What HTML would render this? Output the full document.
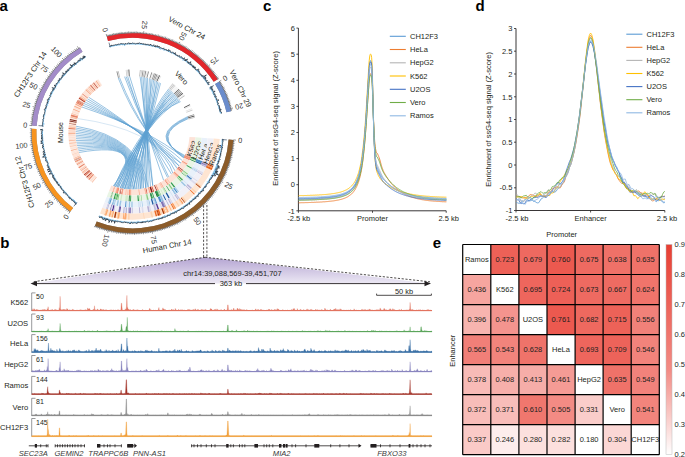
<!DOCTYPE html><html><head><meta charset="utf-8"><style>html,body{margin:0;padding:0;background:#fff;overflow:hidden}svg{display:block}text{font-family:"Liberation Sans",sans-serif}</style></head><body>
<svg width="685" height="457" viewBox="0 0 685 457">
<rect width="685" height="457" fill="#fff"/>
<text x="-0.6" y="10.9" font-size="15" text-anchor="start" fill="#000" font-weight="bold">a</text>
<text x="263.0" y="10.8" font-size="15" text-anchor="start" fill="#000" font-weight="bold">c</text>
<text x="475.6" y="11.1" font-size="15" text-anchor="start" fill="#000" font-weight="bold">d</text>
<text x="0.2" y="248.1" font-size="15" text-anchor="start" fill="#000" font-weight="bold">b</text>
<text x="432.8" y="248.2" font-size="15" text-anchor="start" fill="#000" font-weight="bold">e</text>
<path d="M298.4,28.1 V210.8 H446.2" stroke="#231f20" stroke-width="0.9" fill="none"/>
<line x1="296.4" y1="210.8" x2="298.4" y2="210.8" stroke="#231f20" stroke-width="0.8"/>
<text x="294.8" y="213.5" font-size="7.5" text-anchor="end" fill="#231f20">-1</text>
<line x1="296.4" y1="184.7" x2="298.4" y2="184.7" stroke="#231f20" stroke-width="0.8"/>
<text x="294.8" y="187.4" font-size="7.5" text-anchor="end" fill="#231f20">0</text>
<line x1="296.4" y1="158.6" x2="298.4" y2="158.6" stroke="#231f20" stroke-width="0.8"/>
<text x="294.8" y="161.3" font-size="7.5" text-anchor="end" fill="#231f20">1</text>
<line x1="296.4" y1="132.5" x2="298.4" y2="132.5" stroke="#231f20" stroke-width="0.8"/>
<text x="294.8" y="135.2" font-size="7.5" text-anchor="end" fill="#231f20">2</text>
<line x1="296.4" y1="106.4" x2="298.4" y2="106.4" stroke="#231f20" stroke-width="0.8"/>
<text x="294.8" y="109.1" font-size="7.5" text-anchor="end" fill="#231f20">3</text>
<line x1="296.4" y1="80.3" x2="298.4" y2="80.3" stroke="#231f20" stroke-width="0.8"/>
<text x="294.8" y="83.0" font-size="7.5" text-anchor="end" fill="#231f20">4</text>
<line x1="296.4" y1="54.2" x2="298.4" y2="54.2" stroke="#231f20" stroke-width="0.8"/>
<text x="294.8" y="56.9" font-size="7.5" text-anchor="end" fill="#231f20">5</text>
<line x1="296.4" y1="28.1" x2="298.4" y2="28.1" stroke="#231f20" stroke-width="0.8"/>
<text x="294.8" y="30.8" font-size="7.5" text-anchor="end" fill="#231f20">6</text>
<line x1="298.4" y1="210.8" x2="298.4" y2="212.8" stroke="#231f20" stroke-width="0.8"/>
<line x1="372.5" y1="210.8" x2="372.5" y2="212.8" stroke="#231f20" stroke-width="0.8"/>
<line x1="446.2" y1="210.8" x2="446.2" y2="212.8" stroke="#231f20" stroke-width="0.8"/>
<text x="298.8" y="221.0" font-size="7.5" text-anchor="middle" fill="#231f20">-2.5 kb</text>
<text x="372.5" y="221.0" font-size="7.5" text-anchor="middle" fill="#231f20">Promoter</text>
<text x="448.6" y="221.0" font-size="7.5" text-anchor="middle" fill="#231f20">2.5 kb</text>
<text x="278.2" y="118.4" font-size="7.5" text-anchor="middle" fill="#231f20" transform="rotate(-90.0 278.2 118.4)">Enrichment of ssG4-seq signal (Z-score)</text>
<line x1="389.8" y1="36.3" x2="405.8" y2="36.3" stroke="#5b9bd5" stroke-width="1.1"/>
<text x="410.0" y="38.9" font-size="7.5" text-anchor="start" fill="#231f20">CH12F3</text>
<line x1="389.8" y1="49.5" x2="405.8" y2="49.5" stroke="#ed7d31" stroke-width="1.1"/>
<text x="410.0" y="52.1" font-size="7.5" text-anchor="start" fill="#231f20">HeLa</text>
<line x1="389.8" y1="62.8" x2="405.8" y2="62.8" stroke="#b5b5b5" stroke-width="1.1"/>
<text x="410.0" y="65.4" font-size="7.5" text-anchor="start" fill="#231f20">HepG2</text>
<line x1="389.8" y1="76.0" x2="405.8" y2="76.0" stroke="#ffc000" stroke-width="1.1"/>
<text x="410.0" y="78.7" font-size="7.5" text-anchor="start" fill="#231f20">K562</text>
<line x1="389.8" y1="89.3" x2="405.8" y2="89.3" stroke="#4472c4" stroke-width="1.1"/>
<text x="410.0" y="91.9" font-size="7.5" text-anchor="start" fill="#231f20">U2OS</text>
<line x1="389.8" y1="102.5" x2="405.8" y2="102.5" stroke="#70ad47" stroke-width="1.1"/>
<text x="410.0" y="105.2" font-size="7.5" text-anchor="start" fill="#231f20">Vero</text>
<line x1="389.8" y1="115.8" x2="405.8" y2="115.8" stroke="#8fb8e3" stroke-width="1.1"/>
<text x="410.0" y="118.4" font-size="7.5" text-anchor="start" fill="#231f20">Ramos</text>
<polyline points="298.6,198.3 298.9,198.3 299.2,198.3 299.5,198.3 299.8,198.3 300.1,198.3 300.4,198.3 300.7,198.2 301.0,198.2 301.3,198.2 301.6,198.2 301.9,198.2 302.1,198.2 302.4,198.2 302.7,198.2 303.0,198.2 303.3,198.2 303.6,198.2 303.9,198.2 304.2,198.2 304.5,198.2 304.8,198.2 305.1,198.1 305.4,198.1 305.7,198.1 306.0,198.1 306.3,198.1 306.6,198.1 306.9,198.1 307.2,198.1 307.5,198.1 307.8,198.1 308.1,198.1 308.4,198.1 308.6,198.0 308.9,198.0 309.2,198.0 309.5,198.0 309.8,198.0 310.1,198.0 310.4,198.0 310.7,198.0 311.0,197.9 311.3,197.9 311.6,197.9 311.9,197.9 312.2,197.9 312.5,197.9 312.8,197.9 313.1,197.9 313.4,197.9 313.7,197.8 314.0,197.8 314.3,197.8 314.6,197.8 314.9,197.8 315.1,197.8 315.4,197.8 315.7,197.8 316.0,197.7 316.3,197.7 316.6,197.7 316.9,197.7 317.2,197.7 317.5,197.7 317.8,197.7 318.1,197.6 318.4,197.6 318.7,197.6 319.0,197.6 319.3,197.6 319.6,197.6 319.9,197.5 320.2,197.5 320.5,197.5 320.8,197.5 321.1,197.5 321.4,197.4 321.7,197.4 321.9,197.4 322.2,197.4 322.5,197.4 322.8,197.3 323.1,197.3 323.4,197.3 323.7,197.3 324.0,197.3 324.3,197.2 324.6,197.2 324.9,197.2 325.2,197.2 325.5,197.1 325.8,197.1 326.1,197.1 326.4,197.1 326.7,197.0 327.0,197.0 327.3,197.0 327.6,197.0 327.9,196.9 328.2,196.9 328.5,196.9 328.8,196.8 329.1,196.8 329.3,196.8 329.6,196.7 329.9,196.7 330.2,196.7 330.5,196.6 330.8,196.6 331.1,196.6 331.4,196.5 331.7,196.5 332.0,196.4 332.3,196.4 332.6,196.4 332.9,196.3 333.2,196.3 333.5,196.2 333.8,196.2 334.1,196.2 334.4,196.1 334.7,196.1 335.0,196.0 335.2,196.0 335.6,195.9 335.9,195.9 336.1,195.8 336.4,195.8 336.7,195.7 337.0,195.6 337.3,195.6 337.6,195.5 337.9,195.4 338.2,195.4 338.5,195.3 338.8,195.2 339.1,195.2 339.4,195.1 339.7,195.0 340.0,195.0 340.3,194.9 340.6,194.8 340.9,194.7 341.2,194.6 341.5,194.5 341.8,194.4 342.1,194.4 342.4,194.3 342.6,194.2 342.9,194.1 343.2,193.9 343.5,193.8 343.8,193.7 344.1,193.6 344.4,193.5 344.7,193.4 345.0,193.2 345.3,193.1 345.6,193.0 345.9,192.8 346.2,192.7 346.5,192.6 346.8,192.4 347.1,192.2 347.4,192.1 347.7,191.9 348.0,191.7 348.3,191.5 348.6,191.3 348.9,191.1 349.1,190.9 349.4,190.7 349.7,190.5 350.0,190.2 350.3,190.0 350.6,189.7 350.9,189.5 351.2,189.2 351.5,188.9 351.8,188.6 352.1,188.3 352.4,188.0 352.7,187.6 353.0,187.3 353.3,186.9 353.6,186.5 353.9,186.1 354.2,185.7 354.5,185.2 354.8,184.8 355.1,184.2 355.4,183.7 355.6,183.2 355.9,182.6 356.2,182.0 356.5,181.4 356.8,180.7 357.1,180.0 357.4,179.2 357.7,178.4 358.0,177.6 358.3,176.7 358.6,175.8 358.9,174.8 359.2,173.7 359.5,172.6 359.8,171.4 360.1,170.1 360.4,168.8 360.7,167.3 361.0,165.8 361.3,164.2 361.6,162.4 361.9,160.6 362.1,158.6 362.4,156.5 362.8,154.2 363.0,151.8 363.3,149.3 363.6,146.5 363.9,143.6 364.2,140.5 364.5,137.2 364.8,133.6 365.1,129.9 365.4,125.9 365.7,121.8 366.0,117.4 366.3,112.9 366.6,108.1 366.9,103.3 367.2,98.3 367.5,93.3 367.8,88.4 368.1,83.5 368.4,78.9 368.7,74.6 368.9,70.6 369.2,67.2 369.5,64.5 369.8,62.4 370.1,61.1 370.4,60.7 370.7,60.7 371.0,60.9 371.3,61.6 371.6,63.5 371.9,67.2 372.2,73.5 372.5,82.2 372.8,93.0 373.1,104.7 373.4,116.2 373.7,126.6 374.0,135.6 374.3,142.9 374.6,148.7 374.9,153.3 375.2,157.0 375.5,159.8 375.8,162.0 376.1,163.7 376.3,165.1 376.6,166.2 376.9,167.1 377.2,167.8 377.5,168.4 377.8,169.3 378.1,170.2 378.4,170.9 378.7,171.6 379.0,172.3 379.3,172.9 379.6,173.5 379.9,174.0 380.2,174.5 380.5,175.0 380.8,175.5 381.1,176.0 381.4,176.4 381.7,176.8 382.0,177.2 382.2,177.6 382.6,178.0 382.9,178.4 383.1,178.8 383.4,179.1 383.7,179.5 384.0,179.8 384.3,180.2 384.6,180.5 384.9,180.8 385.2,181.1 385.5,181.4 385.8,181.7 386.1,182.0 386.4,182.3 386.7,182.6 387.0,182.9 387.3,183.1 387.6,183.4 387.9,183.7 388.2,183.9 388.5,184.2 388.8,184.4 389.1,184.7 389.4,184.9 389.6,185.2 389.9,185.4 390.2,185.6 390.5,185.8 390.8,186.1 391.1,186.3 391.4,186.5 391.7,186.7 392.0,186.9 392.3,187.1 392.6,187.3 392.9,187.5 393.2,187.7 393.5,187.9 393.8,188.1 394.1,188.2 394.4,188.4 394.7,188.6 395.0,188.8 395.3,188.9 395.6,189.1 395.9,189.3 396.1,189.4 396.4,189.6 396.7,189.8 397.0,189.9 397.3,190.1 397.6,190.2 397.9,190.4 398.2,190.5 398.5,190.7 398.8,190.8 399.1,190.9 399.4,191.1 399.7,191.2 400.0,191.3 400.3,191.4 400.6,191.6 400.9,191.7 401.2,191.8 401.5,191.9 401.8,192.1 402.1,192.2 402.4,192.3 402.6,192.4 402.9,192.5 403.2,192.6 403.5,192.7 403.8,192.8 404.1,192.9 404.4,193.0 404.7,193.1 405.0,193.2 405.3,193.3 405.6,193.4 405.9,193.5 406.2,193.6 406.5,193.7 406.8,193.8 407.1,193.9 407.4,194.0 407.7,194.0 408.0,194.1 408.3,194.2 408.6,194.3 408.9,194.4 409.1,194.4 409.4,194.5 409.8,194.6 410.0,194.7 410.3,194.7 410.6,194.8 410.9,194.9 411.2,194.9 411.5,195.0 411.8,195.1 412.1,195.2 412.4,195.2 412.7,195.3 413.0,195.3 413.3,195.4 413.6,195.5 413.9,195.5 414.2,195.6 414.5,195.6 414.8,195.7 415.1,195.8 415.4,195.8 415.7,195.9 415.9,195.9 416.2,196.0 416.5,196.0 416.8,196.1 417.1,196.1 417.4,196.2 417.7,196.2 418.0,196.3 418.3,196.3 418.6,196.3 418.9,196.4 419.2,196.4 419.5,196.5 419.8,196.5 420.1,196.6 420.4,196.6 420.7,196.7 421.0,196.7 421.3,196.7 421.6,196.8 421.9,196.8 422.2,196.8 422.5,196.9 422.8,196.9 423.1,196.9 423.3,197.0 423.6,197.0 423.9,197.1 424.2,197.1 424.5,197.1 424.8,197.2 425.1,197.2 425.4,197.2 425.7,197.2 426.0,197.3 426.3,197.3 426.6,197.3 426.9,197.4 427.2,197.4 427.5,197.4 427.8,197.4 428.1,197.5 428.4,197.5 428.7,197.5 429.0,197.6 429.3,197.6 429.6,197.6 429.9,197.6 430.1,197.6 430.4,197.7 430.7,197.7 431.0,197.7 431.3,197.7 431.6,197.8 431.9,197.8 432.2,197.8 432.5,197.8 432.8,197.8 433.1,197.9 433.4,197.9 433.7,197.9 434.0,197.9 434.3,197.9 434.6,198.0 434.9,198.0 435.2,198.0 435.5,198.0 435.8,198.0 436.1,198.0 436.4,198.1 436.6,198.1 436.9,198.1 437.2,198.1 437.5,198.1 437.8,198.1 438.1,198.2 438.4,198.2 438.7,198.2 439.0,198.2 439.3,198.2 439.6,198.2 439.9,198.2 440.2,198.2 440.5,198.3 440.8,198.3 441.1,198.3 441.4,198.3 441.7,198.3 442.0,198.3 442.3,198.3 442.6,198.3 442.9,198.4 443.1,198.4 443.4,198.4 443.7,198.4 444.0,198.4 444.3,198.4 444.6,198.4 444.9,198.4 445.2,198.4 445.5,198.5 445.8,198.5 446.1,198.5 446.4,198.5" fill="none" stroke="#5b9bd5" stroke-width="0.9"/>
<polyline points="298.6,202.8 298.9,202.8 299.2,202.8 299.5,202.8 299.8,202.8 300.1,202.8 300.4,202.8 300.7,202.7 301.0,202.7 301.3,202.7 301.6,202.7 301.9,202.7 302.1,202.7 302.4,202.7 302.7,202.7 303.0,202.7 303.3,202.7 303.6,202.7 303.9,202.7 304.2,202.7 304.5,202.7 304.8,202.6 305.1,202.6 305.4,202.6 305.7,202.6 306.0,202.6 306.3,202.6 306.6,202.6 306.9,202.6 307.2,202.6 307.5,202.6 307.8,202.6 308.1,202.6 308.4,202.6 308.6,202.5 308.9,202.5 309.2,202.5 309.5,202.5 309.8,202.5 310.1,202.5 310.4,202.5 310.7,202.5 311.0,202.5 311.3,202.4 311.6,202.4 311.9,202.4 312.2,202.4 312.5,202.4 312.8,202.4 313.1,202.4 313.4,202.4 313.7,202.4 314.0,202.3 314.3,202.3 314.6,202.3 314.9,202.3 315.1,202.3 315.4,202.3 315.7,202.3 316.0,202.3 316.3,202.2 316.6,202.2 316.9,202.2 317.2,202.2 317.5,202.2 317.8,202.2 318.1,202.2 318.4,202.2 318.7,202.1 319.0,202.1 319.3,202.1 319.6,202.1 319.9,202.1 320.2,202.1 320.5,202.0 320.8,202.0 321.1,202.0 321.4,202.0 321.7,202.0 321.9,201.9 322.2,201.9 322.5,201.9 322.8,201.9 323.1,201.9 323.4,201.8 323.7,201.8 324.0,201.8 324.3,201.8 324.6,201.8 324.9,201.7 325.2,201.7 325.5,201.7 325.8,201.7 326.1,201.7 326.4,201.6 326.7,201.6 327.0,201.6 327.3,201.6 327.6,201.5 327.9,201.5 328.2,201.5 328.5,201.4 328.8,201.4 329.1,201.4 329.3,201.3 329.6,201.3 329.9,201.3 330.2,201.3 330.5,201.2 330.8,201.2 331.1,201.2 331.4,201.1 331.7,201.1 332.0,201.1 332.3,201.0 332.6,201.0 332.9,200.9 333.2,200.9 333.5,200.9 333.8,200.8 334.1,200.8 334.4,200.7 334.7,200.7 335.0,200.6 335.2,200.6 335.6,200.5 335.9,200.5 336.1,200.4 336.4,200.4 336.7,200.3 337.0,200.3 337.3,200.2 337.6,200.2 337.9,200.1 338.2,200.1 338.5,200.0 338.8,199.9 339.1,199.9 339.4,199.8 339.7,199.7 340.0,199.7 340.3,199.6 340.6,199.5 340.9,199.4 341.2,199.3 341.5,199.3 341.8,199.2 342.1,199.1 342.4,199.0 342.6,198.9 342.9,198.8 343.2,198.7 343.5,198.6 343.8,198.5 344.1,198.4 344.4,198.3 344.7,198.2 345.0,198.1 345.3,197.9 345.6,197.8 345.9,197.7 346.2,197.5 346.5,197.4 346.8,197.2 347.1,197.1 347.4,196.9 347.7,196.8 348.0,196.6 348.3,196.4 348.6,196.2 348.9,196.1 349.1,195.9 349.4,195.7 349.7,195.4 350.0,195.2 350.3,195.0 350.6,194.8 350.9,194.5 351.2,194.2 351.5,194.0 351.8,193.7 352.1,193.4 352.4,193.1 352.7,192.8 353.0,192.4 353.3,192.1 353.6,191.7 353.9,191.3 354.2,190.9 354.5,190.5 354.8,190.1 355.1,189.6 355.4,189.1 355.6,188.6 355.9,188.1 356.2,187.5 356.5,186.9 356.8,186.3 357.1,185.6 357.4,184.9 357.7,184.2 358.0,183.4 358.3,182.5 358.6,181.7 358.9,180.7 359.2,179.7 359.5,178.7 359.8,177.6 360.1,176.4 360.4,175.1 360.7,173.8 361.0,172.3 361.3,170.8 361.6,169.2 361.9,167.4 362.1,165.6 362.4,163.6 362.8,161.5 363.0,159.2 363.3,156.8 363.6,154.2 363.9,151.5 364.2,148.6 364.5,145.4 364.8,142.1 365.1,138.6 365.4,134.9 365.7,131.0 366.0,126.9 366.3,122.7 366.6,118.2 366.9,113.7 367.2,109.0 367.5,104.4 367.8,99.7 368.1,95.2 368.4,90.8 368.7,86.8 368.9,83.1 369.2,79.9 369.5,77.3 369.8,75.4 370.1,74.2 370.4,73.8 370.7,73.8 371.0,73.9 371.3,74.5 371.6,75.9 371.9,78.7 372.2,83.4 372.5,90.0 372.8,98.1 373.1,107.0 373.4,115.7 373.7,123.5 374.0,130.3 374.3,135.8 374.6,140.2 374.9,143.7 375.2,146.4 375.5,148.5 375.8,150.1 376.1,151.3 376.3,152.2 376.6,152.9 376.9,153.3 377.2,153.5 377.5,153.6 377.8,154.4 378.1,155.1 378.4,155.8 378.7,156.5 379.0,157.3 379.3,158.1 379.6,159.0 379.9,160.0 380.2,161.1 380.5,162.2 380.8,163.3 381.1,164.4 381.4,165.5 381.7,166.5 382.0,167.4 382.2,168.3 382.6,169.0 382.9,169.8 383.1,170.4 383.4,171.1 383.7,171.7 384.0,172.3 384.3,172.8 384.6,173.4 384.9,173.9 385.2,174.5 385.5,175.0 385.8,175.5 386.1,176.0 386.4,176.5 386.7,177.0 387.0,177.4 387.3,177.9 387.6,178.3 387.9,178.8 388.2,179.2 388.5,179.7 388.8,180.1 389.1,180.5 389.4,180.9 389.6,181.3 389.9,181.7 390.2,182.0 390.5,182.4 390.8,182.8 391.1,183.1 391.4,183.5 391.7,183.8 392.0,184.2 392.3,184.5 392.6,184.8 392.9,185.2 393.2,185.5 393.5,185.8 393.8,186.1 394.1,186.4 394.4,186.7 394.7,187.0 395.0,187.2 395.3,187.5 395.6,187.8 395.9,188.1 396.1,188.3 396.4,188.6 396.7,188.8 397.0,189.1 397.3,189.3 397.6,189.6 397.9,189.8 398.2,190.0 398.5,190.3 398.8,190.5 399.1,190.7 399.4,190.9 399.7,191.1 400.0,191.3 400.3,191.5 400.6,191.7 400.9,191.9 401.2,192.1 401.5,192.3 401.8,192.5 402.1,192.7 402.4,192.9 402.6,193.0 402.9,193.2 403.2,193.4 403.5,193.5 403.8,193.7 404.1,193.9 404.4,194.0 404.7,194.2 405.0,194.3 405.3,194.5 405.6,194.6 405.9,194.8 406.2,194.9 406.5,195.0 406.8,195.2 407.1,195.3 407.4,195.4 407.7,195.6 408.0,195.7 408.3,195.8 408.6,195.9 408.9,196.1 409.1,196.2 409.4,196.3 409.8,196.4 410.0,196.5 410.3,196.6 410.6,196.7 410.9,196.8 411.2,196.9 411.5,197.0 411.8,197.1 412.1,197.2 412.4,197.3 412.7,197.4 413.0,197.5 413.3,197.6 413.6,197.7 413.9,197.8 414.2,197.8 414.5,197.9 414.8,198.0 415.1,198.1 415.4,198.2 415.7,198.3 415.9,198.3 416.2,198.4 416.5,198.5 416.8,198.6 417.1,198.6 417.4,198.7 417.7,198.8 418.0,198.8 418.3,198.9 418.6,199.0 418.9,199.0 419.2,199.1 419.5,199.2 419.8,199.2 420.1,199.3 420.4,199.3 420.7,199.4 421.0,199.4 421.3,199.5 421.6,199.6 421.9,199.6 422.2,199.7 422.5,199.7 422.8,199.8 423.1,199.8 423.3,199.8 423.6,199.9 423.9,199.9 424.2,200.0 424.5,200.0 424.8,200.1 425.1,200.1 425.4,200.2 425.7,200.2 426.0,200.2 426.3,200.3 426.6,200.3 426.9,200.4 427.2,200.4 427.5,200.4 427.8,200.5 428.1,200.5 428.4,200.6 428.7,200.6 429.0,200.6 429.3,200.7 429.6,200.7 429.9,200.7 430.1,200.7 430.4,200.8 430.7,200.8 431.0,200.8 431.3,200.9 431.6,200.9 431.9,200.9 432.2,200.9 432.5,201.0 432.8,201.0 433.1,201.0 433.4,201.1 433.7,201.1 434.0,201.1 434.3,201.1 434.6,201.2 434.9,201.2 435.2,201.2 435.5,201.2 435.8,201.2 436.1,201.3 436.4,201.3 436.6,201.3 436.9,201.3 437.2,201.3 437.5,201.4 437.8,201.4 438.1,201.4 438.4,201.4 438.7,201.4 439.0,201.5 439.3,201.5 439.6,201.5 439.9,201.5 440.2,201.5 440.5,201.6 440.8,201.6 441.1,201.6 441.4,201.6 441.7,201.6 442.0,201.6 442.3,201.7 442.6,201.7 442.9,201.7 443.1,201.7 443.4,201.7 443.7,201.7 444.0,201.7 444.3,201.7 444.6,201.8 444.9,201.8 445.2,201.8 445.5,201.8 445.8,201.8 446.1,201.8 446.4,201.8" fill="none" stroke="#ed7d31" stroke-width="0.9"/>
<polyline points="298.6,200.2 298.9,200.2 299.2,200.1 299.5,200.1 299.8,200.1 300.1,200.1 300.4,200.1 300.7,200.1 301.0,200.1 301.3,200.1 301.6,200.1 301.9,200.1 302.1,200.1 302.4,200.1 302.7,200.1 303.0,200.1 303.3,200.1 303.6,200.0 303.9,200.0 304.2,200.0 304.5,200.0 304.8,200.0 305.1,200.0 305.4,200.0 305.7,200.0 306.0,200.0 306.3,200.0 306.6,200.0 306.9,199.9 307.2,199.9 307.5,199.9 307.8,199.9 308.1,199.9 308.4,199.9 308.6,199.9 308.9,199.9 309.2,199.9 309.5,199.9 309.8,199.9 310.1,199.8 310.4,199.8 310.7,199.8 311.0,199.8 311.3,199.8 311.6,199.8 311.9,199.8 312.2,199.8 312.5,199.8 312.8,199.8 313.1,199.7 313.4,199.7 313.7,199.7 314.0,199.7 314.3,199.7 314.6,199.7 314.9,199.7 315.1,199.7 315.4,199.6 315.7,199.6 316.0,199.6 316.3,199.6 316.6,199.6 316.9,199.6 317.2,199.6 317.5,199.5 317.8,199.5 318.1,199.5 318.4,199.5 318.7,199.5 319.0,199.5 319.3,199.4 319.6,199.4 319.9,199.4 320.2,199.4 320.5,199.4 320.8,199.4 321.1,199.3 321.4,199.3 321.7,199.3 321.9,199.3 322.2,199.3 322.5,199.2 322.8,199.2 323.1,199.2 323.4,199.2 323.7,199.2 324.0,199.2 324.3,199.1 324.6,199.1 324.9,199.1 325.2,199.1 325.5,199.0 325.8,199.0 326.1,199.0 326.4,199.0 326.7,198.9 327.0,198.9 327.3,198.9 327.6,198.8 327.9,198.8 328.2,198.8 328.5,198.8 328.8,198.7 329.1,198.7 329.3,198.7 329.6,198.7 329.9,198.6 330.2,198.6 330.5,198.6 330.8,198.5 331.1,198.5 331.4,198.4 331.7,198.4 332.0,198.4 332.3,198.3 332.6,198.3 332.9,198.2 333.2,198.2 333.5,198.2 333.8,198.1 334.1,198.1 334.4,198.0 334.7,198.0 335.0,197.9 335.2,197.9 335.6,197.8 335.9,197.8 336.1,197.7 336.4,197.7 336.7,197.6 337.0,197.6 337.3,197.5 337.6,197.5 337.9,197.4 338.2,197.3 338.5,197.3 338.8,197.2 339.1,197.1 339.4,197.1 339.7,197.0 340.0,196.9 340.3,196.8 340.6,196.8 340.9,196.7 341.2,196.6 341.5,196.5 341.8,196.4 342.1,196.3 342.4,196.2 342.6,196.2 342.9,196.1 343.2,196.0 343.5,195.8 343.8,195.7 344.1,195.6 344.4,195.5 344.7,195.4 345.0,195.3 345.3,195.2 345.6,195.0 345.9,194.9 346.2,194.7 346.5,194.6 346.8,194.4 347.1,194.3 347.4,194.1 347.7,194.0 348.0,193.8 348.3,193.6 348.6,193.4 348.9,193.2 349.1,193.0 349.4,192.8 349.7,192.6 350.0,192.4 350.3,192.1 350.6,191.9 350.9,191.6 351.2,191.4 351.5,191.1 351.8,190.8 352.1,190.5 352.4,190.2 352.7,189.8 353.0,189.5 353.3,189.1 353.6,188.8 353.9,188.4 354.2,187.9 354.5,187.5 354.8,187.1 355.1,186.6 355.4,186.1 355.6,185.6 355.9,185.0 356.2,184.4 356.5,183.8 356.8,183.1 357.1,182.4 357.4,181.7 357.7,181.0 358.0,180.2 358.3,179.3 358.6,178.4 358.9,177.4 359.2,176.4 359.5,175.3 359.8,174.2 360.1,172.9 360.4,171.6 360.7,170.2 361.0,168.8 361.3,167.2 361.6,165.5 361.9,163.7 362.1,161.8 362.4,159.8 362.8,157.6 363.0,155.3 363.3,152.8 363.6,150.1 363.9,147.3 364.2,144.3 364.5,141.1 364.8,137.7 365.1,134.1 365.4,130.2 365.7,126.2 366.0,122.0 366.3,117.6 366.6,113.1 366.9,108.4 367.2,103.6 367.5,98.8 367.8,94.0 368.1,89.3 368.4,84.8 368.7,80.6 368.9,76.8 369.2,73.5 369.5,70.9 369.8,68.9 370.1,67.7 370.4,67.2 370.7,67.3 371.0,67.4 371.3,68.1 371.6,69.8 371.9,73.2 372.2,78.9 372.5,87.0 372.8,96.8 373.1,107.6 373.4,118.1 373.7,127.7 374.0,135.9 374.3,142.6 374.6,148.0 374.9,152.2 375.2,155.5 375.5,158.1 375.8,160.1 376.1,161.7 376.3,162.9 376.6,163.8 376.9,164.5 377.2,165.1 377.5,165.4 377.8,166.2 378.1,167.0 378.4,167.7 378.7,168.3 379.0,168.9 379.3,169.6 379.6,170.3 379.9,170.9 380.2,171.6 380.5,172.3 380.8,173.0 381.1,173.7 381.4,174.3 381.7,175.0 382.0,175.5 382.2,176.1 382.6,176.6 382.9,177.1 383.1,177.5 383.4,177.9 383.7,178.3 384.0,178.8 384.3,179.1 384.6,179.5 384.9,179.9 385.2,180.2 385.5,180.6 385.8,181.0 386.1,181.3 386.4,181.6 386.7,182.0 387.0,182.3 387.3,182.6 387.6,182.9 387.9,183.2 388.2,183.5 388.5,183.8 388.8,184.1 389.1,184.4 389.4,184.7 389.6,184.9 389.9,185.2 390.2,185.5 390.5,185.7 390.8,186.0 391.1,186.2 391.4,186.5 391.7,186.7 392.0,186.9 392.3,187.2 392.6,187.4 392.9,187.6 393.2,187.8 393.5,188.1 393.8,188.3 394.1,188.5 394.4,188.7 394.7,188.9 395.0,189.1 395.3,189.3 395.6,189.5 395.9,189.7 396.1,189.8 396.4,190.0 396.7,190.2 397.0,190.4 397.3,190.6 397.6,190.7 397.9,190.9 398.2,191.1 398.5,191.2 398.8,191.4 399.1,191.5 399.4,191.7 399.7,191.8 400.0,192.0 400.3,192.1 400.6,192.3 400.9,192.4 401.2,192.5 401.5,192.7 401.8,192.8 402.1,192.9 402.4,193.1 402.6,193.2 402.9,193.3 403.2,193.4 403.5,193.6 403.8,193.7 404.1,193.8 404.4,193.9 404.7,194.0 405.0,194.1 405.3,194.2 405.6,194.3 405.9,194.4 406.2,194.5 406.5,194.6 406.8,194.7 407.1,194.8 407.4,194.9 407.7,195.0 408.0,195.1 408.3,195.2 408.6,195.3 408.9,195.4 409.1,195.5 409.4,195.6 409.8,195.6 410.0,195.7 410.3,195.8 410.6,195.9 410.9,195.9 411.2,196.0 411.5,196.1 411.8,196.2 412.1,196.2 412.4,196.3 412.7,196.4 413.0,196.5 413.3,196.5 413.6,196.6 413.9,196.7 414.2,196.7 414.5,196.8 414.8,196.8 415.1,196.9 415.4,197.0 415.7,197.0 415.9,197.1 416.2,197.1 416.5,197.2 416.8,197.2 417.1,197.3 417.4,197.3 417.7,197.4 418.0,197.5 418.3,197.5 418.6,197.6 418.9,197.6 419.2,197.7 419.5,197.7 419.8,197.7 420.1,197.8 420.4,197.8 420.7,197.9 421.0,197.9 421.3,198.0 421.6,198.0 421.9,198.0 422.2,198.1 422.5,198.1 422.8,198.2 423.1,198.2 423.3,198.2 423.6,198.3 423.9,198.3 424.2,198.3 424.5,198.4 424.8,198.4 425.1,198.4 425.4,198.5 425.7,198.5 426.0,198.5 426.3,198.6 426.6,198.6 426.9,198.6 427.2,198.7 427.5,198.7 427.8,198.7 428.1,198.8 428.4,198.8 428.7,198.8 429.0,198.8 429.3,198.9 429.6,198.9 429.9,198.9 430.1,198.9 430.4,199.0 430.7,199.0 431.0,199.0 431.3,199.0 431.6,199.1 431.9,199.1 432.2,199.1 432.5,199.1 432.8,199.1 433.1,199.2 433.4,199.2 433.7,199.2 434.0,199.2 434.3,199.2 434.6,199.3 434.9,199.3 435.2,199.3 435.5,199.3 435.8,199.3 436.1,199.3 436.4,199.4 436.6,199.4 436.9,199.4 437.2,199.4 437.5,199.4 437.8,199.4 438.1,199.5 438.4,199.5 438.7,199.5 439.0,199.5 439.3,199.5 439.6,199.5 439.9,199.6 440.2,199.6 440.5,199.6 440.8,199.6 441.1,199.6 441.4,199.6 441.7,199.6 442.0,199.7 442.3,199.7 442.6,199.7 442.9,199.7 443.1,199.7 443.4,199.7 443.7,199.7 444.0,199.7 444.3,199.7 444.6,199.8 444.9,199.8 445.2,199.8 445.5,199.8 445.8,199.8 446.1,199.8 446.4,199.8" fill="none" stroke="#b5b5b5" stroke-width="0.9"/>
<polyline points="298.6,195.7 298.9,195.7 299.2,195.7 299.5,195.7 299.8,195.6 300.1,195.6 300.4,195.6 300.7,195.6 301.0,195.6 301.3,195.6 301.6,195.6 301.9,195.6 302.1,195.6 302.4,195.6 302.7,195.6 303.0,195.6 303.3,195.6 303.6,195.6 303.9,195.5 304.2,195.5 304.5,195.5 304.8,195.5 305.1,195.5 305.4,195.5 305.7,195.5 306.0,195.5 306.3,195.5 306.6,195.5 306.9,195.4 307.2,195.4 307.5,195.4 307.8,195.4 308.1,195.4 308.4,195.4 308.6,195.4 308.9,195.4 309.2,195.4 309.5,195.4 309.8,195.4 310.1,195.3 310.4,195.3 310.7,195.3 311.0,195.3 311.3,195.3 311.6,195.3 311.9,195.3 312.2,195.3 312.5,195.3 312.8,195.2 313.1,195.2 313.4,195.2 313.7,195.2 314.0,195.2 314.3,195.2 314.6,195.2 314.9,195.2 315.1,195.1 315.4,195.1 315.7,195.1 316.0,195.1 316.3,195.1 316.6,195.1 316.9,195.1 317.2,195.0 317.5,195.0 317.8,195.0 318.1,195.0 318.4,195.0 318.7,195.0 319.0,194.9 319.3,194.9 319.6,194.9 319.9,194.9 320.2,194.9 320.5,194.8 320.8,194.8 321.1,194.8 321.4,194.8 321.7,194.8 321.9,194.8 322.2,194.7 322.5,194.7 322.8,194.7 323.1,194.7 323.4,194.7 323.7,194.6 324.0,194.6 324.3,194.6 324.6,194.6 324.9,194.5 325.2,194.5 325.5,194.5 325.8,194.4 326.1,194.4 326.4,194.4 326.7,194.4 327.0,194.3 327.3,194.3 327.6,194.3 327.9,194.3 328.2,194.2 328.5,194.2 328.8,194.2 329.1,194.1 329.3,194.1 329.6,194.1 329.9,194.0 330.2,194.0 330.5,194.0 330.8,193.9 331.1,193.9 331.4,193.8 331.7,193.8 332.0,193.8 332.3,193.7 332.6,193.7 332.9,193.6 333.2,193.6 333.5,193.6 333.8,193.5 334.1,193.5 334.4,193.4 334.7,193.4 335.0,193.3 335.2,193.3 335.6,193.2 335.9,193.2 336.1,193.1 336.4,193.0 336.7,193.0 337.0,192.9 337.3,192.9 337.6,192.8 337.9,192.7 338.2,192.7 338.5,192.6 338.8,192.5 339.1,192.5 339.4,192.4 339.7,192.3 340.0,192.2 340.3,192.2 340.6,192.1 340.9,192.0 341.2,191.9 341.5,191.8 341.8,191.7 342.1,191.6 342.4,191.5 342.6,191.4 342.9,191.3 343.2,191.2 343.5,191.1 343.8,191.0 344.1,190.9 344.4,190.7 344.7,190.6 345.0,190.5 345.3,190.3 345.6,190.2 345.9,190.1 346.2,189.9 346.5,189.8 346.8,189.6 347.1,189.4 347.4,189.2 347.7,189.1 348.0,188.9 348.3,188.7 348.6,188.5 348.9,188.3 349.1,188.1 349.4,187.8 349.7,187.6 350.0,187.4 350.3,187.1 350.6,186.9 350.9,186.6 351.2,186.3 351.5,186.0 351.8,185.7 352.1,185.4 352.4,185.1 352.7,184.7 353.0,184.3 353.3,183.9 353.6,183.6 353.9,183.1 354.2,182.7 354.5,182.2 354.8,181.7 355.1,181.2 355.4,180.7 355.6,180.1 355.9,179.5 356.2,178.9 356.5,178.2 356.8,177.6 357.1,176.8 357.4,176.1 357.7,175.2 358.0,174.4 358.3,173.5 358.6,172.5 358.9,171.5 359.2,170.4 359.5,169.2 359.8,168.0 360.1,166.7 360.4,165.3 360.7,163.8 361.0,162.3 361.3,160.6 361.6,158.8 361.9,156.9 362.1,154.8 362.4,152.7 362.8,150.4 363.0,147.9 363.3,145.2 363.6,142.4 363.9,139.4 364.2,136.2 364.5,132.8 364.8,129.2 365.1,125.3 365.4,121.3 365.7,117.0 366.0,112.5 366.3,107.8 366.6,103.0 366.9,98.0 367.2,92.9 367.5,87.8 367.8,82.7 368.1,77.7 368.4,72.9 368.7,68.4 368.9,64.4 369.2,60.9 369.5,58.0 369.8,55.9 370.1,54.6 370.4,54.2 370.7,54.2 371.0,54.4 371.3,55.2 371.6,57.3 371.9,61.4 372.2,68.3 372.5,78.0 372.8,89.8 373.1,102.8 373.4,115.5 373.7,127.1 374.0,137.0 374.3,145.1 374.6,151.5 374.9,156.6 375.2,160.6 375.5,163.8 375.8,166.2 376.1,168.1 376.3,169.7 376.6,170.9 376.9,171.8 377.2,172.6 377.5,173.3 377.8,174.1 378.1,174.9 378.4,175.6 378.7,176.2 379.0,176.7 379.3,177.2 379.6,177.7 379.9,178.2 380.2,178.6 380.5,179.0 380.8,179.4 381.1,179.7 381.4,180.1 381.7,180.4 382.0,180.7 382.2,181.0 382.6,181.3 382.9,181.6 383.1,181.9 383.4,182.2 383.7,182.4 384.0,182.7 384.3,182.9 384.6,183.2 384.9,183.4 385.2,183.6 385.5,183.9 385.8,184.1 386.1,184.3 386.4,184.5 386.7,184.8 387.0,185.0 387.3,185.2 387.6,185.4 387.9,185.6 388.2,185.8 388.5,185.9 388.8,186.1 389.1,186.3 389.4,186.5 389.6,186.7 389.9,186.8 390.2,187.0 390.5,187.2 390.8,187.4 391.1,187.5 391.4,187.7 391.7,187.8 392.0,188.0 392.3,188.2 392.6,188.3 392.9,188.4 393.2,188.6 393.5,188.7 393.8,188.9 394.1,189.0 394.4,189.2 394.7,189.3 395.0,189.4 395.3,189.6 395.6,189.7 395.9,189.8 396.1,189.9 396.4,190.1 396.7,190.2 397.0,190.3 397.3,190.4 397.6,190.5 397.9,190.6 398.2,190.7 398.5,190.8 398.8,191.0 399.1,191.1 399.4,191.2 399.7,191.3 400.0,191.4 400.3,191.5 400.6,191.6 400.9,191.7 401.2,191.8 401.5,191.8 401.8,191.9 402.1,192.0 402.4,192.1 402.6,192.2 402.9,192.3 403.2,192.4 403.5,192.5 403.8,192.6 404.1,192.6 404.4,192.7 404.7,192.8 405.0,192.9 405.3,192.9 405.6,193.0 405.9,193.1 406.2,193.2 406.5,193.2 406.8,193.3 407.1,193.4 407.4,193.4 407.7,193.5 408.0,193.6 408.3,193.6 408.6,193.7 408.9,193.8 409.1,193.8 409.4,193.9 409.8,193.9 410.0,194.0 410.3,194.1 410.6,194.1 410.9,194.2 411.2,194.2 411.5,194.3 411.8,194.3 412.1,194.4 412.4,194.4 412.7,194.5 413.0,194.6 413.3,194.6 413.6,194.6 413.9,194.7 414.2,194.7 414.5,194.8 414.8,194.8 415.1,194.9 415.4,194.9 415.7,195.0 415.9,195.0 416.2,195.1 416.5,195.1 416.8,195.1 417.1,195.2 417.4,195.2 417.7,195.2 418.0,195.3 418.3,195.3 418.6,195.4 418.9,195.4 419.2,195.4 419.5,195.5 419.8,195.5 420.1,195.6 420.4,195.6 420.7,195.6 421.0,195.7 421.3,195.7 421.6,195.7 421.9,195.7 422.2,195.8 422.5,195.8 422.8,195.8 423.1,195.9 423.3,195.9 423.6,195.9 423.9,195.9 424.2,196.0 424.5,196.0 424.8,196.0 425.1,196.1 425.4,196.1 425.7,196.1 426.0,196.1 426.3,196.2 426.6,196.2 426.9,196.2 427.2,196.2 427.5,196.3 427.8,196.3 428.1,196.3 428.4,196.3 428.7,196.3 429.0,196.4 429.3,196.4 429.6,196.4 429.9,196.4 430.1,196.5 430.4,196.5 430.7,196.5 431.0,196.5 431.3,196.5 431.6,196.6 431.9,196.6 432.2,196.6 432.5,196.6 432.8,196.6 433.1,196.6 433.4,196.7 433.7,196.7 434.0,196.7 434.3,196.7 434.6,196.7 434.9,196.7 435.2,196.8 435.5,196.8 435.8,196.8 436.1,196.8 436.4,196.8 436.6,196.8 436.9,196.8 437.2,196.9 437.5,196.9 437.8,196.9 438.1,196.9 438.4,196.9 438.7,196.9 439.0,196.9 439.3,196.9 439.6,197.0 439.9,197.0 440.2,197.0 440.5,197.0 440.8,197.0 441.1,197.0 441.4,197.0 441.7,197.1 442.0,197.1 442.3,197.1 442.6,197.1 442.9,197.1 443.1,197.1 443.4,197.1 443.7,197.1 444.0,197.1 444.3,197.1 444.6,197.2 444.9,197.2 445.2,197.2 445.5,197.2 445.8,197.2 446.1,197.2 446.4,197.2" fill="none" stroke="#ffc000" stroke-width="0.9"/>
<polyline points="298.6,199.1 298.9,199.1 299.2,199.1 299.5,199.1 299.8,199.1 300.1,199.1 300.4,199.1 300.7,199.0 301.0,199.0 301.3,199.0 301.6,199.0 301.9,199.0 302.1,199.0 302.4,199.0 302.7,199.0 303.0,199.0 303.3,199.0 303.6,199.0 303.9,199.0 304.2,198.9 304.5,198.9 304.8,198.9 305.1,198.9 305.4,198.9 305.7,198.9 306.0,198.9 306.3,198.9 306.6,198.9 306.9,198.9 307.2,198.9 307.5,198.9 307.8,198.8 308.1,198.8 308.4,198.8 308.6,198.8 308.9,198.8 309.2,198.8 309.5,198.8 309.8,198.8 310.1,198.8 310.4,198.8 310.7,198.8 311.0,198.7 311.3,198.7 311.6,198.7 311.9,198.7 312.2,198.7 312.5,198.7 312.8,198.7 313.1,198.7 313.4,198.7 313.7,198.6 314.0,198.6 314.3,198.6 314.6,198.6 314.9,198.6 315.1,198.6 315.4,198.6 315.7,198.6 316.0,198.5 316.3,198.5 316.6,198.5 316.9,198.5 317.2,198.5 317.5,198.5 317.8,198.4 318.1,198.4 318.4,198.4 318.7,198.4 319.0,198.4 319.3,198.4 319.6,198.3 319.9,198.3 320.2,198.3 320.5,198.3 320.8,198.3 321.1,198.3 321.4,198.2 321.7,198.2 321.9,198.2 322.2,198.2 322.5,198.2 322.8,198.1 323.1,198.1 323.4,198.1 323.7,198.1 324.0,198.1 324.3,198.0 324.6,198.0 324.9,198.0 325.2,198.0 325.5,197.9 325.8,197.9 326.1,197.9 326.4,197.9 326.7,197.8 327.0,197.8 327.3,197.8 327.6,197.8 327.9,197.7 328.2,197.7 328.5,197.7 328.8,197.6 329.1,197.6 329.3,197.6 329.6,197.5 329.9,197.5 330.2,197.5 330.5,197.4 330.8,197.4 331.1,197.4 331.4,197.3 331.7,197.3 332.0,197.2 332.3,197.2 332.6,197.2 332.9,197.1 333.2,197.1 333.5,197.0 333.8,197.0 334.1,196.9 334.4,196.9 334.7,196.8 335.0,196.8 335.2,196.8 335.6,196.7 335.9,196.7 336.1,196.6 336.4,196.5 336.7,196.5 337.0,196.4 337.3,196.4 337.6,196.3 337.9,196.2 338.2,196.2 338.5,196.1 338.8,196.1 339.1,196.0 339.4,195.9 339.7,195.8 340.0,195.8 340.3,195.7 340.6,195.6 340.9,195.5 341.2,195.4 341.5,195.3 341.8,195.2 342.1,195.2 342.4,195.1 342.6,195.0 342.9,194.9 343.2,194.8 343.5,194.7 343.8,194.5 344.1,194.4 344.4,194.3 344.7,194.2 345.0,194.1 345.3,193.9 345.6,193.8 345.9,193.7 346.2,193.5 346.5,193.3 346.8,193.2 347.1,193.0 347.4,192.9 347.7,192.7 348.0,192.5 348.3,192.3 348.6,192.1 348.9,191.9 349.1,191.7 349.4,191.5 349.7,191.3 350.0,191.1 350.3,190.8 350.6,190.6 350.9,190.3 351.2,190.0 351.5,189.7 351.8,189.4 352.1,189.1 352.4,188.8 352.7,188.5 353.0,188.1 353.3,187.7 353.6,187.3 353.9,186.9 354.2,186.5 354.5,186.1 354.8,185.6 355.1,185.1 355.4,184.6 355.6,184.0 355.9,183.4 356.2,182.8 356.5,182.2 356.8,181.5 357.1,180.8 357.4,180.1 357.7,179.3 358.0,178.4 358.3,177.6 358.6,176.6 358.9,175.6 359.2,174.6 359.5,173.5 359.8,172.3 360.1,171.0 360.4,169.7 360.7,168.2 361.0,166.7 361.3,165.1 361.6,163.4 361.9,161.5 362.1,159.5 362.4,157.4 362.8,155.2 363.0,152.8 363.3,150.2 363.6,147.5 363.9,144.6 364.2,141.5 364.5,138.2 364.8,134.7 365.1,130.9 365.4,127.0 365.7,122.9 366.0,118.5 366.3,114.0 366.6,109.3 366.9,104.4 367.2,99.5 367.5,94.5 367.8,89.6 368.1,84.8 368.4,80.1 368.7,75.8 368.9,71.9 369.2,68.5 369.5,65.8 369.8,63.7 370.1,62.5 370.4,62.0 370.7,62.0 371.0,62.2 371.3,62.9 371.6,64.8 371.9,68.7 372.2,75.0 372.5,83.9 372.8,94.8 373.1,106.7 373.4,118.4 373.7,129.0 374.0,138.1 374.3,145.5 374.6,151.5 374.9,156.2 375.2,159.8 375.5,162.7 375.8,164.9 376.1,166.6 376.3,168.0 376.6,169.0 376.9,169.8 377.2,170.4 377.5,170.9 377.8,171.6 378.1,172.3 378.4,172.9 378.7,173.5 379.0,174.0 379.3,174.6 379.6,175.2 379.9,175.8 380.2,176.4 380.5,177.0 380.8,177.6 381.1,178.2 381.4,178.8 381.7,179.3 382.0,179.8 382.2,180.3 382.6,180.7 382.9,181.1 383.1,181.5 383.4,181.9 383.7,182.2 384.0,182.5 384.3,182.9 384.6,183.2 384.9,183.5 385.2,183.8 385.5,184.1 385.8,184.4 386.1,184.6 386.4,184.9 386.7,185.2 387.0,185.5 387.3,185.7 387.6,186.0 387.9,186.2 388.2,186.5 388.5,186.7 388.8,186.9 389.1,187.2 389.4,187.4 389.6,187.6 389.9,187.9 390.2,188.1 390.5,188.3 390.8,188.5 391.1,188.7 391.4,188.9 391.7,189.1 392.0,189.3 392.3,189.5 392.6,189.7 392.9,189.9 393.2,190.1 393.5,190.2 393.8,190.4 394.1,190.6 394.4,190.8 394.7,190.9 395.0,191.1 395.3,191.3 395.6,191.4 395.9,191.6 396.1,191.7 396.4,191.9 396.7,192.0 397.0,192.2 397.3,192.3 397.6,192.5 397.9,192.6 398.2,192.7 398.5,192.9 398.8,193.0 399.1,193.1 399.4,193.3 399.7,193.4 400.0,193.5 400.3,193.6 400.6,193.8 400.9,193.9 401.2,194.0 401.5,194.1 401.8,194.2 402.1,194.3 402.4,194.4 402.6,194.5 402.9,194.7 403.2,194.8 403.5,194.8 403.8,194.9 404.1,195.1 404.4,195.2 404.7,195.2 405.0,195.3 405.3,195.4 405.6,195.5 405.9,195.6 406.2,195.7 406.5,195.8 406.8,195.9 407.1,195.9 407.4,196.0 407.7,196.1 408.0,196.2 408.3,196.3 408.6,196.3 408.9,196.4 409.1,196.5 409.4,196.6 409.8,196.6 410.0,196.7 410.3,196.8 410.6,196.8 410.9,196.9 411.2,197.0 411.5,197.0 411.8,197.1 412.1,197.2 412.4,197.2 412.7,197.3 413.0,197.3 413.3,197.4 413.6,197.5 413.9,197.5 414.2,197.6 414.5,197.6 414.8,197.7 415.1,197.7 415.4,197.8 415.7,197.8 415.9,197.9 416.2,197.9 416.5,198.0 416.8,198.0 417.1,198.1 417.4,198.1 417.7,198.2 418.0,198.2 418.3,198.3 418.6,198.3 418.9,198.3 419.2,198.4 419.5,198.4 419.8,198.5 420.1,198.5 420.4,198.6 420.7,198.6 421.0,198.6 421.3,198.7 421.6,198.7 421.9,198.7 422.2,198.8 422.5,198.8 422.8,198.8 423.1,198.9 423.3,198.9 423.6,198.9 423.9,199.0 424.2,199.0 424.5,199.0 424.8,199.1 425.1,199.1 425.4,199.1 425.7,199.2 426.0,199.2 426.3,199.2 426.6,199.2 426.9,199.3 427.2,199.3 427.5,199.3 427.8,199.3 428.1,199.4 428.4,199.4 428.7,199.4 429.0,199.4 429.3,199.5 429.6,199.5 429.9,199.5 430.1,199.5 430.4,199.6 430.7,199.6 431.0,199.6 431.3,199.6 431.6,199.7 431.9,199.7 432.2,199.7 432.5,199.7 432.8,199.7 433.1,199.7 433.4,199.8 433.7,199.8 434.0,199.8 434.3,199.8 434.6,199.8 434.9,199.8 435.2,199.9 435.5,199.9 435.8,199.9 436.1,199.9 436.4,199.9 436.6,199.9 436.9,200.0 437.2,200.0 437.5,200.0 437.8,200.0 438.1,200.0 438.4,200.0 438.7,200.1 439.0,200.1 439.3,200.1 439.6,200.1 439.9,200.1 440.2,200.1 440.5,200.1 440.8,200.1 441.1,200.2 441.4,200.2 441.7,200.2 442.0,200.2 442.3,200.2 442.6,200.2 442.9,200.2 443.1,200.2 443.4,200.2 443.7,200.3 444.0,200.3 444.3,200.3 444.6,200.3 444.9,200.3 445.2,200.3 445.5,200.3 445.8,200.3 446.1,200.3 446.4,200.3" fill="none" stroke="#4472c4" stroke-width="0.9"/>
<polyline points="298.6,200.2 298.9,200.2 299.2,200.2 299.5,200.2 299.8,200.2 300.1,200.2 300.4,200.2 300.7,200.2 301.0,200.2 301.3,200.1 301.6,200.1 301.9,200.1 302.1,200.1 302.4,200.1 302.7,200.1 303.0,200.1 303.3,200.1 303.6,200.1 303.9,200.1 304.2,200.1 304.5,200.1 304.8,200.1 305.1,200.1 305.4,200.1 305.7,200.0 306.0,200.0 306.3,200.0 306.6,200.0 306.9,200.0 307.2,200.0 307.5,200.0 307.8,200.0 308.1,200.0 308.4,200.0 308.6,200.0 308.9,199.9 309.2,199.9 309.5,199.9 309.8,199.9 310.1,199.9 310.4,199.9 310.7,199.9 311.0,199.9 311.3,199.9 311.6,199.9 311.9,199.8 312.2,199.8 312.5,199.8 312.8,199.8 313.1,199.8 313.4,199.8 313.7,199.8 314.0,199.8 314.3,199.8 314.6,199.8 314.9,199.7 315.1,199.7 315.4,199.7 315.7,199.7 316.0,199.7 316.3,199.7 316.6,199.7 316.9,199.7 317.2,199.6 317.5,199.6 317.8,199.6 318.1,199.6 318.4,199.6 318.7,199.6 319.0,199.6 319.3,199.5 319.6,199.5 319.9,199.5 320.2,199.5 320.5,199.5 320.8,199.4 321.1,199.4 321.4,199.4 321.7,199.4 321.9,199.4 322.2,199.4 322.5,199.3 322.8,199.3 323.1,199.3 323.4,199.3 323.7,199.3 324.0,199.2 324.3,199.2 324.6,199.2 324.9,199.2 325.2,199.2 325.5,199.1 325.8,199.1 326.1,199.1 326.4,199.1 326.7,199.1 327.0,199.0 327.3,199.0 327.6,199.0 327.9,198.9 328.2,198.9 328.5,198.9 328.8,198.9 329.1,198.8 329.3,198.8 329.6,198.8 329.9,198.8 330.2,198.7 330.5,198.7 330.8,198.7 331.1,198.6 331.4,198.6 331.7,198.6 332.0,198.5 332.3,198.5 332.6,198.4 332.9,198.4 333.2,198.4 333.5,198.3 333.8,198.3 334.1,198.2 334.4,198.2 334.7,198.2 335.0,198.1 335.2,198.1 335.6,198.0 335.9,198.0 336.1,197.9 336.4,197.9 336.7,197.8 337.0,197.8 337.3,197.7 337.6,197.7 337.9,197.6 338.2,197.5 338.5,197.5 338.8,197.4 339.1,197.4 339.4,197.3 339.7,197.2 340.0,197.2 340.3,197.1 340.6,197.0 340.9,196.9 341.2,196.9 341.5,196.8 341.8,196.7 342.1,196.6 342.4,196.5 342.6,196.4 342.9,196.3 343.2,196.2 343.5,196.2 343.8,196.0 344.1,195.9 344.4,195.8 344.7,195.7 345.0,195.6 345.3,195.5 345.6,195.4 345.9,195.2 346.2,195.1 346.5,195.0 346.8,194.8 347.1,194.7 347.4,194.5 347.7,194.4 348.0,194.2 348.3,194.0 348.6,193.8 348.9,193.7 349.1,193.5 349.4,193.3 349.7,193.1 350.0,192.9 350.3,192.6 350.6,192.4 350.9,192.2 351.2,191.9 351.5,191.7 351.8,191.4 352.1,191.1 352.4,190.8 352.7,190.5 353.0,190.2 353.3,189.8 353.6,189.5 353.9,189.1 354.2,188.7 354.5,188.3 354.8,187.9 355.1,187.4 355.4,186.9 355.6,186.4 355.9,185.9 356.2,185.4 356.5,184.8 356.8,184.2 357.1,183.5 357.4,182.8 357.7,182.1 358.0,181.4 358.3,180.6 358.6,179.7 358.9,178.8 359.2,177.8 359.5,176.8 359.8,175.7 360.1,174.6 360.4,173.3 360.7,172.0 361.0,170.6 361.3,169.2 361.6,167.6 361.9,165.9 362.1,164.1 362.4,162.2 362.8,160.1 363.0,157.9 363.3,155.6 363.6,153.1 363.9,150.4 364.2,147.6 364.5,144.6 364.8,141.4 365.1,138.0 365.4,134.4 365.7,130.6 366.0,126.6 366.3,122.5 366.6,118.2 366.9,113.8 367.2,109.3 367.5,104.8 367.8,100.2 368.1,95.8 368.4,91.6 368.7,87.7 368.9,84.1 369.2,81.0 369.5,78.5 369.8,76.6 370.1,75.5 370.4,75.1 370.7,75.1 371.0,75.2 371.3,75.8 371.6,77.2 371.9,80.2 372.2,85.0 372.5,91.8 372.8,100.1 373.1,109.2 373.4,118.1 373.7,126.2 374.0,133.2 374.3,138.9 374.6,143.4 374.9,147.0 375.2,149.8 375.5,151.9 375.8,153.6 376.1,154.8 376.3,155.8 376.6,156.5 376.9,157.0 377.2,157.3 377.5,157.4 377.8,158.2 378.1,158.8 378.4,159.4 378.7,160.1 379.0,160.7 379.3,161.4 379.6,162.2 379.9,163.1 380.2,164.0 380.5,164.9 380.8,165.9 381.1,166.8 381.4,167.7 381.7,168.5 382.0,169.3 382.2,170.0 382.6,170.7 382.9,171.3 383.1,171.9 383.4,172.4 383.7,172.9 384.0,173.4 384.3,173.9 384.6,174.4 384.9,174.8 385.2,175.3 385.5,175.7 385.8,176.2 386.1,176.6 386.4,177.0 386.7,177.4 387.0,177.8 387.3,178.2 387.6,178.6 387.9,179.0 388.2,179.3 388.5,179.7 388.8,180.1 389.1,180.4 389.4,180.8 389.6,181.1 389.9,181.4 390.2,181.8 390.5,182.1 390.8,182.4 391.1,182.7 391.4,183.0 391.7,183.3 392.0,183.6 392.3,183.9 392.6,184.2 392.9,184.5 393.2,184.7 393.5,185.0 393.8,185.3 394.1,185.5 394.4,185.8 394.7,186.0 395.0,186.3 395.3,186.5 395.6,186.8 395.9,187.0 396.1,187.2 396.4,187.5 396.7,187.7 397.0,187.9 397.3,188.1 397.6,188.3 397.9,188.5 398.2,188.7 398.5,188.9 398.8,189.1 399.1,189.3 399.4,189.5 399.7,189.7 400.0,189.9 400.3,190.1 400.6,190.2 400.9,190.4 401.2,190.6 401.5,190.8 401.8,190.9 402.1,191.1 402.4,191.2 402.6,191.4 402.9,191.6 403.2,191.7 403.5,191.9 403.8,192.0 404.1,192.2 404.4,192.3 404.7,192.4 405.0,192.6 405.3,192.7 405.6,192.8 405.9,193.0 406.2,193.1 406.5,193.2 406.8,193.3 407.1,193.5 407.4,193.6 407.7,193.7 408.0,193.8 408.3,193.9 408.6,194.0 408.9,194.1 409.1,194.2 409.4,194.3 409.8,194.5 410.0,194.6 410.3,194.7 410.6,194.8 410.9,194.8 411.2,194.9 411.5,195.0 411.8,195.1 412.1,195.2 412.4,195.3 412.7,195.4 413.0,195.5 413.3,195.6 413.6,195.7 413.9,195.7 414.2,195.8 414.5,195.9 414.8,196.0 415.1,196.0 415.4,196.1 415.7,196.2 415.9,196.3 416.2,196.3 416.5,196.4 416.8,196.5 417.1,196.5 417.4,196.6 417.7,196.7 418.0,196.7 418.3,196.8 418.6,196.8 418.9,196.9 419.2,197.0 419.5,197.0 419.8,197.1 420.1,197.2 420.4,197.2 420.7,197.3 421.0,197.3 421.3,197.4 421.6,197.4 421.9,197.5 422.2,197.5 422.5,197.6 422.8,197.6 423.1,197.7 423.3,197.7 423.6,197.8 423.9,197.8 424.2,197.8 424.5,197.9 424.8,197.9 425.1,198.0 425.4,198.0 425.7,198.1 426.0,198.1 426.3,198.1 426.6,198.2 426.9,198.2 427.2,198.2 427.5,198.3 427.8,198.3 428.1,198.3 428.4,198.4 428.7,198.4 429.0,198.4 429.3,198.5 429.6,198.5 429.9,198.6 430.1,198.6 430.4,198.6 430.7,198.6 431.0,198.7 431.3,198.7 431.6,198.7 431.9,198.8 432.2,198.8 432.5,198.8 432.8,198.8 433.1,198.9 433.4,198.9 433.7,198.9 434.0,198.9 434.3,199.0 434.6,199.0 434.9,199.0 435.2,199.0 435.5,199.1 435.8,199.1 436.1,199.1 436.4,199.1 436.6,199.1 436.9,199.2 437.2,199.2 437.5,199.2 437.8,199.2 438.1,199.2 438.4,199.3 438.7,199.3 439.0,199.3 439.3,199.3 439.6,199.3 439.9,199.4 440.2,199.4 440.5,199.4 440.8,199.4 441.1,199.4 441.4,199.4 441.7,199.4 442.0,199.5 442.3,199.5 442.6,199.5 442.9,199.5 443.1,199.5 443.4,199.5 443.7,199.6 444.0,199.6 444.3,199.6 444.6,199.6 444.9,199.6 445.2,199.6 445.5,199.6 445.8,199.7 446.1,199.7 446.4,199.7" fill="none" stroke="#70ad47" stroke-width="0.9"/>
<polyline points="298.6,197.5 298.9,197.5 299.2,197.5 299.5,197.5 299.8,197.5 300.1,197.5 300.4,197.5 300.7,197.5 301.0,197.5 301.3,197.5 301.6,197.5 301.9,197.5 302.1,197.5 302.4,197.5 302.7,197.4 303.0,197.4 303.3,197.4 303.6,197.4 303.9,197.4 304.2,197.4 304.5,197.4 304.8,197.4 305.1,197.4 305.4,197.4 305.7,197.4 306.0,197.4 306.3,197.4 306.6,197.3 306.9,197.3 307.2,197.3 307.5,197.3 307.8,197.3 308.1,197.3 308.4,197.3 308.6,197.3 308.9,197.3 309.2,197.3 309.5,197.3 309.8,197.2 310.1,197.2 310.4,197.2 310.7,197.2 311.0,197.2 311.3,197.2 311.6,197.2 311.9,197.2 312.2,197.2 312.5,197.2 312.8,197.1 313.1,197.1 313.4,197.1 313.7,197.1 314.0,197.1 314.3,197.1 314.6,197.1 314.9,197.1 315.1,197.1 315.4,197.0 315.7,197.0 316.0,197.0 316.3,197.0 316.6,197.0 316.9,197.0 317.2,196.9 317.5,196.9 317.8,196.9 318.1,196.9 318.4,196.9 318.7,196.9 319.0,196.9 319.3,196.8 319.6,196.8 319.9,196.8 320.2,196.8 320.5,196.8 320.8,196.8 321.1,196.7 321.4,196.7 321.7,196.7 321.9,196.7 322.2,196.7 322.5,196.6 322.8,196.6 323.1,196.6 323.4,196.6 323.7,196.6 324.0,196.5 324.3,196.5 324.6,196.5 324.9,196.5 325.2,196.4 325.5,196.4 325.8,196.4 326.1,196.4 326.4,196.3 326.7,196.3 327.0,196.3 327.3,196.3 327.6,196.2 327.9,196.2 328.2,196.2 328.5,196.2 328.8,196.1 329.1,196.1 329.3,196.1 329.6,196.0 329.9,196.0 330.2,196.0 330.5,195.9 330.8,195.9 331.1,195.9 331.4,195.8 331.7,195.8 332.0,195.8 332.3,195.7 332.6,195.7 332.9,195.6 333.2,195.6 333.5,195.6 333.8,195.5 334.1,195.5 334.4,195.4 334.7,195.4 335.0,195.3 335.2,195.3 335.6,195.2 335.9,195.2 336.1,195.1 336.4,195.1 336.7,195.0 337.0,195.0 337.3,194.9 337.6,194.8 337.9,194.8 338.2,194.7 338.5,194.7 338.8,194.6 339.1,194.5 339.4,194.5 339.7,194.4 340.0,194.3 340.3,194.2 340.6,194.2 340.9,194.1 341.2,194.0 341.5,193.9 341.8,193.8 342.1,193.7 342.4,193.6 342.6,193.6 342.9,193.4 343.2,193.3 343.5,193.2 343.8,193.1 344.1,193.0 344.4,192.9 344.7,192.8 345.0,192.7 345.3,192.5 345.6,192.4 345.9,192.3 346.2,192.1 346.5,192.0 346.8,191.8 347.1,191.7 347.4,191.5 347.7,191.3 348.0,191.2 348.3,191.0 348.6,190.8 348.9,190.6 349.1,190.4 349.4,190.2 349.7,190.0 350.0,189.8 350.3,189.5 350.6,189.3 350.9,189.0 351.2,188.8 351.5,188.5 351.8,188.2 352.1,187.9 352.4,187.6 352.7,187.2 353.0,186.9 353.3,186.5 353.6,186.2 353.9,185.8 354.2,185.3 354.5,184.9 354.8,184.4 355.1,184.0 355.4,183.5 355.6,182.9 355.9,182.4 356.2,181.8 356.5,181.2 356.8,180.5 357.1,179.8 357.4,179.1 357.7,178.3 358.0,177.5 358.3,176.7 358.6,175.8 358.9,174.8 359.2,173.8 359.5,172.7 359.8,171.6 360.1,170.3 360.4,169.0 360.7,167.6 361.0,166.2 361.3,164.6 361.6,162.9 361.9,161.1 362.1,159.2 362.4,157.2 362.8,155.0 363.0,152.7 363.3,150.2 363.6,147.5 363.9,144.7 364.2,141.7 364.5,138.5 364.8,135.1 365.1,131.5 365.4,127.6 365.7,123.6 366.0,119.4 366.3,115.0 366.6,110.5 366.9,105.8 367.2,101.0 367.5,96.2 367.8,91.4 368.1,86.7 368.4,82.2 368.7,78.0 368.9,74.2 369.2,70.9 369.5,68.2 369.8,66.3 370.1,65.0 370.4,64.6 370.7,64.7 371.0,64.8 371.3,65.5 371.6,67.3 371.9,70.9 372.2,76.9 372.5,85.3 372.8,95.6 373.1,106.8 373.4,117.9 373.7,127.9 374.0,136.5 374.3,143.5 374.6,149.1 374.9,153.6 375.2,157.0 375.5,159.7 375.8,161.8 376.1,163.4 376.3,164.7 376.6,165.7 376.9,166.4 377.2,167.0 377.5,167.4 377.8,168.2 378.1,168.8 378.4,169.5 378.7,170.1 379.0,170.7 379.3,171.3 379.6,171.9 379.9,172.5 380.2,173.2 380.5,173.8 380.8,174.4 381.1,175.1 381.4,175.7 381.7,176.2 382.0,176.8 382.2,177.3 382.6,177.7 382.9,178.2 383.1,178.6 383.4,179.0 383.7,179.3 384.0,179.7 384.3,180.1 384.6,180.4 384.9,180.7 385.2,181.1 385.5,181.4 385.8,181.7 386.1,182.0 386.4,182.3 386.7,182.6 387.0,182.9 387.3,183.2 387.6,183.4 387.9,183.7 388.2,184.0 388.5,184.3 388.8,184.5 389.1,184.8 389.4,185.0 389.6,185.3 389.9,185.5 390.2,185.8 390.5,186.0 390.8,186.2 391.1,186.5 391.4,186.7 391.7,186.9 392.0,187.1 392.3,187.3 392.6,187.5 392.9,187.7 393.2,187.9 393.5,188.1 393.8,188.3 394.1,188.5 394.4,188.7 394.7,188.9 395.0,189.1 395.3,189.2 395.6,189.4 395.9,189.6 396.1,189.8 396.4,189.9 396.7,190.1 397.0,190.3 397.3,190.4 397.6,190.6 397.9,190.7 398.2,190.9 398.5,191.0 398.8,191.2 399.1,191.3 399.4,191.5 399.7,191.6 400.0,191.7 400.3,191.9 400.6,192.0 400.9,192.1 401.2,192.3 401.5,192.4 401.8,192.5 402.1,192.6 402.4,192.8 402.6,192.9 402.9,193.0 403.2,193.1 403.5,193.2 403.8,193.3 404.1,193.4 404.4,193.5 404.7,193.6 405.0,193.7 405.3,193.8 405.6,193.9 405.9,194.0 406.2,194.1 406.5,194.2 406.8,194.3 407.1,194.4 407.4,194.5 407.7,194.6 408.0,194.7 408.3,194.8 408.6,194.8 408.9,194.9 409.1,195.0 409.4,195.1 409.8,195.2 410.0,195.2 410.3,195.3 410.6,195.4 410.9,195.5 411.2,195.5 411.5,195.6 411.8,195.7 412.1,195.8 412.4,195.8 412.7,195.9 413.0,195.9 413.3,196.0 413.6,196.1 413.9,196.1 414.2,196.2 414.5,196.3 414.8,196.3 415.1,196.4 415.4,196.4 415.7,196.5 415.9,196.6 416.2,196.6 416.5,196.7 416.8,196.7 417.1,196.8 417.4,196.8 417.7,196.9 418.0,196.9 418.3,197.0 418.6,197.0 418.9,197.1 419.2,197.1 419.5,197.1 419.8,197.2 420.1,197.2 420.4,197.3 420.7,197.3 421.0,197.4 421.3,197.4 421.6,197.4 421.9,197.5 422.2,197.5 422.5,197.6 422.8,197.6 423.1,197.6 423.3,197.7 423.6,197.7 423.9,197.7 424.2,197.8 424.5,197.8 424.8,197.8 425.1,197.9 425.4,197.9 425.7,197.9 426.0,198.0 426.3,198.0 426.6,198.0 426.9,198.1 427.2,198.1 427.5,198.1 427.8,198.2 428.1,198.2 428.4,198.2 428.7,198.2 429.0,198.3 429.3,198.3 429.6,198.3 429.9,198.3 430.1,198.4 430.4,198.4 430.7,198.4 431.0,198.4 431.3,198.4 431.6,198.5 431.9,198.5 432.2,198.5 432.5,198.5 432.8,198.6 433.1,198.6 433.4,198.6 433.7,198.6 434.0,198.7 434.3,198.7 434.6,198.7 434.9,198.7 435.2,198.7 435.5,198.7 435.8,198.8 436.1,198.8 436.4,198.8 436.6,198.8 436.9,198.8 437.2,198.8 437.5,198.9 437.8,198.9 438.1,198.9 438.4,198.9 438.7,198.9 439.0,198.9 439.3,199.0 439.6,199.0 439.9,199.0 440.2,199.0 440.5,199.0 440.8,199.0 441.1,199.0 441.4,199.1 441.7,199.1 442.0,199.1 442.3,199.1 442.6,199.1 442.9,199.1 443.1,199.1 443.4,199.1 443.7,199.2 444.0,199.2 444.3,199.2 444.6,199.2 444.9,199.2 445.2,199.2 445.5,199.2 445.8,199.2 446.1,199.2 446.4,199.2" fill="none" stroke="#8fb8e3" stroke-width="0.9"/>
<path d="M516,28.5 V210.5 H664.8" stroke="#231f20" stroke-width="0.9" fill="none"/>
<line x1="514" y1="210.5" x2="516" y2="210.5" stroke="#231f20" stroke-width="0.8"/>
<text x="512.4" y="213.2" font-size="7.5" text-anchor="end" fill="#231f20">-1</text>
<line x1="514" y1="187.8" x2="516" y2="187.8" stroke="#231f20" stroke-width="0.8"/>
<text x="512.4" y="190.4" font-size="7.5" text-anchor="end" fill="#231f20">-0.5</text>
<line x1="514" y1="165.0" x2="516" y2="165.0" stroke="#231f20" stroke-width="0.8"/>
<text x="512.4" y="167.7" font-size="7.5" text-anchor="end" fill="#231f20">0</text>
<line x1="514" y1="142.2" x2="516" y2="142.2" stroke="#231f20" stroke-width="0.8"/>
<text x="512.4" y="144.9" font-size="7.5" text-anchor="end" fill="#231f20">0.5</text>
<line x1="514" y1="119.5" x2="516" y2="119.5" stroke="#231f20" stroke-width="0.8"/>
<text x="512.4" y="122.2" font-size="7.5" text-anchor="end" fill="#231f20">1</text>
<line x1="514" y1="96.8" x2="516" y2="96.8" stroke="#231f20" stroke-width="0.8"/>
<text x="512.4" y="99.5" font-size="7.5" text-anchor="end" fill="#231f20">1.5</text>
<line x1="514" y1="74.0" x2="516" y2="74.0" stroke="#231f20" stroke-width="0.8"/>
<text x="512.4" y="76.7" font-size="7.5" text-anchor="end" fill="#231f20">2</text>
<line x1="514" y1="51.2" x2="516" y2="51.2" stroke="#231f20" stroke-width="0.8"/>
<text x="512.4" y="54.0" font-size="7.5" text-anchor="end" fill="#231f20">2.5</text>
<line x1="514" y1="28.5" x2="516" y2="28.5" stroke="#231f20" stroke-width="0.8"/>
<text x="512.4" y="31.2" font-size="7.5" text-anchor="end" fill="#231f20">3</text>
<line x1="516" y1="210.5" x2="516" y2="212.5" stroke="#231f20" stroke-width="0.8"/>
<line x1="590.6" y1="210.5" x2="590.6" y2="212.5" stroke="#231f20" stroke-width="0.8"/>
<line x1="664.8" y1="210.5" x2="664.8" y2="212.5" stroke="#231f20" stroke-width="0.8"/>
<text x="517.0" y="221.0" font-size="7.5" text-anchor="middle" fill="#231f20">-2.5 kb</text>
<text x="590.6" y="221.0" font-size="7.5" text-anchor="middle" fill="#231f20">Enhancer</text>
<text x="667.0" y="221.0" font-size="7.5" text-anchor="middle" fill="#231f20">2.5 kb</text>
<text x="491.0" y="119.3" font-size="7.5" text-anchor="middle" fill="#231f20" transform="rotate(-90.0 491.0 119.3)">Enrichment of ssG4-seq signal (Z-score)</text>
<line x1="626.3" y1="34.2" x2="642.4" y2="34.2" stroke="#5b9bd5" stroke-width="1.1"/>
<text x="646.5" y="36.8" font-size="7.5" text-anchor="start" fill="#231f20">CH12F3</text>
<line x1="626.3" y1="47.3" x2="642.4" y2="47.3" stroke="#ed7d31" stroke-width="1.1"/>
<text x="646.5" y="49.9" font-size="7.5" text-anchor="start" fill="#231f20">HeLa</text>
<line x1="626.3" y1="60.4" x2="642.4" y2="60.4" stroke="#b5b5b5" stroke-width="1.1"/>
<text x="646.5" y="63.0" font-size="7.5" text-anchor="start" fill="#231f20">HepG2</text>
<line x1="626.3" y1="73.5" x2="642.4" y2="73.5" stroke="#ffc000" stroke-width="1.1"/>
<text x="646.5" y="76.1" font-size="7.5" text-anchor="start" fill="#231f20">K562</text>
<line x1="626.3" y1="86.6" x2="642.4" y2="86.6" stroke="#4472c4" stroke-width="1.1"/>
<text x="646.5" y="89.2" font-size="7.5" text-anchor="start" fill="#231f20">U2OS</text>
<line x1="626.3" y1="99.7" x2="642.4" y2="99.7" stroke="#70ad47" stroke-width="1.1"/>
<text x="646.5" y="102.3" font-size="7.5" text-anchor="start" fill="#231f20">Vero</text>
<line x1="626.3" y1="112.8" x2="642.4" y2="112.8" stroke="#8fb8e3" stroke-width="1.1"/>
<text x="646.5" y="115.4" font-size="7.5" text-anchor="start" fill="#231f20">Ramos</text>
<polyline points="516.3,202.5 517.5,202.8 518.8,203.3 520.0,203.2 521.2,202.6 522.5,201.9 523.7,200.6 525.0,199.5 526.2,198.8 527.5,199.4 528.7,201.0 529.9,200.9 531.2,200.5 532.4,200.2 533.6,201.5 534.9,201.3 536.1,202.4 537.4,202.9 538.6,202.8 539.8,201.1 541.1,198.9 542.3,198.3 543.5,197.2 544.8,196.7 546.0,196.7 547.3,195.1 548.5,193.6 549.7,192.2 551.0,192.3 552.2,191.6 553.5,192.4 554.7,192.1 555.9,191.5 557.2,189.7 558.4,188.2 559.6,187.3 560.9,186.1 562.1,183.8 563.4,182.7 564.6,180.0 565.8,176.6 567.1,174.5 568.3,172.2 569.5,167.4 570.8,164.8 572.0,160.6 573.3,154.9 574.5,149.5 575.7,143.3 577.0,135.2 578.2,127.5 579.5,118.2 580.7,107.9 581.9,97.2 583.2,85.9 584.4,74.6 585.6,64.2 586.9,55.1 588.1,47.7 589.4,43.0 590.6,41.2 591.8,42.5 593.1,46.2 594.3,51.9 595.5,59.0 596.8,67.8 598.0,77.0 599.3,86.3 600.5,95.2 601.8,104.5 603.0,113.1 604.2,121.6 605.5,129.1 606.7,136.9 607.9,144.1 609.2,148.4 610.4,151.6 611.6,156.2 612.9,159.7 614.1,162.3 615.4,165.1 616.6,168.3 617.8,170.7 619.1,172.7 620.3,176.4 621.6,178.7 622.8,180.2 624.0,181.8 625.3,185.4 626.5,186.0 627.8,187.6 629.0,191.0 630.2,192.6 631.5,191.1 632.7,192.6 633.9,192.7 635.2,191.6 636.4,192.2 637.7,193.4 638.9,192.4 640.1,194.2 641.4,194.2 642.6,195.1 643.9,196.1 645.1,196.2 646.3,196.7 647.6,198.7 648.8,197.7 650.0,196.5 651.3,198.0 652.5,199.5 653.8,199.1 655.0,200.3 656.2,201.9 657.5,200.6 658.7,200.6 660.0,199.6 661.2,200.7 662.4,201.3 663.7,203.0 664.9,202.4" fill="none" stroke="#5b9bd5" stroke-width="0.8"/>
<polyline points="516.3,195.8 517.5,196.2 518.8,196.6 520.0,196.9 521.2,197.2 522.5,197.9 523.7,197.9 525.0,197.4 526.2,197.4 527.5,197.1 528.7,196.3 529.9,194.7 531.2,194.7 532.4,194.9 533.6,195.6 534.9,195.8 536.1,196.5 537.4,196.8 538.6,195.8 539.8,193.7 541.1,195.5 542.3,196.8 543.5,195.9 544.8,195.5 546.0,196.4 547.3,194.2 548.5,192.2 549.7,191.6 551.0,191.7 552.2,189.2 553.5,187.8 554.7,188.0 555.9,187.4 557.2,186.1 558.4,187.1 559.6,188.3 560.9,186.9 562.1,184.3 563.4,183.2 564.6,181.1 565.8,176.3 567.1,172.9 568.3,169.8 569.5,167.0 570.8,163.5 572.0,160.0 573.3,155.3 574.5,150.0 575.7,144.1 577.0,136.4 578.2,128.7 579.5,119.5 580.7,110.0 581.9,98.1 583.2,86.3 584.4,73.9 585.6,62.2 586.9,51.3 588.1,42.8 589.4,37.2 590.6,35.3 591.8,37.0 593.1,42.1 594.3,49.6 595.5,59.5 596.8,70.6 598.0,82.2 599.3,93.4 600.5,104.7 601.8,114.3 603.0,123.5 604.2,132.1 605.5,140.1 606.7,146.6 607.9,152.9 609.2,158.9 610.4,163.4 611.6,165.9 612.9,169.3 614.1,170.8 615.4,173.3 616.6,174.6 617.8,178.5 619.1,180.3 620.3,181.9 621.6,183.4 622.8,183.5 624.0,182.9 625.3,184.8 626.5,188.7 627.8,187.8 629.0,189.9 630.2,192.0 631.5,192.2 632.7,190.9 633.9,191.4 635.2,192.7 636.4,191.8 637.7,191.3 638.9,190.9 640.1,192.6 641.4,192.8 642.6,193.2 643.9,194.6 645.1,196.0 646.3,194.9 647.6,194.8 648.8,197.8 650.0,198.4 651.3,200.2 652.5,200.9 653.8,200.6 655.0,199.4 656.2,199.2 657.5,197.2 658.7,197.9 660.0,197.2 661.2,196.9 662.4,196.2 663.7,196.5 664.9,195.9" fill="none" stroke="#ed7d31" stroke-width="0.8"/>
<polyline points="516.3,195.0 517.5,194.8 518.8,196.9 520.0,198.9 521.2,201.8 522.5,200.2 523.7,201.8 525.0,200.1 526.2,199.3 527.5,197.5 528.7,198.7 529.9,197.3 531.2,195.7 532.4,195.3 533.6,194.6 534.9,193.1 536.1,193.2 537.4,195.4 538.6,195.6 539.8,194.8 541.1,196.7 542.3,196.6 543.5,194.4 544.8,192.9 546.0,193.3 547.3,190.8 548.5,189.6 549.7,190.8 551.0,192.1 552.2,191.9 553.5,191.1 554.7,190.8 555.9,189.7 557.2,188.0 558.4,187.6 559.6,187.1 560.9,186.2 562.1,183.5 563.4,182.8 564.6,179.3 565.8,177.3 567.1,175.1 568.3,171.9 569.5,167.3 570.8,164.9 572.0,160.7 573.3,154.6 574.5,149.6 575.7,142.8 577.0,134.5 578.2,126.0 579.5,117.1 580.7,106.8 581.9,96.2 583.2,85.0 584.4,74.0 585.6,62.7 586.9,52.7 588.1,44.7 589.4,39.5 590.6,37.6 591.8,39.2 593.1,44.1 594.3,51.2 595.5,60.6 596.8,71.2 598.0,81.5 599.3,92.4 600.5,103.2 601.8,112.4 603.0,121.7 604.2,130.5 605.5,137.5 606.7,143.8 607.9,149.9 609.2,154.5 610.4,159.4 611.6,163.7 612.9,167.2 614.1,170.2 615.4,173.3 616.6,175.7 617.8,175.6 619.1,177.2 620.3,178.4 621.6,181.4 622.8,181.6 624.0,184.6 625.3,185.3 626.5,186.5 627.8,185.4 629.0,186.3 630.2,189.1 631.5,190.3 632.7,191.0 633.9,192.1 635.2,192.0 636.4,189.4 637.7,191.9 638.9,193.2 640.1,192.7 641.4,194.0 642.6,196.2 643.9,196.2 645.1,194.2 646.3,193.8 647.6,195.2 648.8,196.2 650.0,194.3 651.3,195.4 652.5,195.0 653.8,193.5 655.0,193.3 656.2,194.6 657.5,197.4 658.7,199.6 660.0,200.5 661.2,199.5 662.4,200.4 663.7,198.9 664.9,198.4" fill="none" stroke="#b5b5b5" stroke-width="0.8"/>
<polyline points="516.3,197.4 517.5,196.9 518.8,196.9 520.0,197.0 521.2,196.6 522.5,196.7 523.7,197.8 525.0,198.3 526.2,197.9 527.5,198.5 528.7,198.3 529.9,197.4 531.2,196.6 532.4,196.5 533.6,197.2 534.9,196.8 536.1,195.7 537.4,195.2 538.6,195.0 539.8,193.3 541.1,194.1 542.3,196.1 543.5,196.1 544.8,196.3 546.0,195.6 547.3,195.2 548.5,195.3 549.7,195.6 551.0,192.9 552.2,193.1 553.5,192.6 554.7,190.2 555.9,188.0 557.2,187.9 558.4,186.3 559.6,182.7 560.9,180.1 562.1,179.1 563.4,177.3 564.6,174.4 565.8,172.7 567.1,170.1 568.3,168.0 569.5,165.3 570.8,162.2 572.0,158.6 573.3,153.8 574.5,147.5 575.7,140.8 577.0,134.1 578.2,125.0 579.5,115.9 580.7,106.1 581.9,95.3 583.2,82.9 584.4,71.5 585.6,59.7 586.9,48.9 588.1,40.4 589.4,35.0 590.6,33.0 591.8,34.8 593.1,40.0 594.3,47.8 595.5,57.6 596.8,68.6 598.0,80.1 599.3,91.6 600.5,102.7 601.8,112.8 603.0,122.0 604.2,130.8 605.5,138.6 606.7,145.1 607.9,151.5 609.2,157.2 610.4,162.3 611.6,166.4 612.9,169.7 614.1,171.5 615.4,174.1 616.6,175.2 617.8,177.9 619.1,178.8 620.3,180.6 621.6,181.1 622.8,183.0 624.0,183.2 625.3,187.3 626.5,188.2 627.8,189.2 629.0,190.8 630.2,191.5 631.5,190.2 632.7,192.9 633.9,195.8 635.2,195.6 636.4,196.6 637.7,198.7 638.9,197.6 640.1,196.3 641.4,195.3 642.6,194.5 643.9,192.5 645.1,191.8 646.3,193.4 647.6,194.6 648.8,196.2 650.0,198.6 651.3,199.8 652.5,198.9 653.8,198.3 655.0,198.9 656.2,199.2 657.5,199.3 658.7,199.6 660.0,200.4 661.2,199.3 662.4,199.0 663.7,199.4 664.9,199.7" fill="none" stroke="#ffc000" stroke-width="0.8"/>
<polyline points="516.3,198.9 517.5,199.8 518.8,199.9 520.0,202.6 521.2,203.5 522.5,203.3 523.7,203.8 525.0,203.3 526.2,200.8 527.5,200.9 528.7,201.0 529.9,199.8 531.2,199.4 532.4,198.8 533.6,197.4 534.9,197.7 536.1,197.2 537.4,197.4 538.6,196.9 539.8,196.3 541.1,195.8 542.3,196.4 543.5,196.2 544.8,197.0 546.0,197.6 547.3,196.5 548.5,195.2 549.7,194.2 551.0,192.4 552.2,191.1 553.5,188.2 554.7,187.1 555.9,185.2 557.2,184.4 558.4,181.9 559.6,184.3 560.9,183.1 562.1,182.0 563.4,179.6 564.6,176.5 565.8,172.2 567.1,168.3 568.3,165.0 569.5,161.5 570.8,158.8 572.0,154.7 573.3,150.2 574.5,145.4 575.7,138.9 577.0,132.4 578.2,124.2 579.5,114.9 580.7,105.2 581.9,95.3 583.2,84.3 584.4,73.9 585.6,64.3 586.9,55.3 588.1,48.2 589.4,43.7 590.6,42.1 591.8,43.3 593.1,46.8 594.3,52.5 595.5,59.9 596.8,68.3 598.0,77.5 599.3,87.5 600.5,96.8 601.8,106.0 603.0,114.7 604.2,122.9 605.5,129.3 606.7,136.2 607.9,142.3 609.2,146.9 610.4,152.1 611.6,157.0 612.9,160.0 614.1,162.2 615.4,166.2 616.6,167.3 617.8,169.9 619.1,172.6 620.3,176.0 621.6,177.5 622.8,182.4 624.0,182.5 625.3,183.4 626.5,185.2 627.8,187.5 629.0,188.5 630.2,189.9 631.5,192.3 632.7,192.2 633.9,192.0 635.2,191.4 636.4,193.9 637.7,194.1 638.9,195.8 640.1,196.1 641.4,196.2 642.6,195.4 643.9,196.0 645.1,196.0 646.3,196.1 647.6,197.1 648.8,196.5 650.0,196.0 651.3,195.6 652.5,196.4 653.8,196.8 655.0,199.1 656.2,200.2 657.5,200.1 658.7,199.5 660.0,198.6 661.2,196.3 662.4,196.8 663.7,196.7 664.9,196.7" fill="none" stroke="#4472c4" stroke-width="0.8"/>
<polyline points="516.3,196.0 517.5,196.8 518.8,196.6 520.0,196.4 521.2,198.2 522.5,196.7 523.7,195.9 525.0,195.8 526.2,195.2 527.5,196.9 528.7,197.2 529.9,197.3 531.2,198.0 532.4,199.3 533.6,197.0 534.9,196.6 536.1,195.8 537.4,194.1 538.6,192.7 539.8,192.4 541.1,191.6 542.3,192.9 543.5,193.2 544.8,192.6 546.0,193.0 547.3,192.5 548.5,190.1 549.7,190.2 551.0,189.4 552.2,186.7 553.5,186.3 554.7,185.9 555.9,184.3 557.2,182.5 558.4,182.6 559.6,180.1 560.9,179.3 562.1,177.6 563.4,177.0 564.6,176.5 565.8,173.7 567.1,170.1 568.3,168.2 569.5,164.4 570.8,159.7 572.0,155.9 573.3,151.3 574.5,145.6 575.7,139.7 577.0,131.9 578.2,124.3 579.5,115.8 580.7,105.9 581.9,95.6 583.2,84.6 584.4,72.8 585.6,61.8 586.9,51.9 588.1,44.0 589.4,39.2 590.6,37.6 591.8,39.1 593.1,43.6 594.3,50.9 595.5,60.0 596.8,70.1 598.0,80.8 599.3,92.0 600.5,102.1 601.8,111.7 603.0,120.5 604.2,128.7 605.5,135.5 606.7,142.1 607.9,147.1 609.2,151.6 610.4,156.2 611.6,159.6 612.9,163.3 614.1,167.0 615.4,170.2 616.6,171.3 617.8,174.3 619.1,175.7 620.3,177.3 621.6,180.8 622.8,183.4 624.0,184.9 625.3,185.8 626.5,187.9 627.8,189.3 629.0,190.1 630.2,190.2 631.5,191.6 632.7,190.7 633.9,189.9 635.2,191.0 636.4,191.3 637.7,192.6 638.9,194.4 640.1,194.6 641.4,193.8 642.6,194.6 643.9,193.4 645.1,193.7 646.3,193.8 647.6,193.3 648.8,194.0 650.0,192.6 651.3,192.8 652.5,193.2 653.8,194.7 655.0,193.4 656.2,196.6 657.5,197.9 658.7,197.6 660.0,197.2 661.2,197.7 662.4,194.7 663.7,192.1 664.9,191.4" fill="none" stroke="#70ad47" stroke-width="0.8"/>
<polyline points="516.3,199.8 517.5,199.8 518.8,198.6 520.0,199.7 521.2,200.1 522.5,203.5 523.7,203.0 525.0,204.5 526.2,202.6 527.5,200.3 528.7,197.3 529.9,198.0 531.2,197.9 532.4,199.1 533.6,201.2 534.9,200.4 536.1,199.8 537.4,199.1 538.6,198.2 539.8,196.6 541.1,196.4 542.3,196.1 543.5,195.2 544.8,194.7 546.0,195.9 547.3,194.6 548.5,193.5 549.7,194.2 551.0,192.4 552.2,190.4 553.5,192.1 554.7,190.2 555.9,188.1 557.2,187.1 558.4,186.0 559.6,183.4 560.9,184.5 562.1,182.2 563.4,181.0 564.6,179.1 565.8,176.3 567.1,172.5 568.3,169.7 569.5,166.5 570.8,162.4 572.0,159.2 573.3,154.4 574.5,148.6 575.7,141.3 577.0,134.2 578.2,125.3 579.5,115.7 580.7,106.2 581.9,95.9 583.2,84.5 584.4,73.4 585.6,63.0 586.9,53.6 588.1,46.2 589.4,41.5 590.6,39.9 591.8,41.0 593.1,44.2 594.3,49.6 595.5,56.6 596.8,64.7 598.0,73.9 599.3,83.6 600.5,92.6 601.8,101.5 603.0,110.1 604.2,118.3 605.5,125.7 606.7,133.5 607.9,140.0 609.2,146.3 610.4,150.9 611.6,155.5 612.9,158.8 614.1,162.4 615.4,165.0 616.6,166.6 617.8,169.9 619.1,172.1 620.3,172.9 621.6,175.2 622.8,179.4 624.0,179.1 625.3,179.1 626.5,183.1 627.8,184.7 629.0,184.4 630.2,186.8 631.5,189.0 632.7,188.5 633.9,190.2 635.2,191.2 636.4,191.9 637.7,194.0 638.9,195.2 640.1,194.9 641.4,197.1 642.6,198.7 643.9,198.6 645.1,197.8 646.3,198.8 647.6,198.3 648.8,198.7 650.0,198.8 651.3,200.0 652.5,199.7 653.8,198.6 655.0,197.6 656.2,196.4 657.5,196.7 658.7,197.3 660.0,200.1 661.2,199.8 662.4,201.9 663.7,201.8 664.9,202.0" fill="none" stroke="#8fb8e3" stroke-width="0.8"/>
<text x="561.7" y="237.4" font-size="7.5" text-anchor="middle" fill="#231f20">Promoter</text>
<text x="455.2" y="350.7" font-size="7.5" text-anchor="middle" fill="#231f20" transform="rotate(-90.0 455.2 350.7)">Enhancer</text>
<rect x="462.7" y="244.5" width="28.1" height="30.0" fill="#ffffff"/>
<text x="476.8" y="262.1" font-size="7.5" text-anchor="middle" fill="#231f20">Ramos</text>
<rect x="490.8" y="244.5" width="28.1" height="30.0" fill="#ed6157"/>
<text x="504.8" y="262.1" font-size="7.5" text-anchor="middle" fill="#231f20">0.723</text>
<rect x="518.9" y="244.5" width="28.1" height="30.0" fill="#ee6960"/>
<text x="532.9" y="262.1" font-size="7.5" text-anchor="middle" fill="#231f20">0.679</text>
<rect x="547.0" y="244.5" width="28.1" height="30.0" fill="#ec594f"/>
<text x="561.0" y="262.1" font-size="7.5" text-anchor="middle" fill="#231f20">0.760</text>
<rect x="575.1" y="244.5" width="28.1" height="30.0" fill="#ee6a61"/>
<text x="589.1" y="262.1" font-size="7.5" text-anchor="middle" fill="#231f20">0.675</text>
<rect x="603.1" y="244.5" width="28.1" height="30.0" fill="#ef7168"/>
<text x="617.2" y="262.1" font-size="7.5" text-anchor="middle" fill="#231f20">0.638</text>
<rect x="631.2" y="244.5" width="28.1" height="30.0" fill="#ef7269"/>
<text x="645.3" y="262.1" font-size="7.5" text-anchor="middle" fill="#231f20">0.635</text>
<rect x="462.7" y="274.5" width="28.1" height="30.0" fill="#f6a59f"/>
<text x="476.8" y="292.1" font-size="7.5" text-anchor="middle" fill="#231f20">0.436</text>
<rect x="490.8" y="274.5" width="28.1" height="30.0" fill="#ffffff"/>
<text x="504.8" y="292.1" font-size="7.5" text-anchor="middle" fill="#231f20">K562</text>
<rect x="518.9" y="274.5" width="28.1" height="30.0" fill="#ee665d"/>
<text x="532.9" y="292.1" font-size="7.5" text-anchor="middle" fill="#231f20">0.695</text>
<rect x="547.0" y="274.5" width="28.1" height="30.0" fill="#ed6057"/>
<text x="561.0" y="292.1" font-size="7.5" text-anchor="middle" fill="#231f20">0.724</text>
<rect x="575.1" y="274.5" width="28.1" height="30.0" fill="#ee6a61"/>
<text x="589.1" y="292.1" font-size="7.5" text-anchor="middle" fill="#231f20">0.673</text>
<rect x="603.1" y="274.5" width="28.1" height="30.0" fill="#ee6b62"/>
<text x="617.2" y="292.1" font-size="7.5" text-anchor="middle" fill="#231f20">0.667</text>
<rect x="631.2" y="274.5" width="28.1" height="30.0" fill="#f0746b"/>
<text x="645.3" y="292.1" font-size="7.5" text-anchor="middle" fill="#231f20">0.624</text>
<rect x="462.7" y="304.6" width="28.1" height="30.0" fill="#f7b4af"/>
<text x="476.8" y="322.2" font-size="7.5" text-anchor="middle" fill="#231f20">0.396</text>
<rect x="490.8" y="304.6" width="28.1" height="30.0" fill="#f4948e"/>
<text x="504.8" y="322.2" font-size="7.5" text-anchor="middle" fill="#231f20">0.478</text>
<rect x="518.9" y="304.6" width="28.1" height="30.0" fill="#ffffff"/>
<text x="532.9" y="322.2" font-size="7.5" text-anchor="middle" fill="#231f20">U2OS</text>
<rect x="547.0" y="304.6" width="28.1" height="30.0" fill="#ec594f"/>
<text x="561.0" y="322.2" font-size="7.5" text-anchor="middle" fill="#231f20">0.761</text>
<rect x="575.1" y="304.6" width="28.1" height="30.0" fill="#ee695f"/>
<text x="589.1" y="322.2" font-size="7.5" text-anchor="middle" fill="#231f20">0.682</text>
<rect x="603.1" y="304.6" width="28.1" height="30.0" fill="#ed6258"/>
<text x="617.2" y="322.2" font-size="7.5" text-anchor="middle" fill="#231f20">0.715</text>
<rect x="631.2" y="304.6" width="28.1" height="30.0" fill="#f18179"/>
<text x="645.3" y="322.2" font-size="7.5" text-anchor="middle" fill="#231f20">0.556</text>
<rect x="462.7" y="334.6" width="28.1" height="30.0" fill="#f17f78"/>
<text x="476.8" y="352.2" font-size="7.5" text-anchor="middle" fill="#231f20">0.565</text>
<rect x="490.8" y="334.6" width="28.1" height="30.0" fill="#f2847c"/>
<text x="504.8" y="352.2" font-size="7.5" text-anchor="middle" fill="#231f20">0.543</text>
<rect x="518.9" y="334.6" width="28.1" height="30.0" fill="#ef736a"/>
<text x="532.9" y="352.2" font-size="7.5" text-anchor="middle" fill="#231f20">0.628</text>
<rect x="547.0" y="334.6" width="28.1" height="30.0" fill="#ffffff"/>
<text x="561.0" y="352.2" font-size="7.5" text-anchor="middle" fill="#231f20">HeLa</text>
<rect x="575.1" y="334.6" width="28.1" height="30.0" fill="#ee665d"/>
<text x="589.1" y="352.2" font-size="7.5" text-anchor="middle" fill="#231f20">0.693</text>
<rect x="603.1" y="334.6" width="28.1" height="30.0" fill="#ed635a"/>
<text x="617.2" y="352.2" font-size="7.5" text-anchor="middle" fill="#231f20">0.709</text>
<rect x="631.2" y="334.6" width="28.1" height="30.0" fill="#f2837b"/>
<text x="645.3" y="352.2" font-size="7.5" text-anchor="middle" fill="#231f20">0.546</text>
<rect x="462.7" y="364.6" width="28.1" height="30.0" fill="#f8bbb7"/>
<text x="476.8" y="382.2" font-size="7.5" text-anchor="middle" fill="#231f20">0.378</text>
<rect x="490.8" y="364.6" width="28.1" height="30.0" fill="#f7afaa"/>
<text x="504.8" y="382.2" font-size="7.5" text-anchor="middle" fill="#231f20">0.408</text>
<rect x="518.9" y="364.6" width="28.1" height="30.0" fill="#f6ada8"/>
<text x="532.9" y="382.2" font-size="7.5" text-anchor="middle" fill="#231f20">0.413</text>
<rect x="547.0" y="364.6" width="28.1" height="30.0" fill="#f59b95"/>
<text x="561.0" y="382.2" font-size="7.5" text-anchor="middle" fill="#231f20">0.461</text>
<rect x="575.1" y="364.6" width="28.1" height="30.0" fill="#ffffff"/>
<text x="589.1" y="382.2" font-size="7.5" text-anchor="middle" fill="#231f20">HepG2</text>
<rect x="603.1" y="364.6" width="28.1" height="30.0" fill="#ef7269"/>
<text x="617.2" y="382.2" font-size="7.5" text-anchor="middle" fill="#231f20">0.635</text>
<rect x="631.2" y="364.6" width="28.1" height="30.0" fill="#f2827b"/>
<text x="645.3" y="382.2" font-size="7.5" text-anchor="middle" fill="#231f20">0.549</text>
<rect x="462.7" y="394.6" width="28.1" height="30.0" fill="#f8bdb9"/>
<text x="476.8" y="412.3" font-size="7.5" text-anchor="middle" fill="#231f20">0.372</text>
<rect x="490.8" y="394.6" width="28.1" height="30.0" fill="#f8bdb9"/>
<text x="504.8" y="412.3" font-size="7.5" text-anchor="middle" fill="#231f20">0.371</text>
<rect x="518.9" y="394.6" width="28.1" height="30.0" fill="#f0776e"/>
<text x="532.9" y="412.3" font-size="7.5" text-anchor="middle" fill="#231f20">0.610</text>
<rect x="547.0" y="394.6" width="28.1" height="30.0" fill="#f38b84"/>
<text x="561.0" y="412.3" font-size="7.5" text-anchor="middle" fill="#231f20">0.505</text>
<rect x="575.1" y="394.6" width="28.1" height="30.0" fill="#facdca"/>
<text x="589.1" y="412.3" font-size="7.5" text-anchor="middle" fill="#231f20">0.331</text>
<rect x="603.1" y="394.6" width="28.1" height="30.0" fill="#ffffff"/>
<text x="617.2" y="412.3" font-size="7.5" text-anchor="middle" fill="#231f20">Vero</text>
<rect x="631.2" y="394.6" width="28.1" height="30.0" fill="#f2847c"/>
<text x="645.3" y="412.3" font-size="7.5" text-anchor="middle" fill="#231f20">0.541</text>
<rect x="462.7" y="424.7" width="28.1" height="30.0" fill="#facac7"/>
<text x="476.8" y="442.3" font-size="7.5" text-anchor="middle" fill="#231f20">0.337</text>
<rect x="490.8" y="424.7" width="28.1" height="30.0" fill="#fdedec"/>
<text x="504.8" y="442.3" font-size="7.5" text-anchor="middle" fill="#231f20">0.246</text>
<rect x="518.9" y="424.7" width="28.1" height="30.0" fill="#fce0de"/>
<text x="532.9" y="442.3" font-size="7.5" text-anchor="middle" fill="#231f20">0.280</text>
<rect x="547.0" y="424.7" width="28.1" height="30.0" fill="#fce0de"/>
<text x="561.0" y="442.3" font-size="7.5" text-anchor="middle" fill="#231f20">0.282</text>
<rect x="575.1" y="424.7" width="28.1" height="30.0" fill="#ffffff"/>
<text x="589.1" y="442.3" font-size="7.5" text-anchor="middle" fill="#231f20">0.180</text>
<rect x="603.1" y="424.7" width="28.1" height="30.0" fill="#fbd7d5"/>
<text x="617.2" y="442.3" font-size="7.5" text-anchor="middle" fill="#231f20">0.304</text>
<rect x="631.2" y="424.7" width="28.1" height="30.0" fill="#ffffff"/>
<text x="645.3" y="442.3" font-size="7.5" text-anchor="middle" fill="#231f20">CH12F3</text>
<line x1="462.7" y1="244.5" x2="462.7" y2="454.7" stroke="#000" stroke-width="1.2"/>
<line x1="462.7" y1="244.5" x2="659.3" y2="244.5" stroke="#000" stroke-width="1.2"/>
<line x1="490.8" y1="244.5" x2="490.8" y2="454.7" stroke="#000" stroke-width="1.2"/>
<line x1="462.7" y1="274.5" x2="659.3" y2="274.5" stroke="#000" stroke-width="1.2"/>
<line x1="518.9" y1="244.5" x2="518.9" y2="454.7" stroke="#000" stroke-width="1.2"/>
<line x1="462.7" y1="304.6" x2="659.3" y2="304.6" stroke="#000" stroke-width="1.2"/>
<line x1="547.0" y1="244.5" x2="547.0" y2="454.7" stroke="#000" stroke-width="1.2"/>
<line x1="462.7" y1="334.6" x2="659.3" y2="334.6" stroke="#000" stroke-width="1.2"/>
<line x1="575.1" y1="244.5" x2="575.1" y2="454.7" stroke="#000" stroke-width="1.2"/>
<line x1="462.7" y1="364.6" x2="659.3" y2="364.6" stroke="#000" stroke-width="1.2"/>
<line x1="603.1" y1="244.5" x2="603.1" y2="454.7" stroke="#000" stroke-width="1.2"/>
<line x1="462.7" y1="394.6" x2="659.3" y2="394.6" stroke="#000" stroke-width="1.2"/>
<line x1="631.2" y1="244.5" x2="631.2" y2="454.7" stroke="#000" stroke-width="1.2"/>
<line x1="462.7" y1="424.7" x2="659.3" y2="424.7" stroke="#000" stroke-width="1.2"/>
<line x1="659.3" y1="244.5" x2="659.3" y2="454.7" stroke="#000" stroke-width="1.2"/>
<line x1="462.7" y1="454.7" x2="659.3" y2="454.7" stroke="#000" stroke-width="1.2"/>
<defs><linearGradient id="cb" x1="0" y1="1" x2="0" y2="0"><stop offset="0" stop-color="#ffffff"/><stop offset="0.4" stop-color="rgb(243,140,133)"/><stop offset="1" stop-color="rgb(232,62,50)"/></linearGradient></defs>
<rect x="666" y="244.5" width="6" height="210.2" fill="url(#cb)" stroke="#bbb" stroke-width="0.5"/>
<text x="674.5" y="247.2" font-size="7.5" text-anchor="start" fill="#231f20">0.9</text>
<text x="674.5" y="277.2" font-size="7.5" text-anchor="start" fill="#231f20">0.8</text>
<text x="674.5" y="307.3" font-size="7.5" text-anchor="start" fill="#231f20">0.7</text>
<text x="674.5" y="337.3" font-size="7.5" text-anchor="start" fill="#231f20">0.6</text>
<text x="674.5" y="367.3" font-size="7.5" text-anchor="start" fill="#231f20">0.5</text>
<text x="674.5" y="397.4" font-size="7.5" text-anchor="start" fill="#231f20">0.4</text>
<text x="674.5" y="427.4" font-size="7.5" text-anchor="start" fill="#231f20">0.3</text>
<text x="674.5" y="457.4" font-size="7.5" text-anchor="start" fill="#231f20">0.2</text>
<defs><linearGradient id="tri" x1="0" y1="0" x2="0" y2="1"><stop offset="0" stop-color="#b4a4d2"/><stop offset="1" stop-color="#ece8f4"/></linearGradient></defs>
<path d="M205.2,257.3 L33,283.5 L430,283.5 Z" fill="url(#tri)"/>
<path d="M205.2,257.3 L33,281.8 M205.2,257.3 L430,281.8" stroke="#231f20" stroke-width="0.8" stroke-dasharray="2.2,1.6" fill="none"/>
<path d="M203.6,205.5 V257.3 M206.9,205 V257.3" stroke="#231f20" stroke-width="0.8" stroke-dasharray="2.2,1.6" fill="none"/>
<line x1="34" y1="283.6" x2="215" y2="283.6" stroke="#231f20" stroke-width="0.9"/>
<line x1="246" y1="283.6" x2="427" y2="283.6" stroke="#231f20" stroke-width="0.9"/>
<path d="M30.5,283.6 L37,281 L37,286.2 Z" fill="#231f20"/>
<path d="M431,283.6 L424.5,281 L424.5,286.2 Z" fill="#231f20"/>
<text x="232.5" y="276.4" font-size="7.5" text-anchor="middle" fill="#231f20">chr14:39,088,569-39,451,707</text>
<text x="230.9" y="286.2" font-size="7.5" text-anchor="middle" fill="#231f20">363 kb</text>
<path d="M376.6,293.6 V295.3 H431.4 V293.6" stroke="#231f20" stroke-width="0.8" fill="none"/>
<text x="404.0" y="293.9" font-size="7.4" text-anchor="middle" fill="#231f20">50 kb</text>
<path d="M35.5,292.9 H31.7 V311.0" stroke="#6d6e71" stroke-width="0.7" fill="none"/>
<text x="36.0" y="298.9" font-size="7" text-anchor="start" fill="#231f20">50</text>
<text x="28.2" y="304.5" font-size="7.6" text-anchor="end" fill="#231f20">K562</text>
<path d="M31.7,311.0 L32.1,310.5 L32.5,310.3 L32.9,308.7 L33.3,309.7 L33.7,310.2 L34.1,308.7 L34.5,309.1 L34.9,309.9 L35.3,310.0 L35.7,310.0 L36.1,309.6 L36.5,309.9 L36.9,309.3 L37.3,309.9 L37.7,309.8 L38.1,309.8 L38.5,310.2 L38.9,310.0 L39.3,310.2 L39.7,310.4 L40.1,310.0 L40.5,310.2 L40.9,310.2 L41.3,310.2 L41.7,309.9 L42.1,310.0 L42.5,309.6 L42.9,310.3 L43.3,309.4 L43.7,309.9 L44.1,310.2 L44.5,309.6 L44.9,309.2 L45.3,309.7 L45.7,310.2 L46.1,310.0 L46.5,310.4 L46.9,310.5 L47.3,308.8 L47.7,309.2 L48.1,306.7 L48.5,309.7 L48.9,310.5 L49.3,310.4 L49.7,310.4 L50.1,310.2 L50.5,309.9 L50.9,310.1 L51.3,309.8 L51.7,310.0 L52.1,309.8 L52.5,309.4 L52.9,310.1 L53.3,310.5 L53.7,310.3 L54.1,310.2 L54.5,310.2 L54.9,309.3 L55.3,309.3 L55.7,310.3 L56.1,310.1 L56.5,310.0 L56.9,309.7 L57.3,309.9 L57.7,310.4 L58.1,310.4 L58.5,310.0 L58.9,310.3 L59.3,307.7 L59.7,309.9 L60.1,296.3 L60.5,309.6 L60.9,309.2 L61.3,309.8 L61.7,310.1 L62.1,309.6 L62.5,309.8 L62.9,310.1 L63.3,309.2 L63.7,310.1 L64.1,309.2 L64.5,309.6 L64.9,310.2 L65.3,309.5 L65.7,310.1 L66.1,310.1 L66.5,310.1 L66.9,308.4 L67.3,309.3 L67.7,308.9 L68.1,309.9 L68.5,310.4 L68.9,310.4 L69.3,309.9 L69.7,309.7 L70.1,310.1 L70.5,310.1 L70.9,310.1 L71.3,310.3 L71.7,310.0 L72.1,310.2 L72.5,309.3 L72.9,309.4 L73.3,309.6 L73.7,310.2 L74.1,309.9 L74.5,310.4 L74.9,310.5 L75.3,310.5 L75.7,310.5 L76.1,310.3 L76.5,310.3 L76.9,310.1 L77.3,309.9 L77.7,310.3 L78.1,310.2 L78.5,310.5 L78.9,310.2 L79.3,310.1 L79.7,310.0 L80.1,310.2 L80.5,309.9 L80.9,309.5 L81.3,310.2 L81.7,310.2 L82.1,310.5 L82.5,310.2 L82.9,310.3 L83.3,310.2 L83.7,310.4 L84.1,310.5 L84.5,310.2 L84.9,310.0 L85.3,309.5 L85.7,310.2 L86.1,309.9 L86.5,310.1 L86.9,310.4 L87.3,309.7 L87.7,307.9 L88.1,308.7 L88.5,309.1 L88.9,309.3 L89.3,308.4 L89.7,308.8 L90.1,309.8 L90.5,310.2 L90.9,310.5 L91.3,310.5 L91.7,310.4 L92.1,310.0 L92.5,309.9 L92.9,310.1 L93.3,310.1 L93.7,309.0 L94.1,309.7 L94.5,305.8 L94.9,310.4 L95.3,310.5 L95.7,309.6 L96.1,310.2 L96.5,310.2 L96.9,310.1 L97.3,309.2 L97.7,309.2 L98.1,309.5 L98.5,310.2 L98.9,310.5 L99.3,310.5 L99.7,310.3 L100.1,309.6 L100.5,308.9 L100.9,308.9 L101.3,309.7 L101.7,309.5 L102.1,310.1 L102.5,310.4 L102.9,309.3 L103.3,310.1 L103.7,309.6 L104.1,310.1 L104.5,310.2 L104.9,310.2 L105.3,309.8 L105.7,310.4 L106.1,309.5 L106.5,310.2 L106.9,310.4 L107.3,310.5 L107.7,310.3 L108.1,310.1 L108.5,310.5 L108.9,310.5 L109.3,310.1 L109.7,310.2 L110.1,310.5 L110.5,309.9 L110.9,309.7 L111.3,309.8 L111.7,310.2 L112.1,310.4 L112.5,309.9 L112.9,310.3 L113.3,309.7 L113.7,310.1 L114.1,310.5 L114.5,310.5 L114.9,309.9 L115.3,310.0 L115.7,309.9 L116.1,310.3 L116.5,310.4 L116.9,310.2 L117.3,309.8 L117.7,310.0 L118.1,310.0 L118.5,309.7 L118.9,310.0 L119.3,310.4 L119.7,310.0 L120.1,309.9 L120.5,310.3 L120.9,309.6 L121.3,303.2 L121.7,303.2 L122.1,308.0 L122.5,310.5 L122.9,310.1 L123.3,310.5 L123.7,310.1 L124.1,309.8 L124.5,310.3 L124.9,310.5 L125.3,308.8 L125.7,309.5 L126.1,309.4 L126.5,306.3 L126.9,295.4 L127.3,307.2 L127.7,307.4 L128.1,309.3 L128.5,309.5 L128.9,309.1 L129.3,309.7 L129.7,309.9 L130.1,310.3 L130.5,309.4 L130.9,309.9 L131.3,310.3 L131.7,310.4 L132.1,309.9 L132.5,310.0 L132.9,310.1 L133.3,309.3 L133.7,310.1 L134.1,309.7 L134.5,310.3 L134.9,310.3 L135.3,310.1 L135.7,310.4 L136.1,309.8 L136.5,310.2 L136.9,309.9 L137.3,309.9 L137.7,309.7 L138.1,309.8 L138.5,310.3 L138.9,310.4 L139.3,310.5 L139.7,310.4 L140.1,310.5 L140.5,310.5 L140.9,310.5 L141.3,310.5 L141.7,310.5 L142.1,310.5 L142.5,309.4 L142.9,310.0 L143.3,310.1 L143.7,310.5 L144.1,310.5 L144.5,310.5 L144.9,310.5 L145.3,310.2 L145.7,310.5 L146.1,310.4 L146.5,310.5 L146.9,310.5 L147.3,310.5 L147.7,310.5 L148.1,310.5 L148.5,310.5 L148.9,310.4 L149.3,309.2 L149.7,308.3 L150.1,309.0 L150.5,309.8 L150.9,310.3 L151.3,310.2 L151.7,310.2 L152.1,310.3 L152.5,310.5 L152.9,310.4 L153.3,310.1 L153.7,310.2 L154.1,310.4 L154.5,310.5 L154.9,310.5 L155.3,310.5 L155.7,310.2 L156.1,310.5 L156.5,310.5 L156.9,310.5 L157.3,310.5 L157.7,310.0 L158.1,309.7 L158.5,309.4 L158.9,307.5 L159.3,309.9 L159.7,310.5 L160.1,310.3 L160.5,310.0 L160.9,310.4 L161.3,310.0 L161.7,310.3 L162.1,310.0 L162.5,309.6 L162.9,307.8 L163.3,309.0 L163.7,308.9 L164.1,309.7 L164.5,309.3 L164.9,310.1 L165.3,309.4 L165.7,309.9 L166.1,310.4 L166.5,310.5 L166.9,310.4 L167.3,310.5 L167.7,310.5 L168.1,310.1 L168.5,310.3 L168.9,310.2 L169.3,310.0 L169.7,310.0 L170.1,310.5 L170.5,310.5 L170.9,310.5 L171.3,309.6 L171.7,309.1 L172.1,309.5 L172.5,310.1 L172.9,309.9 L173.3,310.3 L173.7,309.4 L174.1,310.1 L174.5,310.5 L174.9,310.5 L175.3,308.4 L175.7,309.6 L176.1,309.8 L176.5,310.2 L176.9,310.5 L177.3,310.5 L177.7,310.5 L178.1,310.5 L178.5,309.2 L178.9,309.9 L179.3,310.2 L179.7,310.2 L180.1,310.1 L180.5,310.4 L180.9,309.5 L181.3,310.0 L181.7,310.2 L182.1,309.6 L182.5,309.9 L182.9,310.4 L183.3,310.5 L183.7,310.2 L184.1,310.4 L184.5,309.8 L184.9,310.3 L185.3,310.5 L185.7,310.5 L186.1,310.4 L186.5,310.5 L186.9,310.5 L187.3,310.3 L187.7,309.5 L188.1,309.6 L188.5,309.6 L188.9,309.9 L189.3,309.8 L189.7,309.6 L190.1,310.2 L190.5,309.8 L190.9,310.2 L191.3,310.1 L191.7,310.2 L192.1,310.2 L192.5,309.8 L192.9,310.0 L193.3,310.2 L193.7,309.2 L194.1,309.7 L194.5,309.8 L194.9,310.3 L195.3,308.7 L195.7,309.5 L196.1,309.8 L196.5,310.4 L196.9,310.0 L197.3,310.0 L197.7,309.4 L198.1,309.3 L198.5,309.8 L198.9,310.2 L199.3,310.4 L199.7,310.3 L200.1,310.4 L200.5,310.2 L200.9,310.5 L201.3,309.2 L201.7,310.0 L202.1,310.3 L202.5,310.2 L202.9,309.3 L203.3,310.0 L203.7,310.4 L204.1,310.1 L204.5,309.9 L204.9,309.7 L205.3,309.4 L205.7,309.8 L206.1,309.7 L206.5,310.3 L206.9,310.3 L207.3,310.5 L207.7,310.5 L208.1,310.5 L208.5,310.5 L208.9,310.5 L209.3,310.5 L209.7,310.0 L210.1,309.5 L210.5,308.4 L210.9,309.0 L211.3,309.1 L211.7,309.0 L212.1,309.9 L212.5,310.4 L212.9,310.5 L213.3,310.0 L213.7,309.9 L214.1,310.2 L214.5,309.5 L214.9,309.5 L215.3,309.2 L215.7,309.8 L216.1,310.4 L216.5,310.5 L216.9,308.8 L217.3,309.7 L217.7,309.5 L218.1,310.2 L218.5,310.0 L218.9,310.1 L219.3,310.1 L219.7,310.3 L220.1,310.4 L220.5,310.2 L220.9,309.6 L221.3,309.8 L221.7,310.0 L222.1,310.4 L222.5,310.5 L222.9,310.3 L223.3,310.0 L223.7,310.4 L224.1,309.5 L224.5,309.1 L224.9,309.9 L225.3,310.3 L225.7,310.5 L226.1,310.1 L226.5,310.2 L226.9,310.2 L227.3,309.5 L227.7,304.9 L228.1,304.9 L228.5,309.9 L228.9,310.4 L229.3,310.1 L229.7,310.2 L230.1,310.5 L230.5,310.5 L230.9,309.8 L231.3,309.6 L231.7,310.0 L232.1,310.0 L232.5,310.1 L232.9,310.1 L233.3,309.6 L233.7,308.0 L234.1,309.4 L234.5,310.1 L234.9,310.0 L235.3,309.9 L235.7,309.9 L236.1,309.6 L236.5,310.2 L236.9,310.5 L237.3,308.0 L237.7,308.4 L238.1,309.1 L238.5,309.4 L238.9,309.8 L239.3,310.2 L239.7,308.5 L240.1,309.0 L240.5,309.9 L240.9,309.3 L241.3,309.9 L241.7,309.6 L242.1,310.2 L242.5,310.2 L242.9,309.4 L243.3,309.8 L243.7,310.1 L244.1,309.9 L244.5,309.7 L244.9,309.9 L245.3,310.3 L245.7,310.4 L246.1,309.7 L246.5,309.8 L246.9,310.1 L247.3,309.9 L247.7,310.3 L248.1,310.5 L248.5,310.5 L248.9,310.5 L249.3,310.4 L249.7,310.5 L250.1,310.5 L250.5,310.4 L250.9,310.5 L251.3,310.4 L251.7,310.0 L252.1,309.9 L252.5,310.0 L252.9,310.3 L253.3,310.5 L253.7,310.1 L254.1,310.5 L254.5,310.5 L254.9,310.4 L255.3,309.6 L255.7,308.8 L256.1,309.8 L256.5,309.9 L256.9,309.9 L257.3,310.0 L257.7,309.4 L258.1,309.9 L258.5,309.5 L258.9,309.7 L259.3,310.3 L259.7,309.9 L260.1,309.9 L260.5,310.0 L260.9,309.1 L261.3,309.6 L261.7,309.9 L262.1,309.9 L262.5,310.2 L262.9,309.9 L263.3,310.0 L263.7,310.3 L264.1,310.4 L264.5,310.4 L264.9,310.5 L265.3,310.5 L265.7,310.5 L266.1,310.5 L266.5,309.9 L266.9,309.9 L267.3,310.0 L267.7,310.3 L268.1,309.6 L268.5,309.4 L268.9,310.1 L269.3,309.1 L269.7,309.7 L270.1,310.3 L270.5,310.4 L270.9,309.8 L271.3,310.1 L271.7,309.6 L272.1,309.8 L272.5,310.3 L272.9,310.4 L273.3,310.3 L273.7,310.0 L274.1,309.8 L274.5,309.5 L274.9,309.8 L275.3,309.6 L275.7,310.0 L276.1,310.3 L276.5,309.7 L276.9,309.8 L277.3,308.5 L277.7,309.7 L278.1,309.1 L278.5,309.1 L278.9,309.9 L279.3,310.1 L279.7,309.9 L280.1,310.3 L280.5,310.4 L280.9,310.5 L281.3,310.5 L281.7,310.4 L282.1,310.3 L282.5,310.0 L282.9,309.6 L283.3,310.2 L283.7,310.5 L284.1,310.5 L284.5,310.5 L284.9,310.5 L285.3,310.2 L285.7,310.5 L286.1,310.1 L286.5,310.5 L286.9,310.2 L287.3,309.9 L287.7,310.1 L288.1,310.4 L288.5,310.5 L288.9,310.4 L289.3,310.5 L289.7,310.3 L290.1,309.9 L290.5,310.4 L290.9,310.5 L291.3,309.7 L291.7,309.6 L292.1,310.0 L292.5,310.4 L292.9,309.2 L293.3,308.5 L293.7,309.3 L294.1,310.1 L294.5,308.4 L294.9,309.7 L295.3,310.2 L295.7,310.5 L296.1,310.3 L296.5,310.5 L296.9,310.5 L297.3,308.6 L297.7,309.7 L298.1,310.1 L298.5,310.5 L298.9,310.1 L299.3,310.2 L299.7,309.9 L300.1,309.9 L300.5,309.3 L300.9,309.6 L301.3,310.1 L301.7,310.1 L302.1,310.4 L302.5,310.3 L302.9,310.5 L303.3,310.5 L303.7,309.4 L304.1,310.1 L304.5,310.4 L304.9,310.4 L305.3,310.4 L305.7,310.3 L306.1,310.5 L306.5,309.9 L306.9,308.9 L307.3,308.9 L307.7,310.4 L308.1,310.1 L308.5,309.8 L308.9,309.8 L309.3,310.4 L309.7,310.4 L310.1,309.5 L310.5,310.0 L310.9,309.6 L311.3,310.1 L311.7,309.4 L312.1,309.7 L312.5,310.2 L312.9,310.3 L313.3,310.5 L313.7,310.3 L314.1,310.4 L314.5,310.5 L314.9,310.5 L315.3,309.7 L315.7,309.3 L316.1,309.8 L316.5,310.1 L316.9,310.4 L317.3,309.5 L317.7,310.1 L318.1,309.9 L318.5,309.9 L318.9,310.4 L319.3,310.5 L319.7,309.8 L320.1,310.3 L320.5,310.3 L320.9,310.0 L321.3,310.1 L321.7,309.4 L322.1,309.8 L322.5,310.0 L322.9,310.4 L323.3,310.5 L323.7,310.5 L324.1,310.3 L324.5,310.0 L324.9,308.1 L325.3,309.1 L325.7,309.8 L326.1,309.9 L326.5,309.9 L326.9,310.3 L327.3,309.7 L327.7,310.2 L328.1,310.3 L328.5,310.5 L328.9,310.3 L329.3,310.5 L329.7,310.4 L330.1,309.2 L330.5,309.4 L330.9,310.1 L331.3,310.5 L331.7,310.4 L332.1,310.5 L332.5,310.5 L332.9,310.1 L333.3,310.2 L333.7,309.5 L334.1,309.1 L334.5,309.3 L334.9,309.6 L335.3,309.7 L335.7,308.3 L336.1,309.4 L336.5,310.1 L336.9,309.6 L337.3,309.8 L337.7,310.0 L338.1,309.4 L338.5,309.8 L338.9,310.3 L339.3,309.9 L339.7,309.4 L340.1,308.7 L340.5,309.5 L340.9,309.5 L341.3,309.4 L341.7,310.1 L342.1,310.3 L342.5,310.3 L342.9,310.3 L343.3,310.2 L343.7,310.2 L344.1,310.4 L344.5,310.2 L344.9,310.5 L345.3,310.3 L345.7,310.5 L346.1,310.0 L346.5,310.1 L346.9,310.4 L347.3,310.3 L347.7,310.3 L348.1,309.9 L348.5,310.2 L348.9,309.9 L349.3,310.4 L349.7,310.4 L350.1,309.7 L350.5,309.8 L350.9,310.1 L351.3,310.4 L351.7,310.3 L352.1,310.5 L352.5,310.5 L352.9,310.3 L353.3,310.5 L353.7,310.2 L354.1,308.8 L354.5,309.7 L354.9,310.4 L355.3,310.5 L355.7,310.0 L356.1,310.0 L356.5,310.0 L356.9,310.0 L357.3,310.3 L357.7,310.5 L358.1,310.5 L358.5,310.4 L358.9,310.1 L359.3,310.4 L359.7,310.5 L360.1,310.5 L360.5,310.5 L360.9,310.2 L361.3,309.8 L361.7,309.6 L362.1,309.9 L362.5,309.7 L362.9,309.3 L363.3,309.7 L363.7,310.3 L364.1,310.2 L364.5,309.7 L364.9,309.4 L365.3,309.5 L365.7,310.1 L366.1,310.4 L366.5,309.9 L366.9,310.1 L367.3,309.8 L367.7,310.0 L368.1,310.5 L368.5,309.7 L368.9,310.0 L369.3,308.9 L369.7,309.6 L370.1,310.2 L370.5,309.5 L370.9,310.0 L371.3,310.2 L371.7,310.4 L372.1,309.7 L372.5,310.3 L372.9,310.4 L373.3,310.4 L373.7,310.4 L374.1,310.2 L374.5,310.3 L374.9,310.2 L375.3,310.2 L375.7,310.1 L376.1,309.8 L376.5,309.8 L376.9,310.3 L377.3,309.6 L377.7,310.2 L378.1,309.9 L378.5,309.7 L378.9,310.1 L379.3,310.0 L379.7,310.0 L380.1,307.9 L380.5,308.9 L380.9,309.5 L381.3,310.0 L381.7,310.1 L382.1,310.5 L382.5,309.8 L382.9,310.2 L383.3,310.0 L383.7,309.6 L384.1,308.2 L384.5,309.1 L384.9,309.5 L385.3,310.0 L385.7,310.1 L386.1,309.6 L386.5,310.1 L386.9,310.4 L387.3,310.5 L387.7,309.9 L388.1,309.9 L388.5,309.9 L388.9,310.1 L389.3,309.9 L389.7,309.0 L390.1,308.6 L390.5,309.6 L390.9,309.3 L391.3,310.1 L391.7,310.2 L392.1,309.8 L392.5,309.8 L392.9,308.6 L393.3,309.6 L393.7,309.9 L394.1,309.4 L394.5,309.8 L394.9,310.1 L395.3,310.3 L395.7,310.3 L396.1,310.5 L396.5,310.5 L396.9,310.5 L397.3,310.3 L397.7,310.5 L398.1,310.5 L398.5,310.0 L398.9,309.7 L399.3,309.7 L399.7,309.8 L400.1,310.1 L400.5,310.5 L400.9,309.7 L401.3,309.3 L401.7,309.8 L402.1,310.2 L402.5,310.5 L402.9,310.5 L403.3,310.5 L403.7,310.2 L404.1,310.5 L404.5,310.2 L404.9,310.5 L405.3,310.5 L405.7,310.4 L406.1,309.7 L406.5,310.2 L406.9,310.2 L407.3,310.0 L407.7,310.0 L408.1,310.4 L408.5,310.1 L408.9,309.9 L409.3,309.3 L409.7,310.1 L410.1,302.4 L410.5,308.3 L410.9,310.0 L411.3,309.8 L411.7,309.8 L412.1,309.6 L412.5,309.4 L412.9,310.1 L413.3,310.2 L413.7,309.8 L414.1,310.2 L414.5,310.5 L414.9,310.4 L415.3,310.5 L415.7,310.5 L416.1,310.3 L416.5,310.0 L416.9,309.8 L417.3,310.1 L417.7,310.4 L418.1,310.2 L418.5,310.5 L418.9,309.6 L419.3,310.0 L419.7,310.2 L420.1,310.5 L420.5,309.6 L420.9,310.2 L421.3,310.4 L421.7,310.5 L422.1,310.3 L422.5,310.4 L422.9,309.7 L423.3,310.3 L423.7,310.5 L424.1,310.3 L424.5,310.3 L424.9,310.5 L425.3,310.5 L425.7,310.5 L426.1,310.5 L426.5,310.2 L426.9,310.0 L427.3,309.5 L427.7,309.9 L428.1,310.2 L428.5,309.8 L428.9,309.5 L429.3,310.2 L429.7,310.4 L430.1,310.5 L430.5,309.9 L430.9,309.9 L431.3,310.4 L431.7,310.5 L432.0,311.0 Z" fill="#e2735f" stroke="#e2735f" stroke-width="0.3"/>
<line x1="31.7" y1="310.5" x2="432.0" y2="310.5" stroke="#e2735f" stroke-width="1.1"/>
<path d="M35.5,314.0 H31.7 V332.0" stroke="#6d6e71" stroke-width="0.7" fill="none"/>
<text x="36.0" y="320.0" font-size="7" text-anchor="start" fill="#231f20">93</text>
<text x="28.2" y="325.6" font-size="7.6" text-anchor="end" fill="#231f20">U2OS</text>
<path d="M31.7,332.0 L32.1,331.3 L32.5,331.3 L32.9,331.3 L33.3,331.1 L33.7,331.0 L34.1,331.0 L34.5,331.1 L34.9,331.4 L35.3,331.4 L35.7,331.4 L36.1,331.4 L36.5,331.0 L36.9,331.4 L37.3,331.4 L37.7,331.4 L38.1,331.4 L38.5,331.5 L38.9,331.0 L39.3,331.2 L39.7,331.3 L40.1,331.4 L40.5,331.0 L40.9,331.5 L41.3,330.9 L41.7,331.0 L42.1,331.0 L42.5,331.3 L42.9,331.5 L43.3,331.5 L43.7,331.2 L44.1,331.5 L44.5,331.5 L44.9,331.5 L45.3,331.5 L45.7,331.5 L46.1,331.2 L46.5,331.2 L46.9,331.1 L47.3,330.4 L47.7,331.5 L48.1,328.6 L48.5,331.5 L48.9,331.4 L49.3,331.1 L49.7,331.4 L50.1,331.3 L50.5,331.4 L50.9,331.3 L51.3,331.3 L51.7,330.9 L52.1,331.2 L52.5,331.2 L52.9,330.8 L53.3,331.3 L53.7,331.5 L54.1,331.5 L54.5,331.2 L54.9,331.5 L55.3,331.4 L55.7,331.3 L56.1,331.5 L56.5,331.3 L56.9,331.5 L57.3,331.4 L57.7,331.5 L58.1,331.5 L58.5,330.9 L58.9,331.4 L59.3,330.9 L59.7,329.8 L60.1,323.4 L60.5,328.8 L60.9,331.2 L61.3,331.4 L61.7,330.8 L62.1,331.4 L62.5,331.5 L62.9,331.5 L63.3,331.5 L63.7,331.5 L64.1,331.5 L64.5,331.5 L64.9,331.5 L65.3,331.5 L65.7,331.1 L66.1,331.2 L66.5,331.4 L66.9,331.5 L67.3,331.5 L67.7,331.5 L68.1,331.5 L68.5,331.2 L68.9,331.5 L69.3,331.4 L69.7,331.2 L70.1,331.5 L70.5,331.5 L70.9,331.5 L71.3,331.4 L71.7,331.5 L72.1,331.5 L72.5,331.4 L72.9,331.4 L73.3,331.5 L73.7,331.4 L74.1,331.3 L74.5,331.0 L74.9,330.9 L75.3,331.0 L75.7,331.4 L76.1,331.2 L76.5,331.1 L76.9,331.0 L77.3,331.4 L77.7,331.4 L78.1,331.2 L78.5,331.4 L78.9,331.0 L79.3,331.3 L79.7,331.4 L80.1,331.1 L80.5,331.4 L80.9,331.4 L81.3,331.5 L81.7,331.4 L82.1,331.3 L82.5,331.5 L82.9,331.5 L83.3,331.5 L83.7,331.4 L84.1,330.3 L84.5,330.5 L84.9,331.0 L85.3,331.3 L85.7,331.4 L86.1,331.5 L86.5,331.5 L86.9,331.2 L87.3,331.3 L87.7,330.8 L88.1,331.3 L88.5,330.8 L88.9,331.2 L89.3,331.0 L89.7,331.1 L90.1,331.2 L90.5,331.4 L90.9,331.5 L91.3,331.5 L91.7,331.1 L92.1,330.9 L92.5,330.8 L92.9,331.1 L93.3,331.0 L93.7,331.4 L94.1,331.3 L94.5,331.4 L94.9,331.5 L95.3,331.5 L95.7,331.4 L96.1,331.4 L96.5,331.5 L96.9,331.4 L97.3,330.1 L97.7,330.8 L98.1,330.9 L98.5,331.4 L98.9,331.4 L99.3,331.5 L99.7,331.5 L100.1,331.5 L100.5,331.4 L100.9,331.5 L101.3,331.5 L101.7,331.5 L102.1,331.5 L102.5,331.5 L102.9,331.3 L103.3,331.3 L103.7,331.3 L104.1,331.1 L104.5,331.1 L104.9,331.5 L105.3,331.1 L105.7,331.1 L106.1,331.2 L106.5,331.5 L106.9,330.4 L107.3,331.2 L107.7,331.5 L108.1,331.5 L108.5,331.2 L108.9,331.3 L109.3,331.5 L109.7,331.2 L110.1,331.5 L110.5,331.2 L110.9,331.4 L111.3,331.5 L111.7,331.5 L112.1,331.5 L112.5,331.5 L112.9,331.2 L113.3,331.5 L113.7,331.0 L114.1,330.8 L114.5,330.8 L114.9,331.2 L115.3,331.4 L115.7,331.0 L116.1,331.3 L116.5,331.5 L116.9,331.3 L117.3,331.4 L117.7,331.1 L118.1,331.5 L118.5,331.5 L118.9,331.4 L119.3,331.5 L119.7,331.2 L120.1,330.6 L120.5,330.7 L120.9,329.9 L121.3,324.3 L121.7,324.3 L122.1,328.6 L122.5,331.1 L122.9,331.0 L123.3,331.2 L123.7,331.2 L124.1,330.7 L124.5,331.1 L124.9,331.1 L125.3,331.0 L125.7,330.2 L126.1,326.8 L126.5,326.8 L126.9,325.5 L127.3,317.4 L127.7,330.0 L128.1,330.7 L128.5,330.7 L128.9,330.9 L129.3,331.4 L129.7,331.3 L130.1,331.5 L130.5,330.8 L130.9,331.3 L131.3,331.5 L131.7,331.5 L132.1,331.4 L132.5,331.5 L132.9,330.9 L133.3,330.7 L133.7,331.0 L134.1,331.4 L134.5,331.4 L134.9,331.4 L135.3,331.3 L135.7,331.1 L136.1,330.9 L136.5,331.3 L136.9,330.9 L137.3,330.7 L137.7,331.2 L138.1,331.4 L138.5,331.5 L138.9,331.3 L139.3,331.3 L139.7,331.5 L140.1,331.5 L140.5,331.2 L140.9,331.2 L141.3,331.3 L141.7,331.5 L142.1,331.2 L142.5,331.4 L142.9,331.5 L143.3,331.5 L143.7,331.5 L144.1,331.4 L144.5,331.5 L144.9,331.5 L145.3,331.5 L145.7,331.5 L146.1,331.5 L146.5,331.5 L146.9,331.5 L147.3,331.5 L147.7,331.4 L148.1,330.9 L148.5,331.1 L148.9,331.5 L149.3,331.1 L149.7,331.5 L150.1,331.2 L150.5,331.0 L150.9,331.2 L151.3,331.2 L151.7,331.2 L152.1,331.4 L152.5,331.2 L152.9,331.3 L153.3,331.2 L153.7,331.2 L154.1,331.0 L154.5,331.4 L154.9,331.5 L155.3,331.5 L155.7,331.3 L156.1,331.4 L156.5,331.3 L156.9,331.1 L157.3,330.9 L157.7,331.5 L158.1,331.2 L158.5,331.1 L158.9,331.2 L159.3,331.4 L159.7,331.5 L160.1,331.5 L160.5,331.1 L160.9,331.1 L161.3,330.7 L161.7,331.3 L162.1,331.4 L162.5,331.1 L162.9,331.4 L163.3,331.5 L163.7,331.5 L164.1,331.5 L164.5,331.3 L164.9,331.3 L165.3,331.5 L165.7,331.5 L166.1,331.1 L166.5,331.3 L166.9,331.2 L167.3,331.5 L167.7,331.4 L168.1,331.5 L168.5,331.3 L168.9,331.5 L169.3,331.5 L169.7,331.5 L170.1,331.0 L170.5,331.1 L170.9,331.4 L171.3,331.5 L171.7,331.5 L172.1,331.3 L172.5,331.5 L172.9,331.5 L173.3,331.5 L173.7,331.5 L174.1,331.4 L174.5,331.3 L174.9,328.6 L175.3,330.3 L175.7,331.0 L176.1,330.7 L176.5,331.3 L176.9,331.5 L177.3,331.5 L177.7,331.2 L178.1,331.4 L178.5,331.5 L178.9,331.5 L179.3,331.5 L179.7,331.2 L180.1,331.3 L180.5,331.0 L180.9,331.3 L181.3,331.1 L181.7,331.5 L182.1,331.5 L182.5,331.3 L182.9,331.1 L183.3,331.0 L183.7,331.1 L184.1,331.3 L184.5,331.5 L184.9,331.1 L185.3,331.4 L185.7,331.5 L186.1,331.5 L186.5,331.5 L186.9,331.2 L187.3,331.4 L187.7,331.0 L188.1,330.4 L188.5,330.9 L188.9,331.3 L189.3,331.5 L189.7,331.5 L190.1,331.5 L190.5,331.5 L190.9,331.5 L191.3,331.5 L191.7,331.5 L192.1,331.5 L192.5,331.5 L192.9,331.5 L193.3,331.5 L193.7,331.5 L194.1,331.5 L194.5,331.5 L194.9,331.4 L195.3,331.4 L195.7,331.5 L196.1,331.3 L196.5,331.4 L196.9,331.2 L197.3,331.5 L197.7,331.5 L198.1,331.2 L198.5,331.0 L198.9,331.5 L199.3,331.3 L199.7,331.5 L200.1,331.5 L200.5,331.5 L200.9,331.2 L201.3,331.1 L201.7,331.2 L202.1,331.3 L202.5,331.0 L202.9,331.1 L203.3,331.5 L203.7,331.5 L204.1,331.5 L204.5,331.4 L204.9,331.5 L205.3,331.4 L205.7,331.3 L206.1,331.5 L206.5,331.3 L206.9,331.2 L207.3,331.5 L207.7,331.5 L208.1,331.2 L208.5,331.5 L208.9,331.5 L209.3,331.5 L209.7,331.5 L210.1,331.5 L210.5,331.5 L210.9,331.3 L211.3,331.0 L211.7,331.4 L212.1,331.5 L212.5,331.0 L212.9,331.2 L213.3,331.3 L213.7,330.9 L214.1,331.3 L214.5,331.5 L214.9,331.5 L215.3,331.5 L215.7,331.4 L216.1,331.2 L216.5,331.5 L216.9,331.4 L217.3,331.5 L217.7,331.5 L218.1,331.5 L218.5,331.1 L218.9,331.5 L219.3,331.3 L219.7,331.5 L220.1,331.4 L220.5,331.5 L220.9,331.3 L221.3,331.5 L221.7,331.4 L222.1,331.5 L222.5,331.5 L222.9,331.1 L223.3,330.9 L223.7,331.2 L224.1,331.5 L224.5,331.5 L224.9,331.5 L225.3,331.5 L225.7,331.5 L226.1,331.2 L226.5,331.5 L226.9,331.3 L227.3,328.8 L227.7,325.1 L228.1,325.1 L228.5,331.0 L228.9,331.2 L229.3,331.1 L229.7,331.1 L230.1,331.5 L230.5,331.5 L230.9,331.5 L231.3,330.5 L231.7,331.2 L232.1,330.4 L232.5,330.7 L232.9,331.3 L233.3,331.2 L233.7,331.5 L234.1,331.5 L234.5,331.5 L234.9,331.5 L235.3,331.3 L235.7,331.4 L236.1,331.0 L236.5,329.8 L236.9,330.7 L237.3,331.3 L237.7,331.5 L238.1,331.5 L238.5,331.5 L238.9,331.4 L239.3,331.5 L239.7,331.5 L240.1,331.5 L240.5,331.5 L240.9,331.5 L241.3,331.5 L241.7,331.2 L242.1,331.5 L242.5,331.3 L242.9,331.3 L243.3,331.3 L243.7,331.0 L244.1,330.4 L244.5,330.9 L244.9,331.4 L245.3,331.2 L245.7,331.4 L246.1,331.4 L246.5,331.5 L246.9,331.1 L247.3,331.5 L247.7,330.0 L248.1,330.9 L248.5,331.4 L248.9,331.3 L249.3,331.1 L249.7,331.0 L250.1,331.1 L250.5,331.4 L250.9,331.2 L251.3,331.4 L251.7,331.2 L252.1,331.4 L252.5,331.4 L252.9,331.4 L253.3,331.0 L253.7,331.0 L254.1,331.4 L254.5,331.5 L254.9,331.3 L255.3,331.5 L255.7,331.4 L256.1,331.2 L256.5,331.2 L256.9,331.5 L257.3,331.3 L257.7,331.2 L258.1,331.4 L258.5,331.5 L258.9,331.5 L259.3,331.5 L259.7,331.5 L260.1,331.5 L260.5,331.3 L260.9,331.5 L261.3,331.5 L261.7,331.5 L262.1,331.5 L262.5,331.5 L262.9,331.5 L263.3,331.5 L263.7,331.5 L264.1,331.5 L264.5,331.5 L264.9,331.5 L265.3,331.5 L265.7,331.5 L266.1,331.5 L266.5,331.3 L266.9,331.5 L267.3,331.2 L267.7,331.5 L268.1,330.9 L268.5,331.4 L268.9,331.0 L269.3,331.3 L269.7,331.5 L270.1,331.5 L270.5,331.5 L270.9,331.5 L271.3,331.5 L271.7,330.7 L272.1,331.0 L272.5,331.5 L272.9,330.9 L273.3,331.1 L273.7,331.0 L274.1,331.2 L274.5,331.0 L274.9,331.5 L275.3,331.5 L275.7,331.5 L276.1,331.5 L276.5,331.5 L276.9,331.3 L277.3,330.9 L277.7,331.3 L278.1,331.4 L278.5,331.5 L278.9,331.5 L279.3,331.5 L279.7,331.5 L280.1,331.5 L280.5,331.5 L280.9,331.5 L281.3,330.8 L281.7,331.3 L282.1,331.1 L282.5,331.5 L282.9,330.9 L283.3,331.4 L283.7,331.5 L284.1,331.5 L284.5,331.5 L284.9,331.5 L285.3,331.4 L285.7,331.4 L286.1,331.5 L286.5,331.5 L286.9,331.5 L287.3,331.5 L287.7,331.5 L288.1,331.4 L288.5,331.1 L288.9,331.0 L289.3,331.3 L289.7,331.5 L290.1,331.4 L290.5,331.5 L290.9,331.5 L291.3,331.5 L291.7,331.5 L292.1,331.4 L292.5,331.2 L292.9,330.9 L293.3,331.3 L293.7,331.4 L294.1,331.5 L294.5,331.5 L294.9,331.5 L295.3,331.5 L295.7,331.4 L296.1,331.5 L296.5,330.9 L296.9,331.2 L297.3,331.3 L297.7,331.4 L298.1,331.5 L298.5,331.4 L298.9,331.5 L299.3,331.5 L299.7,331.5 L300.1,331.5 L300.5,331.5 L300.9,331.5 L301.3,331.5 L301.7,331.3 L302.1,331.5 L302.5,330.4 L302.9,331.0 L303.3,331.5 L303.7,331.0 L304.1,331.0 L304.5,331.2 L304.9,331.5 L305.3,331.3 L305.7,331.4 L306.1,331.5 L306.5,331.5 L306.9,331.4 L307.3,331.5 L307.7,331.5 L308.1,331.5 L308.5,331.2 L308.9,331.5 L309.3,331.5 L309.7,330.9 L310.1,331.4 L310.5,331.2 L310.9,331.0 L311.3,331.3 L311.7,331.4 L312.1,331.5 L312.5,331.5 L312.9,331.5 L313.3,331.5 L313.7,331.1 L314.1,331.0 L314.5,331.2 L314.9,331.5 L315.3,331.0 L315.7,331.4 L316.1,331.5 L316.5,331.3 L316.9,331.3 L317.3,331.5 L317.7,330.6 L318.1,330.7 L318.5,331.0 L318.9,331.0 L319.3,331.2 L319.7,331.4 L320.1,331.0 L320.5,330.8 L320.9,331.3 L321.3,331.5 L321.7,331.4 L322.1,331.5 L322.5,331.5 L322.9,331.4 L323.3,331.5 L323.7,331.5 L324.1,331.5 L324.5,331.2 L324.9,331.5 L325.3,331.5 L325.7,330.2 L326.1,330.5 L326.5,331.1 L326.9,331.1 L327.3,330.7 L327.7,331.2 L328.1,331.2 L328.5,331.1 L328.9,330.9 L329.3,330.6 L329.7,331.1 L330.1,331.3 L330.5,331.2 L330.9,331.3 L331.3,331.5 L331.7,331.5 L332.1,331.4 L332.5,331.2 L332.9,331.4 L333.3,331.5 L333.7,331.5 L334.1,331.5 L334.5,331.5 L334.9,331.5 L335.3,331.5 L335.7,331.5 L336.1,331.5 L336.5,331.2 L336.9,331.4 L337.3,331.5 L337.7,331.4 L338.1,330.7 L338.5,331.1 L338.9,331.4 L339.3,331.4 L339.7,331.5 L340.1,331.2 L340.5,331.5 L340.9,331.1 L341.3,331.2 L341.7,331.3 L342.1,331.3 L342.5,331.5 L342.9,331.4 L343.3,331.5 L343.7,331.5 L344.1,331.5 L344.5,331.5 L344.9,330.3 L345.3,330.9 L345.7,331.4 L346.1,331.4 L346.5,331.5 L346.9,331.4 L347.3,331.3 L347.7,331.5 L348.1,330.9 L348.5,331.3 L348.9,331.0 L349.3,331.0 L349.7,331.1 L350.1,331.0 L350.5,331.5 L350.9,331.3 L351.3,331.4 L351.7,331.5 L352.1,331.3 L352.5,330.9 L352.9,331.2 L353.3,331.5 L353.7,331.4 L354.1,331.2 L354.5,331.5 L354.9,331.4 L355.3,331.5 L355.7,331.5 L356.1,331.3 L356.5,331.3 L356.9,331.5 L357.3,331.5 L357.7,331.5 L358.1,331.5 L358.5,331.5 L358.9,331.4 L359.3,331.5 L359.7,331.3 L360.1,331.0 L360.5,331.4 L360.9,331.5 L361.3,331.5 L361.7,331.5 L362.1,331.4 L362.5,331.5 L362.9,331.5 L363.3,331.5 L363.7,331.2 L364.1,331.0 L364.5,331.4 L364.9,331.5 L365.3,331.5 L365.7,331.5 L366.1,331.5 L366.5,331.5 L366.9,330.9 L367.3,330.7 L367.7,330.8 L368.1,331.1 L368.5,331.4 L368.9,331.5 L369.3,331.5 L369.7,331.5 L370.1,331.5 L370.5,331.5 L370.9,331.1 L371.3,331.2 L371.7,330.3 L372.1,330.3 L372.5,330.9 L372.9,330.9 L373.3,331.0 L373.7,330.2 L374.1,331.1 L374.5,331.1 L374.9,331.4 L375.3,330.5 L375.7,331.0 L376.1,331.1 L376.5,331.5 L376.9,331.4 L377.3,331.4 L377.7,331.5 L378.1,331.5 L378.5,331.5 L378.9,331.5 L379.3,330.8 L379.7,331.1 L380.1,331.4 L380.5,331.3 L380.9,331.0 L381.3,330.8 L381.7,331.3 L382.1,331.2 L382.5,331.3 L382.9,331.5 L383.3,331.4 L383.7,331.5 L384.1,331.5 L384.5,331.1 L384.9,331.4 L385.3,331.5 L385.7,331.2 L386.1,331.1 L386.5,331.1 L386.9,331.4 L387.3,331.4 L387.7,331.5 L388.1,331.5 L388.5,331.5 L388.9,331.4 L389.3,331.4 L389.7,331.2 L390.1,331.3 L390.5,331.3 L390.9,331.4 L391.3,331.4 L391.7,331.5 L392.1,331.5 L392.5,331.5 L392.9,331.4 L393.3,331.5 L393.7,331.4 L394.1,331.4 L394.5,331.3 L394.9,331.5 L395.3,331.3 L395.7,331.4 L396.1,331.5 L396.5,331.1 L396.9,330.6 L397.3,331.3 L397.7,331.3 L398.1,331.5 L398.5,331.5 L398.9,331.5 L399.3,331.0 L399.7,331.0 L400.1,331.5 L400.5,331.5 L400.9,331.4 L401.3,331.5 L401.7,331.5 L402.1,331.5 L402.5,331.5 L402.9,331.5 L403.3,331.1 L403.7,331.2 L404.1,329.8 L404.5,330.9 L404.9,331.3 L405.3,331.4 L405.7,330.9 L406.1,330.9 L406.5,331.4 L406.9,331.3 L407.3,331.3 L407.7,331.3 L408.1,331.3 L408.5,330.8 L408.9,331.1 L409.3,331.2 L409.7,330.7 L410.1,326.8 L410.5,331.4 L410.9,331.5 L411.3,331.5 L411.7,331.5 L412.1,331.5 L412.5,331.4 L412.9,331.5 L413.3,331.5 L413.7,330.7 L414.1,330.7 L414.5,331.4 L414.9,331.4 L415.3,331.5 L415.7,331.5 L416.1,331.5 L416.5,331.5 L416.9,331.1 L417.3,330.9 L417.7,331.1 L418.1,331.5 L418.5,331.1 L418.9,331.5 L419.3,331.5 L419.7,331.1 L420.1,331.2 L420.5,330.9 L420.9,326.8 L421.3,326.8 L421.7,329.6 L422.1,330.8 L422.5,330.9 L422.9,331.2 L423.3,331.2 L423.7,330.9 L424.1,331.1 L424.5,330.9 L424.9,330.2 L425.3,331.0 L425.7,331.2 L426.1,331.0 L426.5,331.0 L426.9,330.8 L427.3,331.1 L427.7,331.3 L428.1,331.5 L428.5,331.5 L428.9,331.3 L429.3,331.5 L429.7,331.5 L430.1,331.5 L430.5,331.4 L430.9,330.9 L431.3,331.0 L431.7,331.1 L432.0,332.0 Z" fill="#5ba55b" stroke="#5ba55b" stroke-width="0.3"/>
<line x1="31.7" y1="331.5" x2="432.0" y2="331.5" stroke="#5ba55b" stroke-width="1.1"/>
<path d="M35.5,334.6 H31.7 V352.5" stroke="#6d6e71" stroke-width="0.7" fill="none"/>
<text x="36.0" y="340.6" font-size="7" text-anchor="start" fill="#231f20">156</text>
<text x="28.2" y="346.2" font-size="7.6" text-anchor="end" fill="#231f20">HeLa</text>
<path d="M31.7,352.5 L32.1,352.0 L32.5,351.6 L32.9,352.0 L33.3,352.0 L33.7,351.7 L34.1,348.6 L34.5,349.4 L34.9,350.4 L35.3,348.6 L35.7,350.0 L36.1,349.7 L36.5,350.8 L36.9,350.5 L37.3,350.5 L37.7,349.7 L38.1,350.6 L38.5,351.1 L38.9,351.8 L39.3,351.5 L39.7,351.6 L40.1,351.0 L40.5,350.7 L40.9,351.3 L41.3,351.6 L41.7,350.1 L42.1,350.8 L42.5,351.2 L42.9,350.6 L43.3,351.1 L43.7,351.6 L44.1,351.4 L44.5,350.9 L44.9,351.6 L45.3,351.9 L45.7,351.1 L46.1,351.4 L46.5,350.8 L46.9,351.5 L47.3,351.6 L47.7,351.4 L48.1,348.7 L48.5,343.1 L48.9,351.4 L49.3,351.9 L49.7,350.6 L50.1,350.8 L50.5,350.4 L50.9,348.2 L51.3,350.3 L51.7,350.6 L52.1,350.7 L52.5,350.1 L52.9,350.4 L53.3,351.0 L53.7,351.0 L54.1,350.5 L54.5,351.0 L54.9,351.3 L55.3,351.2 L55.7,351.4 L56.1,351.8 L56.5,351.7 L56.9,349.3 L57.3,350.8 L57.7,351.6 L58.1,351.4 L58.5,351.4 L58.9,351.7 L59.3,350.1 L59.7,348.4 L60.1,349.1 L60.5,350.9 L60.9,350.5 L61.3,351.3 L61.7,351.8 L62.1,351.3 L62.5,351.8 L62.9,350.5 L63.3,351.2 L63.7,351.8 L64.1,352.0 L64.5,351.6 L64.9,351.3 L65.3,351.5 L65.7,351.3 L66.1,351.4 L66.5,351.8 L66.9,350.5 L67.3,351.3 L67.7,351.4 L68.1,351.4 L68.5,349.9 L68.9,351.1 L69.3,351.2 L69.7,351.5 L70.1,350.9 L70.5,350.7 L70.9,351.4 L71.3,351.7 L71.7,351.4 L72.1,350.8 L72.5,350.9 L72.9,350.1 L73.3,350.5 L73.7,350.7 L74.1,349.7 L74.5,350.2 L74.9,350.7 L75.3,350.9 L75.7,351.5 L76.1,351.5 L76.5,351.5 L76.9,350.6 L77.3,351.3 L77.7,351.8 L78.1,351.9 L78.5,350.3 L78.9,349.8 L79.3,351.0 L79.7,350.6 L80.1,351.5 L80.5,351.4 L80.9,351.2 L81.3,351.7 L81.7,351.4 L82.1,351.9 L82.5,351.5 L82.9,351.7 L83.3,351.5 L83.7,351.9 L84.1,351.6 L84.5,351.4 L84.9,351.8 L85.3,350.7 L85.7,351.5 L86.1,351.4 L86.5,350.2 L86.9,351.0 L87.3,351.5 L87.7,351.9 L88.1,351.3 L88.5,351.5 L88.9,349.4 L89.3,350.6 L89.7,351.4 L90.1,351.4 L90.5,351.6 L90.9,351.3 L91.3,351.6 L91.7,350.3 L92.1,351.0 L92.5,351.6 L92.9,350.1 L93.3,351.2 L93.7,351.8 L94.1,352.0 L94.5,350.9 L94.9,350.3 L95.3,351.0 L95.7,350.1 L96.1,348.0 L96.5,349.9 L96.9,351.1 L97.3,350.3 L97.7,351.1 L98.1,351.0 L98.5,350.2 L98.9,350.4 L99.3,350.5 L99.7,350.7 L100.1,350.4 L100.5,349.0 L100.9,349.9 L101.3,350.7 L101.7,351.5 L102.1,351.4 L102.5,351.5 L102.9,351.8 L103.3,351.6 L103.7,351.9 L104.1,351.8 L104.5,352.0 L104.9,350.7 L105.3,351.2 L105.7,351.4 L106.1,349.6 L106.5,350.6 L106.9,351.0 L107.3,351.4 L107.7,351.6 L108.1,350.3 L108.5,351.4 L108.9,351.7 L109.3,351.4 L109.7,350.5 L110.1,351.0 L110.5,351.6 L110.9,351.2 L111.3,351.1 L111.7,351.1 L112.1,351.5 L112.5,350.2 L112.9,350.2 L113.3,351.3 L113.7,351.1 L114.1,351.3 L114.5,351.3 L114.9,351.1 L115.3,350.9 L115.7,351.0 L116.1,351.1 L116.5,350.6 L116.9,350.8 L117.3,351.4 L117.7,351.9 L118.1,349.5 L118.5,350.9 L118.9,351.5 L119.3,351.8 L119.7,351.5 L120.1,351.1 L120.5,351.5 L120.9,348.7 L121.3,343.9 L121.7,343.9 L122.1,351.3 L122.5,351.6 L122.9,351.9 L123.3,349.6 L123.7,350.0 L124.1,350.9 L124.5,351.0 L124.9,351.4 L125.3,351.3 L125.7,350.4 L126.1,350.8 L126.5,351.5 L126.9,338.0 L127.3,346.3 L127.7,346.2 L128.1,350.8 L128.5,350.7 L128.9,351.6 L129.3,351.3 L129.7,351.6 L130.1,351.4 L130.5,351.8 L130.9,351.3 L131.3,351.7 L131.7,351.2 L132.1,351.4 L132.5,351.0 L132.9,350.8 L133.3,351.4 L133.7,351.8 L134.1,351.7 L134.5,350.4 L134.9,350.8 L135.3,351.2 L135.7,351.0 L136.1,351.1 L136.5,351.5 L136.9,352.0 L137.3,352.0 L137.7,351.3 L138.1,351.3 L138.5,351.1 L138.9,351.3 L139.3,351.4 L139.7,351.4 L140.1,351.8 L140.5,351.6 L140.9,350.4 L141.3,351.3 L141.7,351.4 L142.1,351.4 L142.5,351.0 L142.9,351.6 L143.3,351.9 L143.7,351.6 L144.1,351.5 L144.5,351.6 L144.9,352.0 L145.3,350.3 L145.7,350.3 L146.1,350.9 L146.5,350.9 L146.9,349.9 L147.3,350.5 L147.7,351.3 L148.1,351.1 L148.5,351.0 L148.9,351.1 L149.3,350.9 L149.7,351.5 L150.1,351.9 L150.5,351.1 L150.9,351.1 L151.3,350.6 L151.7,350.8 L152.1,350.7 L152.5,351.4 L152.9,351.4 L153.3,351.6 L153.7,351.9 L154.1,351.7 L154.5,351.4 L154.9,351.4 L155.3,351.7 L155.7,352.0 L156.1,351.2 L156.5,351.8 L156.9,351.8 L157.3,351.9 L157.7,351.8 L158.1,351.9 L158.5,350.4 L158.9,348.2 L159.3,351.1 L159.7,351.6 L160.1,350.9 L160.5,351.7 L160.9,352.0 L161.3,351.8 L161.7,351.6 L162.1,351.2 L162.5,351.4 L162.9,351.1 L163.3,351.1 L163.7,351.6 L164.1,351.1 L164.5,351.4 L164.9,351.5 L165.3,350.8 L165.7,350.9 L166.1,351.1 L166.5,351.1 L166.9,350.6 L167.3,351.4 L167.7,351.2 L168.1,351.5 L168.5,351.7 L168.9,351.6 L169.3,350.5 L169.7,351.0 L170.1,351.6 L170.5,350.7 L170.9,351.4 L171.3,351.5 L171.7,351.8 L172.1,351.2 L172.5,351.0 L172.9,351.4 L173.3,350.3 L173.7,351.3 L174.1,351.2 L174.5,350.3 L174.9,349.1 L175.3,350.9 L175.7,351.0 L176.1,351.7 L176.5,351.2 L176.9,351.4 L177.3,350.9 L177.7,349.8 L178.1,350.6 L178.5,351.1 L178.9,351.3 L179.3,349.9 L179.7,350.0 L180.1,350.8 L180.5,351.3 L180.9,350.9 L181.3,349.2 L181.7,350.9 L182.1,351.7 L182.5,351.1 L182.9,351.7 L183.3,351.6 L183.7,352.0 L184.1,352.0 L184.5,351.6 L184.9,351.3 L185.3,351.3 L185.7,351.8 L186.1,350.7 L186.5,350.6 L186.9,350.9 L187.3,351.3 L187.7,351.7 L188.1,350.9 L188.5,351.1 L188.9,351.4 L189.3,351.6 L189.7,352.0 L190.1,351.7 L190.5,352.0 L190.9,352.0 L191.3,352.0 L191.7,352.0 L192.1,350.5 L192.5,350.8 L192.9,351.6 L193.3,351.3 L193.7,351.8 L194.1,351.2 L194.5,351.4 L194.9,351.9 L195.3,351.4 L195.7,351.1 L196.1,351.0 L196.5,351.6 L196.9,350.7 L197.3,351.0 L197.7,351.3 L198.1,350.7 L198.5,351.2 L198.9,350.9 L199.3,351.1 L199.7,350.9 L200.1,350.1 L200.5,349.9 L200.9,350.1 L201.3,350.8 L201.7,351.6 L202.1,351.9 L202.5,352.0 L202.9,352.0 L203.3,352.0 L203.7,351.4 L204.1,351.9 L204.5,351.4 L204.9,350.9 L205.3,351.6 L205.7,352.0 L206.1,352.0 L206.5,351.8 L206.9,352.0 L207.3,350.5 L207.7,351.5 L208.1,351.1 L208.5,351.4 L208.9,351.7 L209.3,352.0 L209.7,352.0 L210.1,351.8 L210.5,351.7 L210.9,351.3 L211.3,351.7 L211.7,351.2 L212.1,349.9 L212.5,351.2 L212.9,351.4 L213.3,351.0 L213.7,351.6 L214.1,351.8 L214.5,352.0 L214.9,352.0 L215.3,351.2 L215.7,350.1 L216.1,351.2 L216.5,351.3 L216.9,351.5 L217.3,351.7 L217.7,352.0 L218.1,351.5 L218.5,350.7 L218.9,351.4 L219.3,351.9 L219.7,350.5 L220.1,351.0 L220.5,351.2 L220.9,351.6 L221.3,351.8 L221.7,352.0 L222.1,352.0 L222.5,349.9 L222.9,350.4 L223.3,350.4 L223.7,351.2 L224.1,351.4 L224.5,351.0 L224.9,350.7 L225.3,351.4 L225.7,351.8 L226.1,351.5 L226.5,351.6 L226.9,351.1 L227.3,351.0 L227.7,348.2 L228.1,348.2 L228.5,351.1 L228.9,351.4 L229.3,350.2 L229.7,350.1 L230.1,350.7 L230.5,351.0 L230.9,351.0 L231.3,351.2 L231.7,351.3 L232.1,351.1 L232.5,351.4 L232.9,350.5 L233.3,351.3 L233.7,351.1 L234.1,351.4 L234.5,351.2 L234.9,350.8 L235.3,351.0 L235.7,350.7 L236.1,350.4 L236.5,351.2 L236.9,351.6 L237.3,351.5 L237.7,351.0 L238.1,350.4 L238.5,351.0 L238.9,351.6 L239.3,351.3 L239.7,351.6 L240.1,350.6 L240.5,350.7 L240.9,351.4 L241.3,351.0 L241.7,351.6 L242.1,351.9 L242.5,351.6 L242.9,351.4 L243.3,351.2 L243.7,351.6 L244.1,351.6 L244.5,352.0 L244.9,351.4 L245.3,351.8 L245.7,351.6 L246.1,351.6 L246.5,351.2 L246.9,351.5 L247.3,351.4 L247.7,351.7 L248.1,351.9 L248.5,351.6 L248.9,351.9 L249.3,351.2 L249.7,351.2 L250.1,351.3 L250.5,350.8 L250.9,350.5 L251.3,351.1 L251.7,351.7 L252.1,352.0 L252.5,351.9 L252.9,351.4 L253.3,351.3 L253.7,351.6 L254.1,350.7 L254.5,350.9 L254.9,351.6 L255.3,351.7 L255.7,351.2 L256.1,351.1 L256.5,351.6 L256.9,351.0 L257.3,351.4 L257.7,350.9 L258.1,350.6 L258.5,347.6 L258.9,349.3 L259.3,350.3 L259.7,351.4 L260.1,351.8 L260.5,351.1 L260.9,351.4 L261.3,351.8 L261.7,349.1 L262.1,350.6 L262.5,351.0 L262.9,349.1 L263.3,349.5 L263.7,350.3 L264.1,350.7 L264.5,350.9 L264.9,351.1 L265.3,351.2 L265.7,351.6 L266.1,351.7 L266.5,351.8 L266.9,351.4 L267.3,350.7 L267.7,351.6 L268.1,350.9 L268.5,351.6 L268.9,351.7 L269.3,351.8 L269.7,351.2 L270.1,348.0 L270.5,349.9 L270.9,350.6 L271.3,351.4 L271.7,350.5 L272.1,351.2 L272.5,351.8 L272.9,350.9 L273.3,351.2 L273.7,351.6 L274.1,350.6 L274.5,350.2 L274.9,351.0 L275.3,351.1 L275.7,351.4 L276.1,351.7 L276.5,350.8 L276.9,351.1 L277.3,350.6 L277.7,351.2 L278.1,351.5 L278.5,350.9 L278.9,350.9 L279.3,351.6 L279.7,351.9 L280.1,351.6 L280.5,349.8 L280.9,350.0 L281.3,350.8 L281.7,351.3 L282.1,349.8 L282.5,350.5 L282.9,350.9 L283.3,348.6 L283.7,350.5 L284.1,350.5 L284.5,351.1 L284.9,351.3 L285.3,351.2 L285.7,351.3 L286.1,351.6 L286.5,351.6 L286.9,351.6 L287.3,351.0 L287.7,349.3 L288.1,350.2 L288.5,350.2 L288.9,350.3 L289.3,351.3 L289.7,351.9 L290.1,351.6 L290.5,351.8 L290.9,350.5 L291.3,350.4 L291.7,351.0 L292.1,350.9 L292.5,350.9 L292.9,351.6 L293.3,352.0 L293.7,351.8 L294.1,351.6 L294.5,349.9 L294.9,350.5 L295.3,351.0 L295.7,351.5 L296.1,351.4 L296.5,351.5 L296.9,351.6 L297.3,350.3 L297.7,351.1 L298.1,351.4 L298.5,351.3 L298.9,351.4 L299.3,350.9 L299.7,351.1 L300.1,351.7 L300.5,352.0 L300.9,351.6 L301.3,352.0 L301.7,351.1 L302.1,351.1 L302.5,351.2 L302.9,351.6 L303.3,351.4 L303.7,351.0 L304.1,349.7 L304.5,349.8 L304.9,348.9 L305.3,350.0 L305.7,351.0 L306.1,351.5 L306.5,351.9 L306.9,352.0 L307.3,350.8 L307.7,350.2 L308.1,350.8 L308.5,351.1 L308.9,351.4 L309.3,351.2 L309.7,351.3 L310.1,350.8 L310.5,351.5 L310.9,348.2 L311.3,349.6 L311.7,350.1 L312.1,350.7 L312.5,351.5 L312.9,351.6 L313.3,351.1 L313.7,350.6 L314.1,349.6 L314.5,350.9 L314.9,350.8 L315.3,351.4 L315.7,351.9 L316.1,351.4 L316.5,351.8 L316.9,351.6 L317.3,351.7 L317.7,351.7 L318.1,351.1 L318.5,351.1 L318.9,351.0 L319.3,350.7 L319.7,350.8 L320.1,351.0 L320.5,351.7 L320.9,351.1 L321.3,351.8 L321.7,350.7 L322.1,351.1 L322.5,351.6 L322.9,351.7 L323.3,351.6 L323.7,351.4 L324.1,351.1 L324.5,351.0 L324.9,350.3 L325.3,350.7 L325.7,350.7 L326.1,351.1 L326.5,351.3 L326.9,351.6 L327.3,351.8 L327.7,351.7 L328.1,351.3 L328.5,350.7 L328.9,351.4 L329.3,351.6 L329.7,351.2 L330.1,351.2 L330.5,350.9 L330.9,350.6 L331.3,351.2 L331.7,351.7 L332.1,350.8 L332.5,351.6 L332.9,351.8 L333.3,351.5 L333.7,351.3 L334.1,351.6 L334.5,351.8 L334.9,349.9 L335.3,349.9 L335.7,351.6 L336.1,351.6 L336.5,350.9 L336.9,350.5 L337.3,350.6 L337.7,351.2 L338.1,350.9 L338.5,351.2 L338.9,350.7 L339.3,351.5 L339.7,351.4 L340.1,351.6 L340.5,352.0 L340.9,351.3 L341.3,351.0 L341.7,351.1 L342.1,351.5 L342.5,351.5 L342.9,350.5 L343.3,351.4 L343.7,351.6 L344.1,350.8 L344.5,351.5 L344.9,350.6 L345.3,350.5 L345.7,349.8 L346.1,350.0 L346.5,350.3 L346.9,351.0 L347.3,350.4 L347.7,351.1 L348.1,351.6 L348.5,349.9 L348.9,350.9 L349.3,351.6 L349.7,351.4 L350.1,351.8 L350.5,351.2 L350.9,351.8 L351.3,350.4 L351.7,350.5 L352.1,351.2 L352.5,351.4 L352.9,351.9 L353.3,351.5 L353.7,350.7 L354.1,351.5 L354.5,351.4 L354.9,351.1 L355.3,351.2 L355.7,350.5 L356.1,351.3 L356.5,351.6 L356.9,351.6 L357.3,351.7 L357.7,350.8 L358.1,350.8 L358.5,350.3 L358.9,351.3 L359.3,351.8 L359.7,352.0 L360.1,351.4 L360.5,351.3 L360.9,351.2 L361.3,350.8 L361.7,349.8 L362.1,350.9 L362.5,351.0 L362.9,349.6 L363.3,349.6 L363.7,350.1 L364.1,350.7 L364.5,351.1 L364.9,350.6 L365.3,350.8 L365.7,351.1 L366.1,351.2 L366.5,351.8 L366.9,349.4 L367.3,349.8 L367.7,350.9 L368.1,350.8 L368.5,351.2 L368.9,350.2 L369.3,350.8 L369.7,350.5 L370.1,350.2 L370.5,350.7 L370.9,351.6 L371.3,352.0 L371.7,351.7 L372.1,351.4 L372.5,351.6 L372.9,351.9 L373.3,351.6 L373.7,351.8 L374.1,351.3 L374.5,351.6 L374.9,352.0 L375.3,352.0 L375.7,352.0 L376.1,351.8 L376.5,350.4 L376.9,350.8 L377.3,350.6 L377.7,351.2 L378.1,351.7 L378.5,351.9 L378.9,350.7 L379.3,351.1 L379.7,351.6 L380.1,351.3 L380.5,351.2 L380.9,351.2 L381.3,350.8 L381.7,350.8 L382.1,351.3 L382.5,351.6 L382.9,352.0 L383.3,351.8 L383.7,352.0 L384.1,351.5 L384.5,350.5 L384.9,349.8 L385.3,350.7 L385.7,350.6 L386.1,351.2 L386.5,350.9 L386.9,351.0 L387.3,351.4 L387.7,351.3 L388.1,351.8 L388.5,351.3 L388.9,351.3 L389.3,351.3 L389.7,351.4 L390.1,351.9 L390.5,351.9 L390.9,351.0 L391.3,351.2 L391.7,350.6 L392.1,350.9 L392.5,351.2 L392.9,350.7 L393.3,351.3 L393.7,351.2 L394.1,350.2 L394.5,351.1 L394.9,351.5 L395.3,351.6 L395.7,351.8 L396.1,352.0 L396.5,351.3 L396.9,351.2 L397.3,351.7 L397.7,352.0 L398.1,352.0 L398.5,351.0 L398.9,350.9 L399.3,351.1 L399.7,351.3 L400.1,350.2 L400.5,351.2 L400.9,351.4 L401.3,351.1 L401.7,351.1 L402.1,351.7 L402.5,351.7 L402.9,351.9 L403.3,351.5 L403.7,351.9 L404.1,351.4 L404.5,351.3 L404.9,351.8 L405.3,349.6 L405.7,350.1 L406.1,350.9 L406.5,351.5 L406.9,351.4 L407.3,351.6 L407.7,351.3 L408.1,351.6 L408.5,351.6 L408.9,345.7 L409.3,345.7 L409.7,349.7 L410.1,339.7 L410.5,348.7 L410.9,350.8 L411.3,351.2 L411.7,351.6 L412.1,351.1 L412.5,351.6 L412.9,352.0 L413.3,349.9 L413.7,350.5 L414.1,351.2 L414.5,350.3 L414.9,350.5 L415.3,349.8 L415.7,350.6 L416.1,350.7 L416.5,350.6 L416.9,351.2 L417.3,350.3 L417.7,350.7 L418.1,350.7 L418.5,351.0 L418.9,351.2 L419.3,351.8 L419.7,351.5 L420.1,352.0 L420.5,351.1 L420.9,350.9 L421.3,351.7 L421.7,350.9 L422.1,351.3 L422.5,351.8 L422.9,351.0 L423.3,351.2 L423.7,350.7 L424.1,351.0 L424.5,351.2 L424.9,351.1 L425.3,351.2 L425.7,351.3 L426.1,350.9 L426.5,350.8 L426.9,350.4 L427.3,350.9 L427.7,351.3 L428.1,351.4 L428.5,351.4 L428.9,351.9 L429.3,351.4 L429.7,351.8 L430.1,352.0 L430.5,352.0 L430.9,351.2 L431.3,351.1 L431.7,351.3 L432.0,352.5 Z" fill="#3a70a6" stroke="#3a70a6" stroke-width="0.3"/>
<line x1="31.7" y1="352.0" x2="432.0" y2="352.0" stroke="#3a70a6" stroke-width="1.1"/>
<path d="M35.5,355.5 H31.7 V372.0" stroke="#6d6e71" stroke-width="0.7" fill="none"/>
<text x="36.0" y="361.5" font-size="7" text-anchor="start" fill="#231f20">61</text>
<text x="28.2" y="367.1" font-size="7.6" text-anchor="end" fill="#231f20">HepG2</text>
<path d="M31.7,372.0 L32.1,371.5 L32.5,370.3 L32.9,371.1 L33.3,370.8 L33.7,371.0 L34.1,370.9 L34.5,371.0 L34.9,370.8 L35.3,370.7 L35.7,370.3 L36.1,371.0 L36.5,371.1 L36.9,370.0 L37.3,370.4 L37.7,370.6 L38.1,370.8 L38.5,370.0 L38.9,370.0 L39.3,369.4 L39.7,369.5 L40.1,370.7 L40.5,371.2 L40.9,371.3 L41.3,371.1 L41.7,370.9 L42.1,371.2 L42.5,371.1 L42.9,371.4 L43.3,371.0 L43.7,371.2 L44.1,371.2 L44.5,369.7 L44.9,370.6 L45.3,371.0 L45.7,371.1 L46.1,370.9 L46.5,370.1 L46.9,369.8 L47.3,366.5 L47.7,370.8 L48.1,358.6 L48.5,370.7 L48.9,370.5 L49.3,370.7 L49.7,371.2 L50.1,371.1 L50.5,371.5 L50.9,370.7 L51.3,371.1 L51.7,371.0 L52.1,371.0 L52.5,371.3 L52.9,370.9 L53.3,371.4 L53.7,371.5 L54.1,371.5 L54.5,371.5 L54.9,371.2 L55.3,370.9 L55.7,371.1 L56.1,370.4 L56.5,370.7 L56.9,370.0 L57.3,370.9 L57.7,371.4 L58.1,371.0 L58.5,371.4 L58.9,370.7 L59.3,367.7 L59.7,367.5 L60.1,361.8 L60.5,369.1 L60.9,370.9 L61.3,371.4 L61.7,371.1 L62.1,371.1 L62.5,370.5 L62.9,371.1 L63.3,371.2 L63.7,370.5 L64.1,368.7 L64.5,370.0 L64.9,370.5 L65.3,370.9 L65.7,370.6 L66.1,370.5 L66.5,370.4 L66.9,371.1 L67.3,370.5 L67.7,370.8 L68.1,370.2 L68.5,370.6 L68.9,370.4 L69.3,371.2 L69.7,371.0 L70.1,371.2 L70.5,371.2 L70.9,370.7 L71.3,371.2 L71.7,371.3 L72.1,370.8 L72.5,371.4 L72.9,371.2 L73.3,371.5 L73.7,371.5 L74.1,371.0 L74.5,371.1 L74.9,371.4 L75.3,371.4 L75.7,371.2 L76.1,371.2 L76.5,370.3 L76.9,371.1 L77.3,371.4 L77.7,370.0 L78.1,370.4 L78.5,369.8 L78.9,370.7 L79.3,371.3 L79.7,370.2 L80.1,369.9 L80.5,370.8 L80.9,371.2 L81.3,371.1 L81.7,371.4 L82.1,371.3 L82.5,371.4 L82.9,371.5 L83.3,371.5 L83.7,370.9 L84.1,370.7 L84.5,371.1 L84.9,370.8 L85.3,371.2 L85.7,371.0 L86.1,371.2 L86.5,370.9 L86.9,371.1 L87.3,371.2 L87.7,371.5 L88.1,371.4 L88.5,371.1 L88.9,371.4 L89.3,371.5 L89.7,371.1 L90.1,370.9 L90.5,370.5 L90.9,371.1 L91.3,370.6 L91.7,371.0 L92.1,370.6 L92.5,370.8 L92.9,371.0 L93.3,371.2 L93.7,370.9 L94.1,371.3 L94.5,370.5 L94.9,370.6 L95.3,371.3 L95.7,370.5 L96.1,370.7 L96.5,370.7 L96.9,371.3 L97.3,371.2 L97.7,370.9 L98.1,369.2 L98.5,369.9 L98.9,369.8 L99.3,370.5 L99.7,371.1 L100.1,370.8 L100.5,370.5 L100.9,371.1 L101.3,371.1 L101.7,371.4 L102.1,371.0 L102.5,371.0 L102.9,370.4 L103.3,371.0 L103.7,370.8 L104.1,371.1 L104.5,370.7 L104.9,371.3 L105.3,371.5 L105.7,371.3 L106.1,370.3 L106.5,370.8 L106.9,371.4 L107.3,371.4 L107.7,370.3 L108.1,370.4 L108.5,370.9 L108.9,371.1 L109.3,371.5 L109.7,371.1 L110.1,370.8 L110.5,370.1 L110.9,371.0 L111.3,370.5 L111.7,368.6 L112.1,370.0 L112.5,370.2 L112.9,370.5 L113.3,371.1 L113.7,370.6 L114.1,370.7 L114.5,371.3 L114.9,370.7 L115.3,371.0 L115.7,371.5 L116.1,370.6 L116.5,370.8 L116.9,371.4 L117.3,371.5 L117.7,370.9 L118.1,371.4 L118.5,370.6 L118.9,370.9 L119.3,371.1 L119.7,370.6 L120.1,370.4 L120.5,370.4 L120.9,371.1 L121.3,361.0 L121.7,361.0 L122.1,368.6 L122.5,370.2 L122.9,370.9 L123.3,370.8 L123.7,370.3 L124.1,370.4 L124.5,370.7 L124.9,370.6 L125.3,369.9 L125.7,370.4 L126.1,370.7 L126.5,367.2 L126.9,358.6 L127.3,368.0 L127.7,367.6 L128.1,370.7 L128.5,370.6 L128.9,371.5 L129.3,371.5 L129.7,371.5 L130.1,371.5 L130.5,371.5 L130.9,371.3 L131.3,371.0 L131.7,370.9 L132.1,371.0 L132.5,371.3 L132.9,370.7 L133.3,371.0 L133.7,371.1 L134.1,371.2 L134.5,371.2 L134.9,371.5 L135.3,371.5 L135.7,370.8 L136.1,370.6 L136.5,371.2 L136.9,371.5 L137.3,371.5 L137.7,371.5 L138.1,370.8 L138.5,371.4 L138.9,371.1 L139.3,371.4 L139.7,370.9 L140.1,370.9 L140.5,370.0 L140.9,370.5 L141.3,371.0 L141.7,371.0 L142.1,371.0 L142.5,371.1 L142.9,371.2 L143.3,371.3 L143.7,370.6 L144.1,371.0 L144.5,370.6 L144.9,370.5 L145.3,370.7 L145.7,371.2 L146.1,369.2 L146.5,369.6 L146.9,370.4 L147.3,370.4 L147.7,371.0 L148.1,371.3 L148.5,371.5 L148.9,371.5 L149.3,371.5 L149.7,371.5 L150.1,371.3 L150.5,371.1 L150.9,370.6 L151.3,370.9 L151.7,371.4 L152.1,371.5 L152.5,371.5 L152.9,371.5 L153.3,371.2 L153.7,371.2 L154.1,371.4 L154.5,371.4 L154.9,371.1 L155.3,371.4 L155.7,370.8 L156.1,371.0 L156.5,370.1 L156.9,370.6 L157.3,370.9 L157.7,370.4 L158.1,371.1 L158.5,371.1 L158.9,369.6 L159.3,371.3 L159.7,371.3 L160.1,371.5 L160.5,371.5 L160.9,371.5 L161.3,371.1 L161.7,371.0 L162.1,370.9 L162.5,370.4 L162.9,370.0 L163.3,369.5 L163.7,369.4 L164.1,370.6 L164.5,371.2 L164.9,371.4 L165.3,371.0 L165.7,371.0 L166.1,371.3 L166.5,370.8 L166.9,371.3 L167.3,371.3 L167.7,371.3 L168.1,370.7 L168.5,370.7 L168.9,371.0 L169.3,371.2 L169.7,371.4 L170.1,371.3 L170.5,371.5 L170.9,371.4 L171.3,371.0 L171.7,370.3 L172.1,370.8 L172.5,371.2 L172.9,370.8 L173.3,371.0 L173.7,370.8 L174.1,371.3 L174.5,371.5 L174.9,371.2 L175.3,371.3 L175.7,371.4 L176.1,371.5 L176.5,371.2 L176.9,370.3 L177.3,371.1 L177.7,371.1 L178.1,371.4 L178.5,370.9 L178.9,370.3 L179.3,370.7 L179.7,370.2 L180.1,370.0 L180.5,371.0 L180.9,371.3 L181.3,371.3 L181.7,371.5 L182.1,371.4 L182.5,371.4 L182.9,371.2 L183.3,371.3 L183.7,371.3 L184.1,370.9 L184.5,371.1 L184.9,370.9 L185.3,371.3 L185.7,371.1 L186.1,371.5 L186.5,371.4 L186.9,370.7 L187.3,370.9 L187.7,370.9 L188.1,370.9 L188.5,369.2 L188.9,370.1 L189.3,370.7 L189.7,367.3 L190.1,367.3 L190.5,369.8 L190.9,371.5 L191.3,371.5 L191.7,371.2 L192.1,371.5 L192.5,371.1 L192.9,371.0 L193.3,370.9 L193.7,371.1 L194.1,371.1 L194.5,371.4 L194.9,371.3 L195.3,371.4 L195.7,371.5 L196.1,371.3 L196.5,371.5 L196.9,371.2 L197.3,371.2 L197.7,371.2 L198.1,371.5 L198.5,370.8 L198.9,370.8 L199.3,371.3 L199.7,371.1 L200.1,370.3 L200.5,370.2 L200.9,370.3 L201.3,370.1 L201.7,369.6 L202.1,370.7 L202.5,370.5 L202.9,370.9 L203.3,370.7 L203.7,370.6 L204.1,371.3 L204.5,371.3 L204.9,371.3 L205.3,371.4 L205.7,370.8 L206.1,370.4 L206.5,370.9 L206.9,370.8 L207.3,371.4 L207.7,370.8 L208.1,371.3 L208.5,371.4 L208.9,369.9 L209.3,370.9 L209.7,371.1 L210.1,371.4 L210.5,371.2 L210.9,371.4 L211.3,371.5 L211.7,371.2 L212.1,371.4 L212.5,371.5 L212.9,370.8 L213.3,370.7 L213.7,370.4 L214.1,370.1 L214.5,370.5 L214.9,371.2 L215.3,371.3 L215.7,371.3 L216.1,370.7 L216.5,371.3 L216.9,371.0 L217.3,371.1 L217.7,369.7 L218.1,369.9 L218.5,370.7 L218.9,371.0 L219.3,371.1 L219.7,371.3 L220.1,371.3 L220.5,371.1 L220.9,371.1 L221.3,370.6 L221.7,370.5 L222.1,368.9 L222.5,370.4 L222.9,370.5 L223.3,370.7 L223.7,371.2 L224.1,370.8 L224.5,370.6 L224.9,371.1 L225.3,370.9 L225.7,371.2 L226.1,371.5 L226.5,371.5 L226.9,371.5 L227.3,369.9 L227.7,364.9 L228.1,364.9 L228.5,369.0 L228.9,370.9 L229.3,370.4 L229.7,370.3 L230.1,370.8 L230.5,371.1 L230.9,370.1 L231.3,370.4 L231.7,370.6 L232.1,370.8 L232.5,371.2 L232.9,370.8 L233.3,371.2 L233.7,370.7 L234.1,370.9 L234.5,371.0 L234.9,370.9 L235.3,370.6 L235.7,370.6 L236.1,370.8 L236.5,371.4 L236.9,371.5 L237.3,370.4 L237.7,371.1 L238.1,371.4 L238.5,371.3 L238.9,371.2 L239.3,371.0 L239.7,370.0 L240.1,370.3 L240.5,371.0 L240.9,371.4 L241.3,371.1 L241.7,370.9 L242.1,371.0 L242.5,371.4 L242.9,371.5 L243.3,371.5 L243.7,371.5 L244.1,371.1 L244.5,370.9 L244.9,370.7 L245.3,371.3 L245.7,370.1 L246.1,370.8 L246.5,371.1 L246.9,371.1 L247.3,370.6 L247.7,371.3 L248.1,371.3 L248.5,371.2 L248.9,370.8 L249.3,371.3 L249.7,370.6 L250.1,371.2 L250.5,371.1 L250.9,370.9 L251.3,371.1 L251.7,371.4 L252.1,371.5 L252.5,371.0 L252.9,371.5 L253.3,371.5 L253.7,371.5 L254.1,371.5 L254.5,371.2 L254.9,371.5 L255.3,371.5 L255.7,371.5 L256.1,371.5 L256.5,369.8 L256.9,370.4 L257.3,370.6 L257.7,368.5 L258.1,369.8 L258.5,370.4 L258.9,370.7 L259.3,370.8 L259.7,371.1 L260.1,371.4 L260.5,370.9 L260.9,371.0 L261.3,371.2 L261.7,370.4 L262.1,371.2 L262.5,370.4 L262.9,371.1 L263.3,371.1 L263.7,370.2 L264.1,370.3 L264.5,370.9 L264.9,371.0 L265.3,371.5 L265.7,371.5 L266.1,371.5 L266.5,370.4 L266.9,371.1 L267.3,371.4 L267.7,371.4 L268.1,371.0 L268.5,371.1 L268.9,371.4 L269.3,370.9 L269.7,370.8 L270.1,370.8 L270.5,369.7 L270.9,368.2 L271.3,369.1 L271.7,370.3 L272.1,369.9 L272.5,370.7 L272.9,371.3 L273.3,371.1 L273.7,370.6 L274.1,371.3 L274.5,371.5 L274.9,371.5 L275.3,371.4 L275.7,371.3 L276.1,371.4 L276.5,371.5 L276.9,371.5 L277.3,371.5 L277.7,371.5 L278.1,371.4 L278.5,371.5 L278.9,371.4 L279.3,371.5 L279.7,371.5 L280.1,370.8 L280.5,370.4 L280.9,370.2 L281.3,370.8 L281.7,370.5 L282.1,371.1 L282.5,371.2 L282.9,371.5 L283.3,371.1 L283.7,371.2 L284.1,371.0 L284.5,371.3 L284.9,371.5 L285.3,371.1 L285.7,370.8 L286.1,370.6 L286.5,371.2 L286.9,371.4 L287.3,371.5 L287.7,371.2 L288.1,370.6 L288.5,369.6 L288.9,370.2 L289.3,371.0 L289.7,370.5 L290.1,369.9 L290.5,370.0 L290.9,368.7 L291.3,370.3 L291.7,370.8 L292.1,371.3 L292.5,371.1 L292.9,371.2 L293.3,371.0 L293.7,371.2 L294.1,371.2 L294.5,371.0 L294.9,370.6 L295.3,371.1 L295.7,370.9 L296.1,371.0 L296.5,370.9 L296.9,371.4 L297.3,371.0 L297.7,370.5 L298.1,370.8 L298.5,370.8 L298.9,371.2 L299.3,371.4 L299.7,371.4 L300.1,370.5 L300.5,371.2 L300.9,371.5 L301.3,371.4 L301.7,370.6 L302.1,370.9 L302.5,371.1 L302.9,370.6 L303.3,370.2 L303.7,371.1 L304.1,370.7 L304.5,370.4 L304.9,370.7 L305.3,371.1 L305.7,371.2 L306.1,370.7 L306.5,370.9 L306.9,371.0 L307.3,371.3 L307.7,371.4 L308.1,371.2 L308.5,371.4 L308.9,371.4 L309.3,371.1 L309.7,370.8 L310.1,371.3 L310.5,369.2 L310.9,370.0 L311.3,370.7 L311.7,369.5 L312.1,370.1 L312.5,370.7 L312.9,370.3 L313.3,370.8 L313.7,371.0 L314.1,371.3 L314.5,371.3 L314.9,370.8 L315.3,371.1 L315.7,370.6 L316.1,369.8 L316.5,370.9 L316.9,371.3 L317.3,370.4 L317.7,370.6 L318.1,371.2 L318.5,371.5 L318.9,371.5 L319.3,371.2 L319.7,371.3 L320.1,371.3 L320.5,371.4 L320.9,371.5 L321.3,370.9 L321.7,370.9 L322.1,370.5 L322.5,371.0 L322.9,371.0 L323.3,371.1 L323.7,370.8 L324.1,370.6 L324.5,370.4 L324.9,370.8 L325.3,371.4 L325.7,371.1 L326.1,369.6 L326.5,370.4 L326.9,371.0 L327.3,370.1 L327.7,370.0 L328.1,370.4 L328.5,370.3 L328.9,370.9 L329.3,370.4 L329.7,370.8 L330.1,371.1 L330.5,371.5 L330.9,371.5 L331.3,370.4 L331.7,371.1 L332.1,369.7 L332.5,370.5 L332.9,370.7 L333.3,371.0 L333.7,371.1 L334.1,371.1 L334.5,370.4 L334.9,370.1 L335.3,370.1 L335.7,371.2 L336.1,370.9 L336.5,371.0 L336.9,371.4 L337.3,371.5 L337.7,371.1 L338.1,371.2 L338.5,371.5 L338.9,371.3 L339.3,371.5 L339.7,371.5 L340.1,371.5 L340.5,371.0 L340.9,371.2 L341.3,371.5 L341.7,371.5 L342.1,371.5 L342.5,371.5 L342.9,371.5 L343.3,371.5 L343.7,371.5 L344.1,371.0 L344.5,370.2 L344.9,371.0 L345.3,371.2 L345.7,371.5 L346.1,371.5 L346.5,371.3 L346.9,371.4 L347.3,371.4 L347.7,371.0 L348.1,371.2 L348.5,371.5 L348.9,371.5 L349.3,371.1 L349.7,371.0 L350.1,371.4 L350.5,370.7 L350.9,371.3 L351.3,370.7 L351.7,370.7 L352.1,369.8 L352.5,370.5 L352.9,370.7 L353.3,370.6 L353.7,371.2 L354.1,371.5 L354.5,371.1 L354.9,371.0 L355.3,370.6 L355.7,369.9 L356.1,370.1 L356.5,370.1 L356.9,370.9 L357.3,371.2 L357.7,371.1 L358.1,371.2 L358.5,370.6 L358.9,371.1 L359.3,371.4 L359.7,370.0 L360.1,370.8 L360.5,371.0 L360.9,371.1 L361.3,371.4 L361.7,371.5 L362.1,371.3 L362.5,370.9 L362.9,371.4 L363.3,371.5 L363.7,371.1 L364.1,371.5 L364.5,371.0 L364.9,370.9 L365.3,370.9 L365.7,371.0 L366.1,371.4 L366.5,371.4 L366.9,371.2 L367.3,371.5 L367.7,371.0 L368.1,371.1 L368.5,370.8 L368.9,370.6 L369.3,370.6 L369.7,371.2 L370.1,371.2 L370.5,370.9 L370.9,370.9 L371.3,371.1 L371.7,371.3 L372.1,370.6 L372.5,370.8 L372.9,371.4 L373.3,370.3 L373.7,370.8 L374.1,371.2 L374.5,371.2 L374.9,371.1 L375.3,370.3 L375.7,370.9 L376.1,371.1 L376.5,371.4 L376.9,371.3 L377.3,371.5 L377.7,371.5 L378.1,371.5 L378.5,371.5 L378.9,371.1 L379.3,371.5 L379.7,371.0 L380.1,370.9 L380.5,370.9 L380.9,371.1 L381.3,370.9 L381.7,370.6 L382.1,370.3 L382.5,370.7 L382.9,371.4 L383.3,370.8 L383.7,370.7 L384.1,370.8 L384.5,371.3 L384.9,371.4 L385.3,371.5 L385.7,371.2 L386.1,370.7 L386.5,371.1 L386.9,370.7 L387.3,370.6 L387.7,370.7 L388.1,370.9 L388.5,370.9 L388.9,370.8 L389.3,370.8 L389.7,371.1 L390.1,371.2 L390.5,371.5 L390.9,371.3 L391.3,371.4 L391.7,369.1 L392.1,370.3 L392.5,370.5 L392.9,371.1 L393.3,371.3 L393.7,371.2 L394.1,370.8 L394.5,370.9 L394.9,371.3 L395.3,371.4 L395.7,370.4 L396.1,370.9 L396.5,371.3 L396.9,371.4 L397.3,371.0 L397.7,370.1 L398.1,371.0 L398.5,371.3 L398.9,371.5 L399.3,371.5 L399.7,370.8 L400.1,370.7 L400.5,371.2 L400.9,371.5 L401.3,371.5 L401.7,371.5 L402.1,369.5 L402.5,370.6 L402.9,370.9 L403.3,371.3 L403.7,371.1 L404.1,371.5 L404.5,371.3 L404.9,370.9 L405.3,370.7 L405.7,370.9 L406.1,371.0 L406.5,370.6 L406.9,370.7 L407.3,370.9 L407.7,371.4 L408.1,371.4 L408.5,371.3 L408.9,370.9 L409.3,370.7 L409.7,369.4 L410.1,361.8 L410.5,368.5 L410.9,371.5 L411.3,371.4 L411.7,371.0 L412.1,371.2 L412.5,371.5 L412.9,371.5 L413.3,371.2 L413.7,371.2 L414.1,371.2 L414.5,370.3 L414.9,370.5 L415.3,371.1 L415.7,371.4 L416.1,370.2 L416.5,370.9 L416.9,369.6 L417.3,368.7 L417.7,369.7 L418.1,370.4 L418.5,370.9 L418.9,371.3 L419.3,371.1 L419.7,371.5 L420.1,370.6 L420.5,370.6 L420.9,371.3 L421.3,370.8 L421.7,370.7 L422.1,371.3 L422.5,371.2 L422.9,371.5 L423.3,371.2 L423.7,371.5 L424.1,371.5 L424.5,370.5 L424.9,370.8 L425.3,371.4 L425.7,371.5 L426.1,371.5 L426.5,371.1 L426.9,369.6 L427.3,369.6 L427.7,371.2 L428.1,371.5 L428.5,371.5 L428.9,371.5 L429.3,371.1 L429.7,371.2 L430.1,371.1 L430.5,370.9 L430.9,371.1 L431.3,370.2 L431.7,371.1 L432.0,372.0 Z" fill="#8985bf" stroke="#8985bf" stroke-width="0.3"/>
<line x1="31.7" y1="371.5" x2="432.0" y2="371.5" stroke="#8985bf" stroke-width="1.1"/>
<path d="M35.5,376.4 H31.7 V394.5" stroke="#6d6e71" stroke-width="0.7" fill="none"/>
<text x="36.0" y="382.4" font-size="7" text-anchor="start" fill="#231f20">144</text>
<text x="28.2" y="388.0" font-size="7.6" text-anchor="end" fill="#231f20">Ramos</text>
<path d="M31.7,394.5 L32.1,394.0 L32.5,393.8 L32.9,394.0 L33.3,394.0 L33.7,394.0 L34.1,394.0 L34.5,393.8 L34.9,393.5 L35.3,393.9 L35.7,393.9 L36.1,394.0 L36.5,393.9 L36.9,394.0 L37.3,394.0 L37.7,394.0 L38.1,393.7 L38.5,394.0 L38.9,394.0 L39.3,394.0 L39.7,394.0 L40.1,394.0 L40.5,394.0 L40.9,394.0 L41.3,394.0 L41.7,393.3 L42.1,393.5 L42.5,393.9 L42.9,393.0 L43.3,393.5 L43.7,394.0 L44.1,394.0 L44.5,393.9 L44.9,393.9 L45.3,394.0 L45.7,394.0 L46.1,393.3 L46.5,394.0 L46.9,394.0 L47.3,390.6 L47.7,386.7 L48.1,391.2 L48.5,392.6 L48.9,393.6 L49.3,393.4 L49.7,393.8 L50.1,393.7 L50.5,393.9 L50.9,394.0 L51.3,394.0 L51.7,394.0 L52.1,394.0 L52.5,394.0 L52.9,394.0 L53.3,394.0 L53.7,394.0 L54.1,393.9 L54.5,394.0 L54.9,394.0 L55.3,393.9 L55.7,393.9 L56.1,394.0 L56.5,394.0 L56.9,394.0 L57.3,394.0 L57.7,393.9 L58.1,393.9 L58.5,394.0 L58.9,393.7 L59.3,390.2 L59.7,390.2 L60.1,393.9 L60.5,392.4 L60.9,393.9 L61.3,394.0 L61.7,394.0 L62.1,394.0 L62.5,393.7 L62.9,393.8 L63.3,393.9 L63.7,394.0 L64.1,394.0 L64.5,394.0 L64.9,394.0 L65.3,394.0 L65.7,394.0 L66.1,394.0 L66.5,393.3 L66.9,393.2 L67.3,393.7 L67.7,393.8 L68.1,393.7 L68.5,393.5 L68.9,393.6 L69.3,393.6 L69.7,394.0 L70.1,393.7 L70.5,393.9 L70.9,394.0 L71.3,393.9 L71.7,393.8 L72.1,394.0 L72.5,394.0 L72.9,394.0 L73.3,394.0 L73.7,394.0 L74.1,393.8 L74.5,394.0 L74.9,393.9 L75.3,393.8 L75.7,393.3 L76.1,393.7 L76.5,394.0 L76.9,394.0 L77.3,394.0 L77.7,394.0 L78.1,393.7 L78.5,393.9 L78.9,394.0 L79.3,394.0 L79.7,393.9 L80.1,393.0 L80.5,393.3 L80.9,393.9 L81.3,394.0 L81.7,394.0 L82.1,394.0 L82.5,394.0 L82.9,394.0 L83.3,393.8 L83.7,393.4 L84.1,393.7 L84.5,394.0 L84.9,393.6 L85.3,393.8 L85.7,393.9 L86.1,394.0 L86.5,394.0 L86.9,394.0 L87.3,394.0 L87.7,394.0 L88.1,394.0 L88.5,394.0 L88.9,394.0 L89.3,394.0 L89.7,394.0 L90.1,394.0 L90.5,394.0 L90.9,394.0 L91.3,394.0 L91.7,394.0 L92.1,394.0 L92.5,394.0 L92.9,394.0 L93.3,394.0 L93.7,394.0 L94.1,394.0 L94.5,394.0 L94.9,393.2 L95.3,393.4 L95.7,393.7 L96.1,394.0 L96.5,393.7 L96.9,393.8 L97.3,393.8 L97.7,393.7 L98.1,393.8 L98.5,394.0 L98.9,394.0 L99.3,394.0 L99.7,393.4 L100.1,393.8 L100.5,393.2 L100.9,393.8 L101.3,393.7 L101.7,394.0 L102.1,394.0 L102.5,394.0 L102.9,394.0 L103.3,394.0 L103.7,393.7 L104.1,393.9 L104.5,394.0 L104.9,394.0 L105.3,394.0 L105.7,394.0 L106.1,393.9 L106.5,394.0 L106.9,394.0 L107.3,393.9 L107.7,393.8 L108.1,394.0 L108.5,394.0 L108.9,394.0 L109.3,393.9 L109.7,394.0 L110.1,394.0 L110.5,393.6 L110.9,394.0 L111.3,394.0 L111.7,394.0 L112.1,394.0 L112.5,393.9 L112.9,394.0 L113.3,394.0 L113.7,394.0 L114.1,393.7 L114.5,393.9 L114.9,394.0 L115.3,394.0 L115.7,394.0 L116.1,393.7 L116.5,393.6 L116.9,393.7 L117.3,394.0 L117.7,394.0 L118.1,394.0 L118.5,394.0 L118.9,394.0 L119.3,394.0 L119.7,393.4 L120.1,393.7 L120.5,393.6 L120.9,390.2 L121.3,390.2 L121.7,393.4 L122.1,393.9 L122.5,393.9 L122.9,393.9 L123.3,394.0 L123.7,394.0 L124.1,394.0 L124.5,393.6 L124.9,394.0 L125.3,394.0 L125.7,389.1 L126.1,379.8 L126.5,379.8 L126.9,388.4 L127.3,393.6 L127.7,393.0 L128.1,392.7 L128.5,392.9 L128.9,393.7 L129.3,394.0 L129.7,394.0 L130.1,394.0 L130.5,394.0 L130.9,394.0 L131.3,394.0 L131.7,394.0 L132.1,394.0 L132.5,394.0 L132.9,394.0 L133.3,394.0 L133.7,394.0 L134.1,393.9 L134.5,394.0 L134.9,394.0 L135.3,393.6 L135.7,393.8 L136.1,393.9 L136.5,394.0 L136.9,393.9 L137.3,394.0 L137.7,394.0 L138.1,394.0 L138.5,394.0 L138.9,394.0 L139.3,393.8 L139.7,394.0 L140.1,394.0 L140.5,394.0 L140.9,394.0 L141.3,394.0 L141.7,394.0 L142.1,394.0 L142.5,394.0 L142.9,394.0 L143.3,394.0 L143.7,394.0 L144.1,394.0 L144.5,394.0 L144.9,394.0 L145.3,394.0 L145.7,394.0 L146.1,393.2 L146.5,393.4 L146.9,393.4 L147.3,393.9 L147.7,394.0 L148.1,393.9 L148.5,393.8 L148.9,393.9 L149.3,393.9 L149.7,394.0 L150.1,394.0 L150.5,394.0 L150.9,394.0 L151.3,393.9 L151.7,394.0 L152.1,393.9 L152.5,393.7 L152.9,394.0 L153.3,394.0 L153.7,394.0 L154.1,394.0 L154.5,393.5 L154.9,393.8 L155.3,393.7 L155.7,394.0 L156.1,393.6 L156.5,393.9 L156.9,394.0 L157.3,394.0 L157.7,394.0 L158.1,394.0 L158.5,393.2 L158.9,393.8 L159.3,393.9 L159.7,394.0 L160.1,394.0 L160.5,394.0 L160.9,393.8 L161.3,394.0 L161.7,394.0 L162.1,393.9 L162.5,394.0 L162.9,394.0 L163.3,393.8 L163.7,393.8 L164.1,393.6 L164.5,393.8 L164.9,394.0 L165.3,394.0 L165.7,393.7 L166.1,393.5 L166.5,393.8 L166.9,394.0 L167.3,393.9 L167.7,393.7 L168.1,393.9 L168.5,393.9 L168.9,394.0 L169.3,393.4 L169.7,393.9 L170.1,393.9 L170.5,394.0 L170.9,394.0 L171.3,394.0 L171.7,394.0 L172.1,394.0 L172.5,393.6 L172.9,393.8 L173.3,393.6 L173.7,393.9 L174.1,394.0 L174.5,394.0 L174.9,394.0 L175.3,394.0 L175.7,394.0 L176.1,393.8 L176.5,394.0 L176.9,394.0 L177.3,394.0 L177.7,394.0 L178.1,394.0 L178.5,394.0 L178.9,394.0 L179.3,393.8 L179.7,393.7 L180.1,393.8 L180.5,394.0 L180.9,393.9 L181.3,394.0 L181.7,394.0 L182.1,394.0 L182.5,394.0 L182.9,393.7 L183.3,394.0 L183.7,394.0 L184.1,393.6 L184.5,393.9 L184.9,393.8 L185.3,394.0 L185.7,394.0 L186.1,393.8 L186.5,393.8 L186.9,394.0 L187.3,394.0 L187.7,394.0 L188.1,393.9 L188.5,393.7 L188.9,394.0 L189.3,394.0 L189.7,393.6 L190.1,393.9 L190.5,394.0 L190.9,393.9 L191.3,393.6 L191.7,393.7 L192.1,394.0 L192.5,393.6 L192.9,393.9 L193.3,394.0 L193.7,393.9 L194.1,393.9 L194.5,393.4 L194.9,393.9 L195.3,394.0 L195.7,393.9 L196.1,393.8 L196.5,394.0 L196.9,394.0 L197.3,394.0 L197.7,394.0 L198.1,394.0 L198.5,393.9 L198.9,393.8 L199.3,394.0 L199.7,394.0 L200.1,393.8 L200.5,393.9 L200.9,392.8 L201.3,393.5 L201.7,394.0 L202.1,393.4 L202.5,393.7 L202.9,394.0 L203.3,394.0 L203.7,393.7 L204.1,394.0 L204.5,393.7 L204.9,393.7 L205.3,393.7 L205.7,393.8 L206.1,394.0 L206.5,394.0 L206.9,393.9 L207.3,394.0 L207.7,394.0 L208.1,394.0 L208.5,393.9 L208.9,393.1 L209.3,393.4 L209.7,393.6 L210.1,394.0 L210.5,394.0 L210.9,394.0 L211.3,394.0 L211.7,394.0 L212.1,394.0 L212.5,393.9 L212.9,394.0 L213.3,394.0 L213.7,394.0 L214.1,394.0 L214.5,394.0 L214.9,393.8 L215.3,394.0 L215.7,394.0 L216.1,394.0 L216.5,394.0 L216.9,394.0 L217.3,394.0 L217.7,394.0 L218.1,394.0 L218.5,394.0 L218.9,394.0 L219.3,394.0 L219.7,393.7 L220.1,393.0 L220.5,393.7 L220.9,394.0 L221.3,393.8 L221.7,394.0 L222.1,394.0 L222.5,394.0 L222.9,394.0 L223.3,394.0 L223.7,394.0 L224.1,394.0 L224.5,394.0 L224.9,394.0 L225.3,394.0 L225.7,394.0 L226.1,394.0 L226.5,393.9 L226.9,394.0 L227.3,393.7 L227.7,389.3 L228.1,389.3 L228.5,392.6 L228.9,394.0 L229.3,393.7 L229.7,394.0 L230.1,394.0 L230.5,394.0 L230.9,393.9 L231.3,393.8 L231.7,393.8 L232.1,394.0 L232.5,394.0 L232.9,393.9 L233.3,393.9 L233.7,393.9 L234.1,393.9 L234.5,393.9 L234.9,393.8 L235.3,394.0 L235.7,394.0 L236.1,394.0 L236.5,394.0 L236.9,394.0 L237.3,394.0 L237.7,394.0 L238.1,394.0 L238.5,393.8 L238.9,394.0 L239.3,394.0 L239.7,394.0 L240.1,394.0 L240.5,393.7 L240.9,393.8 L241.3,394.0 L241.7,393.7 L242.1,393.9 L242.5,393.9 L242.9,393.9 L243.3,393.5 L243.7,393.8 L244.1,393.9 L244.5,393.7 L244.9,393.3 L245.3,393.6 L245.7,393.7 L246.1,393.9 L246.5,393.9 L246.9,394.0 L247.3,394.0 L247.7,393.8 L248.1,394.0 L248.5,394.0 L248.9,394.0 L249.3,394.0 L249.7,394.0 L250.1,394.0 L250.5,393.8 L250.9,394.0 L251.3,393.9 L251.7,394.0 L252.1,394.0 L252.5,394.0 L252.9,393.9 L253.3,394.0 L253.7,394.0 L254.1,394.0 L254.5,394.0 L254.9,393.9 L255.3,393.4 L255.7,393.9 L256.1,393.8 L256.5,394.0 L256.9,394.0 L257.3,393.9 L257.7,394.0 L258.1,393.4 L258.5,393.8 L258.9,393.2 L259.3,393.9 L259.7,392.8 L260.1,393.5 L260.5,393.7 L260.9,393.1 L261.3,393.6 L261.7,394.0 L262.1,394.0 L262.5,394.0 L262.9,394.0 L263.3,394.0 L263.7,394.0 L264.1,394.0 L264.5,393.6 L264.9,393.8 L265.3,393.9 L265.7,394.0 L266.1,393.8 L266.5,393.8 L266.9,393.9 L267.3,394.0 L267.7,394.0 L268.1,394.0 L268.5,394.0 L268.9,394.0 L269.3,394.0 L269.7,393.1 L270.1,393.4 L270.5,393.4 L270.9,393.4 L271.3,393.5 L271.7,393.6 L272.1,393.8 L272.5,393.9 L272.9,394.0 L273.3,394.0 L273.7,394.0 L274.1,394.0 L274.5,394.0 L274.9,394.0 L275.3,394.0 L275.7,394.0 L276.1,394.0 L276.5,394.0 L276.9,394.0 L277.3,393.4 L277.7,393.7 L278.1,393.9 L278.5,394.0 L278.9,394.0 L279.3,394.0 L279.7,393.6 L280.1,393.7 L280.5,393.3 L280.9,393.7 L281.3,394.0 L281.7,393.4 L282.1,393.8 L282.5,394.0 L282.9,393.9 L283.3,393.9 L283.7,394.0 L284.1,393.9 L284.5,393.9 L284.9,393.8 L285.3,393.9 L285.7,394.0 L286.1,394.0 L286.5,394.0 L286.9,394.0 L287.3,394.0 L287.7,393.9 L288.1,393.3 L288.5,393.8 L288.9,393.6 L289.3,393.9 L289.7,394.0 L290.1,394.0 L290.5,394.0 L290.9,393.9 L291.3,393.6 L291.7,393.9 L292.1,394.0 L292.5,394.0 L292.9,393.8 L293.3,393.8 L293.7,394.0 L294.1,394.0 L294.5,393.9 L294.9,393.9 L295.3,394.0 L295.7,394.0 L296.1,394.0 L296.5,394.0 L296.9,394.0 L297.3,394.0 L297.7,394.0 L298.1,394.0 L298.5,394.0 L298.9,394.0 L299.3,394.0 L299.7,393.8 L300.1,394.0 L300.5,394.0 L300.9,394.0 L301.3,394.0 L301.7,394.0 L302.1,394.0 L302.5,394.0 L302.9,393.9 L303.3,394.0 L303.7,394.0 L304.1,393.8 L304.5,394.0 L304.9,394.0 L305.3,394.0 L305.7,393.5 L306.1,393.7 L306.5,394.0 L306.9,394.0 L307.3,394.0 L307.7,394.0 L308.1,394.0 L308.5,394.0 L308.9,393.9 L309.3,394.0 L309.7,393.8 L310.1,394.0 L310.5,394.0 L310.9,393.9 L311.3,394.0 L311.7,394.0 L312.1,394.0 L312.5,394.0 L312.9,394.0 L313.3,394.0 L313.7,393.4 L314.1,393.4 L314.5,393.9 L314.9,393.9 L315.3,393.7 L315.7,394.0 L316.1,394.0 L316.5,393.8 L316.9,393.7 L317.3,393.7 L317.7,394.0 L318.1,394.0 L318.5,394.0 L318.9,393.9 L319.3,393.7 L319.7,393.9 L320.1,394.0 L320.5,394.0 L320.9,394.0 L321.3,393.8 L321.7,394.0 L322.1,394.0 L322.5,394.0 L322.9,393.9 L323.3,393.1 L323.7,393.7 L324.1,394.0 L324.5,394.0 L324.9,394.0 L325.3,394.0 L325.7,394.0 L326.1,394.0 L326.5,394.0 L326.9,394.0 L327.3,394.0 L327.7,393.7 L328.1,393.8 L328.5,393.9 L328.9,394.0 L329.3,394.0 L329.7,393.9 L330.1,394.0 L330.5,394.0 L330.9,393.6 L331.3,393.8 L331.7,394.0 L332.1,393.8 L332.5,394.0 L332.9,393.8 L333.3,394.0 L333.7,394.0 L334.1,394.0 L334.5,394.0 L334.9,394.0 L335.3,393.7 L335.7,393.9 L336.1,393.8 L336.5,393.7 L336.9,393.9 L337.3,393.9 L337.7,394.0 L338.1,394.0 L338.5,394.0 L338.9,394.0 L339.3,394.0 L339.7,393.3 L340.1,393.4 L340.5,393.8 L340.9,394.0 L341.3,394.0 L341.7,394.0 L342.1,394.0 L342.5,393.9 L342.9,393.7 L343.3,393.8 L343.7,393.3 L344.1,393.5 L344.5,393.7 L344.9,394.0 L345.3,394.0 L345.7,393.9 L346.1,393.8 L346.5,393.6 L346.9,393.8 L347.3,393.9 L347.7,393.9 L348.1,394.0 L348.5,393.9 L348.9,394.0 L349.3,393.9 L349.7,394.0 L350.1,394.0 L350.5,393.8 L350.9,394.0 L351.3,394.0 L351.7,394.0 L352.1,394.0 L352.5,394.0 L352.9,394.0 L353.3,394.0 L353.7,394.0 L354.1,394.0 L354.5,394.0 L354.9,394.0 L355.3,394.0 L355.7,394.0 L356.1,394.0 L356.5,394.0 L356.9,394.0 L357.3,394.0 L357.7,394.0 L358.1,394.0 L358.5,394.0 L358.9,394.0 L359.3,394.0 L359.7,393.8 L360.1,393.9 L360.5,393.6 L360.9,393.3 L361.3,393.5 L361.7,394.0 L362.1,393.8 L362.5,394.0 L362.9,394.0 L363.3,393.6 L363.7,394.0 L364.1,394.0 L364.5,394.0 L364.9,394.0 L365.3,394.0 L365.7,393.9 L366.1,394.0 L366.5,393.8 L366.9,393.9 L367.3,394.0 L367.7,394.0 L368.1,394.0 L368.5,394.0 L368.9,394.0 L369.3,394.0 L369.7,394.0 L370.1,394.0 L370.5,393.9 L370.9,393.0 L371.3,393.4 L371.7,393.8 L372.1,394.0 L372.5,394.0 L372.9,393.8 L373.3,394.0 L373.7,394.0 L374.1,393.2 L374.5,393.8 L374.9,393.9 L375.3,393.9 L375.7,394.0 L376.1,393.9 L376.5,393.6 L376.9,393.9 L377.3,394.0 L377.7,393.8 L378.1,393.8 L378.5,394.0 L378.9,394.0 L379.3,394.0 L379.7,394.0 L380.1,394.0 L380.5,394.0 L380.9,394.0 L381.3,393.8 L381.7,394.0 L382.1,393.9 L382.5,394.0 L382.9,393.4 L383.3,393.9 L383.7,393.8 L384.1,394.0 L384.5,394.0 L384.9,394.0 L385.3,393.9 L385.7,393.8 L386.1,394.0 L386.5,394.0 L386.9,393.9 L387.3,393.9 L387.7,394.0 L388.1,394.0 L388.5,394.0 L388.9,394.0 L389.3,393.4 L389.7,393.6 L390.1,393.8 L390.5,393.7 L390.9,394.0 L391.3,394.0 L391.7,393.8 L392.1,394.0 L392.5,394.0 L392.9,393.9 L393.3,394.0 L393.7,393.9 L394.1,394.0 L394.5,393.8 L394.9,393.9 L395.3,394.0 L395.7,394.0 L396.1,394.0 L396.5,393.9 L396.9,394.0 L397.3,394.0 L397.7,394.0 L398.1,394.0 L398.5,394.0 L398.9,394.0 L399.3,393.9 L399.7,394.0 L400.1,393.8 L400.5,394.0 L400.9,393.9 L401.3,394.0 L401.7,394.0 L402.1,393.8 L402.5,394.0 L402.9,393.5 L403.3,393.8 L403.7,393.2 L404.1,393.7 L404.5,394.0 L404.9,394.0 L405.3,393.9 L405.7,393.3 L406.1,393.5 L406.5,393.7 L406.9,394.0 L407.3,394.0 L407.7,393.9 L408.1,393.9 L408.5,394.0 L408.9,393.7 L409.3,392.8 L409.7,388.2 L410.1,379.8 L410.5,390.1 L410.9,393.8 L411.3,393.2 L411.7,392.4 L412.1,394.0 L412.5,394.0 L412.9,394.0 L413.3,394.0 L413.7,394.0 L414.1,394.0 L414.5,393.9 L414.9,394.0 L415.3,394.0 L415.7,394.0 L416.1,394.0 L416.5,394.0 L416.9,393.8 L417.3,394.0 L417.7,394.0 L418.1,393.7 L418.5,394.0 L418.9,394.0 L419.3,394.0 L419.7,393.9 L420.1,394.0 L420.5,394.0 L420.9,394.0 L421.3,394.0 L421.7,394.0 L422.1,394.0 L422.5,394.0 L422.9,393.9 L423.3,394.0 L423.7,393.9 L424.1,393.9 L424.5,394.0 L424.9,394.0 L425.3,394.0 L425.7,394.0 L426.1,392.8 L426.5,393.9 L426.9,393.9 L427.3,394.0 L427.7,394.0 L428.1,394.0 L428.5,394.0 L428.9,393.9 L429.3,394.0 L429.7,393.8 L430.1,393.7 L430.5,393.7 L430.9,393.9 L431.3,394.0 L431.7,394.0 L432.0,394.5 Z" fill="#a4352b" stroke="#a4352b" stroke-width="0.3"/>
<line x1="31.7" y1="394.0" x2="432.0" y2="394.0" stroke="#a4352b" stroke-width="1.1"/>
<path d="M35.5,398.3 H31.7 V415.9" stroke="#6d6e71" stroke-width="0.7" fill="none"/>
<text x="36.0" y="404.3" font-size="7" text-anchor="start" fill="#231f20">81</text>
<text x="28.2" y="409.9" font-size="7.6" text-anchor="end" fill="#231f20">Vero</text>
<path d="M31.7,415.9 L32.1,415.4 L32.5,415.4 L32.9,415.4 L33.3,415.4 L33.7,415.4 L34.1,415.3 L34.5,414.9 L34.9,415.1 L35.3,414.2 L35.7,414.7 L36.1,413.9 L36.5,414.4 L36.9,414.6 L37.3,415.3 L37.7,415.4 L38.1,415.4 L38.5,415.2 L38.9,415.4 L39.3,415.4 L39.7,415.2 L40.1,415.4 L40.5,414.9 L40.9,415.1 L41.3,413.8 L41.7,414.6 L42.1,415.2 L42.5,415.2 L42.9,415.4 L43.3,415.4 L43.7,415.4 L44.1,415.4 L44.5,415.1 L44.9,415.0 L45.3,415.3 L45.7,415.0 L46.1,414.6 L46.5,414.0 L46.9,414.9 L47.3,414.8 L47.7,411.7 L48.1,413.9 L48.5,414.7 L48.9,414.6 L49.3,414.6 L49.7,414.7 L50.1,414.9 L50.5,414.9 L50.9,414.6 L51.3,414.8 L51.7,414.4 L52.1,414.8 L52.5,415.1 L52.9,415.3 L53.3,415.1 L53.7,415.1 L54.1,414.4 L54.5,414.6 L54.9,414.6 L55.3,415.0 L55.7,414.8 L56.1,414.8 L56.5,415.1 L56.9,415.4 L57.3,415.3 L57.7,414.5 L58.1,415.1 L58.5,415.0 L58.9,414.1 L59.3,410.9 L59.7,410.9 L60.1,415.2 L60.5,415.3 L60.9,415.3 L61.3,414.9 L61.7,415.3 L62.1,415.3 L62.5,415.1 L62.9,415.4 L63.3,415.3 L63.7,415.4 L64.1,415.3 L64.5,415.4 L64.9,415.2 L65.3,414.9 L65.7,415.2 L66.1,415.2 L66.5,415.1 L66.9,414.9 L67.3,415.2 L67.7,415.4 L68.1,415.4 L68.5,415.2 L68.9,415.1 L69.3,415.4 L69.7,415.2 L70.1,415.0 L70.5,415.4 L70.9,415.4 L71.3,415.3 L71.7,415.4 L72.1,415.4 L72.5,415.4 L72.9,415.4 L73.3,415.2 L73.7,414.3 L74.1,414.9 L74.5,415.0 L74.9,415.0 L75.3,415.2 L75.7,415.1 L76.1,415.3 L76.5,415.2 L76.9,415.4 L77.3,415.4 L77.7,415.2 L78.1,415.4 L78.5,415.4 L78.9,415.4 L79.3,415.4 L79.7,415.4 L80.1,415.1 L80.5,415.4 L80.9,415.4 L81.3,415.4 L81.7,415.4 L82.1,415.4 L82.5,415.4 L82.9,415.4 L83.3,415.4 L83.7,415.4 L84.1,414.3 L84.5,414.9 L84.9,415.2 L85.3,415.4 L85.7,415.4 L86.1,415.4 L86.5,415.4 L86.9,415.3 L87.3,415.1 L87.7,415.1 L88.1,415.3 L88.5,415.4 L88.9,415.4 L89.3,415.4 L89.7,415.1 L90.1,415.2 L90.5,414.9 L90.9,415.2 L91.3,415.3 L91.7,413.6 L92.1,414.6 L92.5,414.8 L92.9,414.1 L93.3,414.2 L93.7,414.7 L94.1,414.9 L94.5,415.3 L94.9,415.4 L95.3,415.4 L95.7,415.4 L96.1,415.4 L96.5,415.4 L96.9,415.4 L97.3,415.4 L97.7,415.4 L98.1,415.4 L98.5,415.4 L98.9,415.4 L99.3,415.4 L99.7,415.4 L100.1,415.2 L100.5,414.9 L100.9,415.1 L101.3,414.6 L101.7,414.9 L102.1,414.7 L102.5,415.1 L102.9,414.9 L103.3,415.0 L103.7,415.3 L104.1,415.1 L104.5,415.4 L104.9,415.0 L105.3,415.4 L105.7,415.2 L106.1,415.4 L106.5,415.0 L106.9,414.9 L107.3,415.1 L107.7,414.4 L108.1,414.6 L108.5,415.0 L108.9,415.2 L109.3,415.3 L109.7,415.4 L110.1,415.3 L110.5,415.0 L110.9,415.2 L111.3,415.4 L111.7,414.6 L112.1,414.8 L112.5,415.1 L112.9,415.0 L113.3,415.2 L113.7,415.2 L114.1,415.3 L114.5,415.4 L114.9,415.4 L115.3,415.4 L115.7,415.4 L116.1,415.4 L116.5,415.4 L116.9,415.4 L117.3,415.3 L117.7,415.3 L118.1,415.4 L118.5,415.4 L118.9,415.4 L119.3,415.4 L119.7,415.4 L120.1,415.4 L120.5,415.4 L120.9,412.5 L121.3,412.5 L121.7,414.3 L122.1,415.2 L122.5,415.4 L122.9,415.4 L123.3,415.4 L123.7,415.2 L124.1,415.4 L124.5,414.0 L124.9,414.8 L125.3,414.6 L125.7,412.8 L126.1,399.1 L126.5,399.1 L126.9,414.2 L127.3,415.4 L127.7,413.6 L128.1,414.3 L128.5,414.8 L128.9,415.3 L129.3,415.2 L129.7,415.3 L130.1,414.6 L130.5,414.9 L130.9,415.2 L131.3,414.2 L131.7,415.0 L132.1,415.3 L132.5,415.4 L132.9,415.4 L133.3,414.9 L133.7,415.1 L134.1,415.4 L134.5,415.4 L134.9,415.4 L135.3,415.4 L135.7,415.4 L136.1,415.4 L136.5,415.4 L136.9,415.4 L137.3,415.2 L137.7,415.2 L138.1,415.4 L138.5,415.4 L138.9,415.4 L139.3,415.1 L139.7,415.4 L140.1,415.2 L140.5,415.4 L140.9,415.4 L141.3,415.4 L141.7,415.4 L142.1,415.3 L142.5,415.4 L142.9,415.3 L143.3,415.4 L143.7,415.4 L144.1,415.4 L144.5,415.3 L144.9,415.0 L145.3,415.0 L145.7,414.3 L146.1,414.8 L146.5,414.7 L146.9,415.1 L147.3,414.9 L147.7,413.6 L148.1,414.6 L148.5,415.0 L148.9,415.4 L149.3,415.2 L149.7,415.4 L150.1,415.4 L150.5,415.4 L150.9,415.4 L151.3,415.4 L151.7,415.4 L152.1,415.4 L152.5,415.4 L152.9,415.3 L153.3,415.4 L153.7,415.2 L154.1,415.3 L154.5,415.4 L154.9,415.4 L155.3,415.4 L155.7,415.1 L156.1,415.4 L156.5,415.4 L156.9,415.4 L157.3,415.4 L157.7,415.4 L158.1,415.4 L158.5,415.4 L158.9,415.4 L159.3,415.4 L159.7,415.1 L160.1,415.4 L160.5,415.1 L160.9,415.4 L161.3,415.1 L161.7,414.9 L162.1,415.0 L162.5,415.2 L162.9,415.2 L163.3,414.9 L163.7,415.2 L164.1,415.2 L164.5,415.4 L164.9,415.4 L165.3,414.9 L165.7,415.2 L166.1,415.3 L166.5,415.4 L166.9,415.0 L167.3,414.6 L167.7,412.9 L168.1,412.9 L168.5,414.9 L168.9,415.4 L169.3,415.2 L169.7,414.8 L170.1,415.2 L170.5,415.4 L170.9,415.2 L171.3,414.9 L171.7,415.3 L172.1,415.3 L172.5,415.1 L172.9,415.2 L173.3,415.2 L173.7,415.4 L174.1,415.1 L174.5,414.8 L174.9,415.2 L175.3,415.4 L175.7,415.4 L176.1,415.1 L176.5,415.3 L176.9,415.4 L177.3,415.4 L177.7,415.4 L178.1,415.3 L178.5,415.4 L178.9,415.4 L179.3,415.3 L179.7,415.4 L180.1,415.4 L180.5,415.1 L180.9,415.4 L181.3,415.4 L181.7,415.4 L182.1,415.2 L182.5,414.9 L182.9,415.3 L183.3,415.4 L183.7,415.4 L184.1,415.4 L184.5,415.4 L184.9,415.4 L185.3,415.4 L185.7,415.4 L186.1,415.4 L186.5,414.0 L186.9,414.7 L187.3,415.2 L187.7,413.9 L188.1,413.9 L188.5,415.3 L188.9,415.3 L189.3,415.2 L189.7,413.9 L190.1,413.9 L190.5,414.8 L190.9,415.3 L191.3,414.6 L191.7,414.6 L192.1,415.1 L192.5,415.4 L192.9,415.1 L193.3,415.0 L193.7,415.0 L194.1,415.3 L194.5,415.2 L194.9,414.9 L195.3,415.4 L195.7,415.1 L196.1,415.3 L196.5,415.4 L196.9,415.4 L197.3,415.4 L197.7,415.4 L198.1,415.4 L198.5,415.2 L198.9,414.8 L199.3,415.0 L199.7,414.1 L200.1,414.4 L200.5,414.4 L200.9,414.8 L201.3,415.3 L201.7,415.2 L202.1,415.4 L202.5,415.4 L202.9,415.3 L203.3,415.4 L203.7,415.4 L204.1,415.4 L204.5,415.4 L204.9,415.4 L205.3,415.4 L205.7,415.4 L206.1,415.4 L206.5,415.1 L206.9,415.3 L207.3,415.4 L207.7,415.4 L208.1,415.4 L208.5,415.4 L208.9,415.3 L209.3,415.3 L209.7,415.4 L210.1,415.2 L210.5,415.4 L210.9,415.2 L211.3,414.1 L211.7,413.2 L212.1,413.8 L212.5,414.6 L212.9,415.1 L213.3,415.4 L213.7,415.4 L214.1,415.1 L214.5,415.3 L214.9,415.4 L215.3,415.4 L215.7,415.4 L216.1,415.4 L216.5,415.2 L216.9,415.3 L217.3,415.4 L217.7,415.4 L218.1,415.4 L218.5,415.4 L218.9,415.4 L219.3,415.4 L219.7,415.4 L220.1,415.4 L220.5,415.1 L220.9,415.4 L221.3,415.3 L221.7,415.2 L222.1,414.6 L222.5,414.2 L222.9,414.8 L223.3,415.0 L223.7,415.2 L224.1,415.4 L224.5,415.3 L224.9,415.4 L225.3,415.3 L225.7,414.5 L226.1,414.8 L226.5,414.9 L226.9,415.2 L227.3,413.9 L227.7,411.7 L228.1,411.7 L228.5,414.3 L228.9,415.0 L229.3,414.8 L229.7,414.8 L230.1,414.8 L230.5,415.0 L230.9,415.2 L231.3,415.3 L231.7,415.4 L232.1,415.3 L232.5,415.4 L232.9,415.4 L233.3,415.4 L233.7,415.4 L234.1,415.2 L234.5,415.2 L234.9,415.1 L235.3,414.8 L235.7,415.2 L236.1,415.1 L236.5,415.4 L236.9,415.1 L237.3,415.3 L237.7,415.0 L238.1,415.4 L238.5,415.4 L238.9,415.2 L239.3,415.2 L239.7,415.1 L240.1,414.8 L240.5,414.9 L240.9,414.9 L241.3,414.7 L241.7,413.4 L242.1,413.4 L242.5,414.9 L242.9,415.1 L243.3,415.2 L243.7,415.4 L244.1,414.4 L244.5,414.8 L244.9,415.2 L245.3,415.4 L245.7,415.4 L246.1,415.4 L246.5,415.4 L246.9,415.4 L247.3,415.4 L247.7,415.4 L248.1,415.4 L248.5,415.4 L248.9,415.4 L249.3,415.4 L249.7,415.4 L250.1,415.4 L250.5,415.4 L250.9,415.3 L251.3,414.3 L251.7,414.9 L252.1,415.4 L252.5,415.4 L252.9,415.0 L253.3,415.1 L253.7,415.4 L254.1,415.4 L254.5,415.4 L254.9,415.4 L255.3,415.1 L255.7,415.2 L256.1,415.4 L256.5,415.0 L256.9,415.2 L257.3,415.4 L257.7,415.4 L258.1,415.4 L258.5,414.4 L258.9,414.8 L259.3,414.8 L259.7,415.2 L260.1,415.3 L260.5,415.4 L260.9,415.0 L261.3,415.1 L261.7,415.4 L262.1,415.4 L262.5,415.4 L262.9,415.3 L263.3,415.1 L263.7,415.2 L264.1,415.4 L264.5,415.3 L264.9,415.4 L265.3,415.4 L265.7,415.0 L266.1,415.0 L266.5,415.4 L266.9,415.4 L267.3,415.2 L267.7,415.4 L268.1,415.1 L268.5,415.3 L268.9,415.2 L269.3,415.4 L269.7,415.4 L270.1,415.1 L270.5,415.0 L270.9,415.4 L271.3,415.3 L271.7,415.4 L272.1,415.4 L272.5,415.3 L272.9,415.4 L273.3,415.3 L273.7,415.2 L274.1,415.3 L274.5,415.4 L274.9,415.4 L275.3,415.4 L275.7,415.4 L276.1,415.4 L276.5,415.4 L276.9,415.1 L277.3,415.4 L277.7,415.4 L278.1,415.3 L278.5,415.4 L278.9,415.4 L279.3,415.4 L279.7,415.4 L280.1,415.4 L280.5,415.4 L280.9,415.4 L281.3,415.4 L281.7,415.4 L282.1,415.4 L282.5,415.1 L282.9,415.0 L283.3,414.9 L283.7,415.3 L284.1,415.4 L284.5,415.4 L284.9,415.3 L285.3,415.4 L285.7,415.2 L286.1,415.4 L286.5,415.4 L286.9,415.4 L287.3,415.4 L287.7,415.4 L288.1,415.4 L288.5,415.4 L288.9,415.4 L289.3,415.4 L289.7,415.4 L290.1,415.4 L290.5,415.4 L290.9,415.4 L291.3,415.4 L291.7,415.4 L292.1,414.7 L292.5,414.8 L292.9,415.3 L293.3,415.4 L293.7,415.4 L294.1,415.4 L294.5,415.4 L294.9,415.4 L295.3,415.4 L295.7,415.4 L296.1,415.4 L296.5,415.4 L296.9,415.4 L297.3,415.2 L297.7,415.3 L298.1,415.2 L298.5,415.4 L298.9,415.1 L299.3,415.1 L299.7,415.3 L300.1,415.2 L300.5,415.4 L300.9,415.4 L301.3,415.4 L301.7,415.4 L302.1,415.3 L302.5,415.0 L302.9,415.3 L303.3,415.2 L303.7,415.4 L304.1,414.9 L304.5,414.8 L304.9,415.1 L305.3,414.8 L305.7,415.3 L306.1,414.8 L306.5,415.3 L306.9,415.0 L307.3,415.2 L307.7,415.1 L308.1,414.4 L308.5,414.5 L308.9,415.0 L309.3,413.5 L309.7,414.6 L310.1,414.9 L310.5,415.0 L310.9,415.2 L311.3,415.4 L311.7,415.4 L312.1,415.4 L312.5,415.4 L312.9,415.4 L313.3,415.4 L313.7,415.1 L314.1,415.3 L314.5,415.4 L314.9,415.1 L315.3,415.4 L315.7,415.4 L316.1,415.4 L316.5,415.4 L316.9,415.4 L317.3,415.4 L317.7,414.5 L318.1,414.9 L318.5,414.6 L318.9,415.1 L319.3,415.2 L319.7,415.2 L320.1,415.2 L320.5,415.4 L320.9,415.4 L321.3,415.4 L321.7,415.4 L322.1,415.4 L322.5,415.4 L322.9,415.4 L323.3,415.4 L323.7,414.5 L324.1,415.2 L324.5,415.4 L324.9,415.0 L325.3,415.3 L325.7,414.9 L326.1,414.9 L326.5,415.3 L326.9,415.4 L327.3,415.3 L327.7,415.4 L328.1,415.4 L328.5,414.9 L328.9,414.6 L329.3,415.2 L329.7,415.3 L330.1,414.9 L330.5,415.1 L330.9,415.0 L331.3,415.4 L331.7,415.2 L332.1,415.4 L332.5,415.4 L332.9,415.4 L333.3,415.4 L333.7,415.4 L334.1,415.2 L334.5,415.1 L334.9,414.8 L335.3,414.8 L335.7,415.2 L336.1,414.9 L336.5,414.8 L336.9,414.9 L337.3,414.9 L337.7,414.6 L338.1,414.7 L338.5,415.0 L338.9,415.0 L339.3,415.4 L339.7,414.8 L340.1,415.3 L340.5,415.4 L340.9,415.2 L341.3,415.2 L341.7,415.1 L342.1,415.3 L342.5,415.1 L342.9,415.1 L343.3,415.2 L343.7,415.4 L344.1,415.1 L344.5,415.4 L344.9,414.9 L345.3,415.2 L345.7,415.0 L346.1,415.2 L346.5,415.0 L346.9,415.0 L347.3,414.7 L347.7,414.9 L348.1,415.3 L348.5,415.4 L348.9,415.4 L349.3,415.1 L349.7,414.8 L350.1,414.4 L350.5,414.8 L350.9,415.0 L351.3,414.8 L351.7,415.2 L352.1,415.3 L352.5,415.4 L352.9,415.1 L353.3,415.2 L353.7,415.4 L354.1,415.2 L354.5,415.1 L354.9,415.0 L355.3,415.0 L355.7,415.0 L356.1,415.3 L356.5,415.1 L356.9,415.4 L357.3,415.4 L357.7,415.4 L358.1,415.4 L358.5,415.4 L358.9,415.2 L359.3,414.9 L359.7,415.0 L360.1,415.2 L360.5,415.4 L360.9,415.4 L361.3,415.4 L361.7,414.8 L362.1,415.3 L362.5,415.0 L362.9,415.1 L363.3,415.1 L363.7,415.4 L364.1,415.4 L364.5,415.4 L364.9,415.4 L365.3,415.4 L365.7,415.4 L366.1,415.4 L366.5,415.1 L366.9,415.3 L367.3,415.2 L367.7,415.2 L368.1,415.4 L368.5,414.9 L368.9,415.3 L369.3,415.4 L369.7,415.2 L370.1,415.3 L370.5,415.0 L370.9,415.1 L371.3,414.9 L371.7,415.3 L372.1,415.3 L372.5,415.4 L372.9,415.4 L373.3,414.9 L373.7,414.8 L374.1,414.8 L374.5,415.4 L374.9,415.4 L375.3,415.2 L375.7,415.4 L376.1,415.2 L376.5,415.0 L376.9,414.9 L377.3,414.9 L377.7,415.2 L378.1,414.8 L378.5,415.2 L378.9,415.4 L379.3,415.4 L379.7,415.4 L380.1,415.4 L380.5,415.4 L380.9,415.3 L381.3,415.4 L381.7,415.4 L382.1,415.4 L382.5,415.1 L382.9,415.4 L383.3,415.1 L383.7,415.4 L384.1,415.3 L384.5,415.4 L384.9,414.5 L385.3,415.1 L385.7,415.4 L386.1,415.4 L386.5,415.4 L386.9,415.4 L387.3,415.4 L387.7,415.4 L388.1,415.4 L388.5,415.4 L388.9,413.6 L389.3,414.6 L389.7,415.1 L390.1,415.3 L390.5,415.3 L390.9,415.4 L391.3,415.4 L391.7,415.4 L392.1,415.3 L392.5,414.8 L392.9,415.0 L393.3,415.3 L393.7,415.4 L394.1,415.4 L394.5,415.4 L394.9,415.3 L395.3,415.4 L395.7,415.4 L396.1,415.4 L396.5,415.4 L396.9,415.4 L397.3,415.4 L397.7,415.3 L398.1,415.1 L398.5,415.4 L398.9,415.4 L399.3,414.0 L399.7,414.9 L400.1,415.2 L400.5,415.1 L400.9,415.4 L401.3,415.3 L401.7,415.3 L402.1,415.4 L402.5,415.4 L402.9,415.3 L403.3,415.1 L403.7,414.9 L404.1,415.3 L404.5,415.4 L404.9,415.4 L405.3,415.1 L405.7,414.9 L406.1,415.4 L406.5,415.0 L406.9,415.1 L407.3,415.4 L407.7,415.4 L408.1,414.8 L408.5,414.8 L408.9,414.8 L409.3,415.0 L409.7,412.1 L410.1,405.8 L410.5,414.4 L410.9,415.4 L411.3,415.2 L411.7,415.4 L412.1,415.4 L412.5,415.3 L412.9,415.2 L413.3,415.1 L413.7,414.9 L414.1,415.1 L414.5,415.1 L414.9,415.1 L415.3,415.4 L415.7,415.3 L416.1,415.4 L416.5,415.3 L416.9,414.7 L417.3,415.2 L417.7,415.2 L418.1,415.4 L418.5,415.2 L418.9,415.2 L419.3,415.4 L419.7,415.4 L420.1,415.3 L420.5,415.3 L420.9,414.8 L421.3,414.6 L421.7,415.0 L422.1,413.4 L422.5,414.9 L422.9,414.6 L423.3,415.0 L423.7,415.0 L424.1,415.3 L424.5,415.4 L424.9,415.2 L425.3,415.3 L425.7,415.4 L426.1,415.1 L426.5,415.2 L426.9,415.3 L427.3,415.1 L427.7,415.0 L428.1,415.1 L428.5,415.4 L428.9,415.3 L429.3,415.4 L429.7,415.4 L430.1,415.3 L430.5,415.4 L430.9,415.4 L431.3,415.1 L431.7,415.4 L432.0,415.9 Z" fill="#8c8c8c" stroke="#8c8c8c" stroke-width="0.3"/>
<line x1="31.7" y1="415.4" x2="432.0" y2="415.4" stroke="#8c8c8c" stroke-width="1.1"/>
<path d="M35.5,418.5 H31.7 V436.6" stroke="#6d6e71" stroke-width="0.7" fill="none"/>
<text x="36.0" y="424.5" font-size="7" text-anchor="start" fill="#231f20">145</text>
<text x="28.2" y="430.1" font-size="7.6" text-anchor="end" fill="#231f20">CH12F3</text>
<path d="M31.7,436.6 L32.1,436.1 L32.5,436.1 L32.9,436.1 L33.3,436.1 L33.7,436.1 L34.1,436.1 L34.5,436.1 L34.9,436.1 L35.3,436.1 L35.7,436.0 L36.1,436.1 L36.5,436.1 L36.9,436.1 L37.3,436.1 L37.7,436.1 L38.1,435.8 L38.5,436.1 L38.9,436.1 L39.3,436.1 L39.7,436.1 L40.1,436.1 L40.5,436.1 L40.9,436.1 L41.3,436.1 L41.7,436.1 L42.1,436.1 L42.5,436.1 L42.9,436.1 L43.3,436.1 L43.7,436.1 L44.1,436.1 L44.5,435.9 L44.9,436.1 L45.3,436.1 L45.7,436.1 L46.1,435.8 L46.5,436.0 L46.9,436.1 L47.3,433.3 L47.7,419.3 L48.1,428.4 L48.5,430.8 L48.9,435.6 L49.3,435.2 L49.7,434.3 L50.1,435.9 L50.5,435.6 L50.9,435.9 L51.3,436.0 L51.7,436.1 L52.1,436.1 L52.5,435.2 L52.9,435.9 L53.3,436.1 L53.7,436.1 L54.1,436.0 L54.5,435.6 L54.9,435.9 L55.3,436.1 L55.7,436.1 L56.1,435.3 L56.5,435.9 L56.9,435.8 L57.3,436.1 L57.7,435.5 L58.1,436.1 L58.5,435.8 L58.9,436.1 L59.3,427.9 L59.7,427.9 L60.1,435.6 L60.5,435.7 L60.9,436.0 L61.3,435.7 L61.7,436.1 L62.1,436.0 L62.5,436.1 L62.9,436.1 L63.3,436.0 L63.7,436.1 L64.1,436.1 L64.5,436.1 L64.9,436.1 L65.3,436.1 L65.7,436.1 L66.1,436.1 L66.5,436.1 L66.9,436.1 L67.3,436.1 L67.7,436.0 L68.1,436.1 L68.5,436.1 L68.9,435.3 L69.3,435.5 L69.7,435.8 L70.1,436.1 L70.5,436.1 L70.9,436.1 L71.3,435.9 L71.7,436.1 L72.1,436.1 L72.5,436.1 L72.9,436.1 L73.3,436.1 L73.7,435.6 L74.1,436.1 L74.5,436.1 L74.9,436.1 L75.3,435.8 L75.7,436.1 L76.1,435.9 L76.5,435.7 L76.9,435.8 L77.3,436.1 L77.7,436.1 L78.1,436.1 L78.5,436.1 L78.9,436.1 L79.3,436.1 L79.7,436.1 L80.1,436.1 L80.5,436.1 L80.9,436.1 L81.3,436.0 L81.7,436.1 L82.1,436.0 L82.5,436.1 L82.9,436.1 L83.3,436.1 L83.7,436.1 L84.1,436.1 L84.5,436.1 L84.9,436.1 L85.3,436.0 L85.7,436.1 L86.1,435.8 L86.5,435.9 L86.9,436.0 L87.3,436.1 L87.7,436.1 L88.1,435.0 L88.5,435.7 L88.9,435.9 L89.3,436.1 L89.7,436.1 L90.1,436.1 L90.5,436.1 L90.9,436.1 L91.3,436.1 L91.7,436.1 L92.1,436.1 L92.5,436.1 L92.9,436.1 L93.3,436.1 L93.7,435.6 L94.1,435.8 L94.5,436.1 L94.9,436.1 L95.3,436.0 L95.7,436.1 L96.1,436.1 L96.5,436.1 L96.9,436.1 L97.3,436.1 L97.7,436.1 L98.1,435.7 L98.5,435.8 L98.9,436.1 L99.3,436.1 L99.7,436.1 L100.1,436.1 L100.5,436.1 L100.9,436.1 L101.3,436.1 L101.7,436.1 L102.1,436.1 L102.5,435.8 L102.9,436.1 L103.3,436.1 L103.7,436.1 L104.1,436.1 L104.5,436.1 L104.9,436.1 L105.3,436.1 L105.7,436.0 L106.1,436.0 L106.5,436.1 L106.9,436.1 L107.3,436.1 L107.7,436.0 L108.1,436.1 L108.5,436.1 L108.9,435.9 L109.3,436.1 L109.7,436.0 L110.1,436.1 L110.5,436.1 L110.9,436.1 L111.3,436.1 L111.7,436.1 L112.1,436.1 L112.5,436.1 L112.9,436.1 L113.3,436.1 L113.7,436.1 L114.1,436.1 L114.5,436.0 L114.9,435.7 L115.3,435.9 L115.7,436.1 L116.1,436.1 L116.5,436.1 L116.9,436.1 L117.3,436.1 L117.7,436.1 L118.1,436.1 L118.5,436.1 L118.9,436.1 L119.3,436.1 L119.7,436.1 L120.1,436.1 L120.5,436.1 L120.9,433.1 L121.3,433.1 L121.7,436.1 L122.1,436.1 L122.5,436.1 L122.9,436.1 L123.3,435.6 L123.7,436.0 L124.1,436.1 L124.5,435.1 L124.9,434.8 L125.3,434.9 L125.7,433.3 L126.1,421.9 L126.5,421.9 L126.9,432.7 L127.3,436.1 L127.7,436.1 L128.1,436.1 L128.5,436.1 L128.9,436.1 L129.3,436.1 L129.7,436.1 L130.1,436.1 L130.5,436.1 L130.9,436.1 L131.3,436.1 L131.7,436.1 L132.1,436.1 L132.5,436.0 L132.9,435.4 L133.3,436.1 L133.7,436.1 L134.1,436.1 L134.5,436.1 L134.9,436.1 L135.3,436.1 L135.7,436.1 L136.1,436.1 L136.5,435.9 L136.9,436.1 L137.3,436.1 L137.7,436.1 L138.1,436.1 L138.5,436.1 L138.9,436.1 L139.3,436.1 L139.7,436.1 L140.1,436.1 L140.5,436.1 L140.9,436.1 L141.3,436.1 L141.7,436.1 L142.1,435.6 L142.5,436.1 L142.9,436.1 L143.3,436.1 L143.7,436.1 L144.1,436.1 L144.5,436.1 L144.9,436.1 L145.3,436.1 L145.7,436.1 L146.1,436.1 L146.5,436.1 L146.9,436.1 L147.3,436.1 L147.7,436.1 L148.1,436.1 L148.5,436.1 L148.9,436.1 L149.3,436.1 L149.7,436.1 L150.1,436.1 L150.5,436.1 L150.9,436.1 L151.3,436.1 L151.7,436.1 L152.1,436.0 L152.5,436.1 L152.9,436.1 L153.3,436.1 L153.7,436.1 L154.1,436.1 L154.5,436.1 L154.9,435.9 L155.3,435.9 L155.7,436.1 L156.1,436.1 L156.5,436.1 L156.9,436.1 L157.3,436.0 L157.7,435.9 L158.1,436.1 L158.5,436.1 L158.9,435.7 L159.3,435.4 L159.7,436.0 L160.1,436.1 L160.5,436.1 L160.9,436.0 L161.3,436.1 L161.7,436.1 L162.1,436.1 L162.5,436.1 L162.9,436.1 L163.3,436.1 L163.7,436.1 L164.1,436.1 L164.5,436.1 L164.9,436.1 L165.3,436.1 L165.7,436.1 L166.1,436.1 L166.5,436.1 L166.9,436.1 L167.3,436.1 L167.7,435.6 L168.1,435.6 L168.5,436.1 L168.9,436.1 L169.3,436.1 L169.7,436.0 L170.1,436.0 L170.5,436.0 L170.9,436.0 L171.3,436.1 L171.7,436.1 L172.1,436.1 L172.5,436.1 L172.9,436.1 L173.3,436.1 L173.7,436.1 L174.1,435.9 L174.5,436.1 L174.9,436.0 L175.3,436.1 L175.7,436.1 L176.1,436.1 L176.5,436.1 L176.9,436.0 L177.3,435.1 L177.7,435.6 L178.1,436.1 L178.5,436.1 L178.9,436.1 L179.3,436.1 L179.7,436.1 L180.1,436.1 L180.5,435.5 L180.9,435.9 L181.3,436.1 L181.7,435.8 L182.1,436.0 L182.5,436.1 L182.9,436.1 L183.3,436.1 L183.7,436.1 L184.1,436.1 L184.5,436.1 L184.9,436.1 L185.3,436.0 L185.7,435.7 L186.1,435.5 L186.5,436.0 L186.9,436.1 L187.3,436.0 L187.7,436.1 L188.1,436.1 L188.5,436.1 L188.9,436.1 L189.3,436.1 L189.7,436.1 L190.1,436.1 L190.5,435.9 L190.9,435.9 L191.3,435.9 L191.7,436.1 L192.1,436.0 L192.5,436.1 L192.9,436.1 L193.3,436.1 L193.7,436.1 L194.1,436.1 L194.5,436.1 L194.9,436.1 L195.3,436.1 L195.7,435.8 L196.1,436.1 L196.5,436.1 L196.9,436.1 L197.3,436.1 L197.7,436.0 L198.1,436.1 L198.5,436.1 L198.9,436.1 L199.3,436.1 L199.7,435.6 L200.1,435.6 L200.5,435.8 L200.9,435.9 L201.3,436.0 L201.7,436.1 L202.1,436.1 L202.5,436.1 L202.9,436.1 L203.3,436.1 L203.7,436.1 L204.1,435.7 L204.5,436.0 L204.9,436.1 L205.3,435.9 L205.7,435.8 L206.1,435.9 L206.5,436.0 L206.9,436.1 L207.3,436.1 L207.7,436.1 L208.1,436.1 L208.5,436.1 L208.9,436.1 L209.3,435.8 L209.7,436.0 L210.1,436.1 L210.5,436.1 L210.9,435.7 L211.3,436.1 L211.7,436.1 L212.1,436.0 L212.5,435.8 L212.9,436.1 L213.3,436.1 L213.7,436.1 L214.1,435.9 L214.5,436.1 L214.9,436.1 L215.3,436.0 L215.7,436.1 L216.1,436.1 L216.5,436.1 L216.9,436.1 L217.3,436.1 L217.7,436.1 L218.1,436.1 L218.5,436.1 L218.9,436.1 L219.3,436.1 L219.7,436.1 L220.1,436.1 L220.5,436.1 L220.9,436.1 L221.3,436.1 L221.7,436.1 L222.1,436.1 L222.5,435.9 L222.9,436.0 L223.3,435.9 L223.7,436.1 L224.1,436.1 L224.5,436.1 L224.9,436.1 L225.3,436.1 L225.7,436.1 L226.1,435.1 L226.5,435.0 L226.9,435.4 L227.3,429.1 L227.7,421.0 L228.1,421.0 L228.5,429.3 L228.9,436.1 L229.3,436.0 L229.7,435.6 L230.1,436.0 L230.5,436.0 L230.9,436.1 L231.3,436.1 L231.7,436.1 L232.1,436.1 L232.5,436.1 L232.9,436.1 L233.3,436.1 L233.7,436.1 L234.1,436.0 L234.5,436.0 L234.9,436.1 L235.3,436.1 L235.7,436.1 L236.1,436.1 L236.5,435.9 L236.9,436.1 L237.3,436.1 L237.7,436.1 L238.1,436.1 L238.5,436.1 L238.9,436.1 L239.3,436.1 L239.7,436.1 L240.1,435.9 L240.5,436.0 L240.9,436.1 L241.3,436.1 L241.7,436.1 L242.1,436.0 L242.5,436.1 L242.9,436.0 L243.3,435.9 L243.7,435.2 L244.1,435.4 L244.5,435.9 L244.9,436.1 L245.3,436.1 L245.7,436.1 L246.1,436.1 L246.5,436.1 L246.9,436.1 L247.3,435.9 L247.7,436.1 L248.1,436.1 L248.5,436.1 L248.9,436.1 L249.3,436.1 L249.7,436.1 L250.1,436.1 L250.5,436.1 L250.9,436.0 L251.3,435.9 L251.7,436.1 L252.1,436.1 L252.5,436.1 L252.9,435.9 L253.3,436.1 L253.7,436.1 L254.1,436.1 L254.5,436.1 L254.9,436.1 L255.3,436.1 L255.7,436.1 L256.1,436.1 L256.5,436.1 L256.9,436.1 L257.3,436.1 L257.7,436.1 L258.1,436.1 L258.5,436.1 L258.9,436.1 L259.3,436.1 L259.7,436.1 L260.1,436.1 L260.5,436.1 L260.9,436.1 L261.3,436.1 L261.7,436.1 L262.1,436.0 L262.5,436.1 L262.9,436.1 L263.3,436.1 L263.7,436.1 L264.1,436.1 L264.5,436.1 L264.9,436.1 L265.3,436.1 L265.7,436.1 L266.1,436.0 L266.5,436.1 L266.9,436.1 L267.3,436.1 L267.7,436.1 L268.1,436.1 L268.5,436.1 L268.9,436.1 L269.3,436.0 L269.7,435.9 L270.1,436.1 L270.5,435.9 L270.9,436.1 L271.3,435.4 L271.7,435.5 L272.1,435.9 L272.5,436.1 L272.9,436.1 L273.3,436.0 L273.7,436.1 L274.1,436.1 L274.5,436.1 L274.9,436.1 L275.3,436.1 L275.7,436.1 L276.1,436.1 L276.5,436.1 L276.9,436.1 L277.3,436.1 L277.7,436.1 L278.1,436.1 L278.5,436.1 L278.9,436.1 L279.3,436.1 L279.7,436.0 L280.1,436.1 L280.5,436.1 L280.9,436.1 L281.3,436.0 L281.7,436.1 L282.1,436.1 L282.5,436.1 L282.9,436.1 L283.3,436.1 L283.7,436.1 L284.1,436.1 L284.5,436.1 L284.9,436.1 L285.3,436.1 L285.7,436.1 L286.1,436.1 L286.5,436.1 L286.9,436.0 L287.3,435.9 L287.7,436.1 L288.1,436.1 L288.5,436.1 L288.9,436.1 L289.3,436.1 L289.7,436.1 L290.1,436.1 L290.5,436.1 L290.9,436.1 L291.3,436.1 L291.7,436.1 L292.1,436.1 L292.5,436.1 L292.9,436.1 L293.3,436.1 L293.7,436.1 L294.1,436.1 L294.5,436.1 L294.9,436.1 L295.3,436.1 L295.7,436.1 L296.1,436.1 L296.5,436.1 L296.9,436.1 L297.3,436.1 L297.7,436.0 L298.1,436.0 L298.5,436.1 L298.9,436.1 L299.3,436.1 L299.7,436.1 L300.1,435.7 L300.5,436.0 L300.9,436.0 L301.3,436.1 L301.7,436.1 L302.1,436.1 L302.5,436.1 L302.9,435.9 L303.3,436.1 L303.7,436.1 L304.1,436.1 L304.5,436.1 L304.9,436.1 L305.3,436.1 L305.7,436.1 L306.1,436.1 L306.5,436.1 L306.9,436.1 L307.3,436.1 L307.7,436.1 L308.1,436.1 L308.5,436.0 L308.9,435.8 L309.3,436.1 L309.7,436.1 L310.1,436.1 L310.5,436.1 L310.9,436.1 L311.3,436.1 L311.7,436.1 L312.1,436.1 L312.5,436.1 L312.9,436.1 L313.3,435.9 L313.7,436.1 L314.1,435.6 L314.5,435.9 L314.9,436.1 L315.3,436.1 L315.7,436.1 L316.1,436.1 L316.5,436.1 L316.9,436.1 L317.3,436.1 L317.7,435.6 L318.1,435.7 L318.5,435.8 L318.9,436.1 L319.3,436.1 L319.7,436.1 L320.1,436.1 L320.5,436.1 L320.9,436.1 L321.3,436.1 L321.7,436.1 L322.1,436.1 L322.5,436.1 L322.9,436.1 L323.3,436.1 L323.7,436.1 L324.1,435.9 L324.5,436.1 L324.9,436.1 L325.3,436.1 L325.7,436.1 L326.1,436.1 L326.5,436.1 L326.9,436.1 L327.3,436.1 L327.7,436.1 L328.1,436.1 L328.5,436.1 L328.9,436.1 L329.3,436.1 L329.7,436.1 L330.1,436.1 L330.5,436.1 L330.9,436.1 L331.3,436.1 L331.7,436.1 L332.1,436.1 L332.5,436.1 L332.9,436.1 L333.3,436.1 L333.7,436.1 L334.1,436.1 L334.5,436.1 L334.9,436.1 L335.3,436.1 L335.7,435.9 L336.1,436.1 L336.5,436.1 L336.9,435.8 L337.3,436.1 L337.7,436.1 L338.1,436.1 L338.5,436.1 L338.9,436.1 L339.3,436.1 L339.7,436.1 L340.1,436.1 L340.5,435.6 L340.9,436.0 L341.3,436.0 L341.7,436.1 L342.1,435.7 L342.5,436.1 L342.9,436.1 L343.3,436.1 L343.7,436.1 L344.1,436.1 L344.5,435.9 L344.9,435.9 L345.3,436.1 L345.7,436.1 L346.1,436.1 L346.5,436.1 L346.9,436.1 L347.3,435.9 L347.7,436.0 L348.1,436.1 L348.5,436.1 L348.9,436.1 L349.3,436.1 L349.7,436.1 L350.1,436.1 L350.5,436.1 L350.9,436.1 L351.3,436.1 L351.7,436.1 L352.1,436.1 L352.5,436.1 L352.9,436.1 L353.3,436.1 L353.7,435.7 L354.1,435.8 L354.5,436.0 L354.9,436.0 L355.3,436.1 L355.7,436.1 L356.1,436.1 L356.5,436.1 L356.9,436.1 L357.3,436.1 L357.7,436.1 L358.1,436.1 L358.5,436.1 L358.9,436.1 L359.3,436.1 L359.7,436.1 L360.1,436.1 L360.5,436.1 L360.9,436.1 L361.3,435.4 L361.7,436.0 L362.1,436.1 L362.5,436.1 L362.9,436.1 L363.3,436.1 L363.7,436.0 L364.1,436.0 L364.5,435.9 L364.9,435.7 L365.3,436.1 L365.7,436.1 L366.1,436.1 L366.5,436.1 L366.9,436.1 L367.3,436.1 L367.7,436.1 L368.1,436.1 L368.5,436.1 L368.9,436.1 L369.3,436.1 L369.7,435.9 L370.1,436.1 L370.5,436.1 L370.9,436.1 L371.3,436.1 L371.7,436.1 L372.1,436.1 L372.5,436.1 L372.9,436.1 L373.3,436.1 L373.7,436.1 L374.1,436.1 L374.5,436.1 L374.9,436.1 L375.3,436.1 L375.7,435.8 L376.1,436.0 L376.5,435.9 L376.9,436.0 L377.3,436.1 L377.7,436.1 L378.1,436.1 L378.5,436.1 L378.9,436.0 L379.3,436.1 L379.7,436.1 L380.1,436.1 L380.5,436.1 L380.9,436.1 L381.3,436.1 L381.7,436.1 L382.1,436.0 L382.5,436.1 L382.9,436.0 L383.3,436.1 L383.7,436.1 L384.1,436.1 L384.5,436.1 L384.9,436.0 L385.3,436.1 L385.7,435.9 L386.1,436.1 L386.5,436.0 L386.9,436.1 L387.3,436.1 L387.7,436.1 L388.1,436.1 L388.5,436.1 L388.9,436.1 L389.3,436.1 L389.7,436.1 L390.1,436.1 L390.5,436.1 L390.9,436.1 L391.3,436.1 L391.7,436.1 L392.1,436.0 L392.5,435.4 L392.9,435.6 L393.3,435.7 L393.7,435.7 L394.1,435.9 L394.5,435.9 L394.9,436.1 L395.3,436.1 L395.7,436.0 L396.1,436.1 L396.5,436.1 L396.9,436.1 L397.3,435.8 L397.7,435.7 L398.1,435.9 L398.5,435.8 L398.9,435.9 L399.3,435.9 L399.7,436.1 L400.1,436.1 L400.5,436.1 L400.9,436.1 L401.3,436.1 L401.7,436.1 L402.1,436.1 L402.5,436.1 L402.9,436.1 L403.3,436.0 L403.7,436.1 L404.1,436.1 L404.5,436.1 L404.9,436.1 L405.3,436.1 L405.7,436.1 L406.1,436.1 L406.5,436.1 L406.9,436.1 L407.3,436.1 L407.7,436.1 L408.1,435.3 L408.5,434.7 L408.9,435.4 L409.3,432.5 L409.7,435.3 L410.1,423.6 L410.5,436.1 L410.9,436.1 L411.3,435.6 L411.7,436.1 L412.1,436.1 L412.5,436.1 L412.9,436.1 L413.3,436.1 L413.7,436.1 L414.1,436.1 L414.5,436.1 L414.9,436.1 L415.3,436.1 L415.7,436.0 L416.1,436.1 L416.5,436.1 L416.9,436.1 L417.3,435.9 L417.7,436.0 L418.1,436.1 L418.5,436.1 L418.9,436.1 L419.3,436.1 L419.7,436.0 L420.1,436.1 L420.5,436.1 L420.9,435.5 L421.3,435.9 L421.7,436.1 L422.1,436.1 L422.5,436.1 L422.9,436.1 L423.3,435.6 L423.7,436.1 L424.1,436.1 L424.5,436.1 L424.9,436.1 L425.3,436.1 L425.7,436.1 L426.1,436.1 L426.5,436.1 L426.9,436.1 L427.3,436.1 L427.7,436.1 L428.1,436.1 L428.5,436.1 L428.9,436.1 L429.3,436.1 L429.7,436.1 L430.1,436.1 L430.5,436.1 L430.9,436.1 L431.3,435.9 L431.7,436.1 L432.0,436.6 Z" fill="#f0a03c" stroke="#f0a03c" stroke-width="0.3"/>
<line x1="31.7" y1="436.1" x2="432.0" y2="436.1" stroke="#f0a03c" stroke-width="1.1"/>
<line x1="28.8" y1="445.8" x2="48.0" y2="445.8" stroke="#231f20" stroke-width="0.8"/>
<line x1="55.0" y1="445.8" x2="84.8" y2="445.8" stroke="#231f20" stroke-width="0.8"/>
<line x1="97.0" y1="445.8" x2="121.6" y2="445.8" stroke="#231f20" stroke-width="0.8"/>
<line x1="127.2" y1="445.8" x2="134.5" y2="445.8" stroke="#231f20" stroke-width="0.8"/>
<line x1="191.4" y1="445.8" x2="360.0" y2="445.8" stroke="#231f20" stroke-width="0.8"/>
<line x1="370.5" y1="445.8" x2="432.0" y2="445.8" stroke="#231f20" stroke-width="0.8"/>
<path d="M40.7,444.3v3M46.3,444.3v3M48.0,444.3v3M55.2,444.3v3M57.5,444.3v3M60.0,444.3v3M62.5,444.3v3M65.0,444.3v3M67.5,444.3v3M70.0,444.3v3M72.5,444.3v3M75.0,444.3v3M78.0,444.3v3M81.0,444.3v3M84.5,444.3v3M104.0,444.3v3M107.5,444.3v3M110.0,444.3v3M115.0,444.3v3M121.4,444.3v3M191.6,444.3v3M194.0,444.3v3M197.5,444.3v3M201.0,444.3v3M206.3,444.3v3M211.5,444.3v3M215.0,444.3v3M230.8,444.3v3M233.4,444.3v3M239.5,444.3v3M242.2,444.3v3M244.8,444.3v3M264.0,444.3v3M266.7,444.3v3M269.3,444.3v3M272.8,444.3v3M292.0,444.3v3M295.6,444.3v3M306.0,444.3v3M330.7,444.3v3M339.9,444.3v3M349.0,444.3v3M380.5,444.3v3M390.0,444.3v3M400.0,444.3v3M413.0,444.3v3M417.0,444.3v3M421.0,444.3v3M425.0,444.3v3M430.0,444.3v3" stroke="#231f20" stroke-width="0.8" fill="none"/>
<rect x="34.8" y="444.0" width="2.2" height="3.6" fill="#231f20"/>
<rect x="97.0" y="444.0" width="3.4" height="3.6" fill="#231f20"/>
<rect x="127.2" y="444.0" width="6.0" height="3.6" fill="#231f20"/>
<rect x="226.2" y="444.0" width="2.4" height="3.6" fill="#231f20"/>
<rect x="254.4" y="444.0" width="3.6" height="3.6" fill="#231f20"/>
<rect x="279.0" y="444.0" width="2.4" height="3.6" fill="#231f20"/>
<rect x="283.0" y="444.0" width="2.4" height="3.6" fill="#231f20"/>
<rect x="286.0" y="444.0" width="1.6" height="3.6" fill="#231f20"/>
<rect x="314.3" y="444.0" width="5.0" height="3.6" fill="#231f20"/>
<rect x="370.5" y="444.0" width="6.0" height="3.6" fill="#231f20"/>
<rect x="408.6" y="444.0" width="1.8" height="3.6" fill="#231f20"/>
<path d="M134.3,443.6 L137,445.8 L134.3,448.0 Z" fill="#231f20"/>
<path d="M358.5,443.8 L361.5,445.8 L358.5,447.8 Z" fill="#231f20"/>
<text x="33.2" y="456.3" font-size="7.6" text-anchor="middle" fill="#3a3a3a" font-style="italic">SEC23A</text>
<text x="69.0" y="456.3" font-size="7.6" text-anchor="middle" fill="#3a3a3a" font-style="italic">GEMIN2</text>
<text x="108.3" y="456.3" font-size="7.6" text-anchor="middle" fill="#3a3a3a" font-style="italic">TRAPPC6B</text>
<text x="149.5" y="456.3" font-size="7.6" text-anchor="middle" fill="#3a3a3a" font-style="italic">PNN-AS1</text>
<text x="281.7" y="456.3" font-size="7.6" text-anchor="middle" fill="#3a3a3a" font-style="italic">MIA2</text>
<text x="391.8" y="456.3" font-size="7.6" text-anchor="middle" fill="#3a3a3a" font-style="italic">FBXO33</text>
<path d="M118.2,77.9 Q142.1,139.5 181.0,163.0" stroke="#5fa0d2" stroke-width="0.8" stroke-opacity="0.8" fill="none"/>
<path d="M119.5,77.6 Q143.7,138.9 179.1,165.8" stroke="#5fa0d2" stroke-width="0.8" stroke-opacity="0.8" fill="none"/>
<path d="M124.6,76.7 Q146.2,135.8 171.6,174.4" stroke="#5fa0d2" stroke-width="0.8" stroke-opacity="0.8" fill="none"/>
<path d="M126.1,76.5 Q148.1,135.4 168.7,176.9" stroke="#5fa0d2" stroke-width="0.8" stroke-opacity="0.8" fill="none"/>
<path d="M127.6,76.3 Q144.7,133.3 167.6,177.7" stroke="#5fa0d2" stroke-width="0.8" stroke-opacity="0.8" fill="none"/>
<path d="M129.6,76.2 Q147.0,132.7 163.7,180.5" stroke="#5fa0d2" stroke-width="0.8" stroke-opacity="0.8" fill="none"/>
<path d="M140.1,76.6 Q148.4,130.4 152.8,186.0" stroke="#5fa0d2" stroke-width="0.8" stroke-opacity="0.8" fill="none"/>
<path d="M141.6,76.8 Q144.5,128.6 152.8,185.9" stroke="#5fa0d2" stroke-width="0.8" stroke-opacity="0.8" fill="none"/>
<path d="M143.1,77.0 Q146.2,128.7 150.5,186.8" stroke="#5fa0d2" stroke-width="0.8" stroke-opacity="0.8" fill="none"/>
<path d="M144.6,77.3 Q147.9,128.9 148.1,187.5" stroke="#5fa0d2" stroke-width="0.8" stroke-opacity="0.8" fill="none"/>
<path d="M146.0,77.7 Q149.6,129.2 145.7,188.1" stroke="#5fa0d2" stroke-width="0.8" stroke-opacity="0.8" fill="none"/>
<path d="M147.5,78.0 Q145.7,127.2 145.8,188.1" stroke="#5fa0d2" stroke-width="0.8" stroke-opacity="0.8" fill="none"/>
<path d="M149.4,78.6 Q147.5,127.4 142.8,188.7" stroke="#5fa0d2" stroke-width="0.8" stroke-opacity="0.8" fill="none"/>
<path d="M150.9,79.0 Q149.3,127.7 140.3,189.1" stroke="#5fa0d2" stroke-width="0.8" stroke-opacity="0.8" fill="none"/>
<path d="M152.3,79.5 Q145.4,125.6 140.4,189.1" stroke="#5fa0d2" stroke-width="0.8" stroke-opacity="0.8" fill="none"/>
<path d="M153.7,80.1 Q147.2,125.9 137.9,189.3" stroke="#5fa0d2" stroke-width="0.8" stroke-opacity="0.8" fill="none"/>
<path d="M155.1,80.6 Q149.0,126.3 135.4,189.5" stroke="#5fa0d2" stroke-width="0.8" stroke-opacity="0.8" fill="none"/>
<path d="M156.5,81.2 Q150.8,126.7 133.0,189.6" stroke="#5fa0d2" stroke-width="0.8" stroke-opacity="0.8" fill="none"/>
<path d="M157.8,81.9 Q146.9,124.5 133.0,189.6" stroke="#5fa0d2" stroke-width="0.8" stroke-opacity="0.8" fill="none"/>
<path d="M159.2,82.5 Q148.7,125.0 130.5,189.6" stroke="#5fa0d2" stroke-width="0.8" stroke-opacity="0.8" fill="none"/>
<path d="M160.5,83.2 Q150.6,125.4 128.1,189.4" stroke="#5fa0d2" stroke-width="0.8" stroke-opacity="0.8" fill="none"/>
<path d="M168.8,88.8 Q142.4,120.8 129.7,189.5" stroke="#5fa0d2" stroke-width="0.8" stroke-opacity="0.8" fill="none"/>
<path d="M169.8,89.6 Q144.1,121.1 127.9,189.4" stroke="#5fa0d2" stroke-width="0.8" stroke-opacity="0.8" fill="none"/>
<path d="M170.8,90.4 Q145.8,121.5 126.1,189.2" stroke="#5fa0d2" stroke-width="0.8" stroke-opacity="0.8" fill="none"/>
<path d="M171.7,91.2 Q147.5,122.0 124.2,189.0" stroke="#5fa0d2" stroke-width="0.8" stroke-opacity="0.8" fill="none"/>
<path d="M172.6,92.1 Q143.6,119.7 124.9,189.1" stroke="#5fa0d2" stroke-width="0.8" stroke-opacity="0.8" fill="none"/>
<path d="M173.5,93.0 Q145.3,120.1 123.1,188.8" stroke="#5fa0d2" stroke-width="0.8" stroke-opacity="0.8" fill="none"/>
<path d="M174.4,93.9 Q147.0,120.5 121.3,188.5" stroke="#5fa0d2" stroke-width="0.8" stroke-opacity="0.8" fill="none"/>
<path d="M175.2,94.8 Q143.1,118.2 122.0,188.6" stroke="#5fa0d2" stroke-width="0.8" stroke-opacity="0.8" fill="none"/>
<path d="M176.1,95.7 Q144.8,118.7 120.2,188.2" stroke="#5fa0d2" stroke-width="0.8" stroke-opacity="0.8" fill="none"/>
<path d="M176.9,96.7 Q146.6,119.1 118.5,187.8" stroke="#5fa0d2" stroke-width="0.8" stroke-opacity="0.8" fill="none"/>
<path d="M177.7,97.6 Q148.3,119.6 116.7,187.4" stroke="#5fa0d2" stroke-width="0.8" stroke-opacity="0.8" fill="none"/>
<path d="M178.4,98.6 Q144.4,117.2 117.3,187.5" stroke="#5fa0d2" stroke-width="0.8" stroke-opacity="0.8" fill="none"/>
<path d="M179.2,99.6 Q146.2,117.7 115.6,187.0" stroke="#5fa0d2" stroke-width="0.8" stroke-opacity="0.8" fill="none"/>
<path d="M179.9,100.6 Q148.0,118.2 113.9,186.5" stroke="#5fa0d2" stroke-width="0.8" stroke-opacity="0.8" fill="none"/>
<path d="M180.6,101.6 Q144.2,115.8 114.5,186.7" stroke="#5fa0d2" stroke-width="0.8" stroke-opacity="0.8" fill="none"/>
<path d="M187.7,116.6 Q145.7,135.9 184.9,155.6" stroke="#5fa0d2" stroke-width="0.8" stroke-opacity="0.8" fill="none"/>
<path d="M187.9,117.3 Q147.1,135.4 184.6,156.3" stroke="#5fa0d2" stroke-width="0.8" stroke-opacity="0.8" fill="none"/>
<path d="M188.1,118.0 Q148.6,134.9 184.3,157.1" stroke="#5fa0d2" stroke-width="0.8" stroke-opacity="0.8" fill="none"/>
<path d="M188.3,118.6 Q150.1,134.4 183.9,157.8" stroke="#5fa0d2" stroke-width="0.8" stroke-opacity="0.8" fill="none"/>
<path d="M81.9,107.0 Q149.1,129.6 183.9,157.9" stroke="#5fa0d2" stroke-width="0.8" stroke-opacity="0.8" fill="none"/>
<path d="M82.8,105.2 Q151.8,132.2 182.4,160.7" stroke="#5fa0d2" stroke-width="0.8" stroke-opacity="0.8" fill="none"/>
<path d="M83.9,103.5 Q154.5,134.9 180.8,163.4" stroke="#5fa0d2" stroke-width="0.8" stroke-opacity="0.8" fill="none"/>
<path d="M84.9,101.9 Q157.2,137.7 179.0,166.0" stroke="#5fa0d2" stroke-width="0.8" stroke-opacity="0.8" fill="none"/>
<path d="M86.1,100.2 Q160.0,140.4 177.1,168.5" stroke="#5fa0d2" stroke-width="0.8" stroke-opacity="0.8" fill="none"/>
<path d="M87.2,98.6 Q162.9,143.2 175.0,170.9" stroke="#5fa0d2" stroke-width="0.8" stroke-opacity="0.8" fill="none"/>
<path d="M88.5,97.1 Q165.8,146.1 172.8,173.2" stroke="#5fa0d2" stroke-width="0.8" stroke-opacity="0.8" fill="none"/>
<path d="M77.4,118.5 Q152.5,128.8 177.6,167.9" stroke="#5fa0d2" stroke-width="0.5" stroke-opacity="0.5" fill="none"/>
<path d="M78.9,152.5 Q150.0,140.0 113.1,186.2" stroke="#5fa0d2" stroke-width="0.8" stroke-opacity="0.8" fill="none"/>
<path d="M78.3,150.8 Q149.4,139.8 115.3,187.0" stroke="#5fa0d2" stroke-width="0.8" stroke-opacity="0.8" fill="none"/>
<path d="M77.8,149.1 Q148.8,139.6 117.6,187.6" stroke="#5fa0d2" stroke-width="0.8" stroke-opacity="0.8" fill="none"/>
<path d="M77.3,147.4 Q148.2,139.4 120.0,188.2" stroke="#5fa0d2" stroke-width="0.8" stroke-opacity="0.8" fill="none"/>
<path d="M76.8,145.6 Q147.6,139.2 122.3,188.7" stroke="#5fa0d2" stroke-width="0.8" stroke-opacity="0.8" fill="none"/>
<path d="M76.5,143.9 Q147.0,139.0 124.7,189.1" stroke="#5fa0d2" stroke-width="0.8" stroke-opacity="0.8" fill="none"/>
<path d="M76.2,142.2 Q146.4,138.8 127.0,189.3" stroke="#5fa0d2" stroke-width="0.8" stroke-opacity="0.8" fill="none"/>
<path d="M75.9,140.4 Q145.8,138.6 129.4,189.5" stroke="#5fa0d2" stroke-width="0.8" stroke-opacity="0.8" fill="none"/>
<path d="M75.7,138.6 Q145.2,138.4 131.8,189.6" stroke="#5fa0d2" stroke-width="0.8" stroke-opacity="0.8" fill="none"/>
<path d="M75.6,136.8 Q144.6,138.2 134.2,189.6" stroke="#5fa0d2" stroke-width="0.8" stroke-opacity="0.8" fill="none"/>
<path d="M75.5,135.1 Q144.0,138.0 136.6,189.5" stroke="#5fa0d2" stroke-width="0.8" stroke-opacity="0.8" fill="none"/>
<path d="M75.4,133.3 Q143.4,137.8 139.0,189.2" stroke="#5fa0d2" stroke-width="0.8" stroke-opacity="0.8" fill="none"/>
<path d="M75.5,131.5 Q142.8,137.6 141.3,188.9" stroke="#5fa0d2" stroke-width="0.8" stroke-opacity="0.8" fill="none"/>
<path d="M75.5,129.7 Q142.2,137.4 143.7,188.5" stroke="#5fa0d2" stroke-width="0.8" stroke-opacity="0.8" fill="none"/>
<path d="M75.7,128.0 Q141.6,137.2 146.0,188.0" stroke="#5fa0d2" stroke-width="0.8" stroke-opacity="0.8" fill="none"/>
<path d="M75.9,126.2 Q141.0,137.0 148.3,187.4" stroke="#5fa0d2" stroke-width="0.8" stroke-opacity="0.8" fill="none"/>
<path d="M106.7,35.8 A101.6,100.6 0 0 1 218.2,79.0 L213.7,81.8 A96.2,95.3 0 0 0 108.0,41.0 Z" fill="#8a8b8d"/>
<path d="M106.8,36.5 A100.9,99.9 0 0 1 217.6,79.3 L213.7,81.8 A96.2,95.3 0 0 0 108.0,41.0 Z" fill="#e3262b"/>
<path d="M106.8,36.5L106.2,34.0M108.3,36.1L107.9,34.7M109.7,35.8L109.3,34.4M111.1,35.5L110.8,34.0M112.6,35.2L112.3,33.7M114.0,34.9L113.7,33.0M115.5,34.6L115.2,33.2M117.0,34.4L116.7,32.9M118.4,34.2L118.2,32.7M119.9,34.0L119.7,32.5M121.3,33.8L121.1,31.9M122.8,33.7L122.7,32.2M124.3,33.5L124.2,32.0M125.8,33.4L125.7,31.9M127.2,33.3L127.2,31.8M128.7,33.3L128.7,31.4M130.2,33.2L130.2,31.7M131.7,33.2L131.7,31.7M133.2,33.2L133.2,31.7M134.6,33.2L134.7,31.7M136.1,33.3L136.2,31.4M137.6,33.3L137.7,31.8M139.1,33.4L139.2,31.9M140.6,33.5L140.7,32.0M142.0,33.6L142.2,32.1M143.5,33.8L143.8,31.2M145.0,34.0L145.2,32.5M146.4,34.1L146.6,32.7M147.9,34.4L148.1,32.9M149.4,34.6L149.6,33.1M150.8,34.8L151.2,33.0M152.3,35.1L152.6,33.6M153.7,35.4L154.0,34.0M155.2,35.7L155.5,34.3M156.6,36.1L157.0,34.6M158.0,36.4L158.5,34.6M159.5,36.8L159.9,35.4M160.9,37.2L161.3,35.8M162.3,37.6L162.8,36.2M163.7,38.1L164.2,36.6M165.1,38.5L165.7,36.7M166.5,39.0L167.0,37.6M167.9,39.5L168.4,38.1M169.3,40.0L169.8,38.6M170.7,40.6L171.2,39.2M172.0,41.1L172.8,39.4M173.4,41.7L174.0,40.4M174.7,42.3L175.4,41.0M176.1,43.0L176.7,41.6M177.4,43.6L178.1,42.2M178.7,44.2L179.9,41.9M180.0,44.9L180.7,43.6M181.3,45.6L182.1,44.3M182.6,46.3L183.4,45.0M183.9,47.1L184.7,45.8M185.2,47.8L186.2,46.2M186.4,48.6L187.2,47.3M187.7,49.4L188.5,48.1M188.9,50.2L189.8,49.0M190.1,51.0L191.0,49.8M191.3,51.9L192.4,50.3M192.5,52.7L193.4,51.5M193.7,53.6L194.6,52.4M194.9,54.5L195.8,53.3M196.0,55.4L197.0,54.2M197.2,56.4L198.4,54.9M198.3,57.3L199.3,56.2M199.4,58.3L200.4,57.1M200.5,59.2L201.6,58.1M201.6,60.2L202.7,59.1M202.7,61.2L204.0,59.9M203.8,62.3L204.8,61.2M204.8,63.3L205.9,62.3M205.8,64.4L206.9,63.3M206.8,65.4L207.9,64.4M207.8,66.5L209.8,64.8M208.8,67.6L209.9,66.6M209.8,68.7L210.9,67.8M210.7,69.8L211.9,68.9M211.6,71.0L212.8,70.1M212.5,72.2L214.1,71.0M213.4,73.3L214.7,72.4M214.3,74.5L215.5,73.6M215.2,75.7L216.4,74.8M216.0,76.9L217.3,76.0M216.8,78.1L218.4,77.1M217.6,79.3L218.9,78.5" stroke="#4d4e50" stroke-width="0.6" fill="none"/>
<text x="103.2" y="32.5" font-size="7.3" text-anchor="end" fill="#333" transform="rotate(75.2 103.2 32.5)">0</text>
<text x="141.5" y="28.7" font-size="7.3" text-anchor="end" fill="#333" transform="rotate(96.2 141.5 28.7)">25</text>
<text x="178.7" y="38.8" font-size="7.3" text-anchor="end" fill="#333" transform="rotate(117.2 178.7 38.8)">50</text>
<text x="209.8" y="61.5" font-size="7.3" text-anchor="end" fill="#333" transform="rotate(138.2 209.8 61.5)">75</text>
<path d="M109.5,46.6 L109.9,46.1 L110.3,45.9 L110.8,45.8 L111.3,45.8 L111.7,44.9 L112.4,46.0 L112.8,45.5 L113.3,45.4 L113.7,45.1 L114.2,45.0 L114.7,45.1 L115.2,44.7 L115.7,44.7 L116.2,45.1 L116.7,44.8 L117.1,44.1 L117.7,44.6 L118.1,44.4 L118.6,44.1 L119.2,44.5 L119.6,44.0 L120.1,44.2 L120.6,43.9 L121.0,43.2 L121.5,43.8 L122.0,43.7 L122.5,43.8 L123.1,43.9 L123.5,43.7 L124.0,43.9 L124.6,44.1 L125.1,44.2 L125.5,43.5 L126.0,43.3 L126.5,44.2 L127.0,43.7 L127.5,43.7 L128.0,43.5 L128.4,42.7 L129.0,43.5 L129.5,43.8 L129.9,42.9 L130.5,43.6 L130.9,43.0 L131.4,43.6 L131.9,43.3 L132.4,43.1 L132.9,42.9 L133.4,43.4 L133.9,43.1 L134.4,43.3 L134.9,43.7 L135.4,43.8 L135.9,43.4 L136.4,43.6 L136.9,43.3 L137.4,43.5 L137.9,42.9 L138.3,44.0 L138.9,43.3 L139.4,42.7 L139.9,43.2 L140.4,43.4 L140.8,44.0 L141.4,43.1 L141.8,43.6 L142.3,43.9 L142.8,44.0 L143.3,43.5 L143.7,44.5 L144.3,44.2 L144.8,44.2 L145.2,44.3 L145.8,43.9 L146.1,45.1 L146.8,44.3 L147.3,44.2 L147.7,44.6 L148.2,44.3 L148.6,45.1 L149.1,45.2 L149.6,45.3 L150.3,44.0 L150.7,44.9 L151.1,45.1 L151.7,45.1 L152.1,45.4 L152.4,46.0 L153.0,45.8 L153.8,44.7 L154.1,45.4 L154.4,46.2 L154.8,46.9 L155.6,45.5 L155.8,46.9 L156.4,46.5 L157.2,45.5 L157.4,46.7 L158.0,46.4 L158.4,46.9 L159.2,46.0 L159.2,47.5 L159.5,48.2 L160.2,47.7 L160.7,47.6 L161.2,47.8 L161.6,48.2 L162.0,48.3 L162.5,48.5 L163.0,48.7 L163.8,47.9 L164.0,48.8 L164.4,49.2 L164.6,49.9 L165.3,49.5 L165.8,49.5 L166.3,49.6 L166.8,49.8 L166.9,50.7 L167.5,50.5 L168.2,50.1 L169.0,49.6 L168.8,51.4 L169.8,50.4 L170.1,50.9 L170.5,51.2 L170.9,51.5 L170.9,52.6 L171.4,52.8 L172.2,52.1 L172.7,52.4 L173.2,52.3 L173.6,52.7 L173.8,53.3 L174.0,54.0 L175.3,52.6 L175.0,54.3 L175.8,53.9 L175.8,54.9 L176.2,55.2 L176.9,55.0 L177.4,55.1 L177.4,56.0 L177.9,56.2 L178.6,55.9 L179.4,55.5 L179.4,56.5 L179.6,57.2 L180.3,56.9 L180.9,56.9 L181.6,56.8 L182.0,57.0 L182.2,57.6 L182.3,58.4 L182.8,58.6 L183.2,58.7 L184.5,57.8 L184.2,59.0 L184.2,60.0 L184.5,60.4 L185.8,59.4 L185.3,61.0 L187.4,58.9 L186.8,60.5 L187.1,61.0 L187.4,61.4 L187.3,62.3 L188.0,62.2 L188.8,62.0 L188.4,63.3 L189.5,62.7 L191.0,61.7 L190.1,63.5 L189.9,64.5 L191.2,63.8 L191.3,64.5 L191.4,65.1 L192.2,64.9 L192.5,65.3 L192.8,65.7 L192.5,66.8 L193.9,65.9 L193.2,67.4 L194.5,66.8 L194.0,68.1 L195.5,67.2 L195.2,68.2 L195.0,69.1 L195.6,69.2 L195.7,69.8 L196.5,69.7 L196.7,70.1 L198.4,69.2 L198.9,69.4 L197.9,71.0 L198.6,71.1 L199.3,71.1 L199.0,72.1 L199.3,72.5 L199.8,72.7 L199.5,73.6 L199.8,74.0 L200.6,73.9 L201.1,74.2 L200.9,75.0 L201.3,75.3 L201.9,75.4 L201.7,76.2 L203.2,75.6 L203.0,76.4 L203.3,76.8 L206.4,74.9 L203.8,77.7 L203.8,78.3 L205.8,77.3 L205.1,78.5 L205.9,78.5 L205.3,79.6 L205.3,80.2 L206.2,80.2 L206.7,80.4 L207.4,80.5 L206.4,81.8 L206.7,82.2 L207.1,82.5 L208.2,82.3 L209.3,82.3 L207.6,84.0 L208.2,84.2 L209.2,84.1 L208.9,84.8 L208.1,85.4 L207.8,85.0 L207.6,84.5 L207.3,84.2 L207.0,83.7 L206.8,83.3 L206.5,82.9 L206.2,82.5 L205.9,82.2 L205.7,81.8 L205.4,81.4 L205.1,81.0 L204.8,80.6 L204.5,80.2 L204.2,79.8 L203.8,79.5 L203.6,79.0 L203.3,78.6 L203.0,78.3 L202.7,77.9 L202.4,77.5 L202.1,77.1 L201.8,76.8 L201.5,76.4 L201.2,76.0 L200.8,75.6 L199.7,76.0 L200.2,74.9 L199.9,74.5 L199.6,74.2 L199.2,73.8 L198.9,73.5 L198.6,73.1 L198.2,72.7 L197.9,72.4 L197.6,72.0 L197.2,71.7 L196.9,71.3 L196.4,71.2 L196.2,70.7 L195.9,70.3 L195.5,70.0 L195.2,69.6 L194.8,69.3 L194.5,69.0 L194.1,68.6 L193.8,68.3 L193.4,68.0 L193.0,67.6 L192.7,67.3 L192.3,67.0 L191.9,66.7 L191.6,66.3 L191.2,66.0 L190.8,65.7 L190.5,65.4 L190.1,65.1 L189.7,64.8 L189.3,64.5 L189.0,64.2 L188.6,63.9 L187.8,64.0 L187.8,63.2 L187.4,63.0 L187.0,62.7 L186.7,62.4 L186.3,62.1 L185.9,61.8 L185.5,61.5 L185.1,61.2 L184.7,60.9 L184.3,60.6 L183.5,61.0 L183.5,60.1 L182.3,61.0 L182.7,59.5 L182.3,59.3 L181.9,59.0 L181.4,58.8 L180.9,58.6 L180.6,58.2 L180.0,58.4 L179.8,57.7 L179.4,57.5 L179.0,57.2 L178.6,57.0 L178.1,56.7 L177.7,56.5 L177.3,56.2 L176.9,56.0 L176.4,55.7 L176.0,55.5 L175.2,56.0 L175.2,55.0 L174.7,54.8 L174.3,54.6 L173.8,54.4 L173.4,54.1 L173.0,53.9 L172.6,53.7 L172.1,53.5 L171.7,53.3 L171.2,53.1 L170.8,52.9 L170.3,52.7 L169.9,52.5 L169.4,52.2 L169.0,52.0 L168.6,51.9 L168.1,51.7 L167.7,51.5 L167.2,51.3 L166.8,51.1 L166.3,50.9 L165.8,50.7 L165.4,50.6 L164.9,50.4 L164.5,50.2 L164.0,50.0 L163.1,51.1 L163.1,49.7 L162.7,49.5 L162.2,49.4 L161.7,49.2 L161.3,49.1 L160.4,50.2 L160.3,48.8 L159.9,48.6 L159.3,48.7 L158.9,48.3 L158.5,48.2 L158.0,48.0 L157.5,47.9 L157.1,47.8 L156.6,47.6 L156.1,47.5 L155.7,47.4 L155.2,47.3 L154.7,47.1 L154.2,47.0 L153.8,46.9 L153.3,46.8 L152.8,46.7 L152.3,46.6 L151.8,46.5 L151.4,46.4 L150.9,46.3 L150.4,46.2 L149.9,46.1 L149.4,46.0 L149.0,45.9 L148.5,45.8 L148.0,45.7 L147.5,45.6 L147.1,45.6 L146.6,45.5 L146.1,45.4 L145.6,45.3 L145.1,45.3 L144.6,45.2 L144.1,45.1 L143.7,45.1 L143.2,45.0 L142.7,45.0 L142.2,44.9 L141.7,44.9 L141.2,44.8 L140.7,44.8 L140.3,44.7 L139.8,44.7 L139.3,44.6 L138.8,44.6 L138.3,44.6 L137.8,44.5 L137.3,44.5 L136.8,44.5 L136.3,44.5 L135.9,44.5 L135.3,45.1 L134.9,44.4 L134.4,44.4 L133.9,44.4 L133.4,44.4 L132.9,44.4 L132.4,44.4 L131.9,44.4 L131.5,44.4 L131.0,44.4 L130.5,44.4 L130.0,44.4 L129.5,44.5 L129.0,44.5 L128.5,44.5 L128.0,44.5 L127.5,44.5 L127.1,44.6 L126.6,44.6 L126.1,44.6 L125.6,44.7 L125.2,45.5 L124.7,45.7 L124.3,46.2 L123.7,44.8 L123.2,44.9 L122.7,45.4 L122.2,45.0 L121.7,45.1 L121.2,45.1 L120.7,45.2 L120.3,45.2 L119.8,45.3 L119.3,45.4 L118.8,45.5 L118.3,45.5 L117.8,45.6 L117.4,45.7 L116.9,45.8 L116.4,45.9 L115.9,46.0 L115.4,46.0 L115.0,46.1 L114.5,46.2 L114.0,46.3 L113.5,46.4 L113.0,46.5 L112.6,46.6 L112.1,46.8 L111.6,46.9 L111.1,47.0 L110.7,47.1 L110.2,47.2 L109.7,47.3Z" fill="#86c3ea"/>
<path d="M109.5,46.6 L109.9,46.1 L110.3,45.9 L110.8,45.8 L111.3,45.8 L111.7,44.9 L112.4,46.0 L112.8,45.5 L113.3,45.4 L113.7,45.1 L114.2,45.0 L114.7,45.1 L115.2,44.7 L115.7,44.7 L116.2,45.1 L116.7,44.8 L117.1,44.1 L117.7,44.6 L118.1,44.4 L118.6,44.1 L119.2,44.5 L119.6,44.0 L120.1,44.2 L120.6,43.9 L121.0,43.2 L121.5,43.8 L122.0,43.7 L122.5,43.8 L123.1,43.9 L123.5,43.7 L124.0,43.9 L124.6,44.1 L125.1,44.2 L125.5,43.5 L126.0,43.3 L126.5,44.2 L127.0,43.7 L127.5,43.7 L128.0,43.5 L128.4,42.7 L129.0,43.5 L129.5,43.8 L129.9,42.9 L130.5,43.6 L130.9,43.0 L131.4,43.6 L131.9,43.3 L132.4,43.1 L132.9,42.9 L133.4,43.4 L133.9,43.1 L134.4,43.3 L134.9,43.7 L135.4,43.8 L135.9,43.4 L136.4,43.6 L136.9,43.3 L137.4,43.5 L137.9,42.9 L138.3,44.0 L138.9,43.3 L139.4,42.7 L139.9,43.2 L140.4,43.4 L140.8,44.0 L141.4,43.1 L141.8,43.6 L142.3,43.9 L142.8,44.0 L143.3,43.5 L143.7,44.5 L144.3,44.2 L144.8,44.2 L145.2,44.3 L145.8,43.9 L146.1,45.1 L146.8,44.3 L147.3,44.2 L147.7,44.6 L148.2,44.3 L148.6,45.1 L149.1,45.2 L149.6,45.3 L150.3,44.0 L150.7,44.9 L151.1,45.1 L151.7,45.1 L152.1,45.4 L152.4,46.0 L153.0,45.8 L153.8,44.7 L154.1,45.4 L154.4,46.2 L154.8,46.9 L155.6,45.5 L155.8,46.9 L156.4,46.5 L157.2,45.5 L157.4,46.7 L158.0,46.4 L158.4,46.9 L159.2,46.0 L159.2,47.5 L159.5,48.2 L160.2,47.7 L160.7,47.6 L161.2,47.8 L161.6,48.2 L162.0,48.3 L162.5,48.5 L163.0,48.7 L163.8,47.9 L164.0,48.8 L164.4,49.2 L164.6,49.9 L165.3,49.5 L165.8,49.5 L166.3,49.6 L166.8,49.8 L166.9,50.7 L167.5,50.5 L168.2,50.1 L169.0,49.6 L168.8,51.4 L169.8,50.4 L170.1,50.9 L170.5,51.2 L170.9,51.5 L170.9,52.6 L171.4,52.8 L172.2,52.1 L172.7,52.4 L173.2,52.3 L173.6,52.7 L173.8,53.3 L174.0,54.0 L175.3,52.6 L175.0,54.3 L175.8,53.9 L175.8,54.9 L176.2,55.2 L176.9,55.0 L177.4,55.1 L177.4,56.0 L177.9,56.2 L178.6,55.9 L179.4,55.5 L179.4,56.5 L179.6,57.2 L180.3,56.9 L180.9,56.9 L181.6,56.8 L182.0,57.0 L182.2,57.6 L182.3,58.4 L182.8,58.6 L183.2,58.7 L184.5,57.8 L184.2,59.0 L184.2,60.0 L184.5,60.4 L185.8,59.4 L185.3,61.0 L187.4,58.9 L186.8,60.5 L187.1,61.0 L187.4,61.4 L187.3,62.3 L188.0,62.2 L188.8,62.0 L188.4,63.3 L189.5,62.7 L191.0,61.7 L190.1,63.5 L189.9,64.5 L191.2,63.8 L191.3,64.5 L191.4,65.1 L192.2,64.9 L192.5,65.3 L192.8,65.7 L192.5,66.8 L193.9,65.9 L193.2,67.4 L194.5,66.8 L194.0,68.1 L195.5,67.2 L195.2,68.2 L195.0,69.1 L195.6,69.2 L195.7,69.8 L196.5,69.7 L196.7,70.1 L198.4,69.2 L198.9,69.4 L197.9,71.0 L198.6,71.1 L199.3,71.1 L199.0,72.1 L199.3,72.5 L199.8,72.7 L199.5,73.6 L199.8,74.0 L200.6,73.9 L201.1,74.2 L200.9,75.0 L201.3,75.3 L201.9,75.4 L201.7,76.2 L203.2,75.6 L203.0,76.4 L203.3,76.8 L206.4,74.9 L203.8,77.7 L203.8,78.3 L205.8,77.3 L205.1,78.5 L205.9,78.5 L205.3,79.6 L205.3,80.2 L206.2,80.2 L206.7,80.4 L207.4,80.5 L206.4,81.8 L206.7,82.2 L207.1,82.5 L208.2,82.3 L209.3,82.3 L207.6,84.0 L208.2,84.2 L209.2,84.1 L208.9,84.8" stroke="#15202b" stroke-width="0.7" fill="none"/>
<path d="M109.0,42.6 L110.2,47.3" stroke="#1c3550" stroke-width="0.6"/>
<path d="M219.7,81.3 A101.6,100.6 0 0 1 231.7,111.0 L226.5,112.2 A96.2,95.3 0 0 0 215.1,84.0 Z" fill="#8a8b8d"/>
<path d="M219.1,81.7 A100.9,99.9 0 0 1 231.0,111.2 L226.5,112.2 A96.2,95.3 0 0 0 215.1,84.0 Z" fill="#6a8ccc"/>
<path d="M219.1,81.7L221.3,80.3M219.8,82.9L221.2,82.2M220.6,84.2L221.9,83.5M221.3,85.5L222.6,84.8M222.0,86.8L223.3,86.1M222.7,88.1L224.4,87.2M223.3,89.4L224.7,88.7M224.0,90.7L225.3,90.0M224.6,92.0L226.0,91.4M225.2,93.4L226.6,92.8M225.8,94.7L227.5,94.0M226.3,96.1L227.7,95.5M226.8,97.4L228.3,96.9M227.4,98.8L228.8,98.3M227.9,100.2L229.3,99.7M228.3,101.6L230.2,101.0M228.8,103.0L230.2,102.5M229.2,104.4L230.7,103.9M229.7,105.8L231.1,105.3M230.0,107.2L231.5,106.8M230.4,108.6L233.0,108.0M230.8,110.0L232.2,109.7" stroke="#4d4e50" stroke-width="0.6" fill="none"/>
<text x="222.0" y="77.0" font-size="7.3" text-anchor="end" fill="#333" transform="rotate(149.0 222.0 77.0)">0</text>
<text x="234.5" y="105.0" font-size="7.3" text-anchor="end" fill="#333" transform="rotate(165.8 234.5 105.0)">20</text>
<path d="M210.4,86.8 L211.2,86.9 L212.5,86.8 L211.4,88.0 L210.7,88.9 L212.3,88.6 L211.8,89.5 L212.8,89.5 L212.9,90.0 L212.8,90.6 L212.8,91.1 L213.3,91.5 L215.1,91.1 L213.9,92.3 L213.4,93.1 L214.3,93.2 L214.7,93.6 L213.8,94.5 L214.9,94.6 L215.5,94.8 L215.3,95.5 L214.9,96.2 L214.7,96.8 L216.4,96.6 L215.9,97.4 L216.0,97.9 L216.4,98.2 L216.7,98.7 L216.5,99.3 L216.3,99.9 L217.2,100.0 L218.9,99.9 L217.8,100.9 L217.4,101.6 L217.5,102.1 L217.7,102.5 L217.5,103.1 L218.6,103.3 L218.1,103.9 L217.8,104.6 L218.1,105.0 L218.5,105.4 L219.2,105.7 L219.8,106.0 L218.8,106.8 L219.8,107.1 L219.4,107.7 L220.2,108.0 L219.5,108.7 L220.3,109.0 L219.4,109.7 L221.3,109.7 L219.6,110.7 L220.6,111.0 L220.3,111.5 L220.7,111.9 L221.5,112.3 L222.0,112.7 L221.0,113.4 L220.0,113.6 L219.9,113.1 L219.8,112.7 L219.7,112.2 L219.5,111.7 L219.4,111.2 L219.3,110.8 L219.2,110.3 L219.1,109.8 L218.9,109.3 L218.8,108.9 L217.9,108.6 L218.5,107.9 L218.4,107.5 L218.2,107.0 L218.1,106.5 L217.9,106.1 L217.8,105.6 L217.1,105.3 L216.8,104.9 L217.3,104.2 L217.1,103.8 L217.0,103.3 L216.8,102.8 L216.1,102.6 L216.5,101.9 L216.3,101.5 L216.1,101.0 L215.9,100.5 L215.8,100.1 L215.6,99.6 L215.4,99.2 L215.2,98.7 L215.0,98.3 L214.8,97.8 L214.6,97.4 L214.4,97.0 L214.2,96.5 L214.0,96.1 L213.8,95.6 L213.6,95.2 L213.4,94.7 L213.2,94.3 L212.9,93.8 L212.2,93.7 L212.5,93.0 L212.3,92.5 L212.1,92.1 L211.8,91.7 L211.6,91.2 L211.3,90.8 L211.1,90.4 L210.9,90.0 L210.6,89.5 L210.4,89.1 L208.9,89.4 L209.9,88.3 L209.6,87.8 L209.4,87.4Z" fill="#86c3ea"/>
<path d="M210.4,86.8 L211.2,86.9 L212.5,86.8 L211.4,88.0 L210.7,88.9 L212.3,88.6 L211.8,89.5 L212.8,89.5 L212.9,90.0 L212.8,90.6 L212.8,91.1 L213.3,91.5 L215.1,91.1 L213.9,92.3 L213.4,93.1 L214.3,93.2 L214.7,93.6 L213.8,94.5 L214.9,94.6 L215.5,94.8 L215.3,95.5 L214.9,96.2 L214.7,96.8 L216.4,96.6 L215.9,97.4 L216.0,97.9 L216.4,98.2 L216.7,98.7 L216.5,99.3 L216.3,99.9 L217.2,100.0 L218.9,99.9 L217.8,100.9 L217.4,101.6 L217.5,102.1 L217.7,102.5 L217.5,103.1 L218.6,103.3 L218.1,103.9 L217.8,104.6 L218.1,105.0 L218.5,105.4 L219.2,105.7 L219.8,106.0 L218.8,106.8 L219.8,107.1 L219.4,107.7 L220.2,108.0 L219.5,108.7 L220.3,109.0 L219.4,109.7 L221.3,109.7 L219.6,110.7 L220.6,111.0 L220.3,111.5 L220.7,111.9 L221.5,112.3 L222.0,112.7 L221.0,113.4" stroke="#15202b" stroke-width="0.7" fill="none"/>
<path d="M213.8,85.4 L209.5,87.9" stroke="#1c3550" stroke-width="0.6"/>
<path d="M234.0,139.9 A101.6,100.6 0 0 1 94.7,226.4 L96.7,221.5 A96.2,95.3 0 0 0 228.6,139.6 Z" fill="#8a8b8d"/>
<path d="M233.3,139.9 A100.9,99.9 0 0 1 95.0,225.8 L96.7,221.5 A96.2,95.3 0 0 0 228.6,139.6 Z" fill="#8c5c2a"/>
<path d="M233.3,139.9L235.9,140.1M233.1,141.6L234.6,141.8M233.0,143.4L234.5,143.5M232.8,145.1L234.3,145.3M232.5,146.8L234.0,147.0M232.3,148.6L234.2,148.8M232.0,150.3L233.5,150.5M231.7,152.0L233.2,152.3M231.3,153.7L232.8,154.0M230.9,155.4L232.4,155.7M230.5,157.1L232.4,157.6M230.1,158.8L231.6,159.2M229.6,160.5L231.1,160.9M229.1,162.1L230.6,162.6M228.6,163.8L230.1,164.3M228.1,165.5L229.9,166.1M227.5,167.1L228.9,167.6M226.9,168.7L228.3,169.3M226.2,170.4L227.6,170.9M225.6,172.0L226.9,172.6M224.8,173.6L226.6,174.3M224.1,175.2L225.5,175.8M223.4,176.7L224.7,177.4M222.6,178.3L223.9,179.0M221.8,179.8L223.1,180.6M220.9,181.4L223.2,182.6M220.1,182.9L221.4,183.7M219.2,184.4L220.5,185.2M218.3,185.9L219.6,186.7M217.3,187.4L218.6,188.2M216.3,188.8L217.9,189.9M215.3,190.3L216.6,191.1M214.3,191.7L215.6,192.6M213.3,193.1L214.5,194.0M212.2,194.5L213.4,195.4M211.1,195.8L212.6,197.0M210.0,197.2L211.2,198.1M208.9,198.5L210.0,199.5M207.7,199.8L208.8,200.8M206.5,201.1L207.6,202.1M205.3,202.4L206.7,203.7M204.1,203.6L205.1,204.7M202.8,204.8L203.9,205.9M201.5,206.0L202.6,207.1M200.2,207.2L201.3,208.3M198.9,208.4L200.2,209.8M197.6,209.5L198.6,210.7M196.2,210.6L197.2,211.8M194.9,211.7L195.8,212.9M193.5,212.8L194.4,214.0M192.1,213.8L193.6,215.9M190.6,214.8L191.5,216.1M189.2,215.8L190.0,217.1M187.7,216.8L188.5,218.0M186.2,217.7L187.0,219.0M184.7,218.6L185.7,220.3M183.2,219.5L184.0,220.8M181.7,220.4L182.4,221.7M180.1,221.2L180.8,222.6M178.6,222.0L179.2,223.4M177.0,222.8L177.8,224.5M175.4,223.6L176.0,224.9M173.8,224.3L174.4,225.7M172.2,225.0L172.8,226.4M170.6,225.7L171.1,227.1M168.9,226.3L169.6,228.1M167.3,226.9L167.8,228.3M165.6,227.5L166.1,228.9M163.9,228.1L164.4,229.5M162.3,228.6L162.7,230.0M160.6,229.1L161.1,230.9M158.9,229.6L159.3,231.0M157.2,230.0L157.6,231.4M155.5,230.4L155.8,231.9M153.8,230.8L154.1,232.2M152.0,231.1L152.5,233.7M150.3,231.4L150.6,232.9M148.6,231.7L148.8,233.2M146.8,232.0L147.0,233.5M145.1,232.2L145.3,233.7M143.3,232.4L143.5,234.3M141.6,232.6L141.7,234.1M139.8,232.7L139.9,234.2M138.1,232.8L138.1,234.3M136.3,232.9L136.3,234.4M134.5,233.0L134.6,234.9M132.8,233.0L132.8,234.5M131.0,233.0L131.0,234.5M129.2,232.9L129.2,234.4M127.5,232.9L127.4,234.4M125.7,232.8L125.6,234.7M124.0,232.6L123.8,234.1M122.2,232.5L122.1,234.0M120.5,232.3L120.3,233.8M118.7,232.1L118.5,233.5M117.0,231.8L116.7,233.7M115.2,231.5L115.0,233.0M113.5,231.2L113.2,232.7M111.8,230.8L111.5,232.3M110.1,230.5L109.7,231.9M108.4,230.1L107.7,232.6M106.7,229.6L106.3,231.1M105.0,229.2L104.5,230.6M103.3,228.7L102.8,230.1M101.6,228.2L101.1,229.6M99.9,227.6L99.3,229.4M98.3,227.0L97.7,228.4M96.6,226.4L96.1,227.8M95.0,225.8L94.4,227.2" stroke="#4d4e50" stroke-width="0.6" fill="none"/>
<text x="237.9" y="142.7" font-size="7.3" text-anchor="start" fill="#333" transform="rotate(3.9 237.9 142.7)">0</text>
<text x="224.0" y="185.9" font-size="7.3" text-anchor="start" fill="#333" transform="rotate(28.9 224.0 185.9)">25</text>
<text x="192.9" y="219.2" font-size="7.3" text-anchor="start" fill="#333" transform="rotate(53.9 192.9 219.2)">50</text>
<text x="150.5" y="236.3" font-size="7.3" text-anchor="start" fill="#333" transform="rotate(78.9 150.5 236.3)">75</text>
<text x="104.8" y="234.1" font-size="7.3" text-anchor="start" fill="#333" transform="rotate(103.9 104.8 234.1)">100</text>
<path d="M222.8,139.2 L223.4,139.7 L222.4,140.1 L223.2,140.7 L222.9,141.2 L223.0,141.7 L222.9,142.2 L222.6,142.6 L222.9,143.1 L222.5,143.6 L222.2,144.0 L222.5,144.6 L222.6,145.1 L222.6,145.6 L222.4,146.0 L221.9,146.5 L222.2,147.0 L222.9,147.6 L221.6,147.9 L221.6,148.4 L222.3,149.0 L221.9,149.4 L221.1,149.8 L221.5,150.4 L221.2,150.8 L221.1,151.3 L221.7,151.9 L221.2,152.3 L220.7,152.7 L220.7,153.2 L221.1,153.8 L220.0,154.0 L221.0,154.8 L220.7,155.2 L220.7,155.7 L220.6,156.2 L219.8,156.5 L219.8,157.0 L220.0,157.6 L219.9,158.1 L219.5,158.5 L220.2,159.2 L220.1,159.7 L219.3,159.9 L219.0,160.4 L218.8,160.8 L219.2,161.5 L217.8,161.5 L218.8,162.4 L218.4,162.8 L218.2,163.2 L218.3,163.8 L217.3,163.9 L217.1,164.4 L217.1,164.9 L219.3,166.2 L219.1,166.7 L217.6,166.7 L219.5,167.9 L218.5,168.1 L216.8,167.9 L217.2,168.6 L217.4,169.3 L215.6,169.0 L216.3,169.9 L217.1,170.8 L218.0,171.8 L215.3,171.1 L217.2,172.5 L215.2,172.1 L216.9,173.5 L218.6,174.9 L215.6,174.0 L213.8,173.7 L214.4,174.5 L215.7,175.7 L214.8,175.8 L213.2,175.6 L211.8,175.4 L212.4,176.2 L212.7,177.0 L212.3,177.3 L211.9,177.7 L211.0,177.7 L211.2,178.4 L211.3,179.0 L210.7,179.2 L210.0,179.4 L210.0,180.0 L209.4,180.2 L209.8,181.0 L209.3,181.3 L209.0,181.6 L209.4,182.5 L208.8,182.7 L208.5,183.1 L208.0,183.3 L207.5,183.6 L207.0,183.8 L206.7,184.3 L206.8,184.9 L206.5,185.3 L206.2,185.7 L206.3,186.4 L206.0,186.8 L204.9,186.6 L205.3,187.5 L204.4,187.4 L204.2,187.9 L204.0,188.4 L203.6,188.6 L203.1,188.9 L203.3,189.7 L203.7,190.7 L203.0,190.7 L202.2,190.7 L201.7,191.0 L202.1,191.9 L200.8,191.5 L200.9,192.2 L200.6,192.6 L200.2,192.9 L200.2,193.6 L199.2,193.4 L198.7,193.6 L198.6,194.1 L198.9,195.0 L198.2,195.0 L197.8,195.4 L198.3,196.6 L197.1,196.1 L196.7,196.3 L196.5,196.8 L195.8,196.9 L195.8,197.6 L196.0,198.4 L194.9,198.0 L194.8,198.7 L194.3,198.8 L194.2,199.4 L193.4,199.3 L193.4,200.0 L192.7,200.0 L192.4,200.4 L191.9,200.6 L191.8,201.2 L191.7,201.9 L190.9,201.8 L190.3,201.7 L190.1,202.3 L190.0,202.9 L189.3,202.9 L189.8,204.3 L188.8,203.8 L188.2,203.9 L188.1,204.4 L187.5,204.5 L187.1,204.8 L187.2,205.8 L186.1,205.1 L185.9,205.6 L185.8,206.3 L185.0,206.2 L184.8,206.8 L184.1,206.6 L184.1,207.4 L183.8,207.9 L183.6,208.4 L182.7,208.0 L182.4,208.5 L181.7,208.2 L181.5,208.9 L180.9,208.9 L180.7,209.5 L180.1,209.5 L180.0,210.2 L179.3,210.1 L179.0,210.6 L178.4,210.5 L177.8,210.5 L177.6,211.1 L177.2,211.4 L176.9,211.8 L176.3,211.8 L176.3,212.7 L175.2,211.7 L174.8,212.0 L174.7,212.9 L174.4,213.4 L173.8,213.3 L172.9,212.7 L172.8,213.7 L172.2,213.6 L171.8,213.7 L171.1,213.5 L170.9,214.3 L170.7,214.9 L170.2,215.0 L169.8,215.5 L169.1,215.0 L168.8,215.6 L168.1,215.2 L167.6,215.2 L167.5,216.3 L167.1,216.6 L166.4,216.3 L166.0,216.7 L165.6,217.0 L165.2,217.2 L164.7,217.2 L164.2,217.4 L163.5,217.0 L163.2,217.7 L162.6,217.2 L162.4,218.4 L161.7,217.9 L161.3,218.0 L161.1,219.0 L160.4,218.5 L159.8,218.3 L159.5,219.1 L159.0,219.0 L158.4,218.9 L158.1,219.6 L157.4,218.8 L157.0,219.2 L156.6,219.5 L156.0,219.4 L155.6,219.9 L155.1,219.8 L154.6,220.0 L154.2,220.1 L153.6,219.9 L153.3,220.7 L152.8,220.9 L152.3,220.7 L151.9,221.3 L151.3,221.2 L150.8,220.9 L150.4,221.2 L149.9,221.7 L149.4,221.5 L148.9,221.7 L148.5,222.1 L147.9,221.8 L147.3,221.1 L146.9,221.4 L146.4,221.7 L146.0,222.3 L145.4,221.8 L145.0,222.5 L144.4,221.8 L143.9,221.8 L143.5,222.4 L142.9,221.6 L142.6,222.8 L142.0,221.9 L141.6,223.1 L141.0,222.2 L140.6,222.7 L140.0,222.6 L139.5,222.1 L139.1,222.9 L138.5,222.4 L138.1,222.7 L137.6,222.3 L137.1,223.6 L136.6,223.4 L136.1,223.0 L135.6,223.0 L135.1,222.7 L134.6,222.8 L134.1,222.7 L133.6,222.9 L133.1,223.2 L132.6,223.3 L132.1,223.1 L131.6,222.2 L131.1,222.4 L130.6,223.9 L130.1,223.2 L129.6,223.5 L129.1,223.1 L128.7,223.1 L128.2,222.4 L127.7,222.9 L127.2,222.9 L126.7,222.5 L126.2,222.5 L125.7,222.2 L125.2,223.0 L124.7,222.3 L124.3,221.7 L123.8,222.2 L123.2,222.8 L122.7,222.6 L122.2,222.6 L121.7,222.4 L121.2,222.6 L120.8,221.8 L120.3,221.9 L119.8,221.9 L119.3,221.7 L118.8,221.8 L118.4,221.4 L117.8,221.5 L117.3,221.9 L116.8,221.8 L116.4,221.1 L116.0,220.8 L115.5,220.9 L114.5,223.3 L114.4,221.0 L114.0,220.9 L113.4,221.2 L113.0,220.7 L112.5,220.5 L111.6,222.3 L111.5,220.6 L111.0,220.4 L110.5,220.3 L109.9,220.8 L108.9,222.6 L109.1,219.8 L108.5,220.2 L108.1,219.8 L107.8,219.1 L107.0,220.0 L106.9,218.5 L105.8,220.6 L105.2,220.7 L105.3,218.7 L104.6,219.2 L104.4,218.3 L103.5,219.5 L102.9,219.6 L102.7,218.6 L102.2,218.5 L102.2,217.1 L101.5,217.6 L101.3,216.7 L100.7,216.9 L99.8,217.9 L99.6,217.0 L99.2,216.7 L98.8,216.3 L99.2,215.4 L99.6,215.6 L100.1,215.8 L100.5,215.9 L101.0,216.1 L101.5,216.3 L102.0,216.2 L102.4,216.6 L102.8,216.8 L103.3,216.9 L103.8,217.1 L104.2,217.2 L104.9,216.7 L105.2,217.5 L105.6,217.7 L106.1,217.8 L106.6,218.0 L107.0,218.1 L107.5,218.2 L108.0,218.4 L108.5,218.5 L108.9,218.7 L109.4,218.8 L109.9,218.9 L110.3,219.0 L110.8,219.1 L111.3,219.2 L111.8,219.4 L112.2,219.5 L112.7,219.6 L113.2,219.7 L113.7,219.8 L114.2,219.9 L114.6,220.0 L115.1,220.1 L115.6,220.2 L116.1,220.3 L116.5,220.4 L117.0,220.4 L117.6,219.8 L118.0,220.6 L118.5,220.7 L119.0,220.8 L119.5,220.8 L119.9,220.9 L120.4,221.0 L121.0,220.6 L121.4,221.1 L121.9,221.2 L122.4,221.2 L122.8,221.3 L123.3,221.3 L123.8,221.4 L124.3,221.4 L124.8,221.5 L125.3,221.5 L125.8,221.5 L126.3,221.6 L126.8,221.6 L127.2,221.6 L127.7,221.7 L128.2,221.7 L128.7,221.7 L129.2,221.7 L129.7,221.7 L130.2,221.8 L130.7,221.8 L131.2,221.8 L131.6,221.8 L132.1,221.8 L132.6,221.8 L133.1,221.8 L133.6,221.8 L134.1,221.5 L134.6,221.8 L135.1,221.8 L135.6,221.8 L136.1,221.7 L136.5,221.5 L137.0,221.7 L137.5,221.7 L137.9,220.5 L138.5,221.3 L139.0,221.6 L139.5,221.5 L139.9,221.5 L140.4,221.5 L140.9,221.4 L141.4,221.4 L141.9,221.3 L142.4,221.3 L142.9,221.2 L143.4,221.2 L143.8,221.1 L144.3,221.0 L144.8,221.0 L145.3,220.9 L145.8,220.8 L146.3,220.8 L146.8,220.7 L147.1,219.6 L147.7,220.5 L148.2,220.4 L148.7,220.4 L149.2,220.3 L149.7,220.2 L150.1,220.1 L150.6,220.0 L151.1,219.9 L151.6,219.8 L152.0,219.7 L152.5,219.6 L153.0,219.5 L153.5,219.4 L153.9,219.2 L154.3,218.7 L154.9,219.0 L155.4,218.9 L155.8,218.8 L156.3,218.6 L156.8,218.5 L157.3,218.4 L157.7,218.2 L157.9,217.3 L158.7,218.0 L158.9,217.2 L159.6,217.7 L160.1,217.5 L160.5,217.4 L161.0,217.2 L161.5,217.1 L161.9,216.9 L162.4,216.8 L162.8,216.6 L163.3,216.4 L163.8,216.3 L164.0,215.5 L164.3,214.9 L165.1,215.7 L165.6,215.6 L166.1,215.4 L166.5,215.2 L167.0,215.0 L167.4,214.8 L167.9,214.6 L168.3,214.4 L168.8,214.2 L169.2,214.1 L169.6,213.8 L170.1,213.7 L170.0,212.3 L171.0,213.2 L171.4,213.0 L171.9,212.8 L172.3,212.6 L172.6,212.2 L173.2,212.2 L173.6,212.0 L174.1,211.7 L174.5,211.5 L174.4,210.4 L175.3,211.1 L175.8,210.8 L176.2,210.6 L176.6,210.3 L177.1,210.1 L177.5,209.9 L177.9,209.6 L178.3,209.4 L178.8,209.1 L179.2,208.9 L179.6,208.6 L180.0,208.4 L180.4,208.1 L180.8,207.8 L181.2,207.6 L181.7,207.3 L182.1,207.1 L182.5,206.8 L182.9,206.5 L183.3,206.2 L183.5,205.8 L184.1,205.7 L184.5,205.4 L184.9,205.1 L185.3,204.8 L185.7,204.6 L186.1,204.3 L186.5,204.0 L186.8,203.7 L187.2,203.4 L187.6,203.1 L188.0,202.8 L188.4,202.5 L188.8,202.2 L189.2,201.9 L189.5,201.6 L189.9,201.3 L189.5,200.1 L190.7,200.7 L191.0,200.3 L191.4,200.0 L191.8,199.7 L192.1,199.4 L191.7,198.2 L192.9,198.7 L193.2,198.4 L193.6,198.0 L193.8,197.6 L194.3,197.4 L194.1,196.6 L195.0,196.7 L195.3,196.4 L195.7,196.1 L196.1,195.7 L196.4,195.4 L196.7,195.0 L197.1,194.7 L197.4,194.3 L197.8,194.0 L198.1,193.6 L198.4,193.3 L197.7,192.0 L199.1,192.6 L199.4,192.2 L199.7,191.8 L200.1,191.5 L200.4,191.1 L200.7,190.7 L201.0,190.4 L201.3,190.0 L201.6,189.6 L201.9,189.2 L202.3,188.9 L202.6,188.5 L202.9,188.1 L203.2,187.7 L203.5,187.3 L203.8,187.0 L204.1,186.6 L204.4,186.2 L204.7,185.8 L204.9,185.4 L205.2,185.0 L205.5,184.6 L205.8,184.2 L206.1,183.8 L206.4,183.4 L206.6,183.0 L206.9,182.6 L207.2,182.2 L206.5,181.2 L207.7,181.4 L208.0,181.0 L208.2,180.6 L208.5,180.2 L208.8,179.8 L209.0,179.4 L208.8,178.7 L209.5,178.6 L209.8,178.1 L210.0,177.7 L210.3,177.3 L210.5,176.9 L210.8,176.4 L210.7,175.8 L211.2,175.6 L211.5,175.2 L211.7,174.8 L211.9,174.3 L212.2,173.9 L212.4,173.5 L212.6,173.0 L212.8,172.6 L213.0,172.2 L213.2,171.7 L213.5,171.3 L213.7,170.8 L213.9,170.4 L214.1,170.0 L214.3,169.5 L214.5,169.1 L214.7,168.6 L214.9,168.2 L215.1,167.8 L215.3,167.3 L215.4,166.9 L215.6,166.4 L215.8,166.0 L216.0,165.5 L216.2,165.1 L216.3,164.6 L216.5,164.2 L216.7,163.7 L216.9,163.2 L217.0,162.8 L217.2,162.3 L217.3,161.9 L217.5,161.4 L217.7,160.9 L217.8,160.5 L218.0,160.0 L218.1,159.6 L218.2,159.1 L218.4,158.6 L218.5,158.2 L218.7,157.7 L218.8,157.2 L218.9,156.8 L219.1,156.3 L219.2,155.8 L219.3,155.4 L219.4,154.9 L219.6,154.4 L219.7,154.0 L219.8,153.5 L219.9,153.0 L219.3,152.4 L220.1,152.1 L220.2,151.6 L220.3,151.1 L220.4,150.7 L220.5,150.2 L220.6,149.7 L220.7,149.2 L220.8,148.8 L220.6,148.2 L220.9,147.8 L221.0,147.3 L221.1,146.8 L220.4,146.2 L221.2,145.9 L221.1,145.4 L221.4,144.9 L221.4,144.4 L221.5,144.0 L221.6,143.5 L221.6,143.0 L221.7,142.5 L221.7,142.0 L221.8,141.6 L220.8,141.0 L221.9,140.6 L221.9,140.1 L221.9,139.6 L222.0,139.1Z" fill="#86c3ea"/>
<path d="M222.8,139.2 L223.4,139.7 L222.4,140.1 L223.2,140.7 L222.9,141.2 L223.0,141.7 L222.9,142.2 L222.6,142.6 L222.9,143.1 L222.5,143.6 L222.2,144.0 L222.5,144.6 L222.6,145.1 L222.6,145.6 L222.4,146.0 L221.9,146.5 L222.2,147.0 L222.9,147.6 L221.6,147.9 L221.6,148.4 L222.3,149.0 L221.9,149.4 L221.1,149.8 L221.5,150.4 L221.2,150.8 L221.1,151.3 L221.7,151.9 L221.2,152.3 L220.7,152.7 L220.7,153.2 L221.1,153.8 L220.0,154.0 L221.0,154.8 L220.7,155.2 L220.7,155.7 L220.6,156.2 L219.8,156.5 L219.8,157.0 L220.0,157.6 L219.9,158.1 L219.5,158.5 L220.2,159.2 L220.1,159.7 L219.3,159.9 L219.0,160.4 L218.8,160.8 L219.2,161.5 L217.8,161.5 L218.8,162.4 L218.4,162.8 L218.2,163.2 L218.3,163.8 L217.3,163.9 L217.1,164.4 L217.1,164.9 L219.3,166.2 L219.1,166.7 L217.6,166.7 L219.5,167.9 L218.5,168.1 L216.8,167.9 L217.2,168.6 L217.4,169.3 L215.6,169.0 L216.3,169.9 L217.1,170.8 L218.0,171.8 L215.3,171.1 L217.2,172.5 L215.2,172.1 L216.9,173.5 L218.6,174.9 L215.6,174.0 L213.8,173.7 L214.4,174.5 L215.7,175.7 L214.8,175.8 L213.2,175.6 L211.8,175.4 L212.4,176.2 L212.7,177.0 L212.3,177.3 L211.9,177.7 L211.0,177.7 L211.2,178.4 L211.3,179.0 L210.7,179.2 L210.0,179.4 L210.0,180.0 L209.4,180.2 L209.8,181.0 L209.3,181.3 L209.0,181.6 L209.4,182.5 L208.8,182.7 L208.5,183.1 L208.0,183.3 L207.5,183.6 L207.0,183.8 L206.7,184.3 L206.8,184.9 L206.5,185.3 L206.2,185.7 L206.3,186.4 L206.0,186.8 L204.9,186.6 L205.3,187.5 L204.4,187.4 L204.2,187.9 L204.0,188.4 L203.6,188.6 L203.1,188.9 L203.3,189.7 L203.7,190.7 L203.0,190.7 L202.2,190.7 L201.7,191.0 L202.1,191.9 L200.8,191.5 L200.9,192.2 L200.6,192.6 L200.2,192.9 L200.2,193.6 L199.2,193.4 L198.7,193.6 L198.6,194.1 L198.9,195.0 L198.2,195.0 L197.8,195.4 L198.3,196.6 L197.1,196.1 L196.7,196.3 L196.5,196.8 L195.8,196.9 L195.8,197.6 L196.0,198.4 L194.9,198.0 L194.8,198.7 L194.3,198.8 L194.2,199.4 L193.4,199.3 L193.4,200.0 L192.7,200.0 L192.4,200.4 L191.9,200.6 L191.8,201.2 L191.7,201.9 L190.9,201.8 L190.3,201.7 L190.1,202.3 L190.0,202.9 L189.3,202.9 L189.8,204.3 L188.8,203.8 L188.2,203.9 L188.1,204.4 L187.5,204.5 L187.1,204.8 L187.2,205.8 L186.1,205.1 L185.9,205.6 L185.8,206.3 L185.0,206.2 L184.8,206.8 L184.1,206.6 L184.1,207.4 L183.8,207.9 L183.6,208.4 L182.7,208.0 L182.4,208.5 L181.7,208.2 L181.5,208.9 L180.9,208.9 L180.7,209.5 L180.1,209.5 L180.0,210.2 L179.3,210.1 L179.0,210.6 L178.4,210.5 L177.8,210.5 L177.6,211.1 L177.2,211.4 L176.9,211.8 L176.3,211.8 L176.3,212.7 L175.2,211.7 L174.8,212.0 L174.7,212.9 L174.4,213.4 L173.8,213.3 L172.9,212.7 L172.8,213.7 L172.2,213.6 L171.8,213.7 L171.1,213.5 L170.9,214.3 L170.7,214.9 L170.2,215.0 L169.8,215.5 L169.1,215.0 L168.8,215.6 L168.1,215.2 L167.6,215.2 L167.5,216.3 L167.1,216.6 L166.4,216.3 L166.0,216.7 L165.6,217.0 L165.2,217.2 L164.7,217.2 L164.2,217.4 L163.5,217.0 L163.2,217.7 L162.6,217.2 L162.4,218.4 L161.7,217.9 L161.3,218.0 L161.1,219.0 L160.4,218.5 L159.8,218.3 L159.5,219.1 L159.0,219.0 L158.4,218.9 L158.1,219.6 L157.4,218.8 L157.0,219.2 L156.6,219.5 L156.0,219.4 L155.6,219.9 L155.1,219.8 L154.6,220.0 L154.2,220.1 L153.6,219.9 L153.3,220.7 L152.8,220.9 L152.3,220.7 L151.9,221.3 L151.3,221.2 L150.8,220.9 L150.4,221.2 L149.9,221.7 L149.4,221.5 L148.9,221.7 L148.5,222.1 L147.9,221.8 L147.3,221.1 L146.9,221.4 L146.4,221.7 L146.0,222.3 L145.4,221.8 L145.0,222.5 L144.4,221.8 L143.9,221.8 L143.5,222.4 L142.9,221.6 L142.6,222.8 L142.0,221.9 L141.6,223.1 L141.0,222.2 L140.6,222.7 L140.0,222.6 L139.5,222.1 L139.1,222.9 L138.5,222.4 L138.1,222.7 L137.6,222.3 L137.1,223.6 L136.6,223.4 L136.1,223.0 L135.6,223.0 L135.1,222.7 L134.6,222.8 L134.1,222.7 L133.6,222.9 L133.1,223.2 L132.6,223.3 L132.1,223.1 L131.6,222.2 L131.1,222.4 L130.6,223.9 L130.1,223.2 L129.6,223.5 L129.1,223.1 L128.7,223.1 L128.2,222.4 L127.7,222.9 L127.2,222.9 L126.7,222.5 L126.2,222.5 L125.7,222.2 L125.2,223.0 L124.7,222.3 L124.3,221.7 L123.8,222.2 L123.2,222.8 L122.7,222.6 L122.2,222.6 L121.7,222.4 L121.2,222.6 L120.8,221.8 L120.3,221.9 L119.8,221.9 L119.3,221.7 L118.8,221.8 L118.4,221.4 L117.8,221.5 L117.3,221.9 L116.8,221.8 L116.4,221.1 L116.0,220.8 L115.5,220.9 L114.5,223.3 L114.4,221.0 L114.0,220.9 L113.4,221.2 L113.0,220.7 L112.5,220.5 L111.6,222.3 L111.5,220.6 L111.0,220.4 L110.5,220.3 L109.9,220.8 L108.9,222.6 L109.1,219.8 L108.5,220.2 L108.1,219.8 L107.8,219.1 L107.0,220.0 L106.9,218.5 L105.8,220.6 L105.2,220.7 L105.3,218.7 L104.6,219.2 L104.4,218.3 L103.5,219.5 L102.9,219.6 L102.7,218.6 L102.2,218.5 L102.2,217.1 L101.5,217.6 L101.3,216.7 L100.7,216.9 L99.8,217.9 L99.6,217.0 L99.2,216.7 L98.8,216.3" stroke="#15202b" stroke-width="0.7" fill="none"/>
<path d="M226.8,139.9 L221.8,139.6" stroke="#1c3550" stroke-width="0.6"/>
<path d="M69.8,212.2 A101.6,100.6 0 0 1 31.1,128.8 L36.4,129.0 A96.2,95.3 0 0 0 73.1,208.0 Z" fill="#8a8b8d"/>
<path d="M70.2,211.6 A100.9,99.9 0 0 1 31.8,128.8 L36.4,129.0 A96.2,95.3 0 0 0 73.1,208.0 Z" fill="#f7941f"/>
<path d="M70.2,211.6L68.6,213.7M68.7,210.4L67.7,211.5M67.1,209.1L65.9,210.6M65.6,207.8L64.6,208.9M64.2,206.5L62.9,207.9M62.7,205.1L61.6,206.2M61.3,203.8L59.9,205.1M59.9,202.4L58.8,203.4M58.5,200.9L57.1,202.2M57.2,199.5L56.0,200.5M55.9,198.0L53.9,199.7M54.6,196.5L53.4,197.4M53.4,194.9L51.8,196.1M52.1,193.4L50.9,194.3M51.0,191.8L49.4,192.9M49.8,190.2L48.5,191.0M48.7,188.6L47.1,189.6M47.6,186.9L46.3,187.7M46.5,185.2L44.9,186.2M45.5,183.6L44.2,184.3M44.5,181.8L42.2,183.1M43.6,180.1L42.2,180.8M42.6,178.4L40.9,179.2M41.8,176.6L40.4,177.2M40.9,174.8L39.2,175.6M40.1,173.0L38.7,173.6M39.3,171.2L37.5,171.9M38.6,169.4L37.2,169.9M37.9,167.5L36.1,168.2M37.2,165.7L35.8,166.2M36.6,163.8L34.1,164.6M36.0,161.9L34.5,162.4M35.4,160.0L33.6,160.5M34.9,158.1L33.5,158.5M34.4,156.2L32.6,156.7M34.0,154.3L32.5,154.6M33.6,152.4L31.7,152.7M33.2,150.4L31.7,150.7M32.9,148.5L31.0,148.8M32.6,146.5L31.1,146.7M32.4,144.6L29.8,144.9M32.2,142.6L30.6,142.8M32.0,140.7L30.1,140.8M31.9,138.7L30.4,138.8M31.8,136.7L29.9,136.8M31.7,134.8L30.2,134.8M31.7,132.8L29.8,132.8M31.7,130.8L30.2,130.8M31.8,128.8L29.9,128.8" stroke="#4d4e50" stroke-width="0.6" fill="none"/>
<text x="69.2" y="216.9" font-size="7.3" text-anchor="end" fill="#333" transform="rotate(308.2 69.2 216.9)">0</text>
<text x="53.8" y="203.0" font-size="7.3" text-anchor="end" fill="#333" transform="rotate(319.5 53.8 203.0)">25</text>
<text x="41.5" y="186.4" font-size="7.3" text-anchor="end" fill="#333" transform="rotate(330.8 41.5 186.4)">50</text>
<text x="32.7" y="167.7" font-size="7.3" text-anchor="end" fill="#333" transform="rotate(342.1 32.7 167.7)">75</text>
<text x="27.8" y="147.6" font-size="7.3" text-anchor="end" fill="#333" transform="rotate(353.4 27.8 147.6)">100</text>
<path d="M75.7,204.7 L76.0,203.6 L75.5,203.4 L75.3,202.8 L74.6,202.9 L74.8,201.9 L74.1,201.9 L73.6,201.7 L73.4,201.2 L73.2,200.7 L72.6,200.7 L72.3,200.2 L71.6,200.2 L71.7,199.4 L71.0,199.4 L70.7,199.0 L70.5,198.5 L69.6,198.8 L70.0,197.7 L69.4,197.5 L68.7,197.6 L68.7,196.8 L68.3,196.5 L68.0,196.2 L67.6,195.8 L67.2,195.5 L67.3,194.8 L66.8,194.6 L66.5,194.1 L65.7,194.2 L66.0,193.3 L65.7,192.9 L64.9,192.9 L64.2,192.9 L63.4,193.0 L63.5,192.2 L64.1,191.1 L63.7,190.8 L62.9,190.8 L62.9,190.1 L62.5,189.8 L62.0,189.6 L61.5,189.3 L61.5,188.8 L61.7,188.0 L60.8,188.1 L60.3,187.8 L60.3,187.2 L60.5,186.4 L59.9,186.3 L59.8,185.7 L59.0,185.7 L58.4,185.5 L58.9,184.5 L57.9,184.6 L58.0,184.0 L57.5,183.7 L56.9,183.5 L57.7,182.4 L56.5,182.6 L57.0,181.7 L55.9,181.8 L56.0,181.2 L55.4,181.0 L55.1,180.6 L55.5,179.8 L54.2,179.9 L54.4,179.2 L54.8,178.5 L53.5,178.6 L54.0,177.8 L53.3,177.6 L53.5,176.9 L52.2,177.1 L53.7,175.7 L52.5,175.8 L52.6,175.2 L52.4,174.7 L52.0,174.4 L52.2,173.7 L50.9,173.8 L49.2,174.1 L50.9,172.7 L51.4,171.9 L51.1,171.5 L51.2,170.9 L47.9,171.9 L50.2,170.3 L50.2,169.8 L49.8,169.4 L47.2,170.0 L49.5,168.5 L48.8,168.2 L49.0,167.6 L47.8,167.6 L48.6,166.7 L48.7,166.2 L47.3,166.2 L47.2,165.7 L47.5,165.0 L47.6,164.5 L48.0,163.8 L47.7,163.4 L47.5,162.9 L47.7,162.4 L46.7,162.2 L47.2,161.5 L46.6,161.2 L45.6,161.0 L45.7,160.4 L45.7,159.9 L46.1,159.3 L45.5,158.9 L45.1,158.6 L46.0,157.8 L46.1,157.2 L44.7,157.1 L42.5,157.2 L43.0,156.5 L44.0,155.8 L45.2,155.0 L45.3,154.4 L43.2,154.4 L43.5,153.8 L43.6,153.3 L44.9,152.5 L44.8,152.1 L42.8,152.0 L44.2,151.2 L44.0,150.7 L44.3,150.2 L44.1,149.7 L43.5,149.3 L43.7,148.8 L43.3,148.4 L42.9,147.9 L42.1,147.6 L43.1,146.9 L43.7,146.3 L42.0,146.1 L42.7,145.5 L43.1,144.9 L43.3,144.4 L42.8,144.0 L42.2,143.5 L40.7,143.2 L42.3,142.5 L41.7,142.1 L41.8,141.6 L40.7,141.2 L42.6,140.5 L42.6,140.1 L42.5,139.6 L42.1,139.1 L41.0,138.7 L42.8,138.1 L42.4,137.6 L41.1,137.2 L41.8,136.7 L42.3,136.1 L41.2,135.7 L42.3,135.2 L41.9,134.7 L41.9,134.2 L41.5,133.7 L41.1,133.2 L41.9,132.7 L41.7,132.2 L41.4,131.7 L42.3,131.2 L42.7,130.8 L42.3,130.3 L40.3,129.7 L42.8,129.3 L43.1,129.3 L43.1,129.8 L43.1,130.3 L43.0,130.8 L43.0,131.3 L43.0,131.8 L43.0,132.2 L43.0,132.7 L43.0,133.2 L43.0,133.7 L43.0,134.2 L43.0,134.7 L43.0,135.2 L43.0,135.6 L43.1,136.1 L43.2,136.6 L43.1,137.1 L43.2,137.6 L43.1,138.1 L43.2,138.5 L43.2,139.0 L43.2,139.5 L43.3,140.0 L43.3,140.5 L43.4,141.0 L43.4,141.4 L43.5,141.9 L43.5,142.4 L43.6,142.9 L43.6,143.4 L43.7,143.9 L43.7,144.3 L43.8,144.8 L43.9,145.3 L43.9,145.8 L44.0,146.3 L44.1,146.7 L44.2,147.2 L44.2,147.7 L44.3,148.2 L44.4,148.7 L44.5,149.1 L44.6,149.6 L44.7,150.1 L44.8,150.6 L44.9,151.0 L45.0,151.5 L45.1,152.0 L45.2,152.5 L45.3,152.9 L45.4,153.4 L45.5,153.9 L45.6,154.3 L45.7,154.8 L45.9,155.3 L46.0,155.8 L46.1,156.2 L46.2,156.7 L46.4,157.2 L46.8,157.6 L46.6,158.1 L46.8,158.6 L46.9,159.0 L47.1,159.5 L47.2,160.0 L48.0,160.2 L47.5,160.9 L47.7,161.3 L47.8,161.8 L48.0,162.3 L48.2,162.7 L49.6,162.7 L48.5,163.6 L48.7,164.1 L48.8,164.5 L49.0,165.0 L49.2,165.4 L49.4,165.9 L49.5,166.3 L49.7,166.8 L49.9,167.2 L50.1,167.7 L50.3,168.1 L50.5,168.6 L51.1,168.8 L50.9,169.5 L51.1,169.9 L51.3,170.4 L51.5,170.8 L51.7,171.2 L51.9,171.7 L52.1,172.1 L52.4,172.6 L52.6,173.0 L52.8,173.4 L53.0,173.8 L53.2,174.3 L53.5,174.7 L54.8,174.6 L54.1,175.5 L54.2,176.0 L54.4,176.4 L54.7,176.8 L54.9,177.2 L55.1,177.7 L55.4,178.1 L55.6,178.5 L55.9,178.9 L56.1,179.3 L56.4,179.8 L56.7,180.2 L56.9,180.6 L57.2,181.0 L57.5,181.4 L57.7,181.8 L58.0,182.2 L58.3,182.6 L58.5,183.0 L58.8,183.4 L59.1,183.8 L60.5,183.5 L59.7,184.6 L60.0,185.0 L60.2,185.4 L60.5,185.8 L60.8,186.2 L62.0,185.9 L61.4,186.9 L61.7,187.3 L62.0,187.7 L62.3,188.1 L62.6,188.5 L62.9,188.9 L63.2,189.2 L63.6,189.5 L63.9,190.0 L64.2,190.3 L64.5,190.7 L64.8,191.1 L65.1,191.5 L65.5,191.8 L65.8,192.2 L66.4,192.3 L66.4,192.9 L66.8,193.3 L67.1,193.6 L67.4,194.0 L67.8,194.3 L68.1,194.7 L68.6,194.9 L68.8,195.4 L69.1,195.7 L69.5,196.1 L69.8,196.4 L70.2,196.7 L70.5,197.1 L70.9,197.4 L71.2,197.7 L71.6,198.1 L72.0,198.4 L72.3,198.7 L72.7,199.1 L73.1,199.4 L74.2,198.8 L73.8,200.0 L74.5,200.0 L75.0,200.2 L74.9,201.0 L75.3,201.3 L75.7,201.6 L76.0,201.9 L76.4,202.2 L76.8,202.5 L77.2,202.8Z" fill="#86c3ea"/>
<path d="M75.7,204.7 L76.0,203.6 L75.5,203.4 L75.3,202.8 L74.6,202.9 L74.8,201.9 L74.1,201.9 L73.6,201.7 L73.4,201.2 L73.2,200.7 L72.6,200.7 L72.3,200.2 L71.6,200.2 L71.7,199.4 L71.0,199.4 L70.7,199.0 L70.5,198.5 L69.6,198.8 L70.0,197.7 L69.4,197.5 L68.7,197.6 L68.7,196.8 L68.3,196.5 L68.0,196.2 L67.6,195.8 L67.2,195.5 L67.3,194.8 L66.8,194.6 L66.5,194.1 L65.7,194.2 L66.0,193.3 L65.7,192.9 L64.9,192.9 L64.2,192.9 L63.4,193.0 L63.5,192.2 L64.1,191.1 L63.7,190.8 L62.9,190.8 L62.9,190.1 L62.5,189.8 L62.0,189.6 L61.5,189.3 L61.5,188.8 L61.7,188.0 L60.8,188.1 L60.3,187.8 L60.3,187.2 L60.5,186.4 L59.9,186.3 L59.8,185.7 L59.0,185.7 L58.4,185.5 L58.9,184.5 L57.9,184.6 L58.0,184.0 L57.5,183.7 L56.9,183.5 L57.7,182.4 L56.5,182.6 L57.0,181.7 L55.9,181.8 L56.0,181.2 L55.4,181.0 L55.1,180.6 L55.5,179.8 L54.2,179.9 L54.4,179.2 L54.8,178.5 L53.5,178.6 L54.0,177.8 L53.3,177.6 L53.5,176.9 L52.2,177.1 L53.7,175.7 L52.5,175.8 L52.6,175.2 L52.4,174.7 L52.0,174.4 L52.2,173.7 L50.9,173.8 L49.2,174.1 L50.9,172.7 L51.4,171.9 L51.1,171.5 L51.2,170.9 L47.9,171.9 L50.2,170.3 L50.2,169.8 L49.8,169.4 L47.2,170.0 L49.5,168.5 L48.8,168.2 L49.0,167.6 L47.8,167.6 L48.6,166.7 L48.7,166.2 L47.3,166.2 L47.2,165.7 L47.5,165.0 L47.6,164.5 L48.0,163.8 L47.7,163.4 L47.5,162.9 L47.7,162.4 L46.7,162.2 L47.2,161.5 L46.6,161.2 L45.6,161.0 L45.7,160.4 L45.7,159.9 L46.1,159.3 L45.5,158.9 L45.1,158.6 L46.0,157.8 L46.1,157.2 L44.7,157.1 L42.5,157.2 L43.0,156.5 L44.0,155.8 L45.2,155.0 L45.3,154.4 L43.2,154.4 L43.5,153.8 L43.6,153.3 L44.9,152.5 L44.8,152.1 L42.8,152.0 L44.2,151.2 L44.0,150.7 L44.3,150.2 L44.1,149.7 L43.5,149.3 L43.7,148.8 L43.3,148.4 L42.9,147.9 L42.1,147.6 L43.1,146.9 L43.7,146.3 L42.0,146.1 L42.7,145.5 L43.1,144.9 L43.3,144.4 L42.8,144.0 L42.2,143.5 L40.7,143.2 L42.3,142.5 L41.7,142.1 L41.8,141.6 L40.7,141.2 L42.6,140.5 L42.6,140.1 L42.5,139.6 L42.1,139.1 L41.0,138.7 L42.8,138.1 L42.4,137.6 L41.1,137.2 L41.8,136.7 L42.3,136.1 L41.2,135.7 L42.3,135.2 L41.9,134.7 L41.9,134.2 L41.5,133.7 L41.1,133.2 L41.9,132.7 L41.7,132.2 L41.4,131.7 L42.3,131.2 L42.7,130.8 L42.3,130.3 L40.3,129.7 L42.8,129.3" stroke="#15202b" stroke-width="0.7" fill="none"/>
<path d="M73.8,206.3 L76.9,202.4" stroke="#1c3550" stroke-width="0.6"/>
<path d="M31.3,125.6 A101.6,100.6 0 0 1 79.8,47.2 L82.5,51.7 A96.2,95.3 0 0 0 36.6,126.0 Z" fill="#8a8b8d"/>
<path d="M32.0,125.6 A100.9,99.9 0 0 1 80.1,47.8 L82.5,51.7 A96.2,95.3 0 0 0 36.6,126.0 Z" fill="#a38cc9"/>
<path d="M32.0,125.6L29.4,125.4M32.1,123.8L30.6,123.6M32.3,121.9L30.4,121.7M32.6,120.0L31.1,119.8M32.8,118.2L30.9,117.9M33.1,116.3L31.6,116.1M33.5,114.5L31.6,114.2M33.8,112.7L32.4,112.4M34.2,110.9L32.4,110.4M34.7,109.0L33.2,108.7M35.1,107.2L32.6,106.6M35.6,105.5L34.2,105.0M36.2,103.7L34.4,103.1M36.8,101.9L35.3,101.4M37.4,100.1L35.5,99.5M38.0,98.4L36.6,97.8M38.7,96.6L36.9,95.9M39.4,94.9L38.0,94.3M40.1,93.2L38.4,92.4M40.9,91.5L39.5,90.8M41.7,89.8L39.3,88.7M42.5,88.1L41.2,87.4M43.4,86.5L41.7,85.6M44.3,84.8L43.0,84.1M45.2,83.2L43.5,82.2M46.2,81.6L44.9,80.8M47.1,80.0L45.5,79.0M48.2,78.4L46.9,77.6M49.2,76.9L47.6,75.8M50.3,75.3L49.0,74.5M51.4,73.8L49.3,72.3M52.5,72.3L51.3,71.4M53.7,70.9L52.2,69.7M54.9,69.4L53.7,68.5M56.1,68.0L54.6,66.7M57.3,66.6L56.2,65.6M58.6,65.2L57.2,63.9M59.9,63.8L58.8,62.8M61.2,62.5L59.9,61.2M62.5,61.2L61.5,60.1M63.9,59.9L62.1,58.0M65.3,58.7L64.3,57.5M66.7,57.4L65.5,56.0M68.2,56.2L67.2,55.1M69.6,55.0L68.4,53.6M71.1,53.9L70.2,52.7M72.6,52.8L71.5,51.2M74.1,51.7L73.3,50.5M75.7,50.6L74.6,49.0M77.2,49.6L76.4,48.3M78.8,48.6L77.4,46.4" stroke="#4d4e50" stroke-width="0.6" fill="none"/>
<text x="27.0" y="127.7" font-size="7.3" text-anchor="end" fill="#333" transform="rotate(364.3 27.0 127.7)">0</text>
<text x="29.8" y="108.4" font-size="7.3" text-anchor="end" fill="#333" transform="rotate(375.0 29.8 108.4)">25</text>
<text x="36.2" y="90.0" font-size="7.3" text-anchor="end" fill="#333" transform="rotate(385.7 36.2 90.0)">50</text>
<text x="46.0" y="73.0" font-size="7.3" text-anchor="end" fill="#333" transform="rotate(396.4 46.0 73.0)">75</text>
<text x="58.8" y="58.1" font-size="7.3" text-anchor="end" fill="#333" transform="rotate(407.1 58.8 58.1)">100</text>
<path d="M42.6,126.4 L42.3,125.9 L42.2,125.4 L42.2,124.9 L42.6,124.4 L42.5,123.9 L42.5,123.4 L42.5,122.9 L42.6,122.5 L42.9,122.0 L42.9,121.5 L42.9,121.0 L43.0,120.5 L42.9,120.0 L42.8,119.5 L43.2,119.1 L43.6,118.6 L43.3,118.1 L44.0,117.7 L43.4,117.1 L43.4,116.6 L43.0,116.0 L43.6,115.6 L43.5,115.1 L43.7,114.6 L44.3,114.3 L44.3,113.8 L44.8,113.4 L44.7,112.8 L44.6,112.3 L44.6,111.8 L45.1,111.4 L44.8,110.9 L44.8,110.3 L44.2,109.7 L44.9,109.4 L45.0,108.9 L45.0,108.3 L46.1,108.2 L45.7,107.5 L45.9,107.1 L46.7,106.8 L45.6,106.0 L46.1,105.6 L46.5,105.2 L46.6,104.7 L46.5,104.2 L46.7,103.7 L47.0,103.3 L47.7,103.0 L46.9,102.2 L48.1,102.1 L47.9,101.5 L47.4,100.8 L47.7,100.4 L47.3,99.7 L48.2,99.5 L49.1,99.3 L48.5,98.6 L49.1,98.3 L49.4,97.9 L49.4,97.3 L49.7,96.9 L50.3,96.7 L50.7,96.3 L49.7,95.3 L50.3,95.0 L50.7,94.7 L50.6,94.1 L50.5,93.5 L51.5,93.5 L51.0,92.6 L51.3,92.2 L51.5,91.8 L52.1,91.5 L52.4,91.1 L52.7,90.7 L52.2,89.9 L52.8,89.6 L54.1,89.8 L53.6,89.0 L52.2,87.6 L54.4,88.3 L54.6,87.8 L55.0,87.5 L54.8,86.8 L55.8,86.8 L54.1,85.2 L55.6,85.5 L55.9,85.1 L55.9,84.6 L56.3,84.2 L56.2,83.6 L57.1,83.6 L57.4,83.2 L57.6,82.7 L57.7,82.2 L57.9,81.8 L58.4,81.5 L58.0,80.6 L58.6,80.4 L59.5,80.5 L59.7,80.0 L59.0,78.9 L59.5,78.6 L61.1,79.2 L61.2,78.7 L61.2,78.0 L61.4,77.5 L61.4,76.9 L62.4,77.1 L62.9,76.9 L62.3,75.7 L62.2,75.0 L63.1,75.1 L63.9,75.1 L64.0,74.6 L62.6,72.8 L64.7,73.9 L65.2,73.7 L65.2,73.0 L65.6,72.7 L66.3,72.7 L65.6,71.4 L66.9,71.9 L66.5,70.9 L67.4,71.0 L68.1,71.0 L67.5,69.7 L68.8,70.3 L68.7,69.5 L68.9,69.0 L69.0,68.4 L69.5,68.2 L70.2,68.2 L70.2,67.5 L70.8,67.4 L71.5,67.4 L71.7,66.9 L70.3,64.6 L72.4,66.3 L72.1,65.1 L72.7,65.1 L73.2,64.9 L73.2,64.1 L74.7,65.1 L75.0,64.8 L74.0,62.7 L75.8,64.1 L75.5,63.0 L76.2,63.1 L76.6,62.8 L76.9,62.3 L77.3,62.0 L78.0,62.2 L78.0,61.4 L78.0,60.5 L78.5,60.4 L79.1,60.4 L80.1,60.9 L80.1,60.0 L79.8,58.8 L80.2,58.5 L80.6,58.1 L81.7,58.8 L82.5,59.2 L82.4,58.1 L82.7,57.7 L83.8,58.4 L83.1,56.4 L84.5,57.8 L83.8,55.8 L85.1,56.9 L85.2,56.0 L86.0,57.3 L85.6,57.6 L85.2,57.9 L84.8,58.1 L84.3,58.4 L83.9,58.6 L83.5,58.9 L83.1,59.2 L82.7,59.4 L82.7,60.4 L81.9,60.0 L81.5,60.3 L81.1,60.5 L81.0,61.2 L80.3,61.1 L79.9,61.4 L79.5,61.7 L79.1,62.0 L78.7,62.3 L78.3,62.5 L77.9,62.9 L77.5,63.1 L77.1,63.5 L76.7,63.8 L77.1,65.0 L76.0,64.4 L75.6,64.7 L75.2,65.0 L74.8,65.3 L74.5,65.6 L74.1,65.9 L73.7,66.2 L73.4,66.6 L73.0,66.9 L72.6,67.2 L72.3,67.5 L71.9,67.9 L71.5,68.2 L71.2,68.5 L70.8,68.9 L70.5,69.2 L70.1,69.5 L69.8,69.9 L69.4,70.2 L69.1,70.6 L68.7,70.9 L68.4,71.3 L68.0,71.6 L67.7,72.0 L67.4,72.3 L67.0,72.7 L66.7,73.0 L66.4,73.4 L66.0,73.7 L65.7,74.1 L65.9,74.9 L65.0,74.8 L64.7,75.2 L65.1,76.1 L64.1,75.9 L63.8,76.3 L63.5,76.7 L63.1,77.1 L62.8,77.5 L62.5,77.8 L62.2,78.2 L61.9,78.6 L61.6,79.0 L61.3,79.4 L61.0,79.8 L60.7,80.1 L60.4,80.5 L60.1,80.9 L59.9,81.3 L59.6,81.7 L59.4,82.2 L60.2,83.3 L58.7,82.9 L58.5,83.3 L58.2,83.7 L57.9,84.1 L57.6,84.5 L57.4,84.9 L57.1,85.3 L56.9,85.8 L56.6,86.2 L56.3,86.6 L56.1,87.0 L55.8,87.4 L56.6,88.4 L55.3,88.2 L55.1,88.7 L54.8,89.1 L54.6,89.5 L54.3,89.9 L54.1,90.4 L53.9,90.8 L53.6,91.2 L53.4,91.6 L53.2,92.1 L53.0,92.5 L52.7,92.9 L52.5,93.4 L52.3,93.8 L52.1,94.2 L51.9,94.7 L51.6,95.1 L51.4,95.6 L51.2,96.0 L51.0,96.5 L50.8,96.9 L50.6,97.3 L50.4,97.8 L50.2,98.2 L50.0,98.7 L50.2,99.3 L49.7,99.6 L49.5,100.0 L49.3,100.5 L49.2,101.0 L48.9,101.4 L49.2,102.0 L48.6,102.3 L48.4,102.8 L48.2,103.2 L49.3,104.1 L47.9,104.1 L47.8,104.6 L48.4,105.3 L47.7,105.6 L47.3,106.0 L47.2,106.4 L47.0,106.9 L46.9,107.4 L46.7,107.8 L46.6,108.3 L46.5,108.8 L46.3,109.2 L46.2,109.7 L46.1,110.2 L45.9,110.6 L45.8,111.1 L45.7,111.6 L45.6,112.0 L45.5,112.5 L45.3,113.0 L45.2,113.5 L45.1,114.0 L45.0,114.4 L45.8,115.1 L44.8,115.4 L44.7,115.8 L44.6,116.3 L44.5,116.8 L44.5,117.3 L44.4,117.8 L44.3,118.2 L44.2,118.7 L44.1,119.2 L44.0,119.7 L44.0,120.2 L43.9,120.7 L43.8,121.1 L43.8,121.6 L43.7,122.1 L43.6,122.6 L43.6,123.1 L44.6,123.7 L44.9,124.2 L43.4,124.5 L43.4,125.0 L43.3,125.5 L43.3,126.0 L44.0,126.5Z" fill="#86c3ea"/>
<path d="M42.6,126.4 L42.3,125.9 L42.2,125.4 L42.2,124.9 L42.6,124.4 L42.5,123.9 L42.5,123.4 L42.5,122.9 L42.6,122.5 L42.9,122.0 L42.9,121.5 L42.9,121.0 L43.0,120.5 L42.9,120.0 L42.8,119.5 L43.2,119.1 L43.6,118.6 L43.3,118.1 L44.0,117.7 L43.4,117.1 L43.4,116.6 L43.0,116.0 L43.6,115.6 L43.5,115.1 L43.7,114.6 L44.3,114.3 L44.3,113.8 L44.8,113.4 L44.7,112.8 L44.6,112.3 L44.6,111.8 L45.1,111.4 L44.8,110.9 L44.8,110.3 L44.2,109.7 L44.9,109.4 L45.0,108.9 L45.0,108.3 L46.1,108.2 L45.7,107.5 L45.9,107.1 L46.7,106.8 L45.6,106.0 L46.1,105.6 L46.5,105.2 L46.6,104.7 L46.5,104.2 L46.7,103.7 L47.0,103.3 L47.7,103.0 L46.9,102.2 L48.1,102.1 L47.9,101.5 L47.4,100.8 L47.7,100.4 L47.3,99.7 L48.2,99.5 L49.1,99.3 L48.5,98.6 L49.1,98.3 L49.4,97.9 L49.4,97.3 L49.7,96.9 L50.3,96.7 L50.7,96.3 L49.7,95.3 L50.3,95.0 L50.7,94.7 L50.6,94.1 L50.5,93.5 L51.5,93.5 L51.0,92.6 L51.3,92.2 L51.5,91.8 L52.1,91.5 L52.4,91.1 L52.7,90.7 L52.2,89.9 L52.8,89.6 L54.1,89.8 L53.6,89.0 L52.2,87.6 L54.4,88.3 L54.6,87.8 L55.0,87.5 L54.8,86.8 L55.8,86.8 L54.1,85.2 L55.6,85.5 L55.9,85.1 L55.9,84.6 L56.3,84.2 L56.2,83.6 L57.1,83.6 L57.4,83.2 L57.6,82.7 L57.7,82.2 L57.9,81.8 L58.4,81.5 L58.0,80.6 L58.6,80.4 L59.5,80.5 L59.7,80.0 L59.0,78.9 L59.5,78.6 L61.1,79.2 L61.2,78.7 L61.2,78.0 L61.4,77.5 L61.4,76.9 L62.4,77.1 L62.9,76.9 L62.3,75.7 L62.2,75.0 L63.1,75.1 L63.9,75.1 L64.0,74.6 L62.6,72.8 L64.7,73.9 L65.2,73.7 L65.2,73.0 L65.6,72.7 L66.3,72.7 L65.6,71.4 L66.9,71.9 L66.5,70.9 L67.4,71.0 L68.1,71.0 L67.5,69.7 L68.8,70.3 L68.7,69.5 L68.9,69.0 L69.0,68.4 L69.5,68.2 L70.2,68.2 L70.2,67.5 L70.8,67.4 L71.5,67.4 L71.7,66.9 L70.3,64.6 L72.4,66.3 L72.1,65.1 L72.7,65.1 L73.2,64.9 L73.2,64.1 L74.7,65.1 L75.0,64.8 L74.0,62.7 L75.8,64.1 L75.5,63.0 L76.2,63.1 L76.6,62.8 L76.9,62.3 L77.3,62.0 L78.0,62.2 L78.0,61.4 L78.0,60.5 L78.5,60.4 L79.1,60.4 L80.1,60.9 L80.1,60.0 L79.8,58.8 L80.2,58.5 L80.6,58.1 L81.7,58.8 L82.5,59.2 L82.4,58.1 L82.7,57.7 L83.8,58.4 L83.1,56.4 L84.5,57.8 L83.8,55.8 L85.1,56.9 L85.2,56.0" stroke="#15202b" stroke-width="0.7" fill="none"/>
<path d="M38.5,125.6 L43.4,126.0" stroke="#1c3550" stroke-width="0.6"/>
<text x="185.7" y="30.4" font-size="7.6" text-anchor="middle" fill="#231f20" transform="rotate(28.0 185.7 30.4)">Vero Chr 24</text>
<text x="238.1" y="89.7" font-size="7.6" text-anchor="middle" fill="#231f20" transform="rotate(64.0 238.1 89.7)">Vero Chr 29</text>
<text x="167.6" y="248.7" font-size="7.6" text-anchor="middle" fill="#231f20" transform="rotate(-10.7 167.6 248.7)">Human Chr 14</text>
<text x="27.2" y="181.3" font-size="7.6" text-anchor="middle" fill="#231f20" transform="rotate(-106.0 27.2 181.3)">CH12F3 Chr 12</text>
<text x="32.4" y="75.9" font-size="7.6" text-anchor="middle" fill="#231f20" transform="rotate(-56.6 32.4 75.9)">CH12F3 Chr 14</text>
<text x="179.6" y="79.6" font-size="7.6" text-anchor="middle" fill="#231f20" transform="rotate(46.0 179.6 79.6)">Vero</text>
<text x="62.6" y="132.5" font-size="7.0" text-anchor="middle" fill="#231f20" transform="rotate(-90.0 62.6 132.5)">Mouse</text>
<path d="M92.5,182.8 A64.2,63.6 0 0 1 98.4,79.3 L102.1,85.2 A57.2,56.6 0 0 0 96.9,177.3 Z" fill="#fdebe2"/>
<path d="M92.3,182.6 A64.2,63.6 0 0 1 91.9,182.3 L96.4,176.9 A57.2,56.6 0 0 0 96.7,177.2 Z M87.9,178.8 A64.2,63.6 0 0 1 87.3,178.2 L92.3,173.3 A57.2,56.6 0 0 0 92.9,173.8 Z M82.4,172.8 A64.2,63.6 0 0 1 81.9,172.2 L87.5,167.9 A57.2,56.6 0 0 0 87.9,168.4 Z M73.8,158.7 A64.2,63.6 0 0 1 73.6,158.3 L80.1,155.5 A57.2,56.6 0 0 0 80.3,155.9 Z M71.0,151.1 A64.2,63.6 0 0 1 70.8,150.3 L77.5,148.4 A57.2,56.6 0 0 0 77.8,149.1 Z M68.9,141.2 A64.2,63.6 0 0 1 68.8,140.6 L75.8,139.8 A57.2,56.6 0 0 0 75.9,140.3 Z M70.3,117.6 A64.2,63.6 0 0 1 70.5,116.7 L77.4,118.5 A57.2,56.6 0 0 0 77.2,119.3 Z M71.4,113.7 A64.2,63.6 0 0 1 71.6,113.2 L78.3,115.4 A57.2,56.6 0 0 0 78.2,115.9 Z M72.9,109.6 A64.2,63.6 0 0 1 73.3,108.7 L79.8,111.4 A57.2,56.6 0 0 0 79.5,112.2 Z M74.2,106.7 A64.2,63.6 0 0 1 74.6,105.7 L81.0,108.7 A57.2,56.6 0 0 0 80.6,109.6 Z M75.2,104.5 A64.2,63.6 0 0 1 75.7,103.6 L81.9,106.9 A57.2,56.6 0 0 0 81.5,107.7 Z M85.3,90.1 A64.2,63.6 0 0 1 86.0,89.3 L91.1,94.2 A57.2,56.6 0 0 0 90.5,94.8 Z M88.6,86.8 A64.2,63.6 0 0 1 89.1,86.3 L93.9,91.4 A57.2,56.6 0 0 0 93.5,91.9 Z M89.7,85.8 A64.2,63.6 0 0 1 90.1,85.4 L94.8,90.7 A57.2,56.6 0 0 0 94.4,91.0 Z M91.8,84.0 A64.2,63.6 0 0 1 92.3,83.6 L96.7,89.0 A57.2,56.6 0 0 0 96.2,89.4 Z M95.6,81.1 A64.2,63.6 0 0 1 96.4,80.5 L100.4,86.3 A57.2,56.6 0 0 0 99.7,86.8 Z" fill="#f7ab8a"/>
<path d="M90.9,181.5 A64.2,63.6 0 0 1 90.1,180.8 L94.8,175.6 A57.2,56.6 0 0 0 95.5,176.1 Z M77.8,166.3 A64.2,63.6 0 0 1 77.5,165.7 L83.5,162.1 A57.2,56.6 0 0 0 83.9,162.7 Z M73.3,157.6 A64.2,63.6 0 0 1 73.0,156.7 L79.5,154.1 A57.2,56.6 0 0 0 79.8,154.9 Z M72.8,156.2 A64.2,63.6 0 0 1 72.5,155.6 L79.1,153.1 A57.2,56.6 0 0 0 79.3,153.7 Z M71.8,153.7 A64.2,63.6 0 0 1 71.7,153.2 L78.4,151.0 A57.2,56.6 0 0 0 78.5,151.5 Z M71.4,152.4 A64.2,63.6 0 0 1 71.2,151.9 L78.0,149.9 A57.2,56.6 0 0 0 78.1,150.2 Z M70.4,149.0 A64.2,63.6 0 0 1 70.2,148.4 L77.1,146.7 A57.2,56.6 0 0 0 77.3,147.3 Z M69.6,145.7 A64.2,63.6 0 0 1 69.5,145.1 L76.5,143.8 A57.2,56.6 0 0 0 76.6,144.3 Z M69.2,143.1 A64.2,63.6 0 0 1 69.1,142.5 L76.1,141.4 A57.2,56.6 0 0 0 76.2,142.0 Z M68.8,140.1 A64.2,63.6 0 0 1 68.7,139.2 L75.7,138.5 A57.2,56.6 0 0 0 75.8,139.3 Z M68.6,138.3 A64.2,63.6 0 0 1 68.5,137.6 L75.6,137.1 A57.2,56.6 0 0 0 75.6,137.7 Z M68.4,136.2 A64.2,63.6 0 0 1 68.4,135.1 L75.5,134.8 A57.2,56.6 0 0 0 75.5,135.9 Z M71.9,112.2 A64.2,63.6 0 0 1 72.3,111.2 L78.9,113.6 A57.2,56.6 0 0 0 78.6,114.5 Z M72.5,110.6 A64.2,63.6 0 0 1 72.7,110.0 L79.3,112.6 A57.2,56.6 0 0 0 79.1,113.1 Z M73.7,107.8 A64.2,63.6 0 0 1 73.9,107.3 L80.4,110.1 A57.2,56.6 0 0 0 80.2,110.6 Z M81.3,94.8 A64.2,63.6 0 0 1 82.0,94.0 L87.5,98.3 A57.2,56.6 0 0 0 86.9,99.0 Z M82.9,92.8 A64.2,63.6 0 0 1 83.6,92.0 L89.0,96.5 A57.2,56.6 0 0 0 88.4,97.2 Z M84.0,91.5 A64.2,63.6 0 0 1 84.4,91.1 L89.7,95.7 A57.2,56.6 0 0 0 89.4,96.0 Z M84.6,90.8 A64.2,63.6 0 0 1 84.9,90.5 L90.1,95.2 A57.2,56.6 0 0 0 89.9,95.5 Z M96.7,80.4 A64.2,63.6 0 0 1 97.6,79.8 L101.5,85.6 A57.2,56.6 0 0 0 100.6,86.2 Z" fill="#fde0d2"/>
<path d="M89.2,179.9 A64.2,63.6 0 0 1 88.3,179.2 L93.2,174.1 A57.2,56.6 0 0 0 93.9,174.8 Z M81.1,171.1 A64.2,63.6 0 0 1 80.8,170.7 L86.5,166.5 A57.2,56.6 0 0 0 86.8,166.9 Z M79.0,168.2 A64.2,63.6 0 0 1 78.4,167.2 L84.4,163.5 A57.2,56.6 0 0 0 84.9,164.3 Z M77.1,165.1 A64.2,63.6 0 0 1 76.8,164.5 L82.9,161.1 A57.2,56.6 0 0 0 83.2,161.6 Z M70.7,116.2 A64.2,63.6 0 0 1 70.9,115.3 L77.7,117.3 A57.2,56.6 0 0 0 77.5,118.0 Z M70.9,115.3 A64.2,63.6 0 0 1 71.2,114.4 L78.0,116.5 A57.2,56.6 0 0 0 77.7,117.3 Z M76.0,103.0 A64.2,63.6 0 0 1 76.5,102.1 L82.7,105.5 A57.2,56.6 0 0 0 82.2,106.3 Z M82.0,94.0 A64.2,63.6 0 0 1 82.4,93.5 L87.9,97.8 A57.2,56.6 0 0 0 87.5,98.3 Z" fill="#e78366"/>
<path d="M86.9,177.8 A64.2,63.6 0 0 1 86.2,177.1 L91.3,172.3 A57.2,56.6 0 0 0 92.0,172.9 Z M84.5,175.2 A64.2,63.6 0 0 1 83.8,174.4 L89.2,169.9 A57.2,56.6 0 0 0 89.8,170.6 Z M77.3,100.8 A64.2,63.6 0 0 1 77.6,100.3 L83.6,103.9 A57.2,56.6 0 0 0 83.4,104.3 Z M78.7,98.6 A64.2,63.6 0 0 1 79.3,97.6 L85.2,101.5 A57.2,56.6 0 0 0 84.6,102.4 Z" fill="#b8402e"/>
<path d="M85.3,176.1 A64.2,63.6 0 0 1 84.7,175.4 L89.9,170.8 A57.2,56.6 0 0 0 90.5,171.4 Z M75.3,161.9 A64.2,63.6 0 0 1 75.0,161.2 L81.3,158.2 A57.2,56.6 0 0 0 81.7,158.8 Z M68.5,129.0 A64.2,63.6 0 0 1 68.6,128.0 L75.6,128.6 A57.2,56.6 0 0 0 75.5,129.4 Z M76.6,101.9 A64.2,63.6 0 0 1 77.2,101.0 L83.3,104.5 A57.2,56.6 0 0 0 82.8,105.3 Z M77.7,100.1 A64.2,63.6 0 0 1 78.0,99.7 L84.0,103.3 A57.2,56.6 0 0 0 83.7,103.7 Z" fill="#e07556"/>
<path d="M83.1,173.7 A64.2,63.6 0 0 1 82.5,172.9 L88.0,168.5 A57.2,56.6 0 0 0 88.6,169.2 Z M80.4,170.2 A64.2,63.6 0 0 1 79.8,169.4 L85.7,165.4 A57.2,56.6 0 0 0 86.2,166.1 Z M72.2,154.9 A64.2,63.6 0 0 1 72.1,154.5 L78.8,152.1 A57.2,56.6 0 0 0 78.9,152.5 Z M69.9,147.0 A64.2,63.6 0 0 1 69.7,146.2 L76.7,144.7 A57.2,56.6 0 0 0 76.8,145.5 Z M69.3,144.2 A64.2,63.6 0 0 1 69.2,143.1 L76.2,142.0 A57.2,56.6 0 0 0 76.3,143.0 Z M86.2,89.1 A64.2,63.6 0 0 1 86.9,88.4 L92.0,93.3 A57.2,56.6 0 0 0 91.3,93.9 Z M87.6,87.7 A64.2,63.6 0 0 1 88.1,87.2 L93.0,92.3 A57.2,56.6 0 0 0 92.5,92.7 Z M94.5,81.9 A64.2,63.6 0 0 1 94.9,81.6 L99.1,87.3 A57.2,56.6 0 0 0 98.7,87.5 Z" fill="#fcc9b1"/>
<path d="M76.6,164.2 A64.2,63.6 0 0 1 76.3,163.7 L82.5,160.3 A57.2,56.6 0 0 0 82.8,160.8 Z M75.6,162.4 A64.2,63.6 0 0 1 75.4,162.0 L81.7,158.8 A57.2,56.6 0 0 0 81.9,159.2 Z M74.3,159.9 A64.2,63.6 0 0 1 74.1,159.3 L80.5,156.4 A57.2,56.6 0 0 0 80.8,156.9 Z M68.4,134.2 A64.2,63.6 0 0 1 68.4,133.3 L75.4,133.3 A57.2,56.6 0 0 0 75.4,134.1 Z M79.4,97.5 A64.2,63.6 0 0 1 80.0,96.6 L85.8,100.6 A57.2,56.6 0 0 0 85.2,101.4 Z" fill="#f4a582"/>
<path d="M74.7,160.6 A64.2,63.6 0 0 1 74.5,160.2 L80.9,157.2 A57.2,56.6 0 0 0 81.0,157.6 Z M69.1,123.7 A64.2,63.6 0 0 1 69.1,123.2 L76.1,124.3 A57.2,56.6 0 0 0 76.1,124.8 Z M69.4,121.5 A64.2,63.6 0 0 1 69.6,120.5 L76.6,121.9 A57.2,56.6 0 0 0 76.4,122.8 Z M69.7,120.1 A64.2,63.6 0 0 1 70.0,119.0 L76.9,120.5 A57.2,56.6 0 0 0 76.7,121.5 Z" fill="#7f2a1e"/>
<path d="M68.4,132.8 A64.2,63.6 0 0 1 68.4,132.2 L75.4,132.3 A57.2,56.6 0 0 0 75.4,132.8 Z M68.4,131.2 A64.2,63.6 0 0 1 68.4,130.4 L75.5,130.7 A57.2,56.6 0 0 0 75.5,131.4 Z M68.6,127.7 A64.2,63.6 0 0 1 68.7,127.0 L75.7,127.6 A57.2,56.6 0 0 0 75.6,128.3 Z M68.7,126.9 A64.2,63.6 0 0 1 68.7,126.2 L75.8,127.0 A57.2,56.6 0 0 0 75.7,127.6 Z M68.8,125.6 A64.2,63.6 0 0 1 68.9,125.1 L75.9,126.0 A57.2,56.6 0 0 0 75.8,126.4 Z M69.2,123.0 A64.2,63.6 0 0 1 69.3,122.5 L76.2,123.6 A57.2,56.6 0 0 0 76.2,124.1 Z M80.4,96.1 A64.2,63.6 0 0 1 81.0,95.2 L86.7,99.4 A57.2,56.6 0 0 0 86.1,100.1 Z" fill="#fcc5ab"/>
<path d="M90.2,85.3 A64.2,63.6 0 0 1 90.8,84.8 L95.4,90.2 A57.2,56.6 0 0 0 94.9,90.5 Z M93.1,82.9 A64.2,63.6 0 0 1 93.8,82.5 L98.0,88.0 A57.2,56.6 0 0 0 97.5,88.5 Z" fill="#c4513b"/>
<path d="M116.4,71.5 A64.2,63.6 0 0 1 117.3,71.3 L118.9,77.8 A57.6,57.0 0 0 0 118.1,77.9 Z" fill="#8c8c8c"/>
<path d="M117.8,71.2 A64.2,63.6 0 0 1 118.6,71.0 L120.1,77.5 A57.6,57.0 0 0 0 119.3,77.6 Z" fill="#bdbdbd"/>
<path d="M125.7,69.9 A64.2,63.6 0 0 1 126.5,69.8 L127.2,76.3 A57.6,57.0 0 0 0 126.4,76.4 Z" fill="#d0d0d0"/>
<path d="M127.1,69.7 A64.2,63.6 0 0 1 128.0,69.7 L128.4,76.2 A57.6,57.0 0 0 0 127.6,76.3 Z" fill="#d0d0d0"/>
<path d="M128.4,69.6 A64.2,63.6 0 0 1 129.3,69.6 L129.7,76.2 A57.6,57.0 0 0 0 128.9,76.2 Z" fill="#525252"/>
<path d="M139.9,69.9 A64.2,63.6 0 0 1 140.8,70.0 L139.9,76.6 A57.6,57.0 0 0 0 139.1,76.5 Z" fill="#bdbdbd"/>
<path d="M141.3,70.1 A64.2,63.6 0 0 1 142.2,70.2 L141.2,76.7 A57.6,57.0 0 0 0 140.4,76.6 Z" fill="#d0d0d0"/>
<path d="M142.7,70.3 A64.2,63.6 0 0 1 143.5,70.4 L142.4,76.9 A57.6,57.0 0 0 0 141.6,76.8 Z" fill="#8c8c8c"/>
<path d="M144.0,70.5 A64.2,63.6 0 0 1 144.9,70.7 L143.6,77.2 A57.6,57.0 0 0 0 142.8,77.0 Z" fill="#bdbdbd"/>
<path d="M145.4,70.8 A64.2,63.6 0 0 1 146.3,71.0 L144.9,77.4 A57.6,57.0 0 0 0 144.1,77.2 Z" fill="#8c8c8c"/>
<path d="M146.8,71.1 A64.2,63.6 0 0 1 147.7,71.3 L146.1,77.7 A57.6,57.0 0 0 0 145.3,77.5 Z" fill="#e6e6e6"/>
<path d="M148.1,71.4 A64.2,63.6 0 0 1 149.0,71.6 L147.3,78.0 A57.6,57.0 0 0 0 146.5,77.8 Z" fill="#8c8c8c"/>
<path d="M151.4,72.3 A64.2,63.6 0 0 1 152.2,72.5 L150.2,78.8 A57.6,57.0 0 0 0 149.4,78.6 Z" fill="#8c8c8c"/>
<path d="M152.7,72.7 A64.2,63.6 0 0 1 153.6,73.0 L151.4,79.2 A57.6,57.0 0 0 0 150.6,79.0 Z" fill="#e6e6e6"/>
<path d="M154.0,73.2 A64.2,63.6 0 0 1 154.9,73.5 L152.6,79.6 A57.6,57.0 0 0 0 151.8,79.4 Z" fill="#8c8c8c"/>
<path d="M155.4,73.6 A64.2,63.6 0 0 1 156.2,74.0 L153.8,80.1 A57.6,57.0 0 0 0 153.0,79.8 Z" fill="#8c8c8c"/>
<path d="M156.7,74.1 A64.2,63.6 0 0 1 157.5,74.5 L154.9,80.5 A57.6,57.0 0 0 0 154.2,80.2 Z" fill="#8c8c8c"/>
<path d="M158.0,74.7 A64.2,63.6 0 0 1 158.8,75.0 L156.1,81.0 A57.6,57.0 0 0 0 155.3,80.7 Z" fill="#bdbdbd"/>
<path d="M159.2,75.2 A64.2,63.6 0 0 1 160.1,75.6 L157.2,81.6 A57.6,57.0 0 0 0 156.5,81.2 Z" fill="#525252"/>
<path d="M160.5,75.8 A64.2,63.6 0 0 1 161.3,76.2 L158.3,82.1 A57.6,57.0 0 0 0 157.6,81.8 Z" fill="#e6e6e6"/>
<path d="M172.6,83.3 A64.2,63.6 0 0 1 173.3,83.9 L169.1,89.0 A57.6,57.0 0 0 0 168.4,88.5 Z" fill="#d0d0d0"/>
<path d="M173.7,84.2 A64.2,63.6 0 0 1 174.4,84.8 L170.0,89.8 A57.6,57.0 0 0 0 169.4,89.3 Z" fill="#bdbdbd"/>
<path d="M174.7,85.1 A64.2,63.6 0 0 1 175.4,85.7 L171.0,90.6 A57.6,57.0 0 0 0 170.4,90.1 Z" fill="#d0d0d0"/>
<path d="M175.8,86.0 A64.2,63.6 0 0 1 176.4,86.6 L171.9,91.5 A57.6,57.0 0 0 0 171.3,90.9 Z" fill="#f0f0f0"/>
<path d="M176.8,87.0 A64.2,63.6 0 0 1 177.5,87.6 L172.8,92.3 A57.6,57.0 0 0 0 172.2,91.8 Z" fill="#f0f0f0"/>
<path d="M177.8,87.9 A64.2,63.6 0 0 1 178.5,88.6 L173.7,93.2 A57.6,57.0 0 0 0 173.1,92.6 Z" fill="#f0f0f0"/>
<path d="M178.8,88.9 A64.2,63.6 0 0 1 179.4,89.6 L174.6,94.1 A57.6,57.0 0 0 0 174.0,93.5 Z" fill="#525252"/>
<path d="M179.8,89.9 A64.2,63.6 0 0 1 180.4,90.6 L175.4,95.0 A57.6,57.0 0 0 0 174.9,94.4 Z" fill="#8c8c8c"/>
<path d="M180.7,91.0 A64.2,63.6 0 0 1 181.3,91.6 L176.2,95.9 A57.6,57.0 0 0 0 175.7,95.3 Z" fill="#8c8c8c"/>
<path d="M181.6,92.0 A64.2,63.6 0 0 1 182.2,92.7 L177.1,96.9 A57.6,57.0 0 0 0 176.5,96.3 Z" fill="#8c8c8c"/>
<path d="M182.5,93.1 A64.2,63.6 0 0 1 183.1,93.8 L177.8,97.8 A57.6,57.0 0 0 0 177.3,97.2 Z" fill="#525252"/>
<path d="M183.4,94.2 A64.2,63.6 0 0 1 183.9,94.9 L178.6,98.8 A57.6,57.0 0 0 0 178.1,98.2 Z" fill="#f0f0f0"/>
<path d="M184.2,95.3 A64.2,63.6 0 0 1 184.8,96.0 L179.3,99.8 A57.6,57.0 0 0 0 178.9,99.2 Z" fill="#bdbdbd"/>
<path d="M189.8,104.2 A64.2,63.6 0 0 1 190.2,105.0 L184.3,107.9 A57.6,57.0 0 0 0 183.9,107.2 Z" fill="#525252"/>
<path d="M190.5,105.5 A64.2,63.6 0 0 1 190.8,106.3 L184.8,109.1 A57.6,57.0 0 0 0 184.4,108.3 Z" fill="#e6e6e6"/>
<path d="M191.7,108.2 A64.2,63.6 0 0 1 192.1,109.1 L185.9,111.6 A57.6,57.0 0 0 0 185.6,110.8 Z" fill="#e6e6e6"/>
<path d="M192.3,109.5 A64.2,63.6 0 0 1 192.6,110.4 L186.4,112.7 A57.6,57.0 0 0 0 186.1,112.0 Z" fill="#d0d0d0"/>
<path d="M194.0,114.3 A64.2,63.6 0 0 1 194.2,115.1 L187.8,117.0 A57.6,57.0 0 0 0 187.6,116.2 Z" fill="#8c8c8c"/>
<path d="M194.4,115.6 A64.2,63.6 0 0 1 194.6,116.5 L188.2,118.2 A57.6,57.0 0 0 0 187.9,117.4 Z" fill="#525252"/>
<path d="M194.7,117.0 A64.2,63.6 0 0 1 194.9,117.8 L188.5,119.4 A57.6,57.0 0 0 0 188.3,118.6 Z" fill="#bdbdbd"/>
<path d="M195.6,137.3 A63.1,62.5 0 0 1 109.1,191.1 L111.3,185.5 A57.1,56.5 0 0 0 189.5,136.9 Z" fill="#fde3d8"/>
<path d="M191.0,156.9 A63.1,62.5 0 0 1 190.6,157.7 L185.1,155.3 A57.1,56.5 0 0 0 185.4,154.6 Z M190.2,158.6 A63.1,62.5 0 0 1 189.9,159.4 L184.4,156.8 A57.1,56.5 0 0 0 184.7,156.2 Z M183.3,170.3 A63.1,62.5 0 0 1 183.0,170.8 L178.1,167.2 A57.1,56.5 0 0 0 178.4,166.7 Z M157.2,190.7 A63.1,62.5 0 0 1 156.5,191.0 L154.2,185.4 A57.1,56.5 0 0 0 154.8,185.1 Z M152.8,192.3 A63.1,62.5 0 0 1 152.4,192.5 L150.5,186.8 A57.1,56.5 0 0 0 150.9,186.6 Z M152.6,192.4 A63.1,62.5 0 0 1 151.7,192.7 L149.8,187.0 A57.1,56.5 0 0 0 150.7,186.7 Z M152.2,192.5 A63.1,62.5 0 0 1 151.1,192.9 L149.3,187.1 A57.1,56.5 0 0 0 150.3,186.8 Z M147.4,193.8 A63.1,62.5 0 0 1 146.8,194.0 L145.5,188.2 A57.1,56.5 0 0 0 146.0,188.0 Z M120.2,194.4 A63.1,62.5 0 0 1 119.7,194.3 L120.9,188.4 A57.1,56.5 0 0 0 121.4,188.5 Z" fill="#8e1f1a"/>
<path d="M190.6,157.8 A63.1,62.5 0 0 1 190.3,158.5 L184.7,156.1 A57.1,56.5 0 0 0 185.0,155.4 Z M190.0,159.0 A63.1,62.5 0 0 1 189.6,159.9 L184.1,157.4 A57.1,56.5 0 0 0 184.5,156.5 Z M182.5,171.4 A63.1,62.5 0 0 1 182.0,172.0 L177.2,168.3 A57.1,56.5 0 0 0 177.7,167.8 Z M168.8,184.3 A63.1,62.5 0 0 1 168.0,184.9 L164.6,179.9 A57.1,56.5 0 0 0 165.3,179.4 Z M154.3,191.8 A63.1,62.5 0 0 1 153.4,192.1 L151.4,186.4 A57.1,56.5 0 0 0 152.2,186.2 Z M147.2,193.9 A63.1,62.5 0 0 1 146.6,194.1 L145.2,188.2 A57.1,56.5 0 0 0 145.8,188.1 Z M121.7,194.7 A63.1,62.5 0 0 1 121.2,194.6 L122.3,188.7 A57.1,56.5 0 0 0 122.8,188.8 Z M117.6,193.8 A63.1,62.5 0 0 1 116.7,193.6 L118.2,187.8 A57.1,56.5 0 0 0 119.0,188.0 Z M113.0,192.5 A63.1,62.5 0 0 1 112.5,192.3 L114.4,186.7 A57.1,56.5 0 0 0 114.9,186.8 Z" fill="#d9553e"/>
<path d="M191.0,156.9 A63.1,62.5 0 0 1 190.6,157.7 L185.1,155.4 A57.1,56.5 0 0 0 185.4,154.6 Z M190.2,158.7 A63.1,62.5 0 0 1 189.8,159.6 L184.3,157.1 A57.1,56.5 0 0 0 184.7,156.3 Z M186.9,164.9 A63.1,62.5 0 0 1 186.7,165.3 L181.5,162.2 A57.1,56.5 0 0 0 181.7,161.8 Z M181.8,172.3 A63.1,62.5 0 0 1 181.5,172.7 L176.8,168.9 A57.1,56.5 0 0 0 177.1,168.5 Z M178.8,175.7 A63.1,62.5 0 0 1 178.0,176.6 L173.6,172.4 A57.1,56.5 0 0 0 174.3,171.6 Z M177.5,177.0 A63.1,62.5 0 0 1 177.0,177.6 L172.7,173.3 A57.1,56.5 0 0 0 173.2,172.8 Z M170.6,183.0 A63.1,62.5 0 0 1 169.9,183.5 L166.3,178.7 A57.1,56.5 0 0 0 167.0,178.2 Z M169.2,184.0 A63.1,62.5 0 0 1 168.8,184.3 L165.3,179.4 A57.1,56.5 0 0 0 165.7,179.1 Z M169.1,184.1 A63.1,62.5 0 0 1 168.2,184.7 L164.8,179.8 A57.1,56.5 0 0 0 165.6,179.2 Z M168.9,184.2 A63.1,62.5 0 0 1 168.4,184.6 L165.0,179.6 A57.1,56.5 0 0 0 165.5,179.3 Z M162.8,187.9 A63.1,62.5 0 0 1 161.9,188.5 L159.1,183.2 A57.1,56.5 0 0 0 159.9,182.7 Z M158.7,190.0 A63.1,62.5 0 0 1 157.5,190.5 L155.1,185.0 A57.1,56.5 0 0 0 156.1,184.6 Z M158.1,190.3 A63.1,62.5 0 0 1 157.6,190.5 L155.2,185.0 A57.1,56.5 0 0 0 155.7,184.8 Z M151.3,192.8 A63.1,62.5 0 0 1 150.3,193.1 L148.6,187.3 A57.1,56.5 0 0 0 149.5,187.1 Z M146.9,194.0 A63.1,62.5 0 0 1 145.9,194.2 L144.6,188.3 A57.1,56.5 0 0 0 145.6,188.1 Z M131.2,195.6 A63.1,62.5 0 0 1 130.1,195.6 L130.3,189.6 A57.1,56.5 0 0 0 131.3,189.6 Z M128.0,195.4 A63.1,62.5 0 0 1 127.1,195.4 L127.6,189.4 A57.1,56.5 0 0 0 128.4,189.4 Z M126.2,195.3 A63.1,62.5 0 0 1 125.1,195.2 L125.8,189.2 A57.1,56.5 0 0 0 126.8,189.3 Z M116.1,193.4 A63.1,62.5 0 0 1 115.0,193.1 L116.7,187.4 A57.1,56.5 0 0 0 117.7,187.6 Z M113.2,192.6 A63.1,62.5 0 0 1 112.3,192.3 L114.2,186.6 A57.1,56.5 0 0 0 115.0,186.9 Z" fill="#fcc5ae"/>
<path d="M190.4,158.1 A63.1,62.5 0 0 1 190.0,159.2 L184.5,156.7 A57.1,56.5 0 0 0 184.9,155.7 Z M187.6,163.8 A63.1,62.5 0 0 1 187.1,164.7 L181.8,161.6 A57.1,56.5 0 0 0 182.3,160.8 Z M182.1,171.9 A63.1,62.5 0 0 1 181.7,172.4 L176.9,168.7 A57.1,56.5 0 0 0 177.3,168.2 Z M178.8,175.7 A63.1,62.5 0 0 1 177.8,176.7 L173.5,172.5 A57.1,56.5 0 0 0 174.3,171.7 Z M163.7,187.5 A63.1,62.5 0 0 1 163.2,187.8 L160.2,182.5 A57.1,56.5 0 0 0 160.7,182.3 Z M158.6,190.0 A63.1,62.5 0 0 1 158.1,190.3 L155.7,184.8 A57.1,56.5 0 0 0 156.1,184.6 Z M150.4,193.1 A63.1,62.5 0 0 1 149.6,193.3 L148.0,187.5 A57.1,56.5 0 0 0 148.7,187.3 Z M146.0,194.2 A63.1,62.5 0 0 1 145.6,194.3 L144.3,188.4 A57.1,56.5 0 0 0 144.7,188.3 Z M139.8,195.2 A63.1,62.5 0 0 1 139.2,195.3 L138.5,189.3 A57.1,56.5 0 0 0 139.1,189.2 Z M130.4,195.6 A63.1,62.5 0 0 1 129.7,195.5 L130.0,189.5 A57.1,56.5 0 0 0 130.6,189.6 Z M129.9,195.5 A63.1,62.5 0 0 1 128.7,195.5 L129.0,189.5 A57.1,56.5 0 0 0 130.2,189.6 Z M122.4,194.8 A63.1,62.5 0 0 1 121.6,194.7 L122.7,188.7 A57.1,56.5 0 0 0 123.4,188.9 Z M122.4,194.8 A63.1,62.5 0 0 1 121.8,194.7 L122.9,188.8 A57.1,56.5 0 0 0 123.4,188.9 Z M119.5,194.2 A63.1,62.5 0 0 1 119.0,194.1 L120.3,188.3 A57.1,56.5 0 0 0 120.8,188.4 Z M117.4,193.8 A63.1,62.5 0 0 1 116.4,193.5 L117.9,187.7 A57.1,56.5 0 0 0 118.9,187.9 Z M116.3,193.5 A63.1,62.5 0 0 1 115.7,193.3 L117.3,187.5 A57.1,56.5 0 0 0 117.9,187.7 Z" fill="#f59a7e"/>
<text x="194.0" y="149.5" font-size="7" text-anchor="middle" fill="#231f20" transform="rotate(-68.0 194.0 149.5)">K562</text>
<path d="M201.6,137.8 A69.2,68.5 0 0 1 106.8,196.7 L109.1,191.1 A63.1,62.5 0 0 0 195.6,137.3 Z" fill="#e9f5e5"/>
<path d="M196.6,159.2 A69.2,68.5 0 0 1 196.2,160.0 L190.6,157.7 A63.1,62.5 0 0 0 191.0,156.9 Z M195.8,161.1 A69.2,68.5 0 0 1 195.4,161.9 L189.9,159.4 A63.1,62.5 0 0 0 190.2,158.6 Z M158.1,196.8 A69.2,68.5 0 0 1 157.1,197.2 L154.9,191.6 A63.1,62.5 0 0 0 155.9,191.2 Z M152.1,198.8 A69.2,68.5 0 0 1 151.4,199.0 L149.8,193.2 A63.1,62.5 0 0 0 150.4,193.1 Z M129.6,201.5 A69.2,68.5 0 0 1 128.7,201.5 L129.0,195.5 A63.1,62.5 0 0 0 129.9,195.5 Z M116.5,199.7 A69.2,68.5 0 0 1 115.3,199.4 L116.8,193.6 A63.1,62.5 0 0 0 117.9,193.9 Z M111.1,198.2 A69.2,68.5 0 0 1 110.2,197.9 L112.2,192.2 A63.1,62.5 0 0 0 113.0,192.5 Z" fill="#0b5a2a"/>
<path d="M196.2,160.1 A69.2,68.5 0 0 1 195.8,161.0 L190.3,158.5 A63.1,62.5 0 0 0 190.6,157.8 Z M195.7,161.2 A69.2,68.5 0 0 1 195.3,162.1 L189.8,159.5 A63.1,62.5 0 0 0 190.2,158.7 Z M192.1,168.0 A69.2,68.5 0 0 1 191.6,168.8 L186.4,165.7 A63.1,62.5 0 0 0 186.9,164.9 Z M186.5,176.0 A69.2,68.5 0 0 1 186.1,176.6 L181.4,172.8 A63.1,62.5 0 0 0 181.8,172.3 Z M183.2,179.8 A69.2,68.5 0 0 1 182.3,180.8 L177.9,176.6 A63.1,62.5 0 0 0 178.8,175.7 Z M175.3,187.0 A69.2,68.5 0 0 1 174.2,187.8 L170.6,183.0 A63.1,62.5 0 0 0 171.5,182.3 Z M169.8,190.8 A69.2,68.5 0 0 1 169.3,191.2 L166.1,186.1 A63.1,62.5 0 0 0 166.6,185.8 Z M166.8,192.6 A69.2,68.5 0 0 1 165.8,193.2 L162.8,188.0 A63.1,62.5 0 0 0 163.8,187.4 Z M161.2,195.5 A69.2,68.5 0 0 1 159.9,196.1 L157.5,190.5 A63.1,62.5 0 0 0 158.7,190.0 Z M160.8,195.6 A69.2,68.5 0 0 1 159.9,196.1 L157.5,190.5 A63.1,62.5 0 0 0 158.4,190.2 Z M159.5,196.2 A69.2,68.5 0 0 1 159.0,196.4 L156.7,190.9 A63.1,62.5 0 0 0 157.2,190.7 Z M159.0,196.4 A69.2,68.5 0 0 1 157.6,197.0 L155.4,191.4 A63.1,62.5 0 0 0 156.7,190.9 Z M154.5,198.1 A69.2,68.5 0 0 1 153.7,198.3 L151.8,192.6 A63.1,62.5 0 0 0 152.6,192.4 Z M153.1,198.5 A69.2,68.5 0 0 1 151.9,198.9 L150.2,193.1 A63.1,62.5 0 0 0 151.3,192.8 Z M139.1,201.3 A69.2,68.5 0 0 1 137.8,201.4 L137.4,195.4 A63.1,62.5 0 0 0 138.5,195.3 Z M131.0,201.6 A69.2,68.5 0 0 1 130.0,201.6 L130.2,195.6 A63.1,62.5 0 0 0 131.2,195.6 Z M116.8,199.8 A69.2,68.5 0 0 1 115.6,199.5 L117.1,193.7 A63.1,62.5 0 0 0 118.2,193.9 Z M114.8,199.3 A69.2,68.5 0 0 1 113.5,198.9 L115.2,193.2 A63.1,62.5 0 0 0 116.3,193.5 Z M114.5,199.2 A69.2,68.5 0 0 1 114.0,199.1 L115.6,193.3 A63.1,62.5 0 0 0 116.1,193.4 Z" fill="#2f9a4e"/>
<path d="M196.0,160.5 A69.2,68.5 0 0 1 195.5,161.6 L190.0,159.1 A63.1,62.5 0 0 0 190.4,158.1 Z M187.2,175.1 A69.2,68.5 0 0 1 186.4,176.2 L181.7,172.4 A63.1,62.5 0 0 0 182.5,171.4 Z M186.8,175.6 A69.2,68.5 0 0 1 186.5,176.1 L181.8,172.3 A63.1,62.5 0 0 0 182.1,171.9 Z M172.3,189.2 A69.2,68.5 0 0 1 171.4,189.8 L168.0,184.8 A63.1,62.5 0 0 0 168.8,184.3 Z M166.7,192.7 A69.2,68.5 0 0 1 165.8,193.2 L162.9,187.9 A63.1,62.5 0 0 0 163.7,187.5 Z M165.8,193.2 A69.2,68.5 0 0 1 165.3,193.5 L162.4,188.2 A63.1,62.5 0 0 0 162.8,187.9 Z M163.5,194.4 A69.2,68.5 0 0 1 162.9,194.7 L160.3,189.3 A63.1,62.5 0 0 0 160.8,189.0 Z M161.1,195.5 A69.2,68.5 0 0 1 160.1,195.9 L157.7,190.4 A63.1,62.5 0 0 0 158.6,190.0 Z M147.3,200.0 A69.2,68.5 0 0 1 146.7,200.2 L145.5,194.3 A63.1,62.5 0 0 0 146.0,194.2 Z M140.5,201.2 A69.2,68.5 0 0 1 139.1,201.3 L138.6,195.3 A63.1,62.5 0 0 0 139.8,195.2 Z M127.6,201.4 A69.2,68.5 0 0 1 126.5,201.3 L127.0,195.3 A63.1,62.5 0 0 0 128.0,195.4 Z M126.7,201.3 A69.2,68.5 0 0 1 125.7,201.3 L126.3,195.3 A63.1,62.5 0 0 0 127.2,195.4 Z M125.6,201.2 A69.2,68.5 0 0 1 125.0,201.2 L125.7,195.2 A63.1,62.5 0 0 0 126.2,195.3 Z M121.4,200.7 A69.2,68.5 0 0 1 120.5,200.5 L121.5,194.6 A63.1,62.5 0 0 0 122.4,194.8 Z M120.7,200.6 A69.2,68.5 0 0 1 120.1,200.5 L121.2,194.6 A63.1,62.5 0 0 0 121.7,194.7 Z M116.1,199.6 A69.2,68.5 0 0 1 114.8,199.3 L116.4,193.5 A63.1,62.5 0 0 0 117.6,193.8 Z M111.9,198.4 A69.2,68.5 0 0 1 111.1,198.2 L113.0,192.5 A63.1,62.5 0 0 0 113.7,192.7 Z M110.8,198.1 A69.2,68.5 0 0 1 109.9,197.8 L111.9,192.2 A63.1,62.5 0 0 0 112.7,192.4 Z" fill="#cfeac7"/>
<path d="M188.2,173.9 A69.2,68.5 0 0 1 187.5,174.8 L182.7,171.1 A63.1,62.5 0 0 0 183.3,170.3 Z M183.2,179.8 A69.2,68.5 0 0 1 182.8,180.2 L178.4,176.1 A63.1,62.5 0 0 0 178.8,175.7 Z M181.8,181.2 A69.2,68.5 0 0 1 181.1,181.9 L176.9,177.6 A63.1,62.5 0 0 0 177.5,177.0 Z M172.8,188.8 A69.2,68.5 0 0 1 171.8,189.5 L168.4,184.6 A63.1,62.5 0 0 0 169.3,183.9 Z M172.7,188.9 A69.2,68.5 0 0 1 172.1,189.3 L168.6,184.4 A63.1,62.5 0 0 0 169.2,184.0 Z M172.4,189.1 A69.2,68.5 0 0 1 171.8,189.5 L168.4,184.6 A63.1,62.5 0 0 0 168.9,184.2 Z M148.7,199.7 A69.2,68.5 0 0 1 147.3,200.0 L146.0,194.2 A63.1,62.5 0 0 0 147.2,193.9 Z M142.1,200.9 A69.2,68.5 0 0 1 141.5,201.0 L140.7,195.1 A63.1,62.5 0 0 0 141.3,195.0 Z M130.2,201.6 A69.2,68.5 0 0 1 129.6,201.5 L129.8,195.5 A63.1,62.5 0 0 0 130.4,195.6 Z M118.3,200.1 A69.2,68.5 0 0 1 117.1,199.8 L118.4,194.0 A63.1,62.5 0 0 0 119.5,194.2 Z M116.0,199.6 A69.2,68.5 0 0 1 114.8,199.3 L116.3,193.5 A63.1,62.5 0 0 0 117.4,193.8 Z" fill="#8ccc85"/>
<text x="199.9" y="151.0" font-size="7" text-anchor="middle" fill="#231f20" transform="rotate(-68.0 199.9 151.0)">U2OS</text>
<path d="M207.7,138.2 A75.2,74.5 0 0 1 104.5,202.2 L106.8,196.7 A69.2,68.5 0 0 0 201.6,137.8 Z" fill="#e9f1fa"/>
<path d="M202.2,161.5 A75.2,74.5 0 0 1 201.8,162.4 L196.2,160.0 A69.2,68.5 0 0 0 196.6,159.2 Z M201.3,163.5 A75.2,74.5 0 0 1 200.9,164.4 L195.4,161.9 A69.2,68.5 0 0 0 195.8,161.1 Z M192.0,178.8 A75.2,74.5 0 0 1 191.5,179.4 L186.8,175.7 A69.2,68.5 0 0 0 187.2,175.1 Z M169.8,197.8 A75.2,74.5 0 0 1 168.6,198.5 L165.7,193.2 A69.2,68.5 0 0 0 166.8,192.6 Z M166.2,199.7 A75.2,74.5 0 0 1 165.3,200.2 L162.7,194.8 A69.2,68.5 0 0 0 163.5,194.4 Z M153.8,204.6 A75.2,74.5 0 0 1 152.6,204.9 L150.9,199.2 A69.2,68.5 0 0 0 152.1,198.8 Z" fill="#1d5aa0"/>
<path d="M201.7,162.5 A75.2,74.5 0 0 1 201.3,163.4 L195.8,161.0 A69.2,68.5 0 0 0 196.2,160.1 Z M202.2,161.5 A75.2,74.5 0 0 1 201.7,162.7 L196.1,160.3 A69.2,68.5 0 0 0 196.6,159.2 Z M197.4,171.0 A75.2,74.5 0 0 1 196.8,171.9 L191.7,168.8 A69.2,68.5 0 0 0 192.2,167.9 Z M191.6,179.3 A75.2,74.5 0 0 1 190.8,180.4 L186.1,176.6 A69.2,68.5 0 0 0 186.8,175.6 Z M177.9,192.6 A75.2,74.5 0 0 1 177.0,193.2 L173.4,188.4 A69.2,68.5 0 0 0 174.3,187.8 Z M175.7,194.1 A75.2,74.5 0 0 1 175.2,194.5 L171.8,189.6 A69.2,68.5 0 0 0 172.3,189.2 Z M163.7,201.0 A75.2,74.5 0 0 1 162.5,201.5 L160.1,196.0 A69.2,68.5 0 0 0 161.2,195.5 Z M163.3,201.1 A75.2,74.5 0 0 1 162.5,201.5 L160.1,196.0 A69.2,68.5 0 0 0 160.8,195.6 Z M161.9,201.7 A75.2,74.5 0 0 1 160.6,202.2 L158.3,196.7 A69.2,68.5 0 0 0 159.5,196.2 Z M161.3,202.0 A75.2,74.5 0 0 1 159.9,202.5 L157.7,196.9 A69.2,68.5 0 0 0 159.0,196.4 Z M157.1,203.6 A75.2,74.5 0 0 1 156.2,203.8 L154.3,198.1 A69.2,68.5 0 0 0 155.1,197.9 Z M155.9,203.9 A75.2,74.5 0 0 1 154.8,204.3 L153.0,198.6 A69.2,68.5 0 0 0 154.1,198.2 Z M150.3,205.5 A75.2,74.5 0 0 1 149.5,205.7 L148.1,199.8 A69.2,68.5 0 0 0 148.9,199.7 Z M149.7,205.7 A75.2,74.5 0 0 1 148.3,206.0 L147.0,200.1 A69.2,68.5 0 0 0 148.3,199.8 Z M126.2,207.3 A75.2,74.5 0 0 1 125.0,207.2 L125.6,201.2 A69.2,68.5 0 0 0 126.7,201.3 Z M112.9,205.0 A75.2,74.5 0 0 1 112.0,204.8 L113.7,199.0 A69.2,68.5 0 0 0 114.5,199.2 Z M110.0,204.2 A75.2,74.5 0 0 1 109.2,203.9 L111.1,198.2 A69.2,68.5 0 0 0 111.9,198.4 Z M109.5,204.0 A75.2,74.5 0 0 1 108.7,203.8 L110.7,198.1 A69.2,68.5 0 0 0 111.3,198.3 Z" fill="#4a8fc9"/>
<path d="M198.2,169.7 A75.2,74.5 0 0 1 197.5,170.8 L192.3,167.8 A69.2,68.5 0 0 0 192.9,166.7 Z M197.3,171.1 A75.2,74.5 0 0 1 196.6,172.2 L191.5,169.1 A69.2,68.5 0 0 0 192.1,168.0 Z M193.1,177.5 A75.2,74.5 0 0 1 192.1,178.7 L187.3,175.0 A69.2,68.5 0 0 0 188.2,173.9 Z M191.2,179.8 A75.2,74.5 0 0 1 190.4,180.8 L185.8,176.9 A69.2,68.5 0 0 0 186.5,176.0 Z M187.6,183.9 A75.2,74.5 0 0 1 187.2,184.3 L182.8,180.2 A69.2,68.5 0 0 0 183.2,179.8 Z M187.6,183.9 A75.2,74.5 0 0 1 187.2,184.3 L182.8,180.2 A69.2,68.5 0 0 0 183.2,179.8 Z M173.1,195.9 A75.2,74.5 0 0 1 172.5,196.3 L169.3,191.2 A69.2,68.5 0 0 0 169.8,190.8 Z M163.6,201.0 A75.2,74.5 0 0 1 163.1,201.2 L160.7,195.7 A69.2,68.5 0 0 0 161.1,195.5 Z M155.7,204.0 A75.2,74.5 0 0 1 154.7,204.3 L152.9,198.6 A69.2,68.5 0 0 0 153.8,198.3 Z M150.1,205.6 A75.2,74.5 0 0 1 148.5,205.9 L147.3,200.1 A69.2,68.5 0 0 0 148.7,199.7 Z M148.6,205.9 A75.2,74.5 0 0 1 147.5,206.1 L146.3,200.2 A69.2,68.5 0 0 0 147.3,200.0 Z M141.2,207.1 A75.2,74.5 0 0 1 140.1,207.2 L139.5,201.3 A69.2,68.5 0 0 0 140.5,201.2 Z M139.7,207.3 A75.2,74.5 0 0 1 138.5,207.4 L138.0,201.4 A69.2,68.5 0 0 0 139.1,201.3 Z M127.1,207.4 A75.2,74.5 0 0 1 126.0,207.3 L126.5,201.3 A69.2,68.5 0 0 0 127.6,201.4 Z M113.2,205.1 A75.2,74.5 0 0 1 112.5,204.9 L114.1,199.1 A69.2,68.5 0 0 0 114.8,199.3 Z M108.9,203.8 A75.2,74.5 0 0 1 107.5,203.3 L109.6,197.7 A69.2,68.5 0 0 0 110.8,198.1 Z" fill="#d0e1f2"/>
<path d="M186.1,185.5 A75.2,74.5 0 0 1 185.1,186.5 L180.8,182.2 A69.2,68.5 0 0 0 181.8,181.2 Z M179.0,191.7 A75.2,74.5 0 0 1 178.3,192.3 L174.6,187.5 A69.2,68.5 0 0 0 175.3,187.0 Z M176.3,193.7 A75.2,74.5 0 0 1 175.3,194.4 L171.9,189.5 A69.2,68.5 0 0 0 172.8,188.8 Z M163.0,201.2 A75.2,74.5 0 0 1 162.1,201.6 L159.8,196.1 A69.2,68.5 0 0 0 160.5,195.8 Z M143.0,206.9 A75.2,74.5 0 0 1 142.3,207.0 L141.6,201.0 A69.2,68.5 0 0 0 142.1,200.9 Z M132.6,207.6 A75.2,74.5 0 0 1 131.3,207.6 L131.4,201.6 A69.2,68.5 0 0 0 132.6,201.6 Z M130.0,207.6 A75.2,74.5 0 0 1 128.7,207.5 L129.0,201.5 A69.2,68.5 0 0 0 130.2,201.6 Z M120.5,206.6 A75.2,74.5 0 0 1 119.1,206.4 L120.2,200.5 A69.2,68.5 0 0 0 121.5,200.7 Z M117.8,206.2 A75.2,74.5 0 0 1 116.4,205.8 L117.7,200.0 A69.2,68.5 0 0 0 119.0,200.3 Z M114.5,205.4 A75.2,74.5 0 0 1 113.7,205.2 L115.2,199.4 A69.2,68.5 0 0 0 116.0,199.6 Z M113.2,205.1 A75.2,74.5 0 0 1 112.5,204.9 L114.2,199.1 A69.2,68.5 0 0 0 114.8,199.3 Z M109.3,203.9 A75.2,74.5 0 0 1 108.0,203.5 L110.0,197.8 A69.2,68.5 0 0 0 111.1,198.2 Z" fill="#9cc5e3"/>
<text x="205.7" y="152.5" font-size="7" text-anchor="middle" fill="#231f20" transform="rotate(-68.0 205.7 152.5)">HeLa</text>
<path d="M213.7,138.6 A81.3,80.5 0 0 1 102.3,207.8 L104.5,202.2 A75.2,74.5 0 0 0 207.7,138.2 Z" fill="#f1f0f7"/>
<path d="M207.8,163.8 A81.3,80.5 0 0 1 207.4,164.8 L201.8,162.4 A75.2,74.5 0 0 0 202.2,161.5 Z M206.8,166.0 A81.3,80.5 0 0 1 206.4,166.9 L200.9,164.4 A75.2,74.5 0 0 0 201.3,163.5 Z M202.6,174.1 A81.3,80.5 0 0 1 202.2,174.7 L197.0,171.6 A75.2,74.5 0 0 0 197.3,171.1 Z M159.1,209.2 A81.3,80.5 0 0 1 158.1,209.5 L156.2,203.8 A75.2,74.5 0 0 0 157.1,203.6 Z M158.7,209.3 A81.3,80.5 0 0 1 157.2,209.8 L155.3,204.1 A75.2,74.5 0 0 0 156.7,203.7 Z M120.0,212.6 A81.3,80.5 0 0 1 118.6,212.4 L119.7,206.5 A75.2,74.5 0 0 0 121.0,206.7 Z M113.1,211.2 A81.3,80.5 0 0 1 111.7,210.9 L113.2,205.1 A75.2,74.5 0 0 0 114.5,205.4 Z" fill="#4e2f8f"/>
<path d="M207.3,164.9 A81.3,80.5 0 0 1 206.9,165.8 L201.3,163.4 A75.2,74.5 0 0 0 201.7,162.5 Z M165.8,206.6 A81.3,80.5 0 0 1 164.3,207.2 L161.9,201.7 A75.2,74.5 0 0 0 163.3,201.1 Z M165.4,206.7 A81.3,80.5 0 0 1 164.4,207.2 L162.0,201.7 A75.2,74.5 0 0 0 163.0,201.2 Z M164.2,207.2 A81.3,80.5 0 0 1 163.3,207.7 L161.0,202.1 A75.2,74.5 0 0 0 161.9,201.7 Z M163.6,207.5 A81.3,80.5 0 0 1 163.1,207.7 L160.8,202.2 A75.2,74.5 0 0 0 161.3,202.0 Z M130.8,213.6 A81.3,80.5 0 0 1 129.5,213.5 L129.7,207.6 A75.2,74.5 0 0 0 130.9,207.6 Z M129.8,213.6 A81.3,80.5 0 0 1 128.3,213.5 L128.6,207.5 A75.2,74.5 0 0 0 130.0,207.6 Z M119.5,212.6 A81.3,80.5 0 0 1 118.3,212.3 L119.3,206.4 A75.2,74.5 0 0 0 120.5,206.6 Z M111.3,210.8 A81.3,80.5 0 0 1 109.8,210.4 L111.5,204.6 A75.2,74.5 0 0 0 112.9,205.0 Z" fill="#7c6fb4"/>
<path d="M207.8,163.8 A81.3,80.5 0 0 1 207.2,165.1 L201.7,162.7 A75.2,74.5 0 0 0 202.2,161.5 Z M206.6,166.5 A81.3,80.5 0 0 1 206.2,167.4 L200.7,164.8 A75.2,74.5 0 0 0 201.1,164.0 Z M192.1,188.0 A81.3,80.5 0 0 1 191.0,189.1 L186.6,184.9 A75.2,74.5 0 0 0 187.6,183.9 Z M190.4,189.7 A81.3,80.5 0 0 1 189.8,190.3 L185.6,186.0 A75.2,74.5 0 0 0 186.1,185.5 Z M179.9,198.6 A81.3,80.5 0 0 1 179.0,199.2 L175.6,194.2 A75.2,74.5 0 0 0 176.3,193.7 Z M179.8,198.7 A81.3,80.5 0 0 1 178.8,199.3 L175.3,194.4 A75.2,74.5 0 0 0 176.2,193.8 Z M179.2,199.1 A81.3,80.5 0 0 1 177.9,199.9 L174.5,194.9 A75.2,74.5 0 0 0 175.7,194.1 Z M172.7,203.1 A81.3,80.5 0 0 1 171.8,203.6 L168.9,198.3 A75.2,74.5 0 0 0 169.7,197.9 Z M171.6,203.8 A81.3,80.5 0 0 1 170.5,204.3 L167.7,199.0 A75.2,74.5 0 0 0 168.7,198.5 Z M169.0,205.1 A81.3,80.5 0 0 1 168.3,205.4 L165.6,200.0 A75.2,74.5 0 0 0 166.2,199.7 Z M166.2,206.4 A81.3,80.5 0 0 1 164.9,207.0 L162.5,201.5 A75.2,74.5 0 0 0 163.7,201.0 Z M156.6,210.0 A81.3,80.5 0 0 1 155.7,210.3 L153.9,204.5 A75.2,74.5 0 0 0 154.8,204.3 Z M155.5,210.3 A81.3,80.5 0 0 1 154.8,210.5 L153.2,204.8 A75.2,74.5 0 0 0 153.8,204.6 Z M149.9,211.8 A81.3,80.5 0 0 1 148.2,212.1 L147.0,206.2 A75.2,74.5 0 0 0 148.6,205.9 Z M140.4,213.2 A81.3,80.5 0 0 1 139.7,213.3 L139.2,207.3 A75.2,74.5 0 0 0 139.8,207.3 Z M140.2,213.2 A81.3,80.5 0 0 1 139.4,213.3 L138.9,207.3 A75.2,74.5 0 0 0 139.7,207.3 Z M132.6,213.6 A81.3,80.5 0 0 1 131.8,213.6 L131.8,207.6 A75.2,74.5 0 0 0 132.6,207.6 Z M126.7,213.4 A81.3,80.5 0 0 1 125.3,213.3 L125.8,207.3 A75.2,74.5 0 0 0 127.1,207.4 Z M124.4,213.2 A81.3,80.5 0 0 1 123.1,213.1 L123.8,207.1 A75.2,74.5 0 0 0 125.0,207.2 Z M114.0,211.5 A81.3,80.5 0 0 1 113.5,211.3 L114.9,205.5 A75.2,74.5 0 0 0 115.4,205.6 Z M111.6,210.9 A81.3,80.5 0 0 1 110.2,210.5 L111.8,204.7 A75.2,74.5 0 0 0 113.2,205.1 Z M107.6,209.7 A81.3,80.5 0 0 1 106.0,209.2 L108.0,203.5 A75.2,74.5 0 0 0 109.5,204.0 Z M107.4,209.6 A81.3,80.5 0 0 1 106.7,209.4 L108.6,203.7 A75.2,74.5 0 0 0 109.3,203.9 Z" fill="#b4b1d6"/>
<path d="M206.8,166.1 A81.3,80.5 0 0 1 206.4,166.8 L200.9,164.3 A75.2,74.5 0 0 0 201.2,163.7 Z M203.4,172.6 A81.3,80.5 0 0 1 202.6,174.1 L197.4,171.0 A75.2,74.5 0 0 0 198.2,169.7 Z M202.6,174.1 A81.3,80.5 0 0 1 202.2,174.8 L197.0,171.7 A75.2,74.5 0 0 0 197.4,171.0 Z M197.9,181.0 A81.3,80.5 0 0 1 197.4,181.8 L192.5,178.1 A75.2,74.5 0 0 0 193.1,177.5 Z M196.3,183.1 A81.3,80.5 0 0 1 195.8,183.7 L191.1,180.0 A75.2,74.5 0 0 0 191.6,179.3 Z M195.9,183.6 A81.3,80.5 0 0 1 195.1,184.5 L190.5,180.7 A75.2,74.5 0 0 0 191.2,179.8 Z M179.4,198.9 A81.3,80.5 0 0 1 178.6,199.5 L175.2,194.5 A75.2,74.5 0 0 0 175.9,194.0 Z M176.3,200.9 A81.3,80.5 0 0 1 175.3,201.6 L172.1,196.5 A75.2,74.5 0 0 0 173.1,195.9 Z M172.8,203.1 A81.3,80.5 0 0 1 171.5,203.8 L168.6,198.5 A75.2,74.5 0 0 0 169.8,197.8 Z M162.6,207.9 A81.3,80.5 0 0 1 161.1,208.5 L159.0,202.9 A75.2,74.5 0 0 0 160.4,202.3 Z M157.8,209.6 A81.3,80.5 0 0 1 156.3,210.1 L154.5,204.4 A75.2,74.5 0 0 0 155.9,203.9 Z M151.5,211.4 A81.3,80.5 0 0 1 149.9,211.7 L148.7,205.9 A75.2,74.5 0 0 0 150.1,205.6 Z M143.8,212.8 A81.3,80.5 0 0 1 142.2,213.0 L141.5,207.1 A75.2,74.5 0 0 0 143.0,206.9 Z M129.1,213.5 A81.3,80.5 0 0 1 128.5,213.5 L128.8,207.5 A75.2,74.5 0 0 0 129.4,207.5 Z M125.7,213.3 A81.3,80.5 0 0 1 124.0,213.2 L124.7,207.2 A75.2,74.5 0 0 0 126.2,207.3 Z M111.7,210.9 A81.3,80.5 0 0 1 110.7,210.6 L112.3,204.8 A75.2,74.5 0 0 0 113.2,205.1 Z M107.0,209.5 A81.3,80.5 0 0 1 106.2,209.2 L108.2,203.6 A75.2,74.5 0 0 0 108.9,203.8 Z" fill="#dddcec"/>
<text x="211.6" y="154.1" font-size="7" text-anchor="middle" fill="#231f20" transform="rotate(-68.0 211.6 154.1)">HepG2</text>
<path d="M219.8,139.0 A87.4,86.5 0 0 1 100.0,213.4 L102.3,207.8 A81.3,80.5 0 0 0 213.7,138.6 Z" fill="#fee5d2"/>
<path d="M213.4,166.1 A87.4,86.5 0 0 1 212.9,167.1 L207.4,164.8 A81.3,80.5 0 0 0 207.8,163.8 Z M212.3,168.4 A87.4,86.5 0 0 1 211.9,169.4 L206.4,166.9 A81.3,80.5 0 0 0 206.8,166.0 Z M201.1,186.8 A87.4,86.5 0 0 1 200.2,187.9 L195.5,184.1 A81.3,80.5 0 0 0 196.3,183.1 Z M185.2,202.2 A87.4,86.5 0 0 1 184.5,202.7 L180.9,197.9 A81.3,80.5 0 0 0 181.6,197.4 Z M164.8,213.5 A87.4,86.5 0 0 1 163.3,214.1 L161.2,208.4 A81.3,80.5 0 0 0 162.6,207.9 Z M159.4,215.4 A87.4,86.5 0 0 1 158.3,215.8 L156.5,210.1 A81.3,80.5 0 0 0 157.5,209.7 Z M115.4,217.9 A87.4,86.5 0 0 1 114.0,217.6 L115.2,211.8 A81.3,80.5 0 0 0 116.6,212.0 Z" fill="#a83a0d"/>
<path d="M212.9,167.2 A87.4,86.5 0 0 1 212.4,168.3 L206.9,165.8 A81.3,80.5 0 0 0 207.3,164.9 Z M212.3,168.6 A87.4,86.5 0 0 1 211.6,170.0 L206.1,167.5 A81.3,80.5 0 0 0 206.8,166.1 Z M194.8,193.9 A87.4,86.5 0 0 1 194.1,194.5 L189.9,190.2 A81.3,80.5 0 0 0 190.4,189.7 Z M183.3,203.6 A87.4,86.5 0 0 1 182.4,204.2 L178.9,199.3 A81.3,80.5 0 0 0 179.8,198.7 Z M175.8,208.3 A87.4,86.5 0 0 1 175.1,208.7 L172.1,203.5 A81.3,80.5 0 0 0 172.8,203.1 Z M174.5,209.0 A87.4,86.5 0 0 1 173.7,209.4 L170.8,204.2 A81.3,80.5 0 0 0 171.6,203.8 Z M168.3,212.1 A87.4,86.5 0 0 1 166.9,212.6 L164.6,207.1 A81.3,80.5 0 0 0 165.8,206.6 Z M161.0,214.9 A87.4,86.5 0 0 1 159.8,215.3 L157.9,209.6 A81.3,80.5 0 0 0 159.1,209.2 Z M160.6,215.0 A87.4,86.5 0 0 1 159.3,215.5 L157.4,209.8 A81.3,80.5 0 0 0 158.7,209.3 Z M158.4,215.7 A87.4,86.5 0 0 1 157.8,215.9 L156.1,210.2 A81.3,80.5 0 0 0 156.6,210.0 Z M157.2,216.1 A87.4,86.5 0 0 1 155.8,216.5 L154.2,210.7 A81.3,80.5 0 0 0 155.5,210.3 Z M125.1,219.3 A87.4,86.5 0 0 1 124.5,219.2 L125.1,213.2 A81.3,80.5 0 0 0 125.7,213.3 Z M112.3,217.2 A87.4,86.5 0 0 1 111.5,217.0 L112.9,211.2 A81.3,80.5 0 0 0 113.7,211.4 Z M109.7,216.6 A87.4,86.5 0 0 1 109.1,216.4 L110.7,210.6 A81.3,80.5 0 0 0 111.3,210.8 Z M105.5,215.3 A87.4,86.5 0 0 1 104.5,215.0 L106.5,209.3 A81.3,80.5 0 0 0 107.4,209.6 Z" fill="#ec6a24"/>
<path d="M212.7,167.7 A87.4,86.5 0 0 1 212.4,168.3 L206.9,165.9 A81.3,80.5 0 0 0 207.1,165.3 Z M183.1,203.7 A87.4,86.5 0 0 1 182.5,204.1 L179.0,199.2 A81.3,80.5 0 0 0 179.6,198.8 Z M175.7,208.4 A87.4,86.5 0 0 1 174.8,208.8 L171.9,203.6 A81.3,80.5 0 0 0 172.7,203.1 Z M171.7,210.5 A87.4,86.5 0 0 1 171.1,210.7 L168.4,205.3 A81.3,80.5 0 0 0 169.0,205.1 Z M168.7,211.9 A87.4,86.5 0 0 1 167.7,212.3 L165.3,206.8 A81.3,80.5 0 0 0 166.2,206.4 Z M165.9,213.1 A87.4,86.5 0 0 1 164.6,213.6 L162.4,208.0 A81.3,80.5 0 0 0 163.6,207.5 Z M126.2,219.4 A87.4,86.5 0 0 1 124.6,219.2 L125.1,213.3 A81.3,80.5 0 0 0 126.7,213.4 Z M123.8,219.2 A87.4,86.5 0 0 1 122.8,219.1 L123.4,213.1 A81.3,80.5 0 0 0 124.4,213.2 Z M119.1,218.6 A87.4,86.5 0 0 1 118.0,218.4 L119.0,212.5 A81.3,80.5 0 0 0 120.0,212.6 Z M118.5,218.5 A87.4,86.5 0 0 1 116.9,218.2 L118.0,212.3 A81.3,80.5 0 0 0 119.5,212.6 Z M112.6,217.3 A87.4,86.5 0 0 1 111.0,216.9 L112.5,211.1 A81.3,80.5 0 0 0 114.0,211.5 Z M110.1,216.7 A87.4,86.5 0 0 1 108.7,216.3 L110.3,210.5 A81.3,80.5 0 0 0 111.7,210.9 Z M106.4,215.6 A87.4,86.5 0 0 1 105.0,215.2 L106.9,209.5 A81.3,80.5 0 0 0 108.2,209.9 Z" fill="#fdaa6f"/>
<path d="M201.6,186.2 A87.4,86.5 0 0 1 200.7,187.3 L196.0,183.5 A81.3,80.5 0 0 0 196.8,182.5 Z M196.5,192.1 A87.4,86.5 0 0 1 196.0,192.6 L191.6,188.5 A81.3,80.5 0 0 0 192.1,188.0 Z M196.5,192.1 A87.4,86.5 0 0 1 195.7,192.9 L191.3,188.8 A81.3,80.5 0 0 0 192.0,188.0 Z M186.5,201.2 A87.4,86.5 0 0 1 185.1,202.2 L181.4,197.4 A81.3,80.5 0 0 0 182.8,196.5 Z M182.7,204.0 A87.4,86.5 0 0 1 181.8,204.6 L178.3,199.6 A81.3,80.5 0 0 0 179.2,199.1 Z M179.6,206.0 A87.4,86.5 0 0 1 178.6,206.6 L175.4,201.5 A81.3,80.5 0 0 0 176.3,200.9 Z M167.9,212.2 A87.4,86.5 0 0 1 166.8,212.7 L164.4,207.2 A81.3,80.5 0 0 0 165.4,206.7 Z M162.6,214.3 A87.4,86.5 0 0 1 161.1,214.9 L159.1,209.2 A81.3,80.5 0 0 0 160.5,208.7 Z M153.1,217.2 A87.4,86.5 0 0 1 151.7,217.5 L150.3,211.7 A81.3,80.5 0 0 0 151.7,211.3 Z M152.4,217.3 A87.4,86.5 0 0 1 151.6,217.5 L150.2,211.7 A81.3,80.5 0 0 0 151.1,211.5 Z M144.6,218.8 A87.4,86.5 0 0 1 143.9,218.9 L143.2,212.9 A81.3,80.5 0 0 0 143.8,212.8 Z M129.6,219.6 A87.4,86.5 0 0 1 128.9,219.5 L129.2,213.5 A81.3,80.5 0 0 0 129.8,213.6 Z M128.9,219.5 A87.4,86.5 0 0 1 127.9,219.5 L128.2,213.5 A81.3,80.5 0 0 0 129.1,213.5 Z M117.5,218.3 A87.4,86.5 0 0 1 116.4,218.1 L117.5,212.2 A81.3,80.5 0 0 0 118.6,212.4 Z M111.6,217.1 A87.4,86.5 0 0 1 110.4,216.8 L112.0,211.0 A81.3,80.5 0 0 0 113.1,211.2 Z M105.1,215.2 A87.4,86.5 0 0 1 104.2,214.9 L106.1,209.2 A81.3,80.5 0 0 0 107.0,209.5 Z" fill="#fdd3b0"/>
<text x="217.4" y="155.6" font-size="7" text-anchor="middle" fill="#231f20" transform="rotate(-68.0 217.4 155.6)">Ramos</text>
</svg></body></html>
